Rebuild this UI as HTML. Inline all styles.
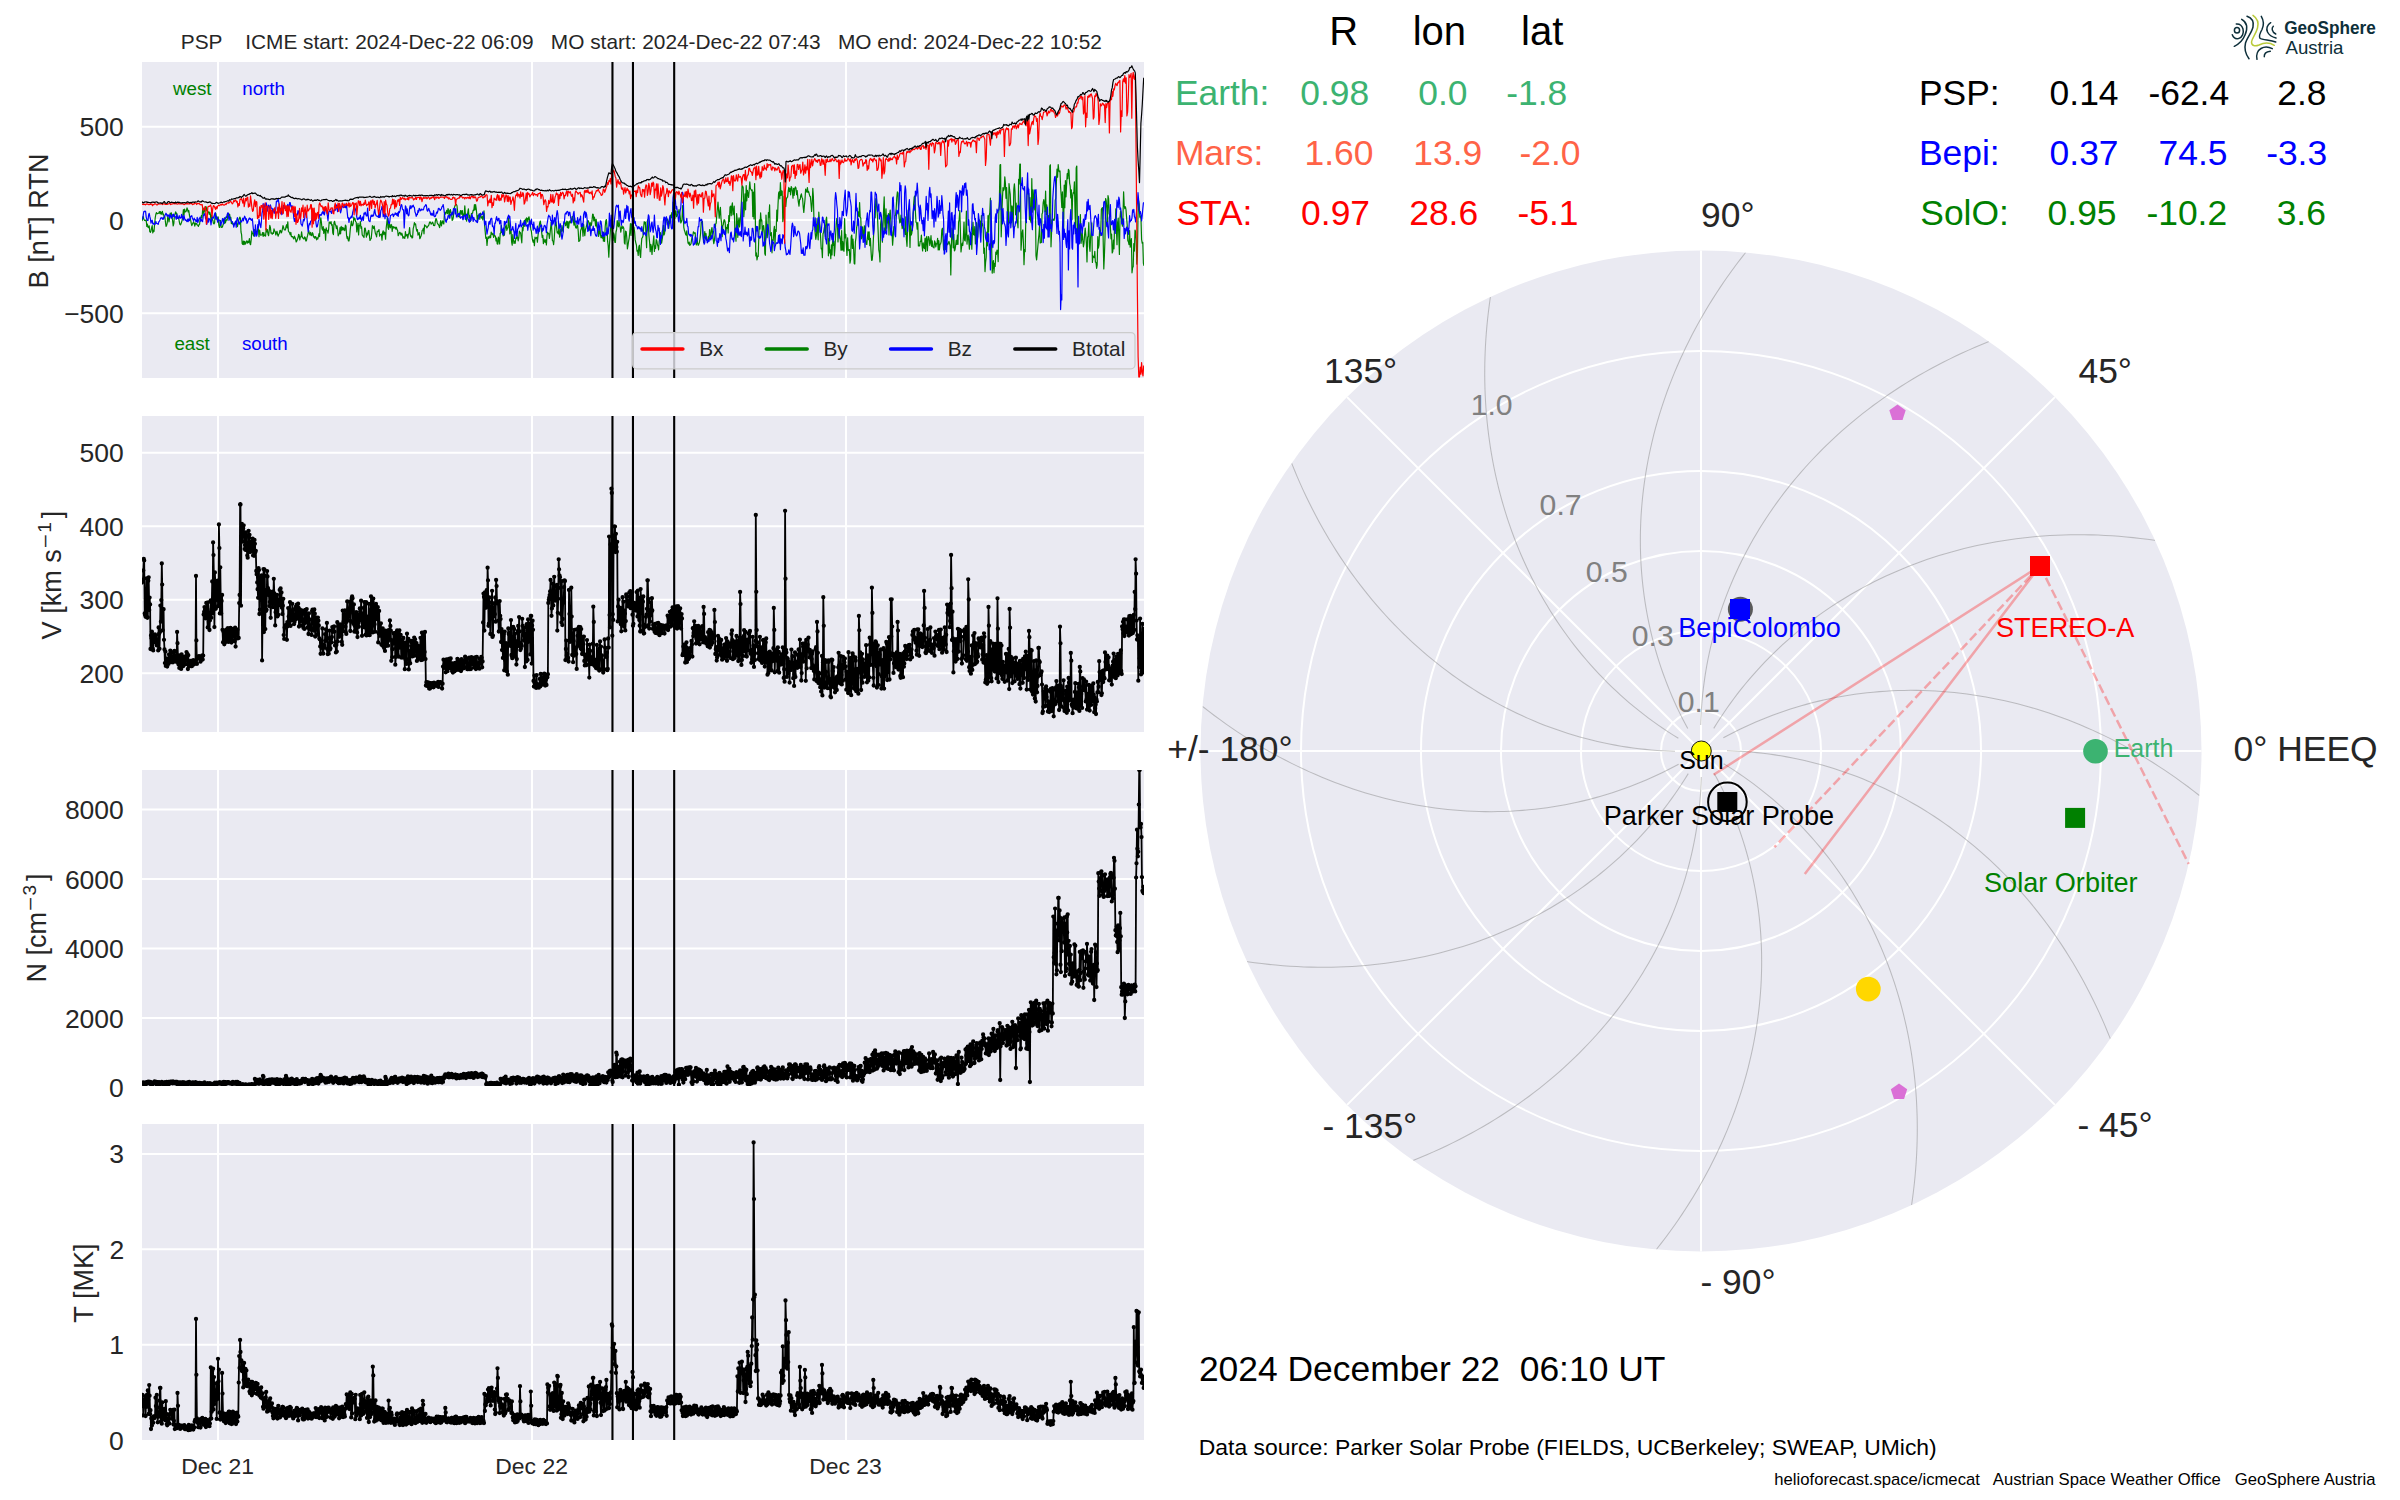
<!DOCTYPE html>
<html><head><meta charset="utf-8"><style>html,body{margin:0;padding:0;background:#fff;overflow:hidden}svg{display:block}text{white-space:pre}</style></head><body>
<svg width="2400" height="1500" viewBox="0 0 2400 1500" font-family='"Liberation Sans", sans-serif'>
<rect x="0" y="0" width="2400" height="1500" fill="#fff"/>
<defs>
<clipPath id="cp0"><rect x="142.0" y="62.0" width="1002.0" height="316.0"/></clipPath>
<clipPath id="cp1"><rect x="142.0" y="416.0" width="1002.0" height="316.0"/></clipPath>
<clipPath id="cp2"><rect x="142.0" y="770.0" width="1002.0" height="316.0"/></clipPath>
<clipPath id="cp3"><rect x="142.0" y="1124.0" width="1002.0" height="316.0"/></clipPath>
<clipPath id="cpolar"><circle cx="1701" cy="751" r="500.5"/></clipPath>
</defs>
<rect x="142.0" y="62.0" width="1002.0" height="316.0" fill="#EAEAF2"/>
<path d="M218.00 62.0V378.0M532.00 62.0V378.0M846.00 62.0V378.0M142.0 126.66H1144.0M142.0 220.00H1144.0M142.0 313.34H1144.0" stroke="#fff" stroke-width="2.00" fill="none"/>
<text x="79.62" y="136.16" font-size="26.50" fill="#262626">500</text>
<text x="109.10" y="229.50" font-size="26.50" fill="#262626">0</text>
<text x="64.15" y="322.84" font-size="26.50" fill="#262626">−500</text>
<rect x="142.0" y="416.0" width="1002.0" height="316.0" fill="#EAEAF2"/>
<path d="M218.00 416.0V732.0M532.00 416.0V732.0M846.00 416.0V732.0M142.0 452.75H1144.0M142.0 526.24H1144.0M142.0 599.73H1144.0M142.0 673.21H1144.0" stroke="#fff" stroke-width="2.00" fill="none"/>
<text x="79.62" y="462.25" font-size="26.50" fill="#262626">500</text>
<text x="79.62" y="535.74" font-size="26.50" fill="#262626">400</text>
<text x="79.62" y="609.23" font-size="26.50" fill="#262626">300</text>
<text x="79.62" y="682.71" font-size="26.50" fill="#262626">200</text>
<rect x="142.0" y="770.0" width="1002.0" height="316.0" fill="#EAEAF2"/>
<path d="M218.00 770.0V1086.0M532.00 770.0V1086.0M846.00 770.0V1086.0M142.0 809.50H1144.0M142.0 879.00H1144.0M142.0 948.50H1144.0M142.0 1018.00H1144.0" stroke="#fff" stroke-width="2.00" fill="none"/>
<text x="64.88" y="819.00" font-size="26.50" fill="#262626">8000</text>
<text x="64.88" y="888.50" font-size="26.50" fill="#262626">6000</text>
<text x="64.88" y="958.00" font-size="26.50" fill="#262626">4000</text>
<text x="64.88" y="1027.50" font-size="26.50" fill="#262626">2000</text>
<text x="109.10" y="1097.00" font-size="26.50" fill="#262626">0</text>
<rect x="142.0" y="1124.0" width="1002.0" height="316.0" fill="#EAEAF2"/>
<path d="M218.00 1124.0V1440.0M532.00 1124.0V1440.0M846.00 1124.0V1440.0M142.0 1153.89H1144.0M142.0 1249.36H1144.0M142.0 1344.83H1144.0" stroke="#fff" stroke-width="2.00" fill="none"/>
<text x="109.23" y="1163.39" font-size="26.50" fill="#262626">3</text>
<text x="109.39" y="1258.86" font-size="26.50" fill="#262626">2</text>
<text x="109.36" y="1354.33" font-size="26.50" fill="#262626">1</text>
<text x="109.10" y="1449.80" font-size="26.50" fill="#262626">0</text>
<text x="181.31" y="1474.30" font-size="22.92" fill="#262626">Dec 21</text>
<text x="495.33" y="1474.30" font-size="22.92" fill="#262626">Dec 22</text>
<text x="809.25" y="1474.30" font-size="22.92" fill="#262626">Dec 23</text>
<text x="180.79" y="48.75" font-size="20.83" fill="#262626">PSP    ICME start: 2024-Dec-22 06:09   MO start: 2024-Dec-22 07:43   MO end: 2024-Dec-22 10:52</text>
<g clip-path="url(#cp0)"><path d="M142.0 221.1L142.6 218.6L143.2 216.3L143.8 219.0L144.4 220.3L145.0 220.4L145.6 220.6L146.2 219.8L146.8 226.4L147.4 224.2L148.0 227.3L148.6 227.6L149.2 225.8L149.8 231.7L150.4 232.3L151.0 230.9L151.6 228.0L152.2 225.6L152.8 232.9L153.4 230.3L154.0 231.5L154.6 224.2L155.2 218.0L155.8 214.5L156.4 212.6L157.0 213.6L157.6 213.7L158.2 213.3L158.8 213.1L159.4 211.5L160.0 213.6L160.6 211.6L161.2 214.3L161.8 212.7L162.4 211.4L163.0 214.7L163.6 214.2L164.2 217.0L164.8 216.6L165.4 221.5L166.0 226.3L166.6 225.4L167.2 223.2L167.8 216.4L168.4 218.2L169.0 221.9L169.6 218.5L170.2 213.0L170.8 214.9L171.4 212.9L172.0 217.1L172.6 220.8L173.2 225.9L173.8 223.6L174.4 215.6L175.0 214.7L175.6 211.8L176.2 213.6L176.8 213.4L177.4 218.3L178.0 217.1L178.6 217.5L179.2 221.1L179.8 224.2L180.4 224.9L181.0 223.9L181.6 222.1L182.2 220.0L182.8 216.1L183.4 209.7L184.0 215.0L184.6 209.0L185.2 212.0L185.8 211.7L186.4 210.7L187.0 207.9L187.6 209.5L188.2 212.0L188.8 210.6L189.4 215.0L190.0 217.5L190.6 219.6L191.2 223.2L191.8 225.6L192.4 224.1L193.0 223.0L193.6 221.9L194.2 223.3L194.8 226.1L195.4 223.1L196.0 224.2L196.6 223.6L197.2 225.0L197.8 225.3L198.4 226.4L199.0 224.7L199.6 224.3L200.2 218.1L200.8 219.5L201.4 215.5L202.0 217.9L202.6 210.6L203.2 208.2L203.8 214.0L204.4 209.1L205.0 211.2L205.6 206.7L206.2 206.9L206.8 211.0L207.4 211.2L208.0 212.3L208.6 211.9L209.2 214.3L209.8 212.1L210.4 214.3L211.0 221.1L211.6 215.2L212.2 219.9L212.8 219.8L213.4 223.1L214.0 223.9L214.6 223.0L215.2 213.3L215.8 213.3L216.4 216.8L217.0 219.8L217.6 218.0L218.2 217.0L218.8 225.1L219.4 227.5L220.0 225.1L220.6 220.4L221.2 227.5L221.8 227.1L222.4 227.2L223.0 224.8L223.6 222.6L224.2 223.6L224.8 217.5L225.4 222.9L226.0 220.8L226.6 219.5L227.2 220.1L227.8 213.1L228.4 215.7L229.0 218.3L229.6 214.1L230.2 218.8L230.8 217.4L231.4 223.6L232.0 221.6L232.6 224.0L233.2 224.3L233.8 224.2L234.4 223.3L235.0 223.6L235.6 222.4L236.2 221.0L236.8 223.6L237.4 226.6L238.0 224.2L238.6 220.7L239.2 218.6L239.8 217.1L240.4 218.3L241.0 232.0L241.6 234.7L242.2 243.6L242.8 244.4L243.4 241.0L244.0 244.7L244.6 241.3L245.2 244.2L245.8 243.5L246.4 241.2L247.0 240.8L247.6 243.2L248.2 241.4L248.8 242.3L249.4 238.5L250.0 243.8L250.6 244.7L251.2 239.8L251.8 231.1L252.4 233.6L253.0 233.3L253.6 236.0L254.2 229.9L254.8 229.7L255.4 230.1L256.0 235.2L256.6 231.4L257.2 231.2L257.8 226.6L258.4 229.1L259.0 236.7L259.6 230.1L260.2 234.2L260.8 235.3L261.4 235.0L262.0 234.9L262.6 232.5L263.2 236.4L263.8 232.6L264.4 235.6L265.0 235.4L265.6 236.0L266.2 228.6L266.8 232.0L267.4 229.5L268.0 234.3L268.6 235.7L269.2 230.9L269.8 225.3L270.4 227.3L271.0 233.1L271.6 232.8L272.2 234.3L272.8 232.9L273.4 233.4L274.0 228.8L274.6 230.9L275.2 231.6L275.8 235.0L276.4 232.6L277.0 231.3L277.6 234.6L278.2 236.2L278.8 234.2L279.4 233.2L280.0 230.3L280.6 230.3L281.2 233.0L281.8 232.0L282.4 229.0L283.0 225.6L283.6 227.5L284.2 229.6L284.8 229.9L285.4 230.0L286.0 226.7L286.6 224.7L287.2 228.0L287.8 221.8L288.4 231.2L289.0 232.0L289.6 232.9L290.2 234.8L290.8 232.3L291.4 236.6L292.0 236.6L292.6 236.5L293.2 237.9L293.8 238.9L294.4 236.2L295.0 237.5L295.6 239.2L296.2 242.0L296.8 241.0L297.4 239.4L298.0 237.8L298.6 234.3L299.2 235.2L299.8 239.8L300.4 236.8L301.0 237.0L301.6 231.8L302.2 236.6L302.8 237.9L303.4 238.6L304.0 239.1L304.6 236.9L305.2 237.4L305.8 241.0L306.4 241.0L307.0 237.6L307.6 235.5L308.2 232.7L308.8 230.6L309.4 233.5L310.0 235.0L310.6 232.4L311.2 235.3L311.8 235.7L312.4 232.7L313.0 233.8L313.6 237.1L314.2 236.7L314.8 238.3L315.4 236.5L316.0 237.1L316.6 239.9L317.2 237.9L317.8 239.0L318.4 236.7L319.0 233.7L319.6 236.7L320.2 223.4L320.8 217.9L321.4 222.3L322.0 228.7L322.6 230.1L323.2 226.6L323.8 233.5L324.4 229.2L325.0 229.5L325.6 240.2L326.2 227.8L326.8 230.5L327.4 230.6L328.0 233.1L328.6 229.5L329.2 222.1L329.8 222.3L330.4 223.5L331.0 221.6L331.6 225.2L332.2 224.6L332.8 233.1L333.4 234.6L334.0 222.5L334.6 221.4L335.2 224.4L335.8 225.3L336.4 228.7L337.0 225.8L337.6 229.8L338.2 235.8L338.8 234.5L339.4 233.6L340.0 227.7L340.6 233.8L341.2 226.4L341.8 230.2L342.4 227.3L343.0 230.0L343.6 227.9L344.2 229.8L344.8 230.5L345.4 225.1L346.0 226.1L346.6 235.6L347.2 238.6L347.8 236.7L348.4 240.9L349.0 241.0L349.6 237.1L350.2 230.1L350.8 225.2L351.4 221.0L352.0 225.4L352.6 225.7L353.2 223.6L353.8 217.2L354.4 219.8L355.0 218.5L355.6 221.6L356.2 222.1L356.8 232.0L357.4 226.8L358.0 223.3L358.6 235.0L359.2 225.4L359.8 225.8L360.4 221.7L361.0 228.3L361.6 226.8L362.2 234.8L362.8 235.7L363.4 236.7L364.0 237.5L364.6 228.4L365.2 228.1L365.8 231.5L366.4 237.1L367.0 233.1L367.6 234.9L368.2 231.2L368.8 230.4L369.4 235.6L370.0 240.5L370.6 239.0L371.2 238.8L371.8 232.2L372.4 225.7L373.0 227.3L373.6 228.5L374.2 226.0L374.8 230.0L375.4 233.5L376.0 234.6L376.6 236.9L377.2 231.2L377.8 231.6L378.4 231.2L379.0 229.5L379.6 236.1L380.2 234.6L380.8 234.4L381.4 234.1L382.0 240.1L382.6 232.4L383.2 230.8L383.8 234.7L384.4 232.2L385.0 233.1L385.6 239.2L386.2 228.0L386.8 222.7L387.4 217.4L388.0 227.6L388.6 229.4L389.2 222.9L389.8 226.8L390.4 227.8L391.0 224.4L391.6 224.9L392.2 231.5L392.8 226.6L393.4 226.6L394.0 228.2L394.6 227.2L395.2 227.2L395.8 229.2L396.4 227.2L397.0 229.4L397.6 230.3L398.2 235.7L398.8 234.4L399.4 232.6L400.0 232.3L400.6 234.0L401.2 235.1L401.8 233.1L402.4 235.1L403.0 238.3L403.6 236.8L404.2 237.2L404.8 238.5L405.4 231.7L406.0 236.1L406.6 234.8L407.2 234.5L407.8 238.1L408.4 234.5L409.0 233.0L409.6 227.6L410.2 234.5L410.8 236.7L411.4 235.8L412.0 238.0L412.6 237.7L413.2 228.7L413.8 226.3L414.4 222.7L415.0 224.6L415.6 224.0L416.2 228.3L416.8 231.2L417.4 229.5L418.0 235.1L418.6 233.9L419.2 232.6L419.8 238.7L420.4 237.6L421.0 236.0L421.6 234.0L422.2 230.3L422.8 230.2L423.4 228.2L424.0 233.8L424.6 224.9L425.2 225.8L425.8 225.9L426.4 226.9L427.0 227.8L427.6 226.7L428.2 226.0L428.8 225.2L429.4 222.9L430.0 221.8L430.6 222.8L431.2 224.2L431.8 223.4L432.4 222.2L433.0 222.8L433.6 225.5L434.2 225.6L434.8 225.3L435.4 220.6L436.0 218.5L436.6 219.7L437.2 222.7L437.8 224.0L438.4 224.5L439.0 225.7L439.6 227.6L440.2 223.3L440.8 220.5L441.4 226.0L442.0 223.1L442.6 220.9L443.2 223.2L443.8 224.0L444.4 214.3L445.0 212.3L445.6 214.1L446.2 212.1L446.8 210.3L447.4 213.7L448.0 208.5L448.6 210.5L449.2 218.0L449.8 210.8L450.4 209.6L451.0 213.1L451.6 214.3L452.2 220.4L452.8 219.7L453.4 216.8L454.0 209.0L454.6 207.0L455.2 205.3L455.8 204.4L456.4 204.4L457.0 205.7L457.6 211.6L458.2 216.6L458.8 216.1L459.4 216.9L460.0 212.1L460.6 210.5L461.2 214.4L461.8 210.8L462.4 210.6L463.0 219.1L463.6 214.2L464.2 214.9L464.8 205.8L465.4 214.2L466.0 218.8L466.6 221.2L467.2 217.1L467.8 212.3L468.4 208.8L469.0 217.9L469.6 215.4L470.2 221.5L470.8 220.2L471.4 213.6L472.0 213.4L472.6 213.2L473.2 210.0L473.8 210.4L474.4 204.7L475.0 209.9L475.6 204.7L476.2 208.6L476.8 214.4L477.4 222.3L478.0 215.6L478.6 215.8L479.2 214.1L479.8 219.3L480.4 213.1L481.0 216.4L481.6 218.1L482.2 216.5L482.8 219.9L483.4 216.0L484.0 210.8L484.6 225.1L485.2 231.6L485.8 238.3L486.4 237.3L487.0 245.5L487.6 239.2L488.2 236.6L488.8 238.3L489.4 237.4L490.0 235.8L490.6 237.8L491.2 232.1L491.8 234.1L492.4 234.6L493.0 233.2L493.6 237.4L494.2 234.8L494.8 235.9L495.4 236.1L496.0 241.0L496.6 238.2L497.2 244.0L497.8 244.1L498.4 237.0L499.0 239.3L499.6 243.9L500.2 233.5L500.8 232.8L501.4 225.7L502.0 232.4L502.6 231.5L503.2 235.9L503.8 235.1L504.4 235.1L505.0 229.1L505.6 226.5L506.2 224.9L506.8 230.3L507.4 228.3L508.0 227.8L508.6 218.3L509.2 223.2L509.8 233.9L510.4 232.4L511.0 229.4L511.6 241.9L512.2 245.2L512.8 234.7L513.4 239.4L514.0 243.4L514.6 241.2L515.2 243.3L515.8 238.2L516.4 238.5L517.0 235.7L517.6 237.7L518.2 240.8L518.8 237.6L519.4 231.2L520.0 232.9L520.6 232.7L521.2 237.8L521.8 242.8L522.4 227.5L523.0 230.8L523.6 223.5L524.2 220.5L524.8 226.4L525.4 219.0L526.0 223.8L526.6 217.8L527.2 218.4L527.8 221.9L528.4 218.2L529.0 216.8L529.6 220.5L530.2 221.0L530.8 229.5L531.4 231.2L532.0 236.7L532.6 240.3L533.2 242.3L533.8 239.9L534.4 245.6L535.0 237.1L535.6 238.6L536.2 238.1L536.8 237.3L537.4 242.2L538.0 235.8L538.6 230.6L539.2 226.1L539.8 222.3L540.4 221.0L541.0 226.7L541.6 231.7L542.2 237.5L542.8 235.3L543.4 243.7L544.0 239.2L544.6 241.4L545.2 242.3L545.8 239.6L546.4 245.0L547.0 235.8L547.6 232.1L548.2 233.6L548.8 233.7L549.4 238.4L550.0 233.8L550.6 228.1L551.2 222.0L551.8 229.7L552.4 240.8L553.0 241.0L553.6 244.6L554.2 238.8L554.8 228.9L555.4 222.2L556.0 221.9L556.6 227.6L557.2 232.8L557.8 231.9L558.4 234.0L559.0 225.8L559.6 237.2L560.2 234.5L560.8 229.1L561.4 231.3L562.0 225.7L562.6 230.4L563.2 231.9L563.8 223.3L564.4 223.1L565.0 222.2L565.6 225.7L566.2 224.0L566.8 221.1L567.4 227.7L568.0 221.6L568.6 228.2L569.2 223.2L569.8 221.0L570.4 222.9L571.0 220.0L571.6 219.3L572.2 216.4L572.8 217.0L573.4 221.4L574.0 225.2L574.6 217.7L575.2 225.3L575.8 227.8L576.4 228.1L577.0 225.3L577.6 225.4L578.2 231.0L578.8 241.5L579.4 240.9L580.0 240.2L580.6 230.8L581.2 229.3L581.8 225.9L582.4 227.1L583.0 236.2L583.6 224.4L584.2 230.0L584.8 235.6L585.4 229.7L586.0 227.9L586.6 225.5L587.2 222.4L587.8 220.4L588.4 221.2L589.0 223.4L589.6 230.2L590.2 222.5L590.8 225.8L591.4 225.2L592.0 220.7L592.6 214.2L593.2 214.4L593.8 220.9L594.4 217.0L595.0 220.2L595.6 225.9L596.2 219.3L596.8 226.5L597.4 228.6L598.0 229.0L598.6 236.4L599.2 233.4L599.8 226.1L600.4 233.8L601.0 237.7L601.6 235.6L602.2 238.1L602.8 231.7L603.4 241.1L604.0 237.7L604.6 241.3L605.2 226.8L605.8 220.8L606.4 219.5L607.0 227.3L607.6 241.2L608.2 245.9L608.8 257.2L609.4 245.8L610.0 236.7L610.6 227.5L611.2 222.6L611.8 222.6L612.4 240.3L613.0 240.4L613.6 232.8L614.2 234.8L614.8 242.3L615.4 242.4L616.0 232.0L616.6 229.5L617.2 220.6L617.8 224.3L618.4 226.8L619.0 220.7L619.6 225.5L620.2 227.2L620.8 232.1L621.4 228.1L622.0 225.8L622.6 228.4L623.2 226.8L623.8 228.4L624.4 242.9L625.0 244.1L625.6 231.1L626.2 231.6L626.8 237.8L627.4 249.0L628.0 245.5L628.6 241.1L629.2 237.8L629.8 232.0L630.4 223.7L631.0 235.5L631.6 223.9L632.2 229.0L632.8 230.3L633.4 231.5L634.0 227.0L634.6 231.8L635.2 239.9L635.8 242.8L636.4 245.0L637.0 251.2L637.6 250.5L638.2 255.4L638.8 247.0L639.4 245.2L640.0 254.2L640.6 257.5L641.2 246.2L641.8 238.4L642.4 237.7L643.0 236.0L643.6 228.1L644.2 221.7L644.8 224.0L645.4 222.2L646.0 235.6L646.6 247.7L647.2 221.6L647.8 219.6L648.4 226.7L649.0 236.2L649.6 242.4L650.2 251.6L650.8 244.3L651.4 246.9L652.0 254.4L652.6 246.5L653.2 242.6L653.8 235.8L654.4 251.5L655.0 245.9L655.6 248.4L656.2 239.5L656.8 240.7L657.4 244.5L658.0 246.2L658.6 249.8L659.2 241.5L659.8 238.4L660.4 232.7L661.0 236.4L661.6 243.2L662.2 239.3L662.8 235.2L663.4 225.3L664.0 235.0L664.6 233.2L665.2 225.4L665.8 224.8L666.4 219.3L667.0 220.3L667.6 219.0L668.2 221.4L668.8 228.3L669.4 220.9L670.0 223.2L670.6 215.0L671.2 217.6L671.8 212.5L672.4 222.1L673.0 202.2L673.6 213.4L674.2 215.4L674.8 218.7L675.4 210.8L676.0 211.2L676.6 216.7L677.2 215.5L677.8 214.4L678.4 212.9L679.0 209.7L679.6 212.9L680.2 216.6L680.8 223.0L681.4 221.8L682.0 220.0L682.6 205.5L683.2 213.2L683.8 227.3L684.4 230.3L685.0 232.0L685.6 234.3L686.2 235.2L686.8 230.9L687.4 237.2L688.0 243.0L688.6 244.0L689.2 242.0L689.8 245.4L690.4 244.8L691.0 243.8L691.6 239.7L692.2 236.6L692.8 235.9L693.4 231.8L694.0 232.4L694.6 233.6L695.2 232.8L695.8 243.1L696.4 245.0L697.0 237.8L697.6 243.2L698.2 245.3L698.8 244.2L699.4 242.6L700.0 238.6L700.6 233.2L701.2 222.3L701.8 222.0L702.4 221.4L703.0 233.9L703.6 242.6L704.2 237.5L704.8 231.5L705.4 238.2L706.0 233.5L706.6 240.3L707.2 240.0L707.8 241.0L708.4 236.4L709.0 239.9L709.6 229.6L710.2 234.3L710.8 237.9L711.4 230.0L712.0 227.5L712.6 233.5L713.2 239.3L713.8 243.7L714.4 240.6L715.0 235.1L715.6 224.0L716.2 223.1L716.8 214.8L717.4 208.3L718.0 202.1L718.6 210.2L719.2 218.2L719.8 212.4L720.4 207.3L721.0 218.6L721.6 222.8L722.2 236.6L722.8 225.9L723.4 224.2L724.0 219.8L724.6 219.9L725.2 222.7L725.8 234.0L726.4 227.6L727.0 228.3L727.6 224.7L728.2 233.0L728.8 215.6L729.4 221.4L730.0 207.1L730.6 206.2L731.2 215.7L731.8 206.2L732.4 202.8L733.0 214.8L733.6 211.5L734.2 206.1L734.8 229.6L735.4 233.2L736.0 241.2L736.6 213.5L737.2 218.7L737.8 237.3L738.4 221.9L739.0 217.9L739.6 227.0L740.2 222.0L740.8 213.2L741.4 202.0L742.0 185.9L742.6 185.9L743.2 187.7L743.8 216.7L744.4 207.9L745.0 193.9L745.6 209.8L746.2 185.5L746.8 200.8L747.4 190.4L748.0 194.1L748.6 197.5L749.2 190.1L749.8 181.8L750.4 188.7L751.0 189.5L751.6 190.6L752.2 189.9L752.8 216.6L753.4 192.1L754.0 218.9L754.6 183.5L755.2 206.6L755.8 256.0L756.4 252.9L757.0 259.9L757.6 256.1L758.2 256.4L758.8 237.6L759.4 219.9L760.0 229.1L760.6 212.9L761.2 220.8L761.8 219.9L762.4 234.8L763.0 226.4L763.6 225.6L764.2 230.7L764.8 253.5L765.4 255.3L766.0 215.1L766.6 227.0L767.2 237.6L767.8 231.9L768.4 212.7L769.0 217.1L769.6 204.9L770.2 234.5L770.8 235.8L771.4 232.6L772.0 252.8L772.6 239.9L773.2 240.5L773.8 230.7L774.4 226.4L775.0 245.3L775.6 229.7L776.2 231.4L776.8 210.0L777.4 221.1L778.0 205.0L778.6 193.1L779.2 191.7L779.8 198.8L780.4 182.7L781.0 195.4L781.6 190.8L782.2 191.2L782.8 221.6L783.4 217.9L784.0 196.4L784.6 206.6L785.2 195.9L785.8 206.5L786.4 198.9L787.0 197.5L787.6 197.1L788.2 191.2L788.8 187.4L789.4 191.3L790.0 188.5L790.6 194.8L791.2 186.5L791.8 187.8L792.4 191.6L793.0 198.1L793.6 188.3L794.2 195.3L794.8 188.5L795.4 186.9L796.0 188.1L796.6 194.7L797.2 190.5L797.8 197.6L798.4 202.5L799.0 206.1L799.6 199.6L800.2 199.5L800.8 195.4L801.4 193.9L802.0 197.5L802.6 198.5L803.2 206.9L803.8 212.5L804.4 205.8L805.0 199.6L805.6 189.0L806.2 191.6L806.8 192.0L807.4 187.6L808.0 192.3L808.6 191.4L809.2 193.8L809.8 196.2L810.4 196.6L811.0 203.8L811.6 211.5L812.2 203.6L812.8 188.4L813.4 196.8L814.0 221.9L814.6 225.9L815.2 233.8L815.8 239.3L816.4 235.4L817.0 218.6L817.6 231.8L818.2 239.8L818.8 212.1L819.4 220.8L820.0 226.7L820.6 237.3L821.2 248.8L821.8 248.3L822.4 257.6L823.0 233.8L823.6 232.4L824.2 228.4L824.8 225.2L825.4 236.8L826.0 220.0L826.6 217.2L827.2 228.0L827.8 235.0L828.4 255.8L829.0 238.6L829.6 253.0L830.2 249.9L830.8 258.6L831.4 244.9L832.0 255.0L832.6 240.5L833.2 245.3L833.8 241.1L834.4 255.8L835.0 247.6L835.6 234.8L836.2 224.2L836.8 218.4L837.4 221.5L838.0 242.0L838.6 228.5L839.2 234.5L839.8 236.1L840.4 239.8L841.0 250.2L841.6 230.6L842.2 250.2L842.8 241.6L843.4 249.6L844.0 251.3L844.6 218.5L845.2 237.9L845.8 234.3L846.4 246.1L847.0 255.5L847.6 237.8L848.2 249.9L848.8 250.6L849.4 249.6L850.0 263.2L850.6 259.6L851.2 236.7L851.8 235.0L852.4 248.4L853.0 239.1L853.6 248.1L854.2 263.6L854.8 264.0L855.4 241.8L856.0 237.6L856.6 227.7L857.2 224.5L857.8 211.4L858.4 212.6L859.0 216.7L859.6 202.6L860.2 217.0L860.8 218.3L861.4 238.8L862.0 237.6L862.6 226.9L863.2 233.3L863.8 239.1L864.4 225.8L865.0 226.9L865.6 240.2L866.2 244.3L866.8 244.5L867.4 237.3L868.0 231.9L868.6 239.6L869.2 231.8L869.8 245.6L870.4 238.4L871.0 250.6L871.6 260.3L872.2 260.2L872.8 253.2L873.4 238.7L874.0 228.9L874.6 216.9L875.2 217.8L875.8 198.8L876.4 198.1L877.0 209.9L877.6 218.6L878.2 232.9L878.8 249.8L879.4 253.1L880.0 262.0L880.6 224.3L881.2 218.6L881.8 223.8L882.4 242.2L883.0 226.4L883.6 209.4L884.2 196.9L884.8 222.5L885.4 231.2L886.0 208.8L886.6 228.2L887.2 215.7L887.8 222.9L888.4 213.7L889.0 235.0L889.6 214.5L890.2 210.0L890.8 220.4L891.4 229.7L892.0 232.3L892.6 245.2L893.2 237.0L893.8 226.6L894.4 226.6L895.0 215.6L895.6 215.2L896.2 208.1L896.8 197.5L897.4 191.9L898.0 193.1L898.6 211.0L899.2 218.5L899.8 222.8L900.4 222.2L901.0 215.0L901.6 222.1L902.2 228.6L902.8 225.6L903.4 227.5L904.0 228.6L904.6 230.3L905.2 234.5L905.8 216.8L906.4 239.3L907.0 246.3L907.6 229.6L908.2 210.1L908.8 216.6L909.4 226.7L910.0 247.4L910.6 223.2L911.2 235.1L911.8 233.2L912.4 228.9L913.0 225.0L913.6 204.9L914.2 197.1L914.8 196.0L915.4 211.7L916.0 222.2L916.6 222.9L917.2 229.2L917.8 222.7L918.4 246.0L919.0 245.8L919.6 246.0L920.2 241.4L920.8 241.5L921.4 235.0L922.0 244.9L922.6 251.0L923.2 242.8L923.8 246.9L924.4 248.6L925.0 238.2L925.6 251.4L926.2 239.0L926.8 236.4L927.4 250.6L928.0 240.5L928.6 236.6L929.2 238.8L929.8 245.5L930.4 242.0L931.0 235.7L931.6 246.3L932.2 240.8L932.8 246.9L933.4 247.1L934.0 247.9L934.6 240.9L935.2 242.4L935.8 246.8L936.4 243.6L937.0 243.9L937.6 238.3L938.2 250.0L938.8 240.6L939.4 249.8L940.0 244.3L940.6 243.9L941.2 241.6L941.8 230.1L942.4 228.2L943.0 238.0L943.6 250.0L944.2 240.2L944.8 242.5L945.4 249.4L946.0 240.0L946.6 245.9L947.2 243.0L947.8 244.5L948.4 243.0L949.0 241.3L949.6 243.7L950.2 246.0L950.8 275.0L951.4 244.7L952.0 228.0L952.6 231.1L953.2 247.8L953.8 234.3L954.4 250.8L955.0 250.0L955.6 245.8L956.2 240.4L956.8 244.3L957.4 235.1L958.0 244.4L958.6 222.1L959.2 219.5L959.8 210.7L960.4 230.9L961.0 252.0L961.6 247.0L962.2 243.2L962.8 245.5L963.4 237.0L964.0 222.0L964.6 240.2L965.2 241.0L965.8 231.3L966.4 211.1L967.0 244.1L967.6 237.4L968.2 235.2L968.8 241.2L969.4 249.1L970.0 236.7L970.6 237.7L971.2 233.7L971.8 249.2L972.4 231.9L973.0 222.3L973.6 234.6L974.2 235.1L974.8 226.5L975.4 244.0L976.0 233.5L976.6 222.7L977.2 239.8L977.8 236.7L978.4 223.9L979.0 219.6L979.6 220.4L980.2 221.8L980.8 232.2L981.4 215.6L982.0 225.6L982.6 223.7L983.2 228.5L983.8 253.3L984.4 248.1L985.0 271.6L985.6 262.1L986.2 257.3L986.8 232.0L987.4 245.8L988.0 215.6L988.6 232.1L989.2 215.6L989.8 212.5L990.4 198.2L991.0 229.1L991.6 244.5L992.2 273.1L992.8 264.7L993.4 260.6L994.0 272.7L994.6 263.3L995.2 266.5L995.8 252.2L996.4 254.4L997.0 250.0L997.6 251.3L998.2 261.6L998.8 214.4L999.4 199.6L1000.0 165.0L1000.6 164.6L1001.2 236.8L1001.8 217.3L1002.4 199.0L1003.0 187.7L1003.6 190.6L1004.2 189.1L1004.8 176.8L1005.4 183.4L1006.0 198.3L1006.6 187.6L1007.2 202.3L1007.8 223.2L1008.4 224.6L1009.0 183.5L1009.6 189.7L1010.2 194.0L1010.8 207.0L1011.4 222.6L1012.0 205.8L1012.6 207.9L1013.2 226.9L1013.8 189.3L1014.4 183.9L1015.0 191.3L1015.6 214.8L1016.2 203.2L1016.8 219.6L1017.4 220.6L1018.0 227.8L1018.6 179.3L1019.2 184.1L1019.8 164.0L1020.4 164.0L1021.0 250.1L1021.6 241.3L1022.2 232.0L1022.8 229.9L1023.4 242.4L1024.0 264.7L1024.6 249.6L1025.2 251.7L1025.8 218.7L1026.4 212.6L1027.0 195.1L1027.6 187.1L1028.2 192.6L1028.8 193.6L1029.4 219.7L1030.0 197.7L1030.6 220.9L1031.2 222.8L1031.8 178.7L1032.4 212.2L1033.0 189.9L1033.6 196.2L1034.2 209.8L1034.8 190.2L1035.4 202.4L1036.0 255.7L1036.6 260.0L1037.2 253.5L1037.8 246.7L1038.4 239.9L1039.0 234.1L1039.6 224.8L1040.2 243.0L1040.8 242.7L1041.4 242.5L1042.0 214.2L1042.6 212.4L1043.2 202.6L1043.8 199.6L1044.4 204.0L1045.0 211.6L1045.6 191.0L1046.2 214.5L1046.8 204.9L1047.4 230.0L1048.0 220.1L1048.6 215.5L1049.2 230.0L1049.8 166.0L1050.4 164.8L1051.0 246.8L1051.6 231.3L1052.2 219.5L1052.8 220.3L1053.4 219.2L1054.0 220.5L1054.6 218.0L1055.2 200.5L1055.8 198.2L1056.4 182.0L1057.0 169.1L1057.6 177.1L1058.2 164.6L1058.8 170.5L1059.4 171.6L1060.0 170.9L1060.6 187.3L1061.2 195.9L1061.8 207.4L1062.4 191.9L1063.0 210.3L1063.6 234.7L1064.2 185.2L1064.8 207.7L1065.4 180.6L1066.0 196.8L1066.6 184.8L1067.2 173.7L1067.8 178.6L1068.4 169.3L1069.0 170.6L1069.6 183.1L1070.2 186.1L1070.8 197.9L1071.4 189.9L1072.0 219.8L1072.6 196.3L1073.2 192.7L1073.8 193.1L1074.4 181.8L1075.0 209.7L1075.6 233.5L1076.2 168.0L1076.8 166.0L1077.4 228.4L1078.0 241.5L1078.6 223.4L1079.2 226.9L1079.8 235.0L1080.4 214.6L1081.0 243.3L1081.6 239.5L1082.2 232.9L1082.8 240.0L1083.4 246.8L1084.0 243.3L1084.6 234.7L1085.2 228.0L1085.8 235.0L1086.4 243.6L1087.0 262.0L1087.6 237.5L1088.2 235.8L1088.8 222.6L1089.4 246.4L1090.0 251.3L1090.6 237.6L1091.2 230.5L1091.8 222.8L1092.4 262.5L1093.0 256.0L1093.6 257.1L1094.2 257.6L1094.8 251.3L1095.4 262.2L1096.0 262.4L1096.6 268.3L1097.2 264.8L1097.8 236.7L1098.4 248.2L1099.0 244.9L1099.6 229.9L1100.2 235.7L1100.8 229.8L1101.4 209.2L1102.0 208.1L1102.6 207.6L1103.2 241.5L1103.8 269.0L1104.4 255.7L1105.0 237.6L1105.6 198.5L1106.2 200.7L1106.8 208.2L1107.4 223.8L1108.0 195.5L1108.6 198.7L1109.2 213.6L1109.8 215.6L1110.4 227.0L1111.0 238.8L1111.6 234.0L1112.2 252.9L1112.8 251.6L1113.4 240.2L1114.0 248.8L1114.6 223.7L1115.2 230.0L1115.8 208.8L1116.4 229.0L1117.0 244.7L1117.6 222.7L1118.2 218.0L1118.8 235.2L1119.4 254.5L1120.0 218.1L1120.6 210.8L1121.2 215.7L1121.8 220.4L1122.4 226.1L1123.0 215.6L1123.6 191.8L1124.2 205.4L1124.8 208.7L1125.4 206.7L1126.0 209.7L1126.6 217.8L1127.2 225.0L1127.8 240.6L1128.4 241.7L1129.0 244.6L1129.6 230.5L1130.2 247.2L1130.8 242.7L1131.4 238.7L1132.0 272.8L1132.6 267.6L1133.2 266.7L1133.8 243.6L1134.4 251.1L1135.0 230.0L1135.6 231.9L1136.2 240.2L1136.8 264.1L1137.4 256.0L1138.0 216.8L1138.6 200.6L1139.2 204.1L1139.8 217.2L1140.4 216.0L1141.0 219.2L1141.6 239.5L1142.2 243.2L1142.8 242.4L1143.4 263.2L1144.0 265.8" fill="none" stroke="#008000" stroke-width="1.20" stroke-linejoin="round"/><path d="M142.0 218.5L142.6 218.9L143.2 215.4L143.8 211.5L144.4 211.7L145.0 211.0L145.6 211.4L146.2 217.1L146.8 219.2L147.4 220.4L148.0 220.5L148.6 214.9L149.2 213.3L149.8 216.4L150.4 218.8L151.0 223.1L151.6 220.8L152.2 220.2L152.8 224.0L153.4 223.3L154.0 224.3L154.6 224.4L155.2 224.2L155.8 221.3L156.4 223.4L157.0 223.3L157.6 223.9L158.2 224.3L158.8 221.9L159.4 221.1L160.0 219.9L160.6 218.4L161.2 217.6L161.8 218.1L162.4 219.3L163.0 217.6L163.6 219.2L164.2 217.1L164.8 215.8L165.4 214.8L166.0 213.2L166.6 214.6L167.2 216.2L167.8 214.8L168.4 216.0L169.0 215.1L169.6 218.1L170.2 214.7L170.8 215.4L171.4 218.1L172.0 217.8L172.6 214.7L173.2 216.4L173.8 214.0L174.4 216.7L175.0 216.4L175.6 216.9L176.2 219.4L176.8 214.3L177.4 218.1L178.0 217.6L178.6 218.8L179.2 215.6L179.8 217.6L180.4 218.1L181.0 217.3L181.6 214.4L182.2 218.1L182.8 216.7L183.4 220.2L184.0 215.4L184.6 218.3L185.2 220.4L185.8 219.7L186.4 220.7L187.0 221.7L187.6 219.2L188.2 221.7L188.8 218.9L189.4 220.6L190.0 219.2L190.6 216.3L191.2 216.3L191.8 215.6L192.4 218.5L193.0 219.3L193.6 221.1L194.2 218.1L194.8 219.6L195.4 219.6L196.0 221.8L196.6 221.6L197.2 217.3L197.8 222.6L198.4 220.9L199.0 218.9L199.6 218.1L200.2 217.2L200.8 221.3L201.4 219.5L202.0 220.4L202.6 221.7L203.2 216.3L203.8 214.3L204.4 215.1L205.0 213.3L205.6 218.7L206.2 219.8L206.8 224.5L207.4 221.5L208.0 218.1L208.6 222.1L209.2 218.7L209.8 219.5L210.4 220.0L211.0 224.9L211.6 219.9L212.2 217.4L212.8 217.1L213.4 218.2L214.0 216.1L214.6 214.3L215.2 212.6L215.8 219.2L216.4 217.0L217.0 216.8L217.6 222.2L218.2 220.1L218.8 219.7L219.4 220.0L220.0 221.2L220.6 225.4L221.2 223.3L221.8 222.1L222.4 218.8L223.0 218.4L223.6 224.0L224.2 219.3L224.8 218.8L225.4 218.9L226.0 216.8L226.6 217.5L227.2 214.4L227.8 213.0L228.4 213.1L229.0 220.5L229.6 216.7L230.2 218.9L230.8 219.8L231.4 221.2L232.0 221.6L232.6 222.6L233.2 223.9L233.8 227.2L234.4 224.7L235.0 222.8L235.6 221.1L236.2 227.3L236.8 219.7L237.4 217.6L238.0 220.1L238.6 223.0L239.2 224.3L239.8 221.9L240.4 221.5L241.0 221.0L241.6 222.0L242.2 219.7L242.8 218.1L243.4 220.9L244.0 218.3L244.6 216.2L245.2 217.3L245.8 220.1L246.4 218.7L247.0 223.3L247.6 222.2L248.2 220.5L248.8 219.1L249.4 218.0L250.0 219.3L250.6 218.4L251.2 220.2L251.8 220.4L252.4 218.8L253.0 225.7L253.6 231.1L254.2 233.1L254.8 236.5L255.4 224.9L256.0 232.0L256.6 236.1L257.2 234.2L257.8 224.7L258.4 228.0L259.0 219.3L259.6 222.3L260.2 225.4L260.8 227.7L261.4 221.7L262.0 213.3L262.6 210.9L263.2 203.5L263.8 213.8L264.4 206.7L265.0 203.8L265.6 206.6L266.2 202.8L266.8 205.4L267.4 211.1L268.0 207.3L268.6 205.2L269.2 206.6L269.8 209.5L270.4 204.9L271.0 207.2L271.6 208.3L272.2 208.4L272.8 213.4L273.4 210.8L274.0 208.7L274.6 213.2L275.2 210.7L275.8 208.9L276.4 201.1L277.0 201.7L277.6 200.9L278.2 198.9L278.8 202.4L279.4 207.1L280.0 212.4L280.6 208.7L281.2 210.1L281.8 214.7L282.4 210.5L283.0 213.2L283.6 205.4L284.2 208.3L284.8 207.4L285.4 206.8L286.0 207.8L286.6 207.1L287.2 206.3L287.8 204.3L288.4 209.5L289.0 207.6L289.6 202.7L290.2 202.6L290.8 206.1L291.4 207.4L292.0 205.6L292.6 208.7L293.2 210.7L293.8 217.9L294.4 221.5L295.0 218.3L295.6 221.6L296.2 218.5L296.8 214.4L297.4 214.8L298.0 210.6L298.6 211.7L299.2 214.6L299.8 216.7L300.4 216.1L301.0 224.0L301.6 224.5L302.2 226.1L302.8 223.2L303.4 219.4L304.0 221.0L304.6 219.3L305.2 213.7L305.8 212.6L306.4 214.2L307.0 218.5L307.6 226.1L308.2 231.7L308.8 225.7L309.4 223.3L310.0 224.8L310.6 221.3L311.2 220.9L311.8 219.5L312.4 214.0L313.0 216.2L313.6 219.0L314.2 217.4L314.8 217.8L315.4 216.5L316.0 223.1L316.6 227.0L317.2 226.8L317.8 224.5L318.4 220.8L319.0 219.9L319.6 214.5L320.2 215.5L320.8 214.5L321.4 215.1L322.0 212.7L322.6 211.7L323.2 213.9L323.8 211.5L324.4 214.9L325.0 211.2L325.6 209.1L326.2 208.7L326.8 212.2L327.4 215.8L328.0 220.8L328.6 213.2L329.2 210.7L329.8 211.4L330.4 211.3L331.0 212.3L331.6 213.4L332.2 209.2L332.8 210.6L333.4 211.3L334.0 210.9L334.6 209.7L335.2 210.3L335.8 208.7L336.4 204.9L337.0 208.1L337.6 211.7L338.2 209.4L338.8 204.2L339.4 206.1L340.0 210.2L340.6 212.9L341.2 210.3L341.8 207.1L342.4 207.1L343.0 205.2L343.6 207.7L344.2 207.3L344.8 203.8L345.4 207.7L346.0 207.7L346.6 205.2L347.2 212.1L347.8 217.9L348.4 217.7L349.0 222.5L349.6 218.1L350.2 218.5L350.8 217.3L351.4 216.1L352.0 217.7L352.6 212.7L353.2 210.6L353.8 207.3L354.4 208.3L355.0 207.8L355.6 210.0L356.2 213.0L356.8 217.2L357.4 219.7L358.0 218.2L358.6 219.1L359.2 217.3L359.8 218.7L360.4 215.4L361.0 219.6L361.6 221.1L362.2 217.8L362.8 216.9L363.4 220.4L364.0 213.0L364.6 214.1L365.2 212.2L365.8 214.2L366.4 216.0L367.0 216.0L367.6 208.1L368.2 215.5L368.8 220.7L369.4 221.3L370.0 221.7L370.6 217.4L371.2 215.1L371.8 216.4L372.4 215.1L373.0 216.3L373.6 215.3L374.2 211.5L374.8 209.4L375.4 213.8L376.0 215.5L376.6 216.1L377.2 216.1L377.8 216.7L378.4 217.4L379.0 211.9L379.6 217.5L380.2 217.0L380.8 210.5L381.4 209.6L382.0 206.4L382.6 207.8L383.2 216.6L383.8 215.9L384.4 213.8L385.0 218.8L385.6 213.5L386.2 216.1L386.8 216.7L387.4 216.9L388.0 218.4L388.6 223.0L389.2 223.6L389.8 221.5L390.4 215.6L391.0 215.3L391.6 214.8L392.2 214.6L392.8 213.8L393.4 216.6L394.0 214.7L394.6 214.9L395.2 212.8L395.8 214.3L396.4 213.4L397.0 215.5L397.6 212.8L398.2 216.5L398.8 211.3L399.4 212.6L400.0 210.9L400.6 207.1L401.2 204.6L401.8 205.0L402.4 208.9L403.0 210.0L403.6 209.9L404.2 228.0L404.8 217.0L405.4 205.9L406.0 207.0L406.6 213.8L407.2 208.8L407.8 214.2L408.4 215.9L409.0 215.2L409.6 208.1L410.2 205.7L410.8 208.7L411.4 207.4L412.0 205.8L412.6 206.9L413.2 205.1L413.8 206.9L414.4 207.5L415.0 212.1L415.6 213.5L416.2 216.4L416.8 214.2L417.4 214.6L418.0 210.4L418.6 212.1L419.2 208.4L419.8 208.9L420.4 210.8L421.0 210.4L421.6 209.0L422.2 209.5L422.8 209.9L423.4 209.9L424.0 207.6L424.6 206.2L425.2 205.9L425.8 204.5L426.4 205.4L427.0 210.1L427.6 211.2L428.2 209.6L428.8 208.3L429.4 210.6L430.0 211.6L430.6 214.4L431.2 215.2L431.8 213.2L432.4 215.1L433.0 215.2L433.6 210.5L434.2 216.5L434.8 216.7L435.4 216.2L436.0 214.4L436.6 212.1L437.2 213.2L437.8 211.3L438.4 208.4L439.0 208.4L439.6 209.3L440.2 210.4L440.8 209.7L441.4 208.7L442.0 206.8L442.6 206.3L443.2 204.5L443.8 208.5L444.4 213.3L445.0 218.0L445.6 221.1L446.2 222.3L446.8 219.2L447.4 219.7L448.0 215.8L448.6 215.6L449.2 216.4L449.8 218.2L450.4 214.4L451.0 215.2L451.6 213.5L452.2 212.0L452.8 214.8L453.4 208.9L454.0 208.6L454.6 208.8L455.2 214.0L455.8 208.7L456.4 217.0L457.0 217.0L457.6 214.8L458.2 213.6L458.8 214.9L459.4 213.4L460.0 217.2L460.6 218.2L461.2 217.1L461.8 216.8L462.4 216.7L463.0 219.8L463.6 215.8L464.2 215.8L464.8 215.1L465.4 219.4L466.0 215.9L466.6 214.1L467.2 214.4L467.8 218.6L468.4 219.5L469.0 221.7L469.6 222.2L470.2 217.9L470.8 220.7L471.4 216.9L472.0 214.2L472.6 217.8L473.2 221.3L473.8 217.4L474.4 219.7L475.0 220.0L475.6 220.2L476.2 221.9L476.8 221.0L477.4 222.6L478.0 219.3L478.6 218.7L479.2 213.8L479.8 217.0L480.4 215.6L481.0 214.0L481.6 214.0L482.2 214.8L482.8 211.9L483.4 212.8L484.0 213.9L484.6 224.9L485.2 223.7L485.8 221.1L486.4 228.5L487.0 234.2L487.6 230.7L488.2 227.9L488.8 222.5L489.4 221.4L490.0 224.3L490.6 219.2L491.2 218.2L491.8 218.5L492.4 226.3L493.0 225.9L493.6 228.3L494.2 234.3L494.8 223.1L495.4 223.1L496.0 219.2L496.6 216.6L497.2 220.0L497.8 220.9L498.4 218.3L499.0 218.3L499.6 223.8L500.2 221.4L500.8 220.4L501.4 230.7L502.0 229.5L502.6 234.3L503.2 228.1L503.8 235.0L504.4 221.3L505.0 225.0L505.6 222.9L506.2 221.3L506.8 222.8L507.4 218.5L508.0 216.6L508.6 215.1L509.2 218.1L509.8 216.2L510.4 224.0L511.0 230.5L511.6 230.3L512.2 229.0L512.8 226.5L513.4 230.0L514.0 232.0L514.6 238.4L515.2 231.0L515.8 223.3L516.4 235.1L517.0 236.2L517.6 229.2L518.2 228.3L518.8 224.8L519.4 226.9L520.0 225.1L520.6 220.0L521.2 227.0L521.8 226.1L522.4 224.8L523.0 223.0L523.6 223.1L524.2 225.1L524.8 220.5L525.4 223.0L526.0 225.7L526.6 226.1L527.2 224.6L527.8 230.3L528.4 225.5L529.0 223.5L529.6 220.8L530.2 227.0L530.8 223.6L531.4 219.0L532.0 224.3L532.6 224.6L533.2 230.1L533.8 222.2L534.4 228.6L535.0 228.2L535.6 229.8L536.2 233.3L536.8 229.2L537.4 226.1L538.0 233.3L538.6 228.8L539.2 231.7L539.8 227.1L540.4 226.6L541.0 224.9L541.6 225.2L542.2 231.7L542.8 228.7L543.4 230.2L544.0 226.1L544.6 225.3L545.2 226.0L545.8 228.2L546.4 232.6L547.0 224.5L547.6 220.9L548.2 217.0L548.8 215.1L549.4 216.7L550.0 216.6L550.6 220.3L551.2 220.8L551.8 225.8L552.4 215.0L553.0 224.1L553.6 222.2L554.2 220.0L554.8 217.5L555.4 225.1L556.0 220.1L556.6 214.3L557.2 210.7L557.8 213.7L558.4 221.1L559.0 228.4L559.6 227.4L560.2 223.6L560.8 225.9L561.4 235.7L562.0 239.2L562.6 235.6L563.2 231.6L563.8 221.9L564.4 222.5L565.0 214.4L565.6 213.0L566.2 214.0L566.8 212.0L567.4 211.4L568.0 211.9L568.6 215.6L569.2 212.7L569.8 212.1L570.4 216.2L571.0 219.3L571.6 222.9L572.2 220.5L572.8 219.3L573.4 213.7L574.0 211.4L574.6 218.7L575.2 222.0L575.8 221.9L576.4 221.1L577.0 224.4L577.6 217.6L578.2 223.0L578.8 224.1L579.4 219.0L580.0 219.8L580.6 216.0L581.2 226.7L581.8 226.2L582.4 223.3L583.0 226.3L583.6 214.8L584.2 212.5L584.8 211.4L585.4 217.4L586.0 212.3L586.6 214.3L587.2 220.6L587.8 231.5L588.4 230.4L589.0 226.8L589.6 225.4L590.2 228.5L590.8 235.6L591.4 230.6L592.0 229.0L592.6 230.4L593.2 226.1L593.8 230.4L594.4 228.6L595.0 233.2L595.6 235.2L596.2 236.1L596.8 236.2L597.4 231.9L598.0 222.1L598.6 225.9L599.2 230.4L599.8 227.0L600.4 220.8L601.0 221.4L601.6 225.6L602.2 235.7L602.8 236.5L603.4 232.4L604.0 236.3L604.6 235.4L605.2 232.6L605.8 234.7L606.4 235.3L607.0 227.8L607.6 234.3L608.2 233.6L608.8 227.5L609.4 213.2L610.0 225.5L610.6 227.2L611.2 215.0L611.8 227.9L612.4 224.1L613.0 228.6L613.6 228.5L614.2 223.8L614.8 217.2L615.4 211.8L616.0 206.6L616.6 205.2L617.2 206.1L617.8 207.1L618.4 205.2L619.0 220.8L619.6 212.3L620.2 211.1L620.8 220.0L621.4 225.1L622.0 220.2L622.6 221.3L623.2 222.5L623.8 219.6L624.4 214.5L625.0 208.8L625.6 218.4L626.2 213.1L626.8 205.4L627.4 212.2L628.0 206.7L628.6 218.8L629.2 221.2L629.8 213.9L630.4 211.1L631.0 208.5L631.6 217.2L632.2 217.0L632.8 236.7L633.4 222.8L634.0 217.6L634.6 223.1L635.2 221.4L635.8 225.4L636.4 225.7L637.0 226.3L637.6 228.9L638.2 227.5L638.8 226.6L639.4 228.8L640.0 227.7L640.6 228.8L641.2 231.4L641.8 226.5L642.4 230.1L643.0 231.9L643.6 234.6L644.2 233.7L644.8 232.5L645.4 234.4L646.0 235.7L646.6 232.1L647.2 230.5L647.8 220.8L648.4 214.8L649.0 216.2L649.6 224.9L650.2 231.8L650.8 230.0L651.4 223.7L652.0 222.0L652.6 228.4L653.2 232.3L653.8 225.7L654.4 215.0L655.0 225.5L655.6 229.8L656.2 231.6L656.8 237.8L657.4 237.6L658.0 225.3L658.6 230.7L659.2 228.1L659.8 238.9L660.4 244.4L661.0 235.5L661.6 238.1L662.2 231.4L662.8 229.3L663.4 220.6L664.0 217.0L664.6 217.2L665.2 230.9L665.8 218.2L666.4 216.7L667.0 219.3L667.6 223.9L668.2 228.5L668.8 224.5L669.4 218.9L670.0 215.7L670.6 220.9L671.2 227.3L671.8 229.0L672.4 228.3L673.0 198.1L673.6 193.7L674.2 197.0L674.8 196.2L675.4 200.1L676.0 209.0L676.6 206.4L677.2 210.4L677.8 213.0L678.4 220.5L679.0 222.0L679.6 214.4L680.2 210.5L680.8 207.2L681.4 197.0L682.0 192.3L682.6 192.4L683.2 194.8L683.8 217.7L684.4 222.1L685.0 223.7L685.6 221.7L686.2 222.4L686.8 218.4L687.4 225.9L688.0 226.9L688.6 233.7L689.2 235.1L689.8 234.5L690.4 236.2L691.0 234.3L691.6 236.0L692.2 235.3L692.8 240.9L693.4 245.2L694.0 244.0L694.6 244.1L695.2 236.9L695.8 242.8L696.4 241.2L697.0 240.8L697.6 232.3L698.2 226.6L698.8 226.6L699.4 217.7L700.0 221.1L700.6 220.7L701.2 219.3L701.8 219.6L702.4 225.8L703.0 235.2L703.6 240.2L704.2 244.2L704.8 242.7L705.4 236.0L706.0 238.9L706.6 237.0L707.2 242.8L707.8 242.1L708.4 239.7L709.0 241.4L709.6 237.5L710.2 238.5L710.8 240.0L711.4 235.5L712.0 238.7L712.6 235.8L713.2 233.3L713.8 230.4L714.4 224.1L715.0 227.0L715.6 228.4L716.2 240.7L716.8 241.5L717.4 246.3L718.0 238.0L718.6 242.4L719.2 239.3L719.8 233.7L720.4 235.7L721.0 240.6L721.6 226.4L722.2 233.8L722.8 233.0L723.4 229.4L724.0 233.6L724.6 234.6L725.2 230.2L725.8 238.4L726.4 241.2L727.0 246.1L727.6 250.8L728.2 248.1L728.8 249.3L729.4 252.6L730.0 240.4L730.6 233.3L731.2 232.0L731.8 237.9L732.4 239.7L733.0 238.0L733.6 241.9L734.2 237.7L734.8 231.7L735.4 228.1L736.0 229.3L736.6 232.4L737.2 225.0L737.8 234.1L738.4 228.8L739.0 235.4L739.6 234.5L740.2 231.5L740.8 235.6L741.4 236.5L742.0 202.0L742.6 215.2L743.2 240.9L743.8 233.4L744.4 234.5L745.0 227.2L745.6 234.4L746.2 234.5L746.8 232.0L747.4 236.0L748.0 234.2L748.6 228.7L749.2 236.2L749.8 246.5L750.4 236.8L751.0 240.3L751.6 239.5L752.2 228.3L752.8 228.3L753.4 232.1L754.0 241.1L754.6 241.9L755.2 238.8L755.8 235.4L756.4 226.4L757.0 230.8L757.6 226.7L758.2 237.1L758.8 236.4L759.4 238.4L760.0 236.3L760.6 237.9L761.2 234.6L761.8 231.7L762.4 233.0L763.0 246.1L763.6 245.5L764.2 241.9L764.8 245.1L765.4 241.1L766.0 237.4L766.6 229.4L767.2 228.0L767.8 224.3L768.4 228.2L769.0 235.4L769.6 243.3L770.2 246.7L770.8 251.5L771.4 248.8L772.0 240.7L772.6 243.4L773.2 241.9L773.8 243.3L774.4 250.6L775.0 246.8L775.6 244.8L776.2 243.3L776.8 242.7L777.4 243.4L778.0 242.1L778.6 235.4L779.2 243.2L779.8 234.6L780.4 249.6L781.0 238.9L781.6 239.7L782.2 243.7L782.8 234.6L783.4 235.4L784.0 237.8L784.6 239.7L785.2 247.5L785.8 250.3L786.4 254.8L787.0 253.8L787.6 254.3L788.2 252.9L788.8 249.8L789.4 252.6L790.0 254.5L790.6 246.9L791.2 237.5L791.8 226.8L792.4 223.2L793.0 225.5L793.6 236.6L794.2 233.9L794.8 226.3L795.4 232.1L796.0 235.0L796.6 235.9L797.2 234.8L797.8 231.4L798.4 231.1L799.0 231.9L799.6 233.8L800.2 239.0L800.8 244.1L801.4 253.5L802.0 250.0L802.6 253.4L803.2 247.8L803.8 255.2L804.4 255.2L805.0 255.2L805.6 247.2L806.2 246.3L806.8 248.8L807.4 247.0L808.0 236.6L808.6 233.2L809.2 245.6L809.8 248.6L810.4 240.9L811.0 232.7L811.6 238.9L812.2 231.1L812.8 229.8L813.4 217.5L814.0 225.6L814.6 226.3L815.2 217.8L815.8 231.6L816.4 224.4L817.0 224.5L817.6 224.1L818.2 217.8L818.8 217.3L819.4 223.9L820.0 232.2L820.6 230.5L821.2 232.4L821.8 225.1L822.4 217.1L823.0 217.5L823.6 222.7L824.2 220.4L824.8 229.8L825.4 238.7L826.0 240.1L826.6 244.0L827.2 226.8L827.8 223.8L828.4 225.2L829.0 223.9L829.6 241.0L830.2 234.0L830.8 230.8L831.4 235.4L832.0 239.7L832.6 233.3L833.2 242.0L833.8 234.3L834.4 229.8L835.0 200.4L835.6 192.6L836.2 196.3L836.8 204.5L837.4 209.8L838.0 227.2L838.6 224.6L839.2 238.1L839.8 217.5L840.4 221.4L841.0 228.9L841.6 223.6L842.2 211.3L842.8 212.7L843.4 215.7L844.0 202.3L844.6 196.2L845.2 190.1L845.8 208.0L846.4 215.8L847.0 212.2L847.6 206.4L848.2 191.3L848.8 197.0L849.4 192.2L850.0 198.9L850.6 202.0L851.2 206.6L851.8 230.2L852.4 231.3L853.0 229.1L853.6 221.2L854.2 233.1L854.8 224.3L855.4 211.7L856.0 193.4L856.6 210.8L857.2 208.0L857.8 225.2L858.4 218.8L859.0 229.8L859.6 248.9L860.2 241.4L860.8 226.4L861.4 226.9L862.0 235.7L862.6 234.4L863.2 242.4L863.8 241.0L864.4 234.4L865.0 247.3L865.6 228.2L866.2 221.2L866.8 218.2L867.4 212.8L868.0 225.0L868.6 227.0L869.2 216.3L869.8 210.4L870.4 211.7L871.0 192.1L871.6 192.0L872.2 204.5L872.8 225.9L873.4 234.7L874.0 229.2L874.6 207.2L875.2 192.1L875.8 194.1L876.4 194.0L877.0 204.8L877.6 211.6L878.2 208.1L878.8 204.0L879.4 219.0L880.0 216.7L880.6 212.3L881.2 214.8L881.8 220.4L882.4 240.6L883.0 231.2L883.6 237.2L884.2 227.8L884.8 233.8L885.4 232.5L886.0 231.4L886.6 234.2L887.2 217.4L887.8 220.1L888.4 214.6L889.0 216.5L889.6 221.1L890.2 225.7L890.8 234.9L891.4 235.5L892.0 223.8L892.6 198.0L893.2 197.0L893.8 208.9L894.4 221.9L895.0 234.9L895.6 236.8L896.2 218.8L896.8 210.0L897.4 210.9L898.0 214.0L898.6 210.0L899.2 201.7L899.8 182.7L900.4 190.6L901.0 185.6L901.6 208.0L902.2 225.4L902.8 218.3L903.4 221.4L904.0 236.8L904.6 193.3L905.2 185.8L905.8 189.9L906.4 208.5L907.0 224.2L907.6 231.4L908.2 214.6L908.8 205.6L909.4 199.7L910.0 216.0L910.6 225.1L911.2 222.2L911.8 221.6L912.4 230.4L913.0 213.0L913.6 207.8L914.2 205.0L914.8 210.2L915.4 191.0L916.0 196.2L916.6 193.2L917.2 183.0L917.8 191.4L918.4 205.4L919.0 208.1L919.6 220.8L920.2 205.1L920.8 210.1L921.4 217.7L922.0 223.6L922.6 220.3L923.2 230.7L923.8 217.7L924.4 235.8L925.0 223.0L925.6 211.9L926.2 196.4L926.8 209.8L927.4 203.4L928.0 220.5L928.6 207.4L929.2 192.0L929.8 187.3L930.4 197.1L931.0 193.9L931.6 205.4L932.2 218.6L932.8 210.9L933.4 211.1L934.0 227.1L934.6 208.7L935.2 215.0L935.8 221.1L936.4 211.9L937.0 196.4L937.6 204.0L938.2 217.2L938.8 214.7L939.4 200.3L940.0 213.3L940.6 205.9L941.2 210.5L941.8 195.5L942.4 203.2L943.0 214.3L943.6 219.4L944.2 254.1L944.8 253.2L945.4 236.4L946.0 233.5L946.6 251.9L947.2 238.7L947.8 223.5L948.4 211.0L949.0 232.2L949.6 202.9L950.2 236.5L950.8 237.2L951.4 213.1L952.0 212.5L952.6 222.1L953.2 239.2L953.8 221.8L954.4 215.1L955.0 229.3L955.6 200.4L956.2 192.6L956.8 207.3L957.4 195.1L958.0 198.2L958.6 210.7L959.2 201.1L959.8 190.3L960.4 192.5L961.0 191.2L961.6 211.8L962.2 188.8L962.8 185.5L963.4 195.1L964.0 191.5L964.6 183.6L965.2 187.3L965.8 182.8L966.4 195.2L967.0 190.1L967.6 197.8L968.2 225.2L968.8 219.7L969.4 231.4L970.0 232.4L970.6 244.6L971.2 231.1L971.8 226.0L972.4 204.5L973.0 203.7L973.6 213.7L974.2 211.3L974.8 220.0L975.4 218.5L976.0 226.0L976.6 254.4L977.2 245.6L977.8 232.6L978.4 213.6L979.0 218.6L979.6 226.5L980.2 233.9L980.8 242.1L981.4 226.4L982.0 218.5L982.6 208.4L983.2 215.3L983.8 213.6L984.4 226.9L985.0 229.6L985.6 238.4L986.2 240.1L986.8 241.6L987.4 233.0L988.0 241.7L988.6 233.6L989.2 249.7L989.8 244.2L990.4 270.0L991.0 200.6L991.6 231.2L992.2 243.8L992.8 247.6L993.4 240.7L994.0 243.7L994.6 241.8L995.2 217.9L995.8 213.9L996.4 222.5L997.0 209.0L997.6 212.9L998.2 210.3L998.8 210.0L999.4 206.0L1000.0 193.4L1000.6 195.3L1001.2 209.7L1001.8 209.4L1002.4 223.9L1003.0 208.4L1003.6 220.1L1004.2 223.4L1004.8 224.5L1005.4 227.0L1006.0 245.4L1006.6 234.5L1007.2 211.5L1007.8 232.8L1008.4 236.9L1009.0 222.7L1009.6 222.8L1010.2 211.9L1010.8 227.8L1011.4 220.6L1012.0 212.4L1012.6 219.5L1013.2 223.0L1013.8 237.7L1014.4 227.1L1015.0 226.0L1015.6 221.9L1016.2 222.9L1016.8 213.4L1017.4 206.8L1018.0 205.3L1018.6 205.8L1019.2 211.9L1019.8 208.5L1020.4 192.1L1021.0 183.5L1021.6 185.5L1022.2 177.6L1022.8 189.0L1023.4 188.6L1024.0 190.2L1024.6 186.5L1025.2 206.7L1025.8 219.7L1026.4 222.7L1027.0 187.4L1027.6 172.8L1028.2 194.1L1028.8 189.2L1029.4 208.7L1030.0 215.9L1030.6 213.7L1031.2 207.0L1031.8 223.1L1032.4 229.7L1033.0 213.2L1033.6 199.3L1034.2 207.8L1034.8 190.1L1035.4 193.0L1036.0 189.7L1036.6 199.4L1037.2 212.7L1037.8 216.8L1038.4 224.8L1039.0 205.2L1039.6 225.8L1040.2 218.5L1040.8 219.5L1041.4 226.6L1042.0 231.8L1042.6 229.7L1043.2 242.6L1043.8 224.4L1044.4 238.2L1045.0 210.9L1045.6 226.7L1046.2 228.2L1046.8 228.8L1047.4 207.0L1048.0 237.1L1048.6 218.1L1049.2 236.9L1049.8 213.8L1050.4 228.5L1051.0 224.6L1051.6 231.4L1052.2 222.8L1052.8 198.2L1053.4 189.3L1054.0 182.2L1054.6 177.2L1055.2 176.3L1055.8 187.0L1056.4 222.7L1057.0 233.5L1057.6 214.3L1058.2 221.9L1058.8 234.4L1059.4 231.4L1060.0 242.9L1060.6 309.6L1061.2 295.0L1061.8 300.0L1062.4 231.2L1063.0 212.0L1063.6 239.5L1064.2 229.1L1064.8 237.2L1065.4 233.3L1066.0 243.5L1066.6 247.5L1067.2 232.3L1067.8 219.7L1068.4 270.0L1069.0 230.9L1069.6 249.0L1070.2 218.0L1070.8 209.5L1071.4 220.5L1072.0 247.7L1072.6 249.3L1073.2 225.2L1073.8 233.9L1074.4 222.7L1075.0 225.4L1075.6 229.5L1076.2 242.9L1076.8 228.3L1077.4 238.6L1078.0 287.0L1078.6 216.4L1079.2 244.0L1079.8 242.2L1080.4 225.5L1081.0 223.5L1081.6 227.7L1082.2 233.3L1082.8 227.5L1083.4 219.1L1084.0 226.1L1084.6 221.3L1085.2 214.6L1085.8 219.4L1086.4 215.0L1087.0 201.9L1087.6 210.8L1088.2 199.3L1088.8 209.1L1089.4 209.4L1090.0 205.3L1090.6 215.7L1091.2 226.0L1091.8 235.1L1092.4 234.6L1093.0 235.6L1093.6 226.5L1094.2 219.1L1094.8 216.3L1095.4 215.6L1096.0 217.2L1096.6 218.4L1097.2 226.6L1097.8 220.8L1098.4 214.3L1099.0 229.2L1099.6 227.6L1100.2 233.3L1100.8 232.4L1101.4 235.3L1102.0 235.2L1102.6 229.9L1103.2 214.3L1103.8 202.4L1104.4 201.3L1105.0 202.6L1105.6 217.0L1106.2 221.3L1106.8 226.7L1107.4 222.5L1108.0 231.1L1108.6 237.9L1109.2 218.2L1109.8 215.4L1110.4 204.5L1111.0 224.2L1111.6 224.7L1112.2 221.5L1112.8 220.7L1113.4 230.0L1114.0 222.8L1114.6 219.3L1115.2 233.4L1115.8 221.1L1116.4 214.8L1117.0 200.1L1117.6 204.6L1118.2 207.6L1118.8 197.2L1119.4 199.4L1120.0 209.3L1120.6 208.0L1121.2 212.3L1121.8 224.0L1122.4 223.9L1123.0 224.1L1123.6 218.9L1124.2 238.4L1124.8 228.5L1125.4 234.0L1126.0 229.1L1126.6 227.0L1127.2 231.0L1127.8 228.0L1128.4 234.3L1129.0 226.9L1129.6 215.6L1130.2 221.8L1130.8 220.3L1131.4 220.5L1132.0 217.6L1132.6 209.9L1133.2 212.2L1133.8 209.3L1134.4 216.6L1135.0 218.0L1135.6 222.0L1136.2 215.5L1136.8 208.5L1137.4 203.1L1138.0 192.7L1138.6 199.6L1139.2 209.5L1139.8 213.5L1140.4 211.5L1141.0 215.3L1141.6 221.0L1142.2 215.6L1142.8 208.9L1143.4 202.9L1144.0 202.5" fill="none" stroke="#0000FF" stroke-width="1.20" stroke-linejoin="round"/><path d="M142.0 204.5L142.7 204.2L143.4 204.3L144.1 204.6L144.8 204.2L145.5 204.9L146.2 204.1L146.9 203.9L147.6 204.2L148.3 204.3L149.0 204.8L149.7 204.3L150.4 204.2L151.1 204.3L151.8 203.9L152.5 205.7L153.2 204.7L153.9 204.7L154.6 203.8L155.3 203.8L156.0 204.1L156.7 205.0L157.4 204.8L158.1 204.2L158.8 203.8L159.5 203.8L160.2 204.1L160.9 203.7L161.6 203.7L162.3 204.5L163.0 204.0L163.7 203.8L164.4 203.8L165.1 204.3L165.8 204.4L166.5 204.4L167.2 204.4L167.9 204.0L168.6 203.8L169.3 203.6L170.0 203.5L170.7 204.6L171.4 204.2L172.1 203.9L172.8 203.8L173.5 203.7L174.2 203.5L174.9 204.0L175.6 203.6L176.3 204.0L177.0 204.0L177.7 204.1L178.4 203.5L179.1 203.9L179.8 203.8L180.5 203.9L181.2 203.9L181.9 203.6L182.6 203.9L183.3 204.0L184.0 204.7L184.7 204.2L185.4 203.9L186.1 203.7L186.8 203.8L187.5 203.6L188.2 203.9L188.9 203.9L189.6 203.9L190.3 203.7L191.0 203.2L191.7 203.5L192.4 204.7L193.1 204.0L193.8 204.3L194.5 203.3L195.2 203.2L195.9 203.1L196.6 204.5L197.3 203.7L198.0 203.1L198.7 203.7L199.4 203.6L200.1 204.7L200.8 204.6L201.5 205.0L202.2 204.6L202.9 209.8L203.6 210.1L204.3 209.4L205.0 206.6L205.7 209.7L206.4 224.1L207.1 219.4L207.8 207.2L208.5 206.3L209.2 206.5L209.9 206.0L210.6 205.0L211.3 207.4L212.0 216.8L212.7 208.8L213.4 205.6L214.1 206.0L214.8 207.6L215.5 209.4L216.2 206.7L216.9 208.9L217.6 206.6L218.3 205.2L219.0 205.2L219.7 205.7L220.4 204.9L221.1 204.1L221.8 205.2L222.5 204.0L223.2 204.6L223.9 205.2L224.6 205.0L225.3 204.0L226.0 204.7L226.7 203.2L227.4 203.0L228.1 202.7L228.8 203.2L229.5 202.2L230.2 201.6L230.9 201.6L231.6 202.7L232.3 203.9L233.0 203.1L233.7 200.7L234.4 201.6L235.1 200.2L235.8 200.0L236.5 202.2L237.2 201.5L237.9 206.9L238.6 203.7L239.3 205.5L240.0 199.1L240.7 199.3L241.4 198.7L242.1 200.4L242.8 203.1L243.5 198.0L244.2 206.6L244.9 202.9L245.6 198.3L246.3 200.8L247.0 197.7L247.7 197.1L248.4 207.2L249.1 204.0L249.8 206.4L250.5 195.8L251.2 201.1L251.9 207.8L252.6 211.5L253.3 210.4L254.0 203.5L254.7 199.9L255.4 206.7L256.1 201.5L256.8 202.0L257.5 218.7L258.2 215.8L258.9 217.8L259.6 206.9L260.3 216.0L261.0 205.7L261.7 205.5L262.4 207.8L263.1 204.7L263.8 219.1L264.5 212.2L265.2 202.9L265.9 230.0L266.6 206.1L267.3 206.2L268.0 206.8L268.7 219.5L269.4 212.6L270.1 206.2L270.8 217.9L271.5 210.2L272.2 218.6L272.9 212.2L273.6 209.6L274.3 209.9L275.0 207.3L275.7 218.3L276.4 211.9L277.1 212.9L277.8 207.0L278.5 218.5L279.2 203.9L279.9 207.9L280.6 213.9L281.3 209.9L282.0 201.6L282.7 213.9L283.4 212.7L284.1 202.5L284.8 205.2L285.5 210.6L286.2 205.7L286.9 216.6L287.6 206.1L288.3 216.3L289.0 205.6L289.7 209.6L290.4 211.8L291.1 212.2L291.8 207.0L292.5 206.6L293.2 212.9L293.9 206.2L294.6 216.7L295.3 206.9L296.0 224.3L296.7 214.0L297.4 222.5L298.1 221.7L298.8 218.6L299.5 208.4L300.2 218.8L300.9 216.4L301.6 207.9L302.3 211.3L303.0 205.2L303.7 217.6L304.4 211.2L305.1 207.0L305.8 212.6L306.5 217.4L307.2 205.2L307.9 210.9L308.6 210.6L309.3 208.8L310.0 208.8L310.7 204.5L311.4 204.8L312.1 227.2L312.8 208.0L313.5 223.8L314.2 208.1L314.9 220.6L315.6 213.0L316.3 219.2L317.0 213.3L317.7 212.3L318.4 218.3L319.1 204.6L319.8 202.8L320.5 205.1L321.2 206.7L321.9 205.8L322.6 207.5L323.3 210.6L324.0 206.9L324.7 211.3L325.4 206.6L326.1 207.1L326.8 212.4L327.5 214.1L328.2 202.8L328.9 208.9L329.6 210.7L330.3 210.1L331.0 207.9L331.7 208.2L332.4 207.9L333.1 213.3L333.8 213.8L334.5 206.4L335.2 203.0L335.9 208.9L336.6 206.8L337.3 207.7L338.0 203.1L338.7 211.4L339.4 203.4L340.1 205.3L340.8 209.2L341.5 206.8L342.2 203.1L342.9 203.6L343.6 207.2L344.3 204.5L345.0 205.2L345.7 205.1L346.4 203.2L347.1 205.3L347.8 205.8L348.5 202.9L349.2 207.1L349.9 203.0L350.6 206.3L351.3 205.5L352.0 204.3L352.7 202.6L353.4 203.1L354.1 214.8L354.8 203.4L355.5 204.3L356.2 202.9L356.9 214.9L357.6 206.7L358.3 200.9L359.0 201.1L359.7 205.4L360.4 201.3L361.1 205.8L361.8 204.4L362.5 204.4L363.2 205.3L363.9 202.8L364.6 204.4L365.3 200.1L366.0 203.7L366.7 205.7L367.4 204.7L368.1 204.5L368.8 201.8L369.5 210.4L370.2 202.1L370.9 200.7L371.6 208.4L372.3 200.0L373.0 200.2L373.7 204.5L374.4 201.3L375.1 207.8L375.8 204.9L376.5 203.6L377.2 200.4L377.9 208.8L378.6 214.4L379.3 210.2L380.0 203.6L380.7 200.0L381.4 201.3L382.1 203.3L382.8 206.4L383.5 213.2L384.2 201.5L384.9 214.8L385.6 200.2L386.3 203.9L387.0 205.2L387.7 212.4L388.4 216.2L389.1 214.7L389.8 208.7L390.5 208.1L391.2 204.3L391.9 204.7L392.6 199.0L393.3 204.0L394.0 199.6L394.7 208.7L395.4 200.5L396.1 207.0L396.8 205.0L397.5 200.0L398.2 201.2L398.9 199.3L399.6 205.5L400.3 197.3L401.0 199.3L401.7 199.1L402.4 197.5L403.1 198.2L403.8 199.0L404.5 198.2L405.2 200.0L405.9 198.8L406.6 199.0L407.3 199.4L408.0 197.4L408.7 199.8L409.4 197.2L410.1 197.6L410.8 197.8L411.5 197.9L412.2 197.1L412.9 198.3L413.6 200.0L414.3 198.8L415.0 199.1L415.7 197.2L416.4 199.5L417.1 197.4L417.8 197.5L418.5 197.3L419.2 197.0L419.9 199.6L420.6 196.9L421.3 197.7L422.0 201.7L422.7 198.7L423.4 197.4L424.1 198.4L424.8 197.6L425.5 198.2L426.2 197.3L426.9 198.8L427.6 198.0L428.3 197.1L429.0 197.8L429.7 199.1L430.4 197.8L431.1 198.4L431.8 197.2L432.5 196.8L433.2 197.8L433.9 196.9L434.6 199.7L435.3 197.7L436.0 196.8L436.7 198.1L437.4 197.7L438.1 197.0L438.8 198.5L439.5 197.8L440.2 197.3L440.9 197.2L441.6 197.2L442.3 197.1L443.0 197.2L443.7 197.2L444.4 198.4L445.1 197.1L445.8 196.7L446.5 196.9L447.2 197.8L447.9 197.2L448.6 199.0L449.3 197.9L450.0 199.0L450.7 199.4L451.4 199.5L452.1 199.3L452.8 197.3L453.5 197.2L454.2 198.5L454.9 197.7L455.6 205.4L456.3 199.3L457.0 198.9L457.7 198.4L458.4 198.0L459.1 198.3L459.8 196.3L460.5 197.0L461.2 196.5L461.9 196.8L462.6 198.0L463.3 197.5L464.0 197.4L464.7 199.0L465.4 197.6L466.1 197.6L466.8 198.5L467.5 197.3L468.2 197.3L468.9 198.5L469.6 196.7L470.3 198.8L471.0 197.1L471.7 196.1L472.4 196.1L473.1 198.0L473.8 196.4L474.5 197.8L475.2 197.0L475.9 197.8L476.6 201.2L477.3 200.8L478.0 197.8L478.7 197.4L479.4 197.2L480.1 197.1L480.8 196.2L481.5 195.8L482.2 196.8L482.9 197.8L483.6 197.7L484.3 196.0L485.0 197.0L485.7 195.0L486.4 194.7L487.1 195.2L487.8 205.9L488.5 200.8L489.2 202.7L489.9 199.0L490.6 202.7L491.3 195.3L492.0 207.7L492.7 202.9L493.4 205.5L494.1 198.0L494.8 199.4L495.5 199.1L496.2 200.4L496.9 196.3L497.6 194.5L498.3 200.1L499.0 195.7L499.7 200.6L500.4 198.4L501.1 200.2L501.8 194.6L502.5 197.1L503.2 194.7L503.9 195.4L504.6 201.9L505.3 197.9L506.0 194.9L506.7 196.0L507.4 201.3L508.1 195.5L508.8 201.6L509.5 197.2L510.2 197.0L510.9 204.4L511.6 201.3L512.3 200.0L513.0 196.9L513.7 201.4L514.4 210.3L515.1 199.0L515.8 195.1L516.5 195.4L517.2 192.7L517.9 196.9L518.6 194.1L519.3 194.7L520.0 198.1L520.7 191.8L521.4 196.3L522.1 196.3L522.8 192.5L523.5 194.0L524.2 204.1L524.9 202.7L525.6 197.9L526.3 193.0L527.0 200.9L527.7 192.4L528.4 194.3L529.1 193.6L529.8 197.0L530.5 195.4L531.2 194.8L531.9 194.1L532.6 192.2L533.3 195.7L534.0 193.9L534.7 193.7L535.4 194.9L536.1 194.5L536.8 194.5L537.5 196.3L538.2 193.5L538.9 193.7L539.6 193.3L540.3 192.3L541.0 198.6L541.7 194.3L542.4 194.6L543.1 197.2L543.8 204.7L544.5 201.3L545.2 199.7L545.9 201.5L546.6 211.4L547.3 206.7L548.0 207.0L548.7 200.4L549.4 203.6L550.1 201.9L550.8 194.3L551.5 201.7L552.2 202.2L552.9 194.6L553.6 203.1L554.3 202.3L555.0 197.5L555.7 195.4L556.4 192.9L557.1 194.4L557.8 194.0L558.5 205.5L559.2 194.7L559.9 198.6L560.6 192.3L561.3 195.7L562.0 193.4L562.7 192.2L563.4 193.5L564.1 199.0L564.8 195.4L565.5 195.6L566.2 192.2L566.9 191.1L567.6 196.1L568.3 191.2L569.0 192.0L569.7 192.8L570.4 191.7L571.1 195.1L571.8 196.4L572.5 194.2L573.2 202.9L573.9 197.8L574.6 200.9L575.3 192.3L576.0 190.8L576.7 192.2L577.4 192.6L578.1 194.2L578.8 193.1L579.5 192.7L580.2 192.3L580.9 196.8L581.6 194.7L582.3 195.9L583.0 199.0L583.7 202.1L584.4 191.2L585.1 190.4L585.8 192.6L586.5 190.4L587.2 192.4L587.9 189.7L588.6 192.6L589.3 193.5L590.0 192.0L590.7 192.9L591.4 193.9L592.1 190.8L592.8 199.5L593.5 196.8L594.2 197.2L594.9 194.0L595.6 192.9L596.3 190.6L597.0 191.1L597.7 190.2L598.4 189.3L599.1 191.6L599.8 192.7L600.5 193.0L601.2 195.4L601.9 195.2L602.6 194.2L603.3 189.0L604.0 189.5L604.7 192.4L605.4 190.5L606.1 187.9L606.8 186.2L607.5 182.6L608.2 184.5L608.9 180.6L609.6 181.6L610.3 178.5L611.0 183.9L611.7 173.8L612.4 170.7L613.1 172.0L613.8 170.2L614.5 172.6L615.2 176.4L615.9 177.9L616.6 187.2L617.3 182.5L618.0 179.6L618.7 183.4L619.4 184.2L620.1 181.6L620.8 183.7L621.5 188.7L622.2 189.3L622.9 187.7L623.6 194.1L624.3 190.4L625.0 187.7L625.7 192.8L626.4 190.6L627.1 188.2L627.8 190.5L628.5 189.8L629.2 193.9L629.9 191.1L630.6 198.7L631.3 195.0L632.0 195.8L632.7 193.5L633.4 190.4L634.1 191.5L634.8 191.4L635.5 191.0L636.2 196.7L636.9 190.3L637.6 192.6L638.3 185.8L639.0 187.7L639.7 187.6L640.4 193.4L641.1 195.8L641.8 196.7L642.5 189.4L643.2 191.2L643.9 189.5L644.6 197.1L645.3 188.2L646.0 184.9L646.7 185.3L647.4 195.4L648.1 192.0L648.8 183.3L649.5 186.7L650.2 194.6L650.9 191.0L651.6 183.1L652.3 186.4L653.0 182.0L653.7 183.3L654.4 197.9L655.1 189.2L655.8 190.0L656.5 183.9L657.2 198.3L657.9 183.8L658.6 192.8L659.3 200.1L660.0 200.1L660.7 187.8L661.4 196.2L662.1 192.9L662.8 185.6L663.5 188.0L664.2 196.8L664.9 204.9L665.6 194.6L666.3 193.5L667.0 188.4L667.7 190.9L668.4 196.6L669.1 190.7L669.8 191.9L670.5 193.1L671.2 191.9L671.9 190.2L672.6 189.7L673.3 189.8L674.0 191.8L674.7 192.4L675.4 198.8L676.1 192.5L676.8 191.7L677.5 192.6L678.2 194.6L678.9 191.1L679.6 193.5L680.3 195.1L681.0 197.4L681.7 192.7L682.4 202.8L683.1 199.0L683.8 195.3L684.5 196.3L685.2 191.8L685.9 197.0L686.6 191.7L687.3 197.8L688.0 189.1L688.7 192.8L689.4 196.9L690.1 193.1L690.8 195.5L691.5 200.6L692.2 200.2L692.9 195.2L693.6 208.2L694.3 190.9L695.0 196.9L695.7 190.0L696.4 198.6L697.1 204.9L697.8 194.5L698.5 203.1L699.2 194.3L699.9 194.4L700.6 196.6L701.3 196.9L702.0 193.1L702.7 192.7L703.4 212.2L704.1 198.3L704.8 198.1L705.5 191.2L706.2 191.6L706.9 196.3L707.6 201.2L708.3 206.0L709.0 196.0L709.7 209.9L710.4 203.7L711.1 201.9L711.8 190.3L712.5 196.7L713.2 194.5L713.9 193.9L714.6 200.4L715.3 216.8L716.0 185.9L716.7 185.0L717.4 184.7L718.1 182.1L718.8 187.0L719.5 182.2L720.2 188.8L720.9 186.0L721.6 182.8L722.3 180.5L723.0 179.6L723.7 179.1L724.4 183.3L725.1 181.9L725.8 177.9L726.5 181.7L727.2 181.4L727.9 177.5L728.6 183.2L729.3 181.3L730.0 185.4L730.7 182.0L731.4 175.9L732.1 176.2L732.8 190.7L733.5 175.6L734.2 179.8L734.9 181.1L735.6 180.7L736.3 174.8L737.0 178.8L737.7 181.1L738.4 174.3L739.1 177.2L739.8 177.1L740.5 176.4L741.2 178.3L741.9 185.1L742.6 176.8L743.3 174.7L744.0 174.7L744.7 179.8L745.4 170.3L746.1 180.9L746.8 178.1L747.5 175.2L748.2 175.0L748.9 168.4L749.6 168.3L750.3 171.2L751.0 171.7L751.7 172.5L752.4 175.5L753.1 171.2L753.8 168.1L754.5 168.1L755.2 166.9L755.9 179.6L756.6 166.0L757.3 175.1L758.0 174.8L758.7 166.3L759.4 174.8L760.1 178.4L760.8 172.2L761.5 176.9L762.2 166.5L762.9 169.9L763.6 170.3L764.3 165.2L765.0 169.0L765.7 168.1L766.4 170.1L767.1 163.7L767.8 167.3L768.5 164.6L769.2 164.6L769.9 165.2L770.6 164.4L771.3 169.6L772.0 170.2L772.7 166.9L773.4 168.0L774.1 167.7L774.8 170.9L775.5 168.0L776.2 169.1L776.9 170.2L777.6 168.9L778.3 166.9L779.0 167.8L779.7 172.5L780.4 170.9L781.1 172.8L781.8 179.3L782.5 173.1L783.2 170.4L783.9 172.7L784.6 243.2L785.3 191.5L786.0 181.4L786.7 173.8L787.4 177.8L788.1 165.0L788.8 172.4L789.5 181.1L790.2 177.3L790.9 176.9L791.6 166.3L792.3 165.8L793.0 165.2L793.7 173.5L794.4 164.8L795.1 178.4L795.8 171.1L796.5 175.1L797.2 164.5L797.9 164.3L798.6 169.5L799.3 166.3L800.0 164.6L800.7 173.2L801.4 171.3L802.1 169.6L802.8 162.0L803.5 175.0L804.2 172.1L804.9 164.9L805.6 173.1L806.3 166.9L807.0 170.0L807.7 159.4L808.4 170.5L809.1 182.4L809.8 159.7L810.5 167.7L811.2 163.8L811.9 159.2L812.6 166.0L813.3 161.8L814.0 160.3L814.7 158.6L815.4 159.7L816.1 161.7L816.8 160.4L817.5 162.4L818.2 159.6L818.9 160.7L819.6 159.7L820.3 165.4L821.0 165.1L821.7 158.7L822.4 160.1L823.1 164.5L823.8 159.9L824.5 164.4L825.2 175.3L825.9 159.7L826.6 162.5L827.3 158.8L828.0 161.7L828.7 161.5L829.4 161.6L830.1 159.2L830.8 161.7L831.5 160.3L832.2 158.6L832.9 159.9L833.6 160.8L834.3 160.9L835.0 159.1L835.7 158.9L836.4 161.1L837.1 161.8L837.8 161.0L838.5 159.9L839.2 178.5L839.9 160.0L840.6 164.1L841.3 162.4L842.0 159.9L842.7 162.2L843.4 162.7L844.1 161.5L844.8 158.7L845.5 161.1L846.2 160.6L846.9 160.9L847.6 158.9L848.3 158.6L849.0 159.4L849.7 161.1L850.4 158.9L851.1 164.9L851.8 161.0L852.5 159.3L853.2 161.8L853.9 162.6L854.6 159.3L855.3 160.5L856.0 158.4L856.7 158.8L857.4 161.2L858.1 168.5L858.8 167.9L859.5 161.1L860.2 160.1L860.9 159.5L861.6 159.3L862.3 160.4L863.0 166.1L863.7 164.2L864.4 162.6L865.1 163.3L865.8 159.6L866.5 160.2L867.2 170.5L867.9 165.9L868.6 169.0L869.3 161.1L870.0 158.9L870.7 158.5L871.4 160.4L872.1 159.2L872.8 162.0L873.5 159.5L874.2 158.1L874.9 159.5L875.6 160.7L876.3 159.9L877.0 170.5L877.7 169.9L878.4 167.3L879.1 157.8L879.8 158.5L880.5 160.8L881.2 159.9L881.9 178.3L882.6 170.5L883.3 157.5L884.0 174.0L884.7 171.7L885.4 159.8L886.1 158.4L886.8 159.4L887.5 159.7L888.2 161.5L888.9 158.2L889.6 160.8L890.3 157.9L891.0 159.8L891.7 158.8L892.4 159.6L893.1 157.5L893.8 157.0L894.5 156.0L895.2 158.1L895.9 157.7L896.6 163.9L897.3 155.0L898.0 159.5L898.7 157.4L899.4 155.7L900.1 153.5L900.8 153.1L901.5 153.4L902.2 154.2L902.9 152.2L903.6 151.9L904.3 166.9L905.0 162.0L905.7 161.7L906.4 153.5L907.1 151.1L907.8 152.6L908.5 151.8L909.2 151.2L909.9 152.7L910.6 150.6L911.3 151.2L912.0 150.3L912.7 149.3L913.4 149.4L914.1 149.7L914.8 149.3L915.5 148.1L916.2 147.7L916.9 148.7L917.6 149.1L918.3 147.1L919.0 148.0L919.7 146.5L920.4 149.5L921.1 149.3L921.8 146.4L922.5 145.9L923.2 145.4L923.9 148.5L924.6 147.1L925.3 146.3L926.0 149.4L926.7 145.7L927.4 145.0L928.1 145.3L928.8 169.3L929.5 145.3L930.2 143.6L930.9 143.9L931.6 146.1L932.3 142.7L933.0 143.6L933.7 143.6L934.4 152.9L935.1 149.3L935.8 142.3L936.5 142.8L937.2 143.4L937.9 143.9L938.6 142.3L939.3 143.9L940.0 142.3L940.7 155.5L941.4 143.4L942.1 141.9L942.8 140.6L943.5 142.7L944.2 141.4L944.9 151.3L945.6 166.8L946.3 165.9L947.0 165.0L947.7 140.4L948.4 146.2L949.1 139.8L949.8 139.9L950.5 139.5L951.2 138.5L951.9 142.2L952.6 139.2L953.3 139.6L954.0 141.1L954.7 139.0L955.4 144.3L956.1 142.9L956.8 140.5L957.5 140.0L958.2 139.4L958.9 156.5L959.6 151.9L960.3 152.5L961.0 144.5L961.7 141.5L962.4 141.9L963.1 140.5L963.8 142.1L964.5 143.7L965.2 143.9L965.9 142.8L966.6 141.4L967.3 146.2L968.0 142.4L968.7 142.4L969.4 143.0L970.1 142.6L970.8 147.2L971.5 142.1L972.2 141.7L972.9 140.1L973.6 140.2L974.3 141.7L975.0 141.0L975.7 141.8L976.4 152.7L977.1 138.2L977.8 137.9L978.5 138.7L979.2 140.5L979.9 138.2L980.6 137.7L981.3 137.7L982.0 136.3L982.7 136.7L983.4 135.9L984.1 137.4L984.8 139.2L985.5 165.4L986.2 158.8L986.9 135.1L987.6 134.8L988.3 134.3L989.0 134.3L989.7 139.5L990.4 145.1L991.1 135.7L991.8 135.3L992.5 133.9L993.2 134.6L993.9 132.7L994.6 133.3L995.3 135.1L996.0 132.3L996.7 137.8L997.4 131.7L998.1 134.4L998.8 132.3L999.5 130.1L1000.2 134.0L1000.9 129.6L1001.6 129.8L1002.3 129.6L1003.0 128.8L1003.7 129.1L1004.4 156.5L1005.1 133.7L1005.8 129.4L1006.5 127.9L1007.2 129.6L1007.9 128.3L1008.6 129.1L1009.3 145.7L1010.0 145.1L1010.7 142.8L1011.4 128.8L1012.1 129.4L1012.8 126.1L1013.5 126.0L1014.2 128.1L1014.9 125.4L1015.6 125.4L1016.3 128.8L1017.0 127.0L1017.7 124.8L1018.4 127.8L1019.1 124.5L1019.8 123.2L1020.5 124.2L1021.2 124.2L1021.9 124.6L1022.6 122.2L1023.3 122.1L1024.0 120.5L1024.7 123.3L1025.4 122.7L1026.1 125.9L1026.8 120.3L1027.5 120.5L1028.2 145.6L1028.9 119.7L1029.6 133.9L1030.3 130.1L1031.0 126.2L1031.7 123.1L1032.4 121.4L1033.1 124.6L1033.8 118.3L1034.5 115.6L1035.2 116.3L1035.9 116.9L1036.6 121.4L1037.3 118.7L1038.0 144.4L1038.7 138.1L1039.4 116.5L1040.1 113.1L1040.8 116.3L1041.5 116.6L1042.2 119.7L1042.9 116.0L1043.6 112.0L1044.3 112.0L1045.0 111.8L1045.7 110.9L1046.4 111.9L1047.1 115.8L1047.8 113.5L1048.5 111.1L1049.2 113.0L1049.9 112.1L1050.6 109.4L1051.3 109.4L1052.0 111.7L1052.7 110.7L1053.4 110.9L1054.1 112.7L1054.8 113.2L1055.5 117.5L1056.2 115.7L1056.9 114.9L1057.6 116.0L1058.3 111.8L1059.0 113.8L1059.7 112.4L1060.4 109.0L1061.1 106.7L1061.8 105.8L1062.5 107.0L1063.2 106.9L1063.9 105.2L1064.6 104.8L1065.3 105.5L1066.0 109.2L1066.7 107.2L1067.4 107.9L1068.1 110.1L1068.8 112.3L1069.5 111.5L1070.2 112.9L1070.9 112.7L1071.6 128.7L1072.3 127.0L1073.0 111.7L1073.7 112.0L1074.4 109.4L1075.1 106.9L1075.8 107.0L1076.5 106.8L1077.2 102.9L1077.9 103.2L1078.6 99.1L1079.3 98.2L1080.0 98.7L1080.7 96.2L1081.4 96.4L1082.1 99.7L1082.8 97.0L1083.5 114.0L1084.2 111.8L1084.9 95.6L1085.6 126.8L1086.3 113.2L1087.0 117.5L1087.7 96.3L1088.4 97.4L1089.1 95.0L1089.8 97.0L1090.5 94.4L1091.2 93.9L1091.9 96.2L1092.6 98.5L1093.3 119.1L1094.0 117.3L1094.7 95.8L1095.4 96.7L1096.1 93.4L1096.8 95.6L1097.5 96.8L1098.2 101.1L1098.9 124.5L1099.6 118.8L1100.3 103.8L1101.0 106.0L1101.7 105.4L1102.4 103.2L1103.1 103.5L1103.8 105.2L1104.5 104.9L1105.2 122.6L1105.9 103.5L1106.6 107.7L1107.3 103.7L1108.0 103.3L1108.7 102.2L1109.4 132.9L1110.1 101.3L1110.8 98.2L1111.5 99.7L1112.2 91.6L1112.9 96.3L1113.6 88.9L1114.3 89.9L1115.0 85.7L1115.7 83.3L1116.4 84.8L1117.1 85.6L1117.8 82.6L1118.5 82.7L1119.2 80.9L1119.9 80.5L1120.6 132.0L1121.3 110.9L1122.0 116.4L1122.7 81.7L1123.4 78.8L1124.1 81.9L1124.8 75.5L1125.5 83.2L1126.2 77.9L1126.9 116.0L1127.6 112.2L1128.3 97.3L1129.0 74.6L1129.7 77.3L1130.4 76.5L1131.1 73.3L1131.8 118.2L1132.5 77.0L1133.2 72.3L1133.9 78.3L1134.6 79.3L1135.3 74.5L1136.0 142.8L1136.7 218.0L1137.4 293.3L1138.1 356.4L1138.8 377.0L1139.5 377.0L1140.2 367.2L1140.9 374.2L1141.6 362.7L1142.3 372.1L1143.0 376.0L1143.7 365.6" fill="none" stroke="#FF0000" stroke-width="1.2" stroke-linejoin="round"/><path d="M142.0 203.1L142.7 202.0L143.4 203.0L144.1 202.6L144.8 201.9L145.5 202.0L146.2 201.8L146.9 202.3L147.6 202.1L148.3 202.3L149.0 202.5L149.7 202.5L150.4 202.9L151.1 202.4L151.8 202.3L152.5 202.0L153.2 202.4L153.9 202.0L154.6 202.6L155.3 202.2L156.0 202.0L156.7 201.8L157.4 202.3L158.1 203.1L158.8 202.9L159.5 203.0L160.2 203.0L160.9 202.7L161.6 203.3L162.3 203.6L163.0 202.6L163.7 202.0L164.4 201.6L165.1 203.1L165.8 203.0L166.5 203.3L167.2 203.2L167.9 201.8L168.6 201.5L169.3 201.8L170.0 202.7L170.7 202.7L171.4 202.1L172.1 202.5L172.8 202.4L173.5 202.7L174.2 202.5L174.9 202.9L175.6 202.0L176.3 202.9L177.0 202.4L177.7 202.2L178.4 202.3L179.1 202.2L179.8 202.7L180.5 202.9L181.2 202.9L181.9 202.8L182.6 202.7L183.3 202.8L184.0 202.5L184.7 202.6L185.4 202.8L186.1 202.8L186.8 202.1L187.5 201.9L188.2 202.2L188.9 202.4L189.6 202.9L190.3 202.5L191.0 202.3L191.7 202.8L192.4 202.1L193.1 202.1L193.8 202.1L194.5 202.5L195.2 201.9L195.9 202.0L196.6 202.0L197.3 201.7L198.0 200.9L198.7 201.1L199.4 201.7L200.1 202.1L200.8 201.7L201.5 201.9L202.2 200.8L202.9 201.1L203.6 201.5L204.3 201.8L205.0 202.0L205.7 201.9L206.4 202.1L207.1 202.4L207.8 202.7L208.5 202.3L209.2 202.2L209.9 201.9L210.6 202.2L211.3 203.0L212.0 203.7L212.7 203.2L213.4 203.5L214.1 203.5L214.8 203.6L215.5 203.2L216.2 202.4L216.9 202.6L217.6 203.1L218.3 203.3L219.0 203.0L219.7 203.0L220.4 202.6L221.1 202.0L221.8 202.5L222.5 202.5L223.2 202.2L223.9 201.8L224.6 202.1L225.3 201.6L226.0 201.5L226.7 201.2L227.4 200.8L228.1 200.9L228.8 201.1L229.5 199.7L230.2 200.2L230.9 200.0L231.6 198.9L232.3 199.3L233.0 199.0L233.7 198.9L234.4 198.5L235.1 198.7L235.8 198.2L236.5 197.9L237.2 197.9L237.9 198.0L238.6 197.4L239.3 197.3L240.0 196.4L240.7 196.8L241.4 197.5L242.1 196.6L242.8 196.4L243.5 195.1L244.2 194.5L244.9 195.4L245.6 196.1L246.3 196.0L247.0 195.2L247.7 194.7L248.4 194.4L249.1 194.5L249.8 193.6L250.5 193.6L251.2 193.4L251.9 192.6L252.6 193.6L253.3 193.4L254.0 193.3L254.7 193.2L255.4 193.1L256.1 194.0L256.8 194.5L257.5 195.5L258.2 195.1L258.9 195.5L259.6 196.0L260.3 195.4L261.0 196.5L261.7 196.6L262.4 197.8L263.1 198.1L263.8 198.1L264.5 197.4L265.2 198.7L265.9 199.2L266.6 198.9L267.3 199.2L268.0 199.0L268.7 199.4L269.4 199.6L270.1 199.7L270.8 199.0L271.5 198.8L272.2 198.7L272.9 199.1L273.6 198.9L274.3 199.2L275.0 199.3L275.7 198.7L276.4 198.4L277.1 198.9L277.8 198.5L278.5 198.4L279.2 198.5L279.9 198.7L280.6 198.1L281.3 197.3L282.0 197.0L282.7 197.1L283.4 197.2L284.1 197.2L284.8 197.2L285.5 196.7L286.2 196.2L286.9 196.5L287.6 195.8L288.3 194.9L289.0 196.1L289.7 196.4L290.4 196.7L291.1 197.5L291.8 197.6L292.5 197.3L293.2 198.1L293.9 198.4L294.6 198.7L295.3 198.4L296.0 198.2L296.7 198.6L297.4 198.9L298.1 198.5L298.8 198.8L299.5 198.8L300.2 199.0L300.9 199.3L301.6 199.9L302.3 199.6L303.0 199.1L303.7 198.8L304.4 199.1L305.1 199.6L305.8 199.9L306.5 199.8L307.2 199.2L307.9 199.7L308.6 199.3L309.3 199.8L310.0 200.0L310.7 200.4L311.4 199.6L312.1 200.5L312.8 201.1L313.5 200.8L314.2 200.2L314.9 200.4L315.6 200.1L316.3 200.5L317.0 199.8L317.7 199.7L318.4 200.3L319.1 200.2L319.8 200.6L320.5 200.8L321.2 200.6L321.9 199.8L322.6 200.0L323.3 199.7L324.0 199.7L324.7 199.5L325.4 199.6L326.1 199.3L326.8 199.4L327.5 199.9L328.2 200.3L328.9 200.6L329.6 201.0L330.3 200.6L331.0 200.6L331.7 200.5L332.4 201.5L333.1 201.3L333.8 200.6L334.5 200.9L335.2 200.1L335.9 199.4L336.6 200.6L337.3 200.2L338.0 200.9L338.7 201.1L339.4 200.8L340.1 201.1L340.8 200.7L341.5 201.1L342.2 200.7L342.9 200.8L343.6 200.5L344.3 200.3L345.0 200.4L345.7 200.1L346.4 200.4L347.1 200.6L347.8 200.4L348.5 200.8L349.2 200.4L349.9 199.4L350.6 199.2L351.3 199.4L352.0 199.2L352.7 199.5L353.4 198.8L354.1 198.4L354.8 198.0L355.5 198.0L356.2 197.5L356.9 197.7L357.6 197.3L358.3 198.0L359.0 197.2L359.7 197.1L360.4 197.0L361.1 197.2L361.8 197.0L362.5 197.1L363.2 197.0L363.9 197.7L364.6 197.4L365.3 197.3L366.0 197.5L366.7 197.1L367.4 197.1L368.1 197.0L368.8 197.0L369.5 196.4L370.2 196.4L370.9 197.0L371.6 197.3L372.3 197.2L373.0 197.2L373.7 196.6L374.4 196.4L375.1 196.9L375.8 197.2L376.5 197.4L377.2 197.3L377.9 197.0L378.6 197.4L379.3 197.6L380.0 197.6L380.7 196.5L381.4 197.2L382.1 197.1L382.8 196.7L383.5 196.9L384.2 197.2L384.9 196.6L385.6 196.3L386.3 196.0L387.0 196.3L387.7 196.3L388.4 196.3L389.1 197.1L389.8 196.5L390.5 196.5L391.2 196.3L391.9 196.9L392.6 195.6L393.3 196.3L394.0 196.5L394.7 195.8L395.4 196.6L396.1 196.4L396.8 195.7L397.5 195.5L398.2 196.0L398.9 195.3L399.6 195.8L400.3 195.0L401.0 195.3L401.7 195.2L402.4 195.8L403.1 195.8L403.8 195.7L404.5 196.2L405.2 195.2L405.9 195.9L406.6 195.9L407.3 196.5L408.0 195.9L408.7 195.7L409.4 195.4L410.1 195.6L410.8 195.6L411.5 196.0L412.2 196.1L412.9 195.7L413.6 195.2L414.3 195.6L415.0 196.0L415.7 195.4L416.4 195.6L417.1 195.6L417.8 195.5L418.5 195.5L419.2 195.0L419.9 195.4L420.6 195.4L421.3 195.2L422.0 195.0L422.7 195.5L423.4 195.7L424.1 196.0L424.8 195.6L425.5 196.0L426.2 195.6L426.9 195.6L427.6 195.6L428.3 196.0L429.0 195.7L429.7 195.4L430.4 195.4L431.1 195.6L431.8 195.2L432.5 195.5L433.2 195.6L433.9 196.1L434.6 194.8L435.3 195.1L436.0 195.1L436.7 194.6L437.4 195.3L438.1 194.6L438.8 194.7L439.5 194.8L440.2 194.8L440.9 195.8L441.6 194.5L442.3 195.2L443.0 195.2L443.7 195.3L444.4 195.6L445.1 195.8L445.8 195.3L446.5 194.6L447.2 195.1L447.9 194.4L448.6 194.6L449.3 194.3L450.0 194.9L450.7 194.8L451.4 194.4L452.1 194.7L452.8 195.2L453.5 194.3L454.2 194.5L454.9 194.6L455.6 195.0L456.3 194.7L457.0 194.7L457.7 194.5L458.4 194.9L459.1 195.0L459.8 194.7L460.5 195.8L461.2 195.4L461.9 195.2L462.6 194.5L463.3 194.5L464.0 194.3L464.7 194.7L465.4 194.4L466.1 194.4L466.8 194.0L467.5 195.0L468.2 194.8L468.9 195.1L469.6 195.1L470.3 194.5L471.0 194.9L471.7 194.6L472.4 194.8L473.1 195.1L473.8 195.1L474.5 194.8L475.2 194.9L475.9 194.6L476.6 194.5L477.3 193.9L478.0 194.3L478.7 195.0L479.4 194.9L480.1 193.6L480.8 194.1L481.5 194.4L482.2 195.2L482.9 195.1L483.6 194.7L484.3 194.6L485.0 192.0L485.7 190.8L486.4 191.2L487.1 191.3L487.8 191.5L488.5 191.9L489.2 191.3L489.9 191.2L490.6 192.1L491.3 191.8L492.0 192.4L492.7 191.8L493.4 191.8L494.1 191.4L494.8 192.0L495.5 192.1L496.2 191.9L496.9 192.3L497.6 192.4L498.3 192.4L499.0 192.2L499.7 192.3L500.4 192.5L501.1 192.0L501.8 192.2L502.5 193.1L503.2 193.4L503.9 193.0L504.6 192.5L505.3 193.3L506.0 193.0L506.7 193.3L507.4 193.1L508.1 193.5L508.8 193.3L509.5 193.5L510.2 193.7L510.9 193.5L511.6 192.7L512.3 192.6L513.0 192.0L513.7 191.7L514.4 191.6L515.1 191.6L515.8 191.1L516.5 190.8L517.2 190.6L517.9 190.5L518.6 190.0L519.3 189.4L520.0 188.2L520.7 188.5L521.4 188.7L522.1 189.0L522.8 189.4L523.5 189.2L524.2 189.1L524.9 189.6L525.6 189.6L526.3 190.1L527.0 189.4L527.7 189.4L528.4 189.0L529.1 189.3L529.8 189.6L530.5 190.2L531.2 189.9L531.9 190.3L532.6 190.4L533.3 190.8L534.0 190.8L534.7 190.7L535.4 189.3L536.1 189.7L536.8 188.8L537.5 188.9L538.2 189.3L538.9 189.9L539.6 189.7L540.3 190.4L541.0 190.5L541.7 190.0L542.4 190.6L543.1 190.5L543.8 190.7L544.5 190.8L545.2 190.4L545.9 190.9L546.6 190.8L547.3 190.1L548.0 190.8L548.7 190.6L549.4 189.7L550.1 190.2L550.8 190.7L551.5 191.0L552.2 190.5L552.9 190.5L553.6 191.0L554.3 190.8L555.0 190.4L555.7 190.3L556.4 190.8L557.1 190.3L557.8 190.3L558.5 190.2L559.2 190.5L559.9 189.9L560.6 189.8L561.3 189.5L562.0 189.4L562.7 189.2L563.4 189.4L564.1 189.3L564.8 189.4L565.5 189.1L566.2 189.7L566.9 189.8L567.6 189.5L568.3 189.4L569.0 189.0L569.7 189.2L570.4 188.5L571.1 189.2L571.8 188.9L572.5 189.2L573.2 188.6L573.9 188.6L574.6 188.0L575.3 188.4L576.0 189.4L576.7 189.2L577.4 188.7L578.1 188.0L578.8 187.7L579.5 188.5L580.2 188.0L580.9 188.4L581.6 188.2L582.3 188.5L583.0 188.6L583.7 188.3L584.4 187.7L585.1 187.7L585.8 188.0L586.5 188.2L587.2 187.9L587.9 188.1L588.6 187.9L589.3 187.6L590.0 186.9L590.7 187.4L591.4 187.2L592.1 187.5L592.8 187.3L593.5 186.6L594.2 187.1L594.9 186.8L595.6 187.4L596.3 187.7L597.0 187.9L597.7 187.7L598.4 187.9L599.1 188.1L599.8 188.1L600.5 188.0L601.2 186.9L601.9 186.7L602.6 186.6L603.3 187.0L604.0 187.5L604.7 186.0L605.4 186.6L606.1 183.5L606.8 180.1L607.5 177.1L608.2 174.8L608.9 172.8L609.6 173.2L610.3 173.7L611.0 173.7L611.7 166.9L612.4 163.6L613.1 164.7L613.8 166.0L614.5 167.6L615.2 169.0L615.9 171.3L616.6 172.3L617.3 173.6L618.0 175.2L618.7 176.1L619.4 177.4L620.1 179.2L620.8 180.5L621.5 182.1L622.2 182.6L622.9 182.8L623.6 183.2L624.3 183.2L625.0 184.1L625.7 184.2L626.4 185.0L627.1 185.5L627.8 185.6L628.5 186.3L629.2 186.4L629.9 186.3L630.6 186.1L631.3 186.9L632.0 186.7L632.7 186.5L633.4 186.7L634.1 186.0L634.8 185.3L635.5 185.0L636.2 184.3L636.9 183.6L637.6 183.9L638.3 183.2L639.0 182.8L639.7 182.9L640.4 182.7L641.1 182.9L641.8 181.6L642.5 181.9L643.2 181.4L643.9 180.9L644.6 180.9L645.3 180.7L646.0 180.6L646.7 179.6L647.4 179.7L648.1 179.4L648.8 180.0L649.5 179.6L650.2 179.4L650.9 178.6L651.6 178.1L652.3 177.0L653.0 178.0L653.7 177.8L654.4 177.1L655.1 176.6L655.8 177.0L656.5 177.5L657.2 177.9L657.9 178.7L658.6 178.5L659.3 179.0L660.0 179.3L660.7 179.4L661.4 180.0L662.1 179.9L662.8 181.1L663.5 180.9L664.2 181.0L664.9 181.2L665.6 182.6L666.3 182.4L667.0 182.4L667.7 183.1L668.4 184.1L669.1 184.4L669.8 184.3L670.5 184.7L671.2 184.5L671.9 185.2L672.6 184.8L673.3 184.9L674.0 185.9L674.7 187.1L675.4 187.7L676.1 187.2L676.8 187.9L677.5 187.3L678.2 187.6L678.9 188.2L679.6 188.5L680.3 188.1L681.0 189.1L681.7 188.0L682.4 186.8L683.1 184.7L683.8 184.1L684.5 184.0L685.2 184.2L685.9 184.3L686.6 183.9L687.3 184.4L688.0 184.4L688.7 185.2L689.4 185.0L690.1 185.6L690.8 184.7L691.5 184.4L692.2 185.0L692.9 185.8L693.6 185.6L694.3 185.8L695.0 186.1L695.7 185.7L696.4 186.2L697.1 185.4L697.8 185.1L698.5 185.0L699.2 184.5L699.9 185.1L700.6 185.3L701.3 185.4L702.0 185.6L702.7 184.9L703.4 185.4L704.1 185.7L704.8 185.4L705.5 184.9L706.2 184.3L706.9 185.0L707.6 183.8L708.3 184.1L709.0 183.7L709.7 183.5L710.4 183.7L711.1 183.9L711.8 183.8L712.5 183.1L713.2 182.4L713.9 181.5L714.6 182.4L715.3 181.6L716.0 180.5L716.7 180.2L717.4 179.7L718.1 179.7L718.8 179.6L719.5 179.4L720.2 178.7L720.9 178.3L721.6 178.2L722.3 177.5L723.0 177.9L723.7 176.7L724.4 175.9L725.1 174.7L725.8 175.1L726.5 175.2L727.2 174.8L727.9 174.5L728.6 174.2L729.3 173.8L730.0 172.9L730.7 172.1L731.4 172.3L732.1 171.7L732.8 171.4L733.5 171.3L734.2 170.7L734.9 170.1L735.6 170.3L736.3 170.2L737.0 169.9L737.7 169.5L738.4 169.1L739.1 169.4L739.8 168.7L740.5 169.2L741.2 169.5L741.9 168.6L742.6 168.9L743.3 168.1L744.0 168.0L744.7 167.3L745.4 167.0L746.1 167.4L746.8 167.3L747.5 166.5L748.2 166.3L748.9 165.6L749.6 165.6L750.3 164.9L751.0 164.9L751.7 165.5L752.4 165.3L753.1 164.8L753.8 164.4L754.5 164.9L755.2 163.8L755.9 163.6L756.6 163.2L757.3 163.8L758.0 163.3L758.7 163.0L759.4 162.2L760.1 162.4L760.8 161.6L761.5 161.4L762.2 160.9L762.9 160.8L763.6 160.6L764.3 160.6L765.0 159.7L765.7 160.1L766.4 160.6L767.1 159.7L767.8 160.0L768.5 160.2L769.2 160.0L769.9 160.3L770.6 160.6L771.3 161.3L772.0 161.5L772.7 162.2L773.4 161.7L774.1 162.8L774.8 164.2L775.5 163.7L776.2 163.8L776.9 164.3L777.6 164.5L778.3 163.8L779.0 163.9L779.7 165.2L780.4 165.9L781.1 165.5L781.8 166.4L782.5 167.4L783.2 167.9L783.9 167.9L784.6 170.6L785.3 182.0L786.0 161.6L786.7 161.2L787.4 161.6L788.1 161.9L788.8 161.4L789.5 161.5L790.2 160.6L790.9 161.5L791.6 161.7L792.3 161.2L793.0 160.7L793.7 160.4L794.4 159.8L795.1 160.1L795.8 160.1L796.5 159.9L797.2 159.9L797.9 159.9L798.6 159.8L799.3 158.6L800.0 158.0L800.7 157.7L801.4 157.9L802.1 157.6L802.8 157.8L803.5 157.5L804.2 157.2L804.9 157.7L805.6 157.1L806.3 157.3L807.0 156.7L807.7 156.1L808.4 155.8L809.1 155.9L809.8 156.4L810.5 156.7L811.2 157.0L811.9 156.8L812.6 156.7L813.3 157.0L814.0 155.8L814.7 154.7L815.4 155.4L816.1 154.1L816.8 154.4L817.5 156.2L818.2 156.0L818.9 156.2L819.6 155.9L820.3 155.5L821.0 155.6L821.7 156.8L822.4 156.4L823.1 156.2L823.8 156.0L824.5 156.7L825.2 157.6L825.9 156.4L826.6 155.9L827.3 157.3L828.0 157.3L828.7 156.7L829.4 156.9L830.1 156.9L830.8 155.9L831.5 155.5L832.2 155.3L832.9 155.8L833.6 156.7L834.3 158.0L835.0 157.2L835.7 157.4L836.4 157.1L837.1 157.3L837.8 156.9L838.5 155.4L839.2 155.8L839.9 155.5L840.6 156.0L841.3 156.5L842.0 157.7L842.7 157.1L843.4 155.7L844.1 156.3L844.8 156.6L845.5 156.2L846.2 155.9L846.9 156.8L847.6 157.0L848.3 157.0L849.0 156.0L849.7 155.4L850.4 155.8L851.1 156.6L851.8 158.0L852.5 157.6L853.2 158.0L853.9 157.9L854.6 157.1L855.3 154.7L856.0 156.3L856.7 157.0L857.4 157.1L858.1 157.5L858.8 156.9L859.5 156.6L860.2 156.3L860.9 156.9L861.6 156.2L862.3 155.5L863.0 155.5L863.7 155.5L864.4 156.1L865.1 156.0L865.8 157.1L866.5 156.1L867.2 156.3L867.9 155.2L868.6 155.2L869.3 154.9L870.0 155.3L870.7 155.0L871.4 155.0L872.1 155.1L872.8 156.0L873.5 156.2L874.2 156.1L874.9 156.3L875.6 155.2L876.3 156.5L877.0 155.4L877.7 155.7L878.4 156.2L879.1 155.1L879.8 155.8L880.5 155.8L881.2 155.5L881.9 155.2L882.6 154.1L883.3 154.1L884.0 155.8L884.7 155.9L885.4 155.3L886.1 155.9L886.8 157.0L887.5 157.2L888.2 154.9L888.9 154.4L889.6 153.8L890.3 153.3L891.0 154.7L891.7 153.2L892.4 153.5L893.1 154.3L893.8 153.9L894.5 154.6L895.2 153.6L895.9 153.9L896.6 153.1L897.3 152.8L898.0 152.4L898.7 152.3L899.4 150.9L900.1 150.9L900.8 151.4L901.5 150.3L902.2 150.0L902.9 150.0L903.6 151.1L904.3 149.9L905.0 150.2L905.7 149.2L906.4 148.9L907.1 148.4L907.8 149.0L908.5 149.9L909.2 150.0L909.9 148.6L910.6 148.5L911.3 149.3L912.0 147.9L912.7 148.5L913.4 147.0L914.1 147.2L914.8 146.1L915.5 146.0L916.2 147.2L916.9 147.2L917.6 146.1L918.3 146.6L919.0 146.3L919.7 145.6L920.4 145.8L921.1 145.1L921.8 144.4L922.5 143.4L923.2 143.5L923.9 143.0L924.6 143.0L925.3 141.4L926.0 147.3L926.7 142.1L927.4 142.3L928.1 143.1L928.8 141.7L929.5 141.5L930.2 141.8L930.9 140.7L931.6 140.6L932.3 139.6L933.0 139.3L933.7 139.9L934.4 140.5L935.1 140.2L935.8 139.4L936.5 141.0L937.2 141.5L937.9 141.0L938.6 139.9L939.3 138.4L940.0 138.3L940.7 138.6L941.4 138.3L942.1 137.8L942.8 138.7L943.5 138.7L944.2 138.8L944.9 138.2L945.6 141.8L946.3 138.2L947.0 136.8L947.7 136.9L948.4 135.4L949.1 136.1L949.8 136.3L950.5 135.3L951.2 136.1L951.9 135.6L952.6 136.3L953.3 136.9L954.0 136.5L954.7 137.1L955.4 138.3L956.1 138.6L956.8 138.7L957.5 138.7L958.2 138.7L958.9 138.4L959.6 137.1L960.3 137.7L961.0 138.2L961.7 138.5L962.4 138.2L963.1 139.1L963.8 139.0L964.5 138.8L965.2 138.7L965.9 138.9L966.6 138.5L967.3 137.6L968.0 138.8L968.7 139.3L969.4 139.3L970.1 139.2L970.8 138.3L971.5 137.8L972.2 137.4L972.9 137.6L973.6 137.5L974.3 137.4L975.0 138.1L975.7 136.6L976.4 136.8L977.1 135.6L977.8 136.0L978.5 135.1L979.2 134.9L979.9 135.2L980.6 135.9L981.3 134.9L982.0 134.4L982.7 133.8L983.4 133.4L984.1 134.1L984.8 133.3L985.5 133.1L986.2 133.6L986.9 132.9L987.6 133.3L988.3 132.6L989.0 131.5L989.7 131.0L990.4 132.2L991.1 131.6L991.8 138.6L992.5 131.1L993.2 130.2L993.9 130.4L994.6 129.7L995.3 129.4L996.0 129.0L996.7 128.8L997.4 128.5L998.1 128.4L998.8 128.3L999.5 127.8L1000.2 128.2L1000.9 128.5L1001.6 127.6L1002.3 127.6L1003.0 126.7L1003.7 124.3L1004.4 125.1L1005.1 124.9L1005.8 124.8L1006.5 124.7L1007.2 125.7L1007.9 125.1L1008.6 125.8L1009.3 125.1L1010.0 124.2L1010.7 124.5L1011.4 124.8L1012.1 122.0L1012.8 123.2L1013.5 123.6L1014.2 123.5L1014.9 122.8L1015.6 124.1L1016.3 123.7L1017.0 121.9L1017.7 121.6L1018.4 121.1L1019.1 120.0L1019.8 120.1L1020.5 120.0L1021.2 118.9L1021.9 120.5L1022.6 118.9L1023.3 119.3L1024.0 119.0L1024.7 118.7L1025.4 124.8L1026.1 118.1L1026.8 116.1L1027.5 120.8L1028.2 114.9L1028.9 119.1L1029.6 114.4L1030.3 114.3L1031.0 114.2L1031.7 113.4L1032.4 113.6L1033.1 115.1L1033.8 114.9L1034.5 114.4L1035.2 113.0L1035.9 113.4L1036.6 113.4L1037.3 113.1L1038.0 112.2L1038.7 111.7L1039.4 112.2L1040.1 111.5L1040.8 110.8L1041.5 108.0L1042.2 108.4L1042.9 109.7L1043.6 110.4L1044.3 109.7L1045.0 110.1L1045.7 111.2L1046.4 110.9L1047.1 109.0L1047.8 108.3L1048.5 108.0L1049.2 106.9L1049.9 107.1L1050.6 107.2L1051.3 107.9L1052.0 108.4L1052.7 108.0L1053.4 109.2L1054.1 109.8L1054.8 110.5L1055.5 112.2L1056.2 114.5L1056.9 114.8L1057.6 113.0L1058.3 111.2L1059.0 110.1L1059.7 108.8L1060.4 105.9L1061.1 103.5L1061.8 103.2L1062.5 102.1L1063.2 101.4L1063.9 102.0L1064.6 102.9L1065.3 103.3L1066.0 104.5L1066.7 105.7L1067.4 105.2L1068.1 107.7L1068.8 107.8L1069.5 108.7L1070.2 108.4L1070.9 109.9L1071.6 110.8L1072.3 112.3L1073.0 109.1L1073.7 108.2L1074.4 104.0L1075.1 103.1L1075.8 101.1L1076.5 99.9L1077.2 98.7L1077.9 96.7L1078.6 96.9L1079.3 96.0L1080.0 95.3L1080.7 94.4L1081.4 94.9L1082.1 94.1L1082.8 92.5L1083.5 93.0L1084.2 94.4L1084.9 94.3L1085.6 92.6L1086.3 92.4L1087.0 92.0L1087.7 91.3L1088.4 90.8L1089.1 90.5L1089.8 91.0L1090.5 91.3L1091.2 90.9L1091.9 89.6L1092.6 88.5L1093.3 90.0L1094.0 91.7L1094.7 89.3L1095.4 90.3L1096.1 90.8L1096.8 91.4L1097.5 94.5L1098.2 97.3L1098.9 98.3L1099.6 101.1L1100.3 100.1L1101.0 99.7L1101.7 99.6L1102.4 100.5L1103.1 100.4L1103.8 100.9L1104.5 101.3L1105.2 100.5L1105.9 101.5L1106.6 100.4L1107.3 101.7L1108.0 102.3L1108.7 101.3L1109.4 101.3L1110.1 99.1L1110.8 95.5L1111.5 90.0L1112.2 87.9L1112.9 82.7L1113.6 79.6L1114.3 79.3L1115.0 78.9L1115.7 78.4L1116.4 78.0L1117.1 78.2L1117.8 77.4L1118.5 76.6L1119.2 77.0L1119.9 77.7L1120.6 77.0L1121.3 76.0L1122.0 75.4L1122.7 75.5L1123.4 73.4L1124.1 72.9L1124.8 72.6L1125.5 73.2L1126.2 71.6L1126.9 72.1L1127.6 71.8L1128.3 71.0L1129.0 70.1L1129.7 67.7L1130.4 67.7L1131.1 67.2L1131.8 65.8L1132.5 67.4L1133.2 68.9L1133.9 70.3L1134.6 70.9L1135.3 72.9L1136.0 93.8L1136.7 120.3L1137.4 147.3L1138.1 160.6L1138.8 170.5L1139.5 182.6L1140.2 154.3L1140.9 123.3L1141.6 114.5L1142.3 104.0L1143.0 90.5L1143.7 77.8" fill="none" stroke="#000" stroke-width="1.2" stroke-linejoin="round"/></g>
<g clip-path="url(#cp1)"><path d="M142.0 582.5L142.4 579.8L142.9 581.3L143.3 570.5L143.8 559.0L144.2 560.4L144.7 613.5L145.1 615.2L145.6 616.8L146.0 598.6L146.5 578.3L146.9 598.0L147.4 617.8L147.8 617.3L148.3 580.7L148.7 577.3L149.2 610.1L149.6 597.6L150.1 604.4L150.5 649.0L151.0 635.4L151.4 637.9L151.9 631.7L152.3 648.6L152.8 648.7L153.2 650.4L153.7 635.6L154.1 639.9L154.6 640.5L155.0 634.3L155.5 642.5L155.9 635.8L156.4 642.7L156.8 645.4L157.3 639.1L157.7 640.9L158.2 650.4L158.6 627.4L159.1 633.7L159.5 648.8L160.0 631.9L160.4 605.6L160.9 621.7L161.3 600.1L161.8 563.5L162.2 584.6L162.7 630.3L163.1 609.1L163.6 609.2L164.0 639.8L164.5 649.5L164.9 663.1L165.4 651.6L165.8 665.9L166.3 658.6L166.7 663.0L167.2 666.6L167.6 660.5L168.1 663.0L168.5 663.9L169.0 654.5L169.4 657.6L169.9 661.8L170.3 650.6L170.8 656.4L171.2 653.5L171.7 662.2L172.1 660.6L172.6 661.5L173.0 662.3L173.5 657.0L173.9 652.5L174.4 651.0L174.8 655.9L175.3 655.7L175.7 658.2L176.2 660.8L176.6 661.9L177.1 632.0L177.5 643.2L178.0 658.3L178.4 664.3L178.9 655.4L179.3 667.9L179.8 658.4L180.2 660.8L180.7 666.3L181.1 668.9L181.6 654.3L182.0 656.0L182.5 664.0L182.9 656.7L183.4 666.1L183.8 664.3L184.3 664.3L184.7 657.2L185.2 660.4L185.6 664.1L186.1 656.0L186.5 652.1L187.0 657.2L187.4 654.0L187.9 669.0L188.3 655.2L188.8 665.8L189.2 662.4L189.7 662.0L190.1 661.7L190.6 660.8L191.0 666.2L191.5 662.8L191.9 666.2L192.4 660.6L192.8 662.3L193.3 660.2L193.7 664.6L194.2 660.7L194.6 662.2L195.1 660.6L195.5 663.3L196.0 576.0L196.4 640.4L196.9 663.9L197.3 657.7L197.8 656.7L198.2 658.1L198.7 656.2L199.1 656.4L199.6 656.5L200.0 659.3L200.5 661.7L200.9 658.0L201.4 657.7L201.8 657.3L202.3 655.5L202.7 659.5L203.2 655.6L203.6 614.6L204.1 612.0L204.5 607.1L205.0 610.0L205.4 618.3L205.9 612.8L206.3 602.9L206.8 608.5L207.2 617.9L207.7 627.4L208.1 602.3L208.6 612.5L209.0 618.9L209.5 630.0L209.9 620.4L210.4 613.0L210.8 600.4L211.3 617.8L211.7 609.2L212.2 581.5L212.6 613.3L213.1 542.4L213.5 555.1L214.0 584.7L214.4 627.1L214.9 572.4L215.3 583.7L215.8 608.8L216.2 583.2L216.7 591.5L217.1 600.0L217.6 580.7L218.0 606.2L218.5 598.4L218.9 524.5L219.4 548.1L219.8 613.4L220.3 567.3L220.7 597.4L221.2 613.5L221.6 600.9L222.1 595.0L222.5 629.8L223.0 642.3L223.4 631.3L223.9 640.2L224.3 644.3L224.8 643.1L225.2 633.1L225.7 631.9L226.1 630.0L226.6 638.1L227.0 641.7L227.5 628.4L227.9 628.1L228.4 641.9L228.8 628.8L229.3 639.1L229.7 637.1L230.2 640.5L230.6 627.9L231.1 630.4L231.5 642.6L232.0 639.8L232.4 636.9L232.9 629.8L233.3 634.0L233.8 628.8L234.2 630.2L234.7 641.2L235.1 627.6L235.6 646.6L236.0 629.0L236.5 631.8L236.9 635.2L237.4 629.8L237.8 638.4L238.3 637.8L238.7 638.0L239.2 603.1L239.6 595.0L240.1 504.5L240.5 504.5L241.0 605.7L241.4 541.4L241.9 524.0L242.3 541.6L242.8 525.8L243.2 528.3L243.7 525.3L244.1 532.8L244.6 549.1L245.0 545.1L245.5 549.9L245.9 532.3L246.4 535.0L246.8 550.0L247.3 555.5L247.7 557.7L248.2 551.0L248.6 530.8L249.1 537.8L249.5 534.8L250.0 552.0L250.4 548.4L250.9 542.0L251.3 551.3L251.8 544.2L252.2 541.5L252.7 538.6L253.1 555.4L253.6 546.6L254.0 555.8L254.5 539.9L254.9 543.8L255.4 552.0L255.8 550.8L256.3 570.9L256.7 574.3L257.2 582.4L257.6 589.2L258.1 597.8L258.5 568.1L259.0 570.1L259.4 614.0L259.9 609.7L260.3 577.6L260.8 579.8L261.2 583.3L261.7 575.3L262.1 660.4L262.6 611.5L263.0 603.4L263.5 569.1L263.9 632.0L264.4 569.5L264.8 575.9L265.3 629.1L265.7 590.2L266.2 610.8L266.6 609.8L267.1 571.1L267.5 576.5L268.0 588.2L268.4 595.0L268.9 590.6L269.3 606.1L269.8 602.1L270.2 594.0L270.7 617.8L271.1 601.7L271.6 596.4L272.0 599.1L272.5 591.7L272.9 607.2L273.4 594.4L273.8 578.8L274.3 593.3L274.7 597.4L275.2 625.4L275.6 612.2L276.1 595.6L276.5 596.5L277.0 594.8L277.4 616.4L277.9 603.3L278.3 615.0L278.8 599.8L279.2 599.8L279.7 589.9L280.1 605.2L280.6 588.4L281.0 603.9L281.5 592.5L281.9 607.7L282.4 614.1L282.8 605.7L283.3 598.8L283.7 635.1L284.2 638.9L284.6 627.6L285.1 627.6L285.5 626.1L286.0 624.8L286.4 626.9L286.9 639.8L287.3 622.1L287.8 626.3L288.2 608.1L288.7 616.4L289.1 625.5L289.6 609.3L290.0 602.2L290.5 625.9L290.9 610.7L291.4 611.3L291.8 620.0L292.3 603.8L292.7 611.1L293.2 618.0L293.6 609.4L294.1 624.0L294.5 621.9L295.0 620.2L295.4 615.5L295.9 606.6L296.3 619.0L296.8 604.7L297.2 605.4L297.7 618.1L298.1 603.7L298.6 608.0L299.0 626.5L299.5 609.1L299.9 625.9L300.4 612.5L300.8 621.0L301.3 619.0L301.7 610.5L302.2 625.9L302.6 614.0L303.1 620.1L303.5 628.0L304.0 623.5L304.4 628.9L304.9 612.4L305.3 610.0L305.8 622.6L306.2 616.0L306.7 609.1L307.1 616.9L307.6 627.7L308.0 617.6L308.5 634.0L308.9 613.5L309.4 625.3L309.8 619.4L310.3 629.7L310.7 626.9L311.2 628.3L311.6 634.9L312.1 610.8L312.5 609.7L313.0 611.9L313.4 619.9L313.9 630.7L314.3 609.5L314.8 613.7L315.2 636.6L315.7 627.7L316.1 628.0L316.6 617.7L317.0 624.1L317.5 634.7L317.9 617.6L318.4 620.7L318.8 625.5L319.3 638.5L319.7 639.2L320.2 646.4L320.6 653.8L321.1 642.2L321.5 640.3L322.0 647.9L322.4 628.5L322.9 653.4L323.3 653.6L323.8 644.8L324.2 645.4L324.7 647.7L325.1 634.2L325.6 640.9L326.0 629.4L326.5 631.2L326.9 622.9L327.4 649.2L327.8 654.2L328.3 651.5L328.7 653.7L329.2 638.2L329.6 630.6L330.1 649.5L330.5 648.5L331.0 639.1L331.4 642.4L331.9 637.1L332.3 627.1L332.8 631.9L333.2 628.7L333.7 627.2L334.1 626.5L334.6 631.6L335.0 645.4L335.5 642.2L335.9 652.4L336.4 645.0L336.8 651.6L337.3 622.2L337.7 641.6L338.2 626.4L338.6 624.5L339.1 636.8L339.5 634.5L340.0 627.6L340.4 628.3L340.9 624.3L341.3 635.3L341.8 641.9L342.2 644.8L342.7 610.6L343.1 631.0L343.6 621.6L344.0 614.5L344.5 621.3L344.9 610.5L345.4 626.8L345.8 632.2L346.3 633.9L346.7 621.8L347.2 601.4L347.6 613.6L348.1 620.4L348.5 608.9L349.0 612.2L349.4 601.7L349.9 612.9L350.3 631.0L350.8 621.1L351.2 602.1L351.7 598.2L352.1 596.5L352.6 598.3L353.0 622.8L353.5 623.9L353.9 604.4L354.4 631.7L354.8 626.0L355.3 630.1L355.7 614.6L356.2 612.1L356.6 623.3L357.1 632.6L357.5 637.1L358.0 614.9L358.4 618.0L358.9 626.8L359.3 620.5L359.8 608.5L360.2 611.8L360.7 618.3L361.1 600.7L361.6 613.3L362.0 635.8L362.5 623.1L362.9 615.5L363.4 624.7L363.8 608.0L364.3 602.1L364.7 627.4L365.2 615.2L365.6 634.6L366.1 602.1L366.5 635.4L367.0 620.1L367.4 617.5L367.9 616.6L368.3 632.7L368.8 603.8L369.2 630.5L369.7 635.2L370.1 610.2L370.6 626.9L371.0 596.5L371.5 631.9L371.9 603.0L372.4 601.6L372.8 632.4L373.3 598.6L373.7 605.9L374.2 625.6L374.6 624.2L375.1 631.7L375.5 604.7L376.0 604.0L376.4 606.9L376.9 618.0L377.3 619.3L377.8 607.2L378.2 642.4L378.7 633.2L379.1 611.0L379.6 628.7L380.0 635.8L380.5 633.0L380.9 623.3L381.4 644.4L381.8 629.5L382.3 645.5L382.7 628.3L383.2 645.3L383.6 645.0L384.1 647.9L384.5 631.4L385.0 650.9L385.4 630.6L385.9 643.6L386.3 645.9L386.8 632.1L387.2 645.3L387.7 641.4L388.1 645.7L388.6 630.1L389.0 640.0L389.5 639.2L389.9 620.4L390.4 626.0L390.8 630.6L391.3 660.8L391.7 640.2L392.2 657.2L392.6 649.2L393.1 642.0L393.5 633.3L394.0 643.5L394.4 633.1L394.9 635.4L395.3 664.7L395.8 656.9L396.2 648.0L396.7 631.7L397.1 630.4L397.6 654.9L398.0 633.5L398.5 656.6L398.9 633.5L399.4 630.3L399.8 647.7L400.3 641.1L400.7 635.0L401.2 657.5L401.6 640.1L402.1 639.3L402.5 645.4L403.0 657.5L403.4 638.0L403.9 654.9L404.3 643.0L404.8 669.2L405.2 644.8L405.7 660.1L406.1 658.8L406.6 663.9L407.0 633.7L407.5 640.5L407.9 645.8L408.4 639.0L408.8 669.4L409.3 661.2L409.7 651.5L410.2 663.3L410.6 651.0L411.1 642.2L411.5 640.8L412.0 654.4L412.4 656.4L412.9 641.7L413.3 646.9L413.8 652.6L414.2 637.6L414.7 655.7L415.1 639.3L415.6 650.5L416.0 642.8L416.5 643.2L416.9 660.9L417.4 650.3L417.8 652.9L418.3 645.9L418.7 658.3L419.2 655.8L419.6 654.7L420.1 650.5L420.5 637.8L421.0 660.1L421.4 647.0L421.9 632.7L422.3 659.8L422.8 654.3L423.2 657.0L423.7 632.6L424.1 657.3L424.6 652.0L425.0 632.0L425.5 659.1L425.9 685.5L426.4 682.2L426.8 685.7L427.3 682.4L427.7 686.3L428.2 682.5L428.6 682.8L429.1 688.5L429.5 684.2L430.0 688.5L430.4 683.3L430.9 687.5L431.3 683.2L431.8 685.7L432.2 685.4L432.7 685.4L433.1 684.7L433.6 687.3L434.0 682.6L434.5 682.9L434.9 685.2L435.4 683.5L435.8 684.1L436.3 685.7L436.7 685.9L437.2 684.4L437.6 683.5L438.1 681.9L438.5 686.9L439.0 682.9L439.4 683.8L439.9 682.1L440.3 682.7L440.8 682.1L441.2 682.9L441.7 683.5L442.1 688.5L442.6 683.7L443.0 666.6L443.5 659.7L443.9 668.1L444.4 665.6L444.8 664.1L445.3 660.9L445.7 672.3L446.2 666.8L446.6 659.3L447.1 663.0L447.5 671.2L448.0 664.5L448.4 668.1L448.9 658.8L449.3 660.8L449.8 658.8L450.2 668.2L450.7 658.5L451.1 668.6L451.6 664.8L452.0 671.1L452.5 663.4L452.9 672.6L453.4 666.4L453.8 664.8L454.3 671.4L454.7 666.2L455.2 662.9L455.6 667.1L456.1 663.1L456.5 670.0L457.0 662.3L457.4 658.8L457.9 663.1L458.3 668.4L458.8 669.8L459.2 660.2L459.7 662.3L460.1 666.0L460.6 665.9L461.0 671.1L461.5 659.2L461.9 665.0L462.4 662.5L462.8 662.8L463.3 668.4L463.7 662.5L464.2 667.0L464.6 660.1L465.1 656.7L465.5 659.1L466.0 662.0L466.4 661.0L466.9 663.6L467.3 669.2L467.8 666.6L468.2 669.1L468.7 667.8L469.1 657.7L469.6 669.0L470.0 658.5L470.5 663.2L470.9 669.1L471.4 657.2L471.8 657.8L472.3 664.1L472.7 664.1L473.2 664.3L473.6 660.4L474.1 667.5L474.5 661.6L475.0 657.4L475.4 657.8L475.9 669.1L476.3 667.6L476.8 656.8L477.2 668.3L477.7 667.5L478.1 664.3L478.6 668.2L479.0 662.5L479.5 668.7L479.9 659.0L480.4 661.6L480.8 663.7L481.3 657.0L481.7 657.8L482.2 667.3L482.6 661.4L483.1 622.5L483.5 593.6L484.0 597.0L484.4 630.6L484.9 592.4L485.3 606.9L485.8 607.8L486.2 597.9L486.7 590.2L487.1 606.7L487.6 567.7L488.0 580.3L488.5 625.8L488.9 623.6L489.4 597.3L489.8 608.6L490.3 634.0L490.7 610.5L491.2 612.3L491.6 602.6L492.1 590.8L492.5 636.9L493.0 635.6L493.4 607.8L493.9 616.3L494.3 603.5L494.8 614.2L495.2 597.5L495.7 621.7L496.1 580.0L496.6 586.1L497.0 603.4L497.5 601.4L497.9 601.9L498.4 620.7L498.8 631.5L499.3 620.7L499.7 601.1L500.2 615.8L500.6 619.1L501.1 642.0L501.5 629.1L502.0 650.1L502.4 631.5L502.9 657.9L503.3 636.0L503.8 634.1L504.2 670.3L504.7 631.6L505.1 660.1L505.6 667.8L506.0 643.2L506.5 649.1L506.9 671.4L507.4 644.2L507.8 674.7L508.3 628.4L508.7 634.0L509.2 633.1L509.6 643.3L510.1 632.3L510.5 645.9L511.0 620.1L511.4 654.9L511.9 656.6L512.3 658.2L512.8 643.2L513.2 627.0L513.7 655.2L514.1 629.0L514.6 655.9L515.0 633.8L515.5 656.6L515.9 643.0L516.4 664.6L516.8 659.1L517.3 641.2L517.7 631.1L518.2 625.9L518.6 645.9L519.1 617.1L519.5 631.4L520.0 643.1L520.4 650.1L520.9 648.7L521.3 644.3L521.8 646.0L522.2 618.8L522.7 625.9L523.1 635.1L523.6 630.7L524.0 640.6L524.5 627.6L524.9 667.0L525.4 640.5L525.8 634.2L526.3 661.4L526.7 624.2L527.2 641.8L527.6 660.0L528.1 619.5L528.5 641.8L529.0 633.8L529.4 623.7L529.9 625.7L530.3 654.4L530.8 616.0L531.2 616.0L531.7 663.6L532.1 625.5L532.6 620.7L533.0 629.8L533.5 681.0L533.9 686.6L534.4 675.6L534.8 683.7L535.3 685.2L535.7 685.2L536.2 687.9L536.6 675.2L537.1 687.7L537.5 684.2L538.0 684.4L538.4 685.9L538.9 687.7L539.3 685.3L539.8 678.9L540.2 686.4L540.7 673.9L541.1 683.7L541.6 677.2L542.0 683.4L542.5 684.6L542.9 677.6L543.4 680.2L543.8 677.1L544.3 673.6L544.7 681.9L545.2 685.5L545.6 675.0L546.1 679.2L546.5 685.0L547.0 676.1L547.4 677.3L547.9 674.2L548.3 602.9L548.8 599.8L549.2 597.7L549.7 594.9L550.1 591.4L550.6 580.0L551.0 599.1L551.5 615.8L551.9 608.4L552.4 598.4L552.8 583.7L553.3 605.5L553.7 589.2L554.2 576.8L554.6 586.7L555.1 600.7L555.5 597.5L556.0 592.0L556.4 595.0L556.9 584.9L557.3 630.6L557.8 612.8L558.2 598.8L558.7 559.3L559.1 569.3L559.6 575.7L560.0 577.2L560.5 588.0L560.9 614.1L561.4 622.3L561.8 581.1L562.3 625.0L562.7 619.0L563.2 601.7L563.6 602.8L564.1 587.1L564.5 580.3L565.0 581.0L565.4 660.1L565.9 649.0L566.3 640.6L566.8 655.2L567.2 654.0L567.7 659.5L568.1 657.8L568.6 661.6L569.0 590.0L569.5 613.9L569.9 641.9L570.4 628.4L570.8 641.1L571.3 587.7L571.7 616.6L572.2 655.0L572.6 633.4L573.1 662.2L573.5 641.0L574.0 655.7L574.4 629.8L574.9 650.4L575.3 647.7L575.8 648.3L576.2 654.0L576.7 668.9L577.1 629.2L577.6 635.8L578.0 645.9L578.5 642.6L578.9 626.8L579.4 645.7L579.8 635.3L580.3 627.1L580.7 648.6L581.2 629.1L581.6 649.6L582.1 654.0L582.5 653.1L583.0 636.9L583.4 644.2L583.9 636.6L584.3 660.9L584.8 665.4L585.2 655.5L585.7 654.6L586.1 659.1L586.6 665.0L587.0 640.1L587.5 657.1L587.9 650.0L588.4 652.6L588.8 660.1L589.3 677.6L589.7 644.7L590.2 650.9L590.6 664.1L591.1 657.1L591.5 662.4L592.0 662.1L592.4 664.3L592.9 643.6L593.3 606.7L593.8 622.0L594.2 663.1L594.7 666.0L595.1 661.5L595.6 659.9L596.0 668.0L596.5 668.3L596.9 644.9L597.4 662.4L597.8 658.3L598.3 667.8L598.7 651.6L599.2 670.5L599.6 648.5L600.1 641.4L600.5 658.3L601.0 646.6L601.4 669.3L601.9 655.4L602.3 660.3L602.8 668.3L603.2 672.5L603.7 668.7L604.1 669.4L604.6 639.5L605.1 647.6L605.5 647.9L606.0 654.2L606.4 657.1L606.9 652.5L607.3 670.2L607.8 669.0L608.2 638.5L608.7 647.6L609.1 536.6L609.6 615.1L610.0 627.3L610.5 544.4L610.9 567.2L611.4 488.7L611.8 493.0L612.3 635.7L612.7 614.2L613.2 619.9L613.6 539.2L614.1 535.4L614.5 526.5L615.0 526.6L615.4 552.0L615.9 533.8L616.3 546.9L616.8 551.7L617.2 541.8L617.7 621.4L618.1 606.4L618.6 599.7L619.0 619.8L619.5 620.4L619.9 609.9L620.4 607.8L620.8 624.2L621.3 631.3L621.7 618.2L622.2 614.6L622.6 597.2L623.1 623.9L623.5 601.7L624.0 626.6L624.4 610.7L624.9 613.6L625.3 630.4L625.8 621.1L626.2 594.4L626.7 597.0L627.1 601.1L627.6 600.9L628.0 606.4L628.5 605.6L628.9 605.4L629.4 592.3L629.8 596.6L630.3 591.1L630.7 608.2L631.2 593.0L631.6 596.6L632.1 601.6L632.5 614.7L633.0 625.7L633.4 623.8L633.9 609.1L634.3 602.9L634.8 607.7L635.2 610.2L635.7 606.8L636.1 610.7L636.6 592.1L637.0 606.6L637.5 616.5L637.9 590.6L638.4 601.9L638.8 597.8L639.3 620.0L639.7 625.7L640.2 631.5L640.6 589.1L641.1 601.3L641.5 596.9L642.0 602.8L642.4 630.9L642.9 601.7L643.3 596.5L643.8 633.5L644.2 633.3L644.7 625.0L645.1 626.9L645.6 626.4L646.0 616.8L646.5 614.6L646.9 608.8L647.4 580.3L647.8 580.3L648.3 599.0L648.7 625.1L649.2 628.6L649.6 610.1L650.1 621.7L650.5 602.3L651.0 615.3L651.4 612.3L651.9 598.2L652.3 610.5L652.8 628.8L653.2 625.1L653.7 625.4L654.1 624.4L654.6 631.7L655.0 623.9L655.5 632.9L655.9 628.8L656.4 628.8L656.8 629.2L657.3 623.2L657.7 633.5L658.2 622.9L658.6 627.3L659.1 626.0L659.5 635.2L660.0 630.8L660.4 624.9L660.9 626.4L661.3 627.2L661.8 628.9L662.2 633.0L662.7 625.3L663.1 628.5L663.6 627.7L664.0 628.1L664.5 633.5L664.9 628.2L665.4 627.8L665.8 627.6L666.3 625.3L666.7 628.6L667.2 629.5L667.6 615.6L668.1 630.0L668.5 617.5L669.0 622.4L669.4 622.0L669.9 611.8L670.3 626.7L670.8 615.8L671.2 617.2L671.7 610.9L672.1 624.9L672.6 607.5L673.0 607.8L673.5 613.9L673.9 618.1L674.4 626.6L674.8 607.3L675.3 627.7L675.7 616.9L676.2 606.5L676.6 618.9L677.1 628.5L677.5 609.3L678.0 606.1L678.4 626.5L678.9 611.2L679.3 622.8L679.8 620.3L680.2 608.3L680.7 616.7L681.1 628.6L681.6 614.1L682.0 618.5L682.5 655.2L682.9 653.8L683.4 646.6L683.8 652.6L684.3 655.1L684.7 644.4L685.2 662.5L685.6 647.2L686.1 653.7L686.5 642.3L687.0 662.0L687.4 648.2L687.9 650.1L688.3 659.2L688.8 656.3L689.2 658.0L689.7 654.1L690.1 652.1L690.6 651.3L691.0 647.4L691.5 640.9L691.9 644.4L692.4 656.6L692.8 628.2L693.3 636.1L693.7 632.9L694.2 621.3L694.6 627.2L695.1 625.7L695.5 629.0L696.0 643.5L696.4 638.7L696.9 633.9L697.3 629.3L697.8 642.4L698.2 625.8L698.7 639.8L699.1 639.0L699.6 644.3L700.0 627.6L700.5 632.3L700.9 639.1L701.4 638.7L701.8 633.4L702.3 626.1L702.7 634.6L703.2 642.3L703.6 607.0L704.1 613.9L704.5 640.0L705.0 637.1L705.4 638.6L705.9 639.9L706.3 643.7L706.8 640.8L707.2 641.4L707.7 646.3L708.1 632.2L708.6 645.6L709.0 639.7L709.5 629.9L709.9 647.5L710.4 630.3L710.8 634.0L711.3 644.8L711.7 632.1L712.2 634.7L712.6 642.7L713.1 636.6L713.5 634.7L714.0 638.5L714.4 610.0L714.9 622.1L715.3 654.0L715.8 649.2L716.2 647.2L716.7 660.6L717.1 657.6L717.6 655.5L718.0 635.9L718.5 641.2L718.9 638.3L719.4 650.6L719.8 641.3L720.3 654.2L720.7 640.4L721.2 640.0L721.6 656.1L722.1 659.7L722.5 651.6L723.0 648.2L723.4 655.3L723.9 658.3L724.3 644.7L724.8 656.2L725.2 652.5L725.7 647.7L726.1 638.1L726.6 643.0L727.0 660.8L727.5 641.5L727.9 644.9L728.4 646.2L728.8 652.8L729.3 655.0L729.7 656.4L730.2 657.9L730.6 646.9L731.1 643.1L731.5 634.0L732.0 630.5L732.4 640.1L732.9 659.2L733.3 651.6L733.8 652.6L734.2 641.4L734.7 657.9L735.1 644.5L735.6 643.6L736.0 655.7L736.5 635.9L736.9 642.5L737.4 641.1L737.8 654.7L738.3 661.1L738.7 644.3L739.2 660.7L739.6 637.8L740.1 592.0L740.5 604.1L741.0 652.0L741.4 664.9L741.9 659.9L742.3 637.8L742.8 656.0L743.2 638.6L743.7 636.2L744.1 630.2L744.6 651.4L745.0 640.9L745.5 631.9L745.9 656.1L746.4 646.4L746.8 656.6L747.3 639.7L747.7 640.2L748.2 650.4L748.6 633.6L749.1 642.1L749.5 632.6L750.0 630.9L750.4 653.7L750.9 651.5L751.3 662.8L751.8 649.8L752.2 659.6L752.7 636.8L753.1 660.5L753.6 645.5L754.0 666.9L754.5 653.9L754.9 660.1L755.4 640.9L755.8 515.0L756.3 591.8L756.7 630.1L757.2 646.4L757.6 642.3L758.1 653.1L758.5 659.1L759.0 648.8L759.4 657.1L759.9 636.8L760.3 660.5L760.8 655.2L761.2 658.5L761.7 647.3L762.1 662.9L762.6 661.8L763.0 640.2L763.5 640.0L763.9 657.8L764.4 649.8L764.8 666.6L765.3 643.4L765.7 642.3L766.2 638.4L766.6 662.7L767.1 655.4L767.5 674.7L768.0 659.8L768.4 673.0L768.9 652.3L769.3 667.7L769.8 651.6L770.2 663.2L770.7 653.5L771.1 670.2L771.6 670.3L772.0 655.0L772.5 654.2L772.9 661.1L773.4 648.2L773.8 608.0L774.3 629.9L774.7 672.3L775.2 654.6L775.6 650.4L776.1 658.0L776.5 660.6L777.0 651.4L777.4 671.1L777.9 647.4L778.3 658.1L778.8 652.0L779.2 672.7L779.7 659.4L780.1 657.3L780.6 664.7L781.0 663.2L781.5 654.3L781.9 656.0L782.4 661.6L782.8 647.4L783.3 664.0L783.7 677.9L784.2 669.3L784.6 681.7L785.1 510.8L785.5 578.7L786.0 649.8L786.4 652.4L786.9 676.9L787.3 658.2L787.8 658.9L788.2 673.6L788.7 663.3L789.1 662.2L789.6 682.6L790.0 662.5L790.5 662.9L790.9 670.0L791.4 649.6L791.8 665.4L792.3 667.3L792.7 656.2L793.2 678.2L793.6 663.0L794.1 685.9L794.5 674.5L795.0 652.4L795.4 677.0L795.9 661.7L796.3 666.2L796.8 666.4L797.2 667.9L797.7 654.9L798.1 661.4L798.6 649.5L799.0 656.4L799.5 664.8L799.9 639.6L800.4 667.1L800.8 654.2L801.3 680.5L801.7 673.1L802.2 654.9L802.6 643.6L803.1 646.5L803.5 661.6L804.0 647.6L804.4 646.6L804.9 645.1L805.3 643.1L805.8 680.8L806.2 640.0L806.7 668.3L807.1 650.9L807.6 644.6L808.0 649.4L808.5 637.7L808.9 650.0L809.4 657.3L809.8 649.8L810.3 653.1L810.7 654.6L811.2 668.1L811.6 659.1L812.1 653.7L812.5 651.5L813.0 665.3L813.4 667.0L813.9 671.1L814.3 679.4L814.8 671.1L815.2 668.1L815.7 649.0L816.1 647.2L816.6 681.1L817.0 622.0L817.5 631.5L817.9 652.8L818.4 683.1L818.8 672.7L819.3 673.5L819.7 680.8L820.2 687.2L820.6 679.4L821.1 691.6L821.5 686.0L822.0 656.0L822.4 695.4L822.9 662.6L823.3 597.2L823.8 625.8L824.2 687.6L824.7 661.3L825.1 660.1L825.6 662.1L826.0 672.0L826.5 684.4L826.9 682.0L827.4 688.1L827.8 682.8L828.3 660.5L828.7 661.9L829.2 678.7L829.6 682.4L830.1 688.4L830.5 696.5L831.0 697.3L831.4 659.6L831.9 685.6L832.3 660.0L832.8 671.0L833.2 686.7L833.7 667.1L834.1 687.6L834.6 678.6L835.0 692.3L835.5 689.7L835.9 684.2L836.4 677.1L836.8 690.0L837.3 679.1L837.7 676.4L838.2 667.3L838.6 652.8L839.1 665.5L839.5 682.2L840.0 683.4L840.4 671.4L840.9 656.2L841.3 675.1L841.8 684.4L842.2 665.1L842.7 680.9L843.1 656.9L843.6 668.0L844.0 660.7L844.5 662.4L844.9 658.5L845.4 679.6L845.8 666.3L846.3 689.7L846.7 671.8L847.2 679.5L847.6 677.1L848.1 693.1L848.5 652.2L849.0 675.7L849.4 690.9L849.9 683.3L850.3 661.8L850.8 657.9L851.2 695.2L851.7 671.4L852.1 683.4L852.6 653.4L853.0 656.0L853.5 688.1L853.9 669.4L854.4 685.8L854.8 689.1L855.3 657.4L855.7 660.7L856.2 691.2L856.6 691.2L857.1 668.8L857.5 674.6L858.0 671.1L858.4 693.7L858.9 616.0L859.3 630.3L859.8 669.9L860.2 652.5L860.7 672.4L861.1 690.0L861.6 677.7L862.0 653.8L862.5 682.7L862.9 659.5L863.4 670.2L863.8 667.9L864.3 663.5L864.7 676.8L865.2 672.3L865.6 668.6L866.1 645.2L866.5 669.2L867.0 682.3L867.4 672.1L867.9 655.5L868.3 680.7L868.8 658.7L869.2 677.5L869.7 637.7L870.1 644.7L870.6 664.9L871.0 650.4L871.5 654.0L871.9 587.7L872.4 612.9L872.8 664.7L873.3 677.8L873.7 685.5L874.2 643.3L874.6 662.8L875.1 654.6L875.5 641.4L876.0 642.2L876.4 666.2L876.9 687.6L877.3 660.6L877.8 645.3L878.2 685.0L878.7 674.1L879.1 653.0L879.6 654.6L880.0 664.5L880.5 662.0L880.9 649.4L881.4 688.5L881.8 676.3L882.3 685.2L882.7 660.1L883.2 675.1L883.6 648.2L884.1 688.6L884.5 650.4L885.0 676.5L885.4 674.4L885.9 668.7L886.3 642.0L886.8 643.4L887.2 680.1L887.7 661.3L888.1 672.2L888.6 645.8L889.0 637.2L889.5 679.5L889.9 652.5L890.4 659.3L890.8 599.3L891.3 636.4L891.7 599.3L892.2 626.6L892.6 655.5L893.1 654.0L893.5 672.9L894.0 663.3L894.4 656.8L894.9 663.1L895.3 666.9L895.8 656.1L896.2 654.1L896.7 652.5L897.1 667.7L897.6 622.0L898.0 630.6L898.5 669.6L898.9 659.3L899.4 667.5L899.8 654.0L900.3 675.9L900.7 677.8L901.2 677.1L901.6 656.3L902.1 656.5L902.5 655.4L903.0 677.2L903.4 653.2L903.9 666.7L904.3 663.4L904.8 651.7L905.2 646.0L905.7 655.0L906.1 657.6L906.6 659.1L907.0 656.1L907.5 647.6L907.9 651.7L908.4 649.5L908.8 645.1L909.3 648.0L909.7 644.8L910.2 659.4L910.6 654.4L911.1 653.8L911.5 649.6L912.0 657.3L912.4 634.9L912.9 631.4L913.3 632.5L913.8 639.7L914.2 629.9L914.7 638.6L915.1 637.7L915.6 642.7L916.0 640.0L916.5 650.7L916.9 654.7L917.4 629.5L917.8 645.5L918.3 629.3L918.7 634.5L919.2 655.8L919.6 636.4L920.1 633.5L920.5 645.3L921.0 639.9L921.4 646.3L921.9 634.5L922.3 647.0L922.8 638.9L923.2 646.5L923.7 625.4L924.1 591.0L924.6 607.9L925.0 637.8L925.5 652.6L925.9 653.2L926.4 650.3L926.8 642.7L927.3 643.6L927.7 629.1L928.2 649.8L928.6 650.7L929.1 641.8L929.5 645.3L930.0 639.9L930.4 627.5L930.9 651.5L931.3 644.3L931.8 652.8L932.2 646.1L932.7 648.3L933.1 646.4L933.6 648.3L934.0 638.1L934.5 655.7L934.9 644.1L935.4 631.6L935.8 637.0L936.3 638.8L936.7 638.7L937.2 635.1L937.6 645.8L938.1 639.9L938.5 637.2L939.0 630.0L939.4 649.2L939.9 644.1L940.3 640.5L940.8 629.6L941.2 645.4L941.7 638.1L942.1 652.7L942.6 646.9L943.0 639.6L943.5 648.8L943.9 649.4L944.4 637.2L944.8 627.3L945.3 644.7L945.7 644.4L946.2 634.8L946.6 652.0L947.1 604.6L947.5 613.0L948.0 609.7L948.4 614.2L948.9 606.5L949.3 614.8L949.8 627.2L950.2 621.0L950.7 603.6L951.1 555.0L951.6 588.2L952.0 640.0L952.5 611.7L952.9 638.4L953.4 672.4L953.8 651.3L954.3 642.0L954.7 646.1L955.2 656.8L955.6 661.6L956.1 639.2L956.5 652.5L957.0 650.9L957.4 659.0L957.9 628.8L958.3 640.6L958.8 651.6L959.2 635.7L959.7 630.0L960.1 640.6L960.6 641.0L961.0 631.0L961.5 658.8L961.9 663.5L962.4 657.7L962.8 656.6L963.3 655.3L963.7 636.8L964.2 631.4L964.6 629.3L965.1 632.6L965.5 638.8L966.0 659.4L966.4 626.9L966.9 660.8L967.3 658.8L967.8 651.5L968.2 579.3L968.7 599.5L969.1 667.2L969.6 670.9L970.0 657.0L970.5 665.8L970.9 673.7L971.4 664.2L971.8 645.5L972.3 669.9L972.7 664.9L973.2 635.6L973.6 647.4L974.1 642.7L974.5 633.1L975.0 664.0L975.4 656.6L975.9 662.9L976.3 643.4L976.8 662.6L977.2 661.6L977.7 654.0L978.1 656.5L978.6 638.5L979.0 646.1L979.5 640.6L979.9 642.1L980.4 647.4L980.8 638.1L981.3 640.4L981.7 637.6L982.2 659.7L982.6 654.4L983.1 645.1L983.5 662.5L984.0 633.3L984.4 636.8L984.9 662.8L985.3 682.4L985.8 679.8L986.2 679.1L986.7 655.2L987.1 683.8L987.6 678.4L988.0 682.1L988.5 607.0L988.9 625.7L989.4 676.5L989.8 652.4L990.3 641.2L990.7 658.6L991.2 678.1L991.6 681.3L992.1 649.4L992.5 669.5L993.0 643.6L993.4 644.4L993.9 646.0L994.3 667.7L994.8 671.6L995.2 670.2L995.7 643.8L996.1 665.3L996.6 678.4L997.0 653.2L997.5 598.3L997.9 628.7L998.4 682.1L998.8 643.7L999.3 667.0L999.7 654.9L1000.2 673.2L1000.6 644.0L1001.1 664.1L1001.5 645.6L1002.0 675.4L1002.4 678.9L1002.9 661.8L1003.3 667.8L1003.8 665.5L1004.2 669.7L1004.7 681.8L1005.1 669.6L1005.6 668.3L1006.0 654.0L1006.5 672.4L1006.9 654.2L1007.4 680.5L1007.8 661.2L1008.3 658.8L1008.7 648.9L1009.2 689.1L1009.6 609.0L1010.1 627.7L1010.5 676.3L1011.0 656.9L1011.4 668.4L1011.9 659.7L1012.3 683.1L1012.8 658.3L1013.2 670.4L1013.7 672.3L1014.1 662.8L1014.6 681.3L1015.0 662.6L1015.5 667.7L1015.9 657.7L1016.4 675.9L1016.8 664.7L1017.3 671.1L1017.7 678.8L1018.2 675.3L1018.6 663.3L1019.1 666.7L1019.5 684.2L1020.0 660.9L1020.4 688.6L1020.9 665.1L1021.3 674.9L1021.8 666.1L1022.2 660.3L1022.7 682.8L1023.1 659.0L1023.6 661.1L1024.0 678.0L1024.5 666.5L1024.9 656.4L1025.4 669.2L1025.8 651.7L1026.3 656.7L1026.7 689.6L1027.2 660.8L1027.6 655.8L1028.1 679.9L1028.5 668.4L1029.0 631.0L1029.4 637.2L1029.9 670.3L1030.3 689.6L1030.8 649.8L1031.2 676.7L1031.7 650.4L1032.1 691.7L1032.6 683.1L1033.0 694.6L1033.5 677.6L1033.9 661.2L1034.4 685.6L1034.8 698.6L1035.3 670.3L1035.7 701.5L1036.2 660.5L1036.6 677.0L1037.1 692.3L1037.5 686.0L1038.0 676.6L1038.4 648.0L1038.9 647.9L1039.3 661.2L1039.8 662.1L1040.2 674.8L1040.7 675.1L1041.1 672.9L1041.6 671.4L1042.0 684.6L1042.5 713.1L1042.9 711.6L1043.4 706.8L1043.8 691.3L1044.3 698.6L1044.7 692.1L1045.2 688.2L1045.6 706.0L1046.1 686.4L1046.5 697.1L1047.0 689.8L1047.4 690.9L1047.9 711.5L1048.3 701.4L1048.8 705.2L1049.2 712.1L1049.7 709.0L1050.1 709.8L1050.6 691.8L1051.0 688.7L1051.5 708.4L1051.9 711.0L1052.4 688.1L1052.8 706.8L1053.3 689.7L1053.7 716.3L1054.2 703.5L1054.6 701.9L1055.1 704.3L1055.5 688.8L1056.0 687.5L1056.4 681.1L1056.9 691.7L1057.3 701.4L1057.8 689.1L1058.2 693.4L1058.7 685.6L1059.1 710.0L1059.6 704.2L1060.0 626.7L1060.5 643.3L1060.9 685.9L1061.4 706.5L1061.8 688.4L1062.3 693.8L1062.7 692.3L1063.2 700.1L1063.6 680.3L1064.1 708.2L1064.5 711.1L1065.0 701.6L1065.4 709.1L1065.9 690.7L1066.3 694.4L1066.8 712.8L1067.2 686.6L1067.7 686.9L1068.1 710.4L1068.6 678.0L1069.0 682.7L1069.5 700.3L1069.9 691.8L1070.4 699.9L1070.8 653.0L1071.3 660.7L1071.7 704.4L1072.2 706.0L1072.6 713.2L1073.1 699.6L1073.5 704.6L1074.0 707.7L1074.4 703.4L1074.9 692.0L1075.3 683.2L1075.8 702.1L1076.2 706.4L1076.7 708.4L1077.1 695.4L1077.6 708.8L1078.0 692.6L1078.5 683.8L1078.9 687.3L1079.4 710.9L1079.8 667.0L1080.3 671.4L1080.7 705.7L1081.2 694.0L1081.6 690.7L1082.1 707.9L1082.5 678.1L1083.0 686.5L1083.4 689.8L1083.9 679.5L1084.3 686.1L1084.8 690.3L1085.2 686.3L1085.7 701.4L1086.1 681.6L1086.6 699.2L1087.0 709.6L1087.5 698.2L1087.9 693.8L1088.4 707.6L1088.8 685.0L1089.3 704.8L1089.7 710.6L1090.2 686.9L1090.6 694.7L1091.1 704.9L1091.5 697.4L1092.0 685.3L1092.4 693.8L1092.9 701.2L1093.3 683.4L1093.8 694.9L1094.2 712.2L1094.7 697.7L1095.1 708.2L1095.6 704.4L1096.0 714.0L1096.5 699.3L1096.9 701.4L1097.4 692.3L1097.8 682.0L1098.3 692.2L1098.7 686.7L1099.2 661.2L1099.6 672.1L1100.1 672.0L1100.5 679.9L1101.0 674.3L1101.4 695.0L1101.9 693.3L1102.3 675.9L1102.8 671.0L1103.2 682.1L1103.7 670.4L1104.1 677.6L1104.6 678.4L1105.0 652.4L1105.5 661.9L1105.9 669.2L1106.4 667.8L1106.8 669.2L1107.3 655.6L1107.7 657.3L1108.2 665.6L1108.6 657.3L1109.1 680.3L1109.5 668.2L1110.0 680.4L1110.4 669.0L1110.9 668.4L1111.3 670.7L1111.8 684.6L1112.2 674.9L1112.7 665.7L1113.1 661.7L1113.6 653.6L1114.0 675.2L1114.5 660.1L1114.9 677.5L1115.4 671.8L1115.8 678.2L1116.3 656.6L1116.7 675.1L1117.2 662.0L1117.6 675.4L1118.1 653.8L1118.5 656.7L1119.0 672.7L1119.4 673.2L1119.9 660.4L1120.3 653.2L1120.8 650.3L1121.2 671.0L1121.7 674.0L1122.1 626.5L1122.6 629.2L1123.0 621.8L1123.5 633.2L1123.9 619.4L1124.4 636.0L1124.8 619.3L1125.3 630.0L1125.7 632.3L1126.2 630.8L1126.6 626.6L1127.1 628.2L1127.5 619.5L1128.0 633.0L1128.4 629.7L1128.9 635.6L1129.3 616.2L1129.8 632.9L1130.2 615.8L1130.7 632.0L1131.1 634.0L1131.6 621.1L1132.0 618.0L1132.5 626.4L1132.9 633.1L1133.4 631.7L1133.8 614.9L1134.3 629.9L1134.7 591.9L1135.2 609.1L1135.6 559.3L1136.1 573.7L1136.5 620.6L1137.0 639.5L1137.4 635.3L1137.9 639.1L1138.3 680.7L1138.8 638.8L1139.2 667.3L1139.7 658.3L1140.1 618.6L1140.6 641.8L1141.0 674.4L1141.5 671.6L1141.9 644.2L1142.4 623.8L1142.8 650.3L1143.3 672.4L1143.7 628.9" fill="none" stroke="#000" stroke-width="1.8" stroke-linejoin="round"/><path d="M142.0 582.5h0M142.4 579.8h0M142.9 581.3h0M143.3 570.5h0M143.8 559.0h0M144.2 560.4h0M144.7 613.5h0M145.1 615.2h0M145.6 616.8h0M146.0 598.6h0M146.5 578.3h0M146.9 598.0h0M147.4 617.8h0M147.8 617.3h0M148.3 580.7h0M148.7 577.3h0M149.2 610.1h0M149.6 597.6h0M150.1 604.4h0M150.5 649.0h0M151.0 635.4h0M151.4 637.9h0M151.9 631.7h0M152.3 648.6h0M152.8 648.7h0M153.2 650.4h0M153.7 635.6h0M154.1 639.9h0M154.6 640.5h0M155.0 634.3h0M155.5 642.5h0M155.9 635.8h0M156.4 642.7h0M156.8 645.4h0M157.3 639.1h0M157.7 640.9h0M158.2 650.4h0M158.6 627.4h0M159.1 633.7h0M159.5 648.8h0M160.0 631.9h0M160.4 605.6h0M160.9 621.7h0M161.3 600.1h0M161.8 563.5h0M162.2 584.6h0M162.7 630.3h0M163.1 609.1h0M163.6 609.2h0M164.0 639.8h0M164.5 649.5h0M164.9 663.1h0M165.4 651.6h0M165.8 665.9h0M166.3 658.6h0M166.7 663.0h0M167.2 666.6h0M167.6 660.5h0M168.1 663.0h0M168.5 663.9h0M169.0 654.5h0M169.4 657.6h0M169.9 661.8h0M170.3 650.6h0M170.8 656.4h0M171.2 653.5h0M171.7 662.2h0M172.1 660.6h0M172.6 661.5h0M173.0 662.3h0M173.5 657.0h0M173.9 652.5h0M174.4 651.0h0M174.8 655.9h0M175.3 655.7h0M175.7 658.2h0M176.2 660.8h0M176.6 661.9h0M177.1 632.0h0M177.5 643.2h0M178.0 658.3h0M178.4 664.3h0M178.9 655.4h0M179.3 667.9h0M179.8 658.4h0M180.2 660.8h0M180.7 666.3h0M181.1 668.9h0M181.6 654.3h0M182.0 656.0h0M182.5 664.0h0M182.9 656.7h0M183.4 666.1h0M183.8 664.3h0M184.3 664.3h0M184.7 657.2h0M185.2 660.4h0M185.6 664.1h0M186.1 656.0h0M186.5 652.1h0M187.0 657.2h0M187.4 654.0h0M187.9 669.0h0M188.3 655.2h0M188.8 665.8h0M189.2 662.4h0M189.7 662.0h0M190.1 661.7h0M190.6 660.8h0M191.0 666.2h0M191.5 662.8h0M191.9 666.2h0M192.4 660.6h0M192.8 662.3h0M193.3 660.2h0M193.7 664.6h0M194.2 660.7h0M194.6 662.2h0M195.1 660.6h0M195.5 663.3h0M196.0 576.0h0M196.4 640.4h0M196.9 663.9h0M197.3 657.7h0M197.8 656.7h0M198.2 658.1h0M198.7 656.2h0M199.1 656.4h0M199.6 656.5h0M200.0 659.3h0M200.5 661.7h0M200.9 658.0h0M201.4 657.7h0M201.8 657.3h0M202.3 655.5h0M202.7 659.5h0M203.2 655.6h0M203.6 614.6h0M204.1 612.0h0M204.5 607.1h0M205.0 610.0h0M205.4 618.3h0M205.9 612.8h0M206.3 602.9h0M206.8 608.5h0M207.2 617.9h0M207.7 627.4h0M208.1 602.3h0M208.6 612.5h0M209.0 618.9h0M209.5 630.0h0M209.9 620.4h0M210.4 613.0h0M210.8 600.4h0M211.3 617.8h0M211.7 609.2h0M212.2 581.5h0M212.6 613.3h0M213.1 542.4h0M213.5 555.1h0M214.0 584.7h0M214.4 627.1h0M214.9 572.4h0M215.3 583.7h0M215.8 608.8h0M216.2 583.2h0M216.7 591.5h0M217.1 600.0h0M217.6 580.7h0M218.0 606.2h0M218.5 598.4h0M218.9 524.5h0M219.4 548.1h0M219.8 613.4h0M220.3 567.3h0M220.7 597.4h0M221.2 613.5h0M221.6 600.9h0M222.1 595.0h0M222.5 629.8h0M223.0 642.3h0M223.4 631.3h0M223.9 640.2h0M224.3 644.3h0M224.8 643.1h0M225.2 633.1h0M225.7 631.9h0M226.1 630.0h0M226.6 638.1h0M227.0 641.7h0M227.5 628.4h0M227.9 628.1h0M228.4 641.9h0M228.8 628.8h0M229.3 639.1h0M229.7 637.1h0M230.2 640.5h0M230.6 627.9h0M231.1 630.4h0M231.5 642.6h0M232.0 639.8h0M232.4 636.9h0M232.9 629.8h0M233.3 634.0h0M233.8 628.8h0M234.2 630.2h0M234.7 641.2h0M235.1 627.6h0M235.6 646.6h0M236.0 629.0h0M236.5 631.8h0M236.9 635.2h0M237.4 629.8h0M237.8 638.4h0M238.3 637.8h0M238.7 638.0h0M239.2 603.1h0M239.6 595.0h0M240.1 504.5h0M240.5 504.5h0M241.0 605.7h0M241.4 541.4h0M241.9 524.0h0M242.3 541.6h0M242.8 525.8h0M243.2 528.3h0M243.7 525.3h0M244.1 532.8h0M244.6 549.1h0M245.0 545.1h0M245.5 549.9h0M245.9 532.3h0M246.4 535.0h0M246.8 550.0h0M247.3 555.5h0M247.7 557.7h0M248.2 551.0h0M248.6 530.8h0M249.1 537.8h0M249.5 534.8h0M250.0 552.0h0M250.4 548.4h0M250.9 542.0h0M251.3 551.3h0M251.8 544.2h0M252.2 541.5h0M252.7 538.6h0M253.1 555.4h0M253.6 546.6h0M254.0 555.8h0M254.5 539.9h0M254.9 543.8h0M255.4 552.0h0M255.8 550.8h0M256.3 570.9h0M256.7 574.3h0M257.2 582.4h0M257.6 589.2h0M258.1 597.8h0M258.5 568.1h0M259.0 570.1h0M259.4 614.0h0M259.9 609.7h0M260.3 577.6h0M260.8 579.8h0M261.2 583.3h0M261.7 575.3h0M262.1 660.4h0M262.6 611.5h0M263.0 603.4h0M263.5 569.1h0M263.9 632.0h0M264.4 569.5h0M264.8 575.9h0M265.3 629.1h0M265.7 590.2h0M266.2 610.8h0M266.6 609.8h0M267.1 571.1h0M267.5 576.5h0M268.0 588.2h0M268.4 595.0h0M268.9 590.6h0M269.3 606.1h0M269.8 602.1h0M270.2 594.0h0M270.7 617.8h0M271.1 601.7h0M271.6 596.4h0M272.0 599.1h0M272.5 591.7h0M272.9 607.2h0M273.4 594.4h0M273.8 578.8h0M274.3 593.3h0M274.7 597.4h0M275.2 625.4h0M275.6 612.2h0M276.1 595.6h0M276.5 596.5h0M277.0 594.8h0M277.4 616.4h0M277.9 603.3h0M278.3 615.0h0M278.8 599.8h0M279.2 599.8h0M279.7 589.9h0M280.1 605.2h0M280.6 588.4h0M281.0 603.9h0M281.5 592.5h0M281.9 607.7h0M282.4 614.1h0M282.8 605.7h0M283.3 598.8h0M283.7 635.1h0M284.2 638.9h0M284.6 627.6h0M285.1 627.6h0M285.5 626.1h0M286.0 624.8h0M286.4 626.9h0M286.9 639.8h0M287.3 622.1h0M287.8 626.3h0M288.2 608.1h0M288.7 616.4h0M289.1 625.5h0M289.6 609.3h0M290.0 602.2h0M290.5 625.9h0M290.9 610.7h0M291.4 611.3h0M291.8 620.0h0M292.3 603.8h0M292.7 611.1h0M293.2 618.0h0M293.6 609.4h0M294.1 624.0h0M294.5 621.9h0M295.0 620.2h0M295.4 615.5h0M295.9 606.6h0M296.3 619.0h0M296.8 604.7h0M297.2 605.4h0M297.7 618.1h0M298.1 603.7h0M298.6 608.0h0M299.0 626.5h0M299.5 609.1h0M299.9 625.9h0M300.4 612.5h0M300.8 621.0h0M301.3 619.0h0M301.7 610.5h0M302.2 625.9h0M302.6 614.0h0M303.1 620.1h0M303.5 628.0h0M304.0 623.5h0M304.4 628.9h0M304.9 612.4h0M305.3 610.0h0M305.8 622.6h0M306.2 616.0h0M306.7 609.1h0M307.1 616.9h0M307.6 627.7h0M308.0 617.6h0M308.5 634.0h0M308.9 613.5h0M309.4 625.3h0M309.8 619.4h0M310.3 629.7h0M310.7 626.9h0M311.2 628.3h0M311.6 634.9h0M312.1 610.8h0M312.5 609.7h0M313.0 611.9h0M313.4 619.9h0M313.9 630.7h0M314.3 609.5h0M314.8 613.7h0M315.2 636.6h0M315.7 627.7h0M316.1 628.0h0M316.6 617.7h0M317.0 624.1h0M317.5 634.7h0M317.9 617.6h0M318.4 620.7h0M318.8 625.5h0M319.3 638.5h0M319.7 639.2h0M320.2 646.4h0M320.6 653.8h0M321.1 642.2h0M321.5 640.3h0M322.0 647.9h0M322.4 628.5h0M322.9 653.4h0M323.3 653.6h0M323.8 644.8h0M324.2 645.4h0M324.7 647.7h0M325.1 634.2h0M325.6 640.9h0M326.0 629.4h0M326.5 631.2h0M326.9 622.9h0M327.4 649.2h0M327.8 654.2h0M328.3 651.5h0M328.7 653.7h0M329.2 638.2h0M329.6 630.6h0M330.1 649.5h0M330.5 648.5h0M331.0 639.1h0M331.4 642.4h0M331.9 637.1h0M332.3 627.1h0M332.8 631.9h0M333.2 628.7h0M333.7 627.2h0M334.1 626.5h0M334.6 631.6h0M335.0 645.4h0M335.5 642.2h0M335.9 652.4h0M336.4 645.0h0M336.8 651.6h0M337.3 622.2h0M337.7 641.6h0M338.2 626.4h0M338.6 624.5h0M339.1 636.8h0M339.5 634.5h0M340.0 627.6h0M340.4 628.3h0M340.9 624.3h0M341.3 635.3h0M341.8 641.9h0M342.2 644.8h0M342.7 610.6h0M343.1 631.0h0M343.6 621.6h0M344.0 614.5h0M344.5 621.3h0M344.9 610.5h0M345.4 626.8h0M345.8 632.2h0M346.3 633.9h0M346.7 621.8h0M347.2 601.4h0M347.6 613.6h0M348.1 620.4h0M348.5 608.9h0M349.0 612.2h0M349.4 601.7h0M349.9 612.9h0M350.3 631.0h0M350.8 621.1h0M351.2 602.1h0M351.7 598.2h0M352.1 596.5h0M352.6 598.3h0M353.0 622.8h0M353.5 623.9h0M353.9 604.4h0M354.4 631.7h0M354.8 626.0h0M355.3 630.1h0M355.7 614.6h0M356.2 612.1h0M356.6 623.3h0M357.1 632.6h0M357.5 637.1h0M358.0 614.9h0M358.4 618.0h0M358.9 626.8h0M359.3 620.5h0M359.8 608.5h0M360.2 611.8h0M360.7 618.3h0M361.1 600.7h0M361.6 613.3h0M362.0 635.8h0M362.5 623.1h0M362.9 615.5h0M363.4 624.7h0M363.8 608.0h0M364.3 602.1h0M364.7 627.4h0M365.2 615.2h0M365.6 634.6h0M366.1 602.1h0M366.5 635.4h0M367.0 620.1h0M367.4 617.5h0M367.9 616.6h0M368.3 632.7h0M368.8 603.8h0M369.2 630.5h0M369.7 635.2h0M370.1 610.2h0M370.6 626.9h0M371.0 596.5h0M371.5 631.9h0M371.9 603.0h0M372.4 601.6h0M372.8 632.4h0M373.3 598.6h0M373.7 605.9h0M374.2 625.6h0M374.6 624.2h0M375.1 631.7h0M375.5 604.7h0M376.0 604.0h0M376.4 606.9h0M376.9 618.0h0M377.3 619.3h0M377.8 607.2h0M378.2 642.4h0M378.7 633.2h0M379.1 611.0h0M379.6 628.7h0M380.0 635.8h0M380.5 633.0h0M380.9 623.3h0M381.4 644.4h0M381.8 629.5h0M382.3 645.5h0M382.7 628.3h0M383.2 645.3h0M383.6 645.0h0M384.1 647.9h0M384.5 631.4h0M385.0 650.9h0M385.4 630.6h0M385.9 643.6h0M386.3 645.9h0M386.8 632.1h0M387.2 645.3h0M387.7 641.4h0M388.1 645.7h0M388.6 630.1h0M389.0 640.0h0M389.5 639.2h0M389.9 620.4h0M390.4 626.0h0M390.8 630.6h0M391.3 660.8h0M391.7 640.2h0M392.2 657.2h0M392.6 649.2h0M393.1 642.0h0M393.5 633.3h0M394.0 643.5h0M394.4 633.1h0M394.9 635.4h0M395.3 664.7h0M395.8 656.9h0M396.2 648.0h0M396.7 631.7h0M397.1 630.4h0M397.6 654.9h0M398.0 633.5h0M398.5 656.6h0M398.9 633.5h0M399.4 630.3h0M399.8 647.7h0M400.3 641.1h0M400.7 635.0h0M401.2 657.5h0M401.6 640.1h0M402.1 639.3h0M402.5 645.4h0M403.0 657.5h0M403.4 638.0h0M403.9 654.9h0M404.3 643.0h0M404.8 669.2h0M405.2 644.8h0M405.7 660.1h0M406.1 658.8h0M406.6 663.9h0M407.0 633.7h0M407.5 640.5h0M407.9 645.8h0M408.4 639.0h0M408.8 669.4h0M409.3 661.2h0M409.7 651.5h0M410.2 663.3h0M410.6 651.0h0M411.1 642.2h0M411.5 640.8h0M412.0 654.4h0M412.4 656.4h0M412.9 641.7h0M413.3 646.9h0M413.8 652.6h0M414.2 637.6h0M414.7 655.7h0M415.1 639.3h0M415.6 650.5h0M416.0 642.8h0M416.5 643.2h0M416.9 660.9h0M417.4 650.3h0M417.8 652.9h0M418.3 645.9h0M418.7 658.3h0M419.2 655.8h0M419.6 654.7h0M420.1 650.5h0M420.5 637.8h0M421.0 660.1h0M421.4 647.0h0M421.9 632.7h0M422.3 659.8h0M422.8 654.3h0M423.2 657.0h0M423.7 632.6h0M424.1 657.3h0M424.6 652.0h0M425.0 632.0h0M425.5 659.1h0M425.9 685.5h0M426.4 682.2h0M426.8 685.7h0M427.3 682.4h0M427.7 686.3h0M428.2 682.5h0M428.6 682.8h0M429.1 688.5h0M429.5 684.2h0M430.0 688.5h0M430.4 683.3h0M430.9 687.5h0M431.3 683.2h0M431.8 685.7h0M432.2 685.4h0M432.7 685.4h0M433.1 684.7h0M433.6 687.3h0M434.0 682.6h0M434.5 682.9h0M434.9 685.2h0M435.4 683.5h0M435.8 684.1h0M436.3 685.7h0M436.7 685.9h0M437.2 684.4h0M437.6 683.5h0M438.1 681.9h0M438.5 686.9h0M439.0 682.9h0M439.4 683.8h0M439.9 682.1h0M440.3 682.7h0M440.8 682.1h0M441.2 682.9h0M441.7 683.5h0M442.1 688.5h0M442.6 683.7h0M443.0 666.6h0M443.5 659.7h0M443.9 668.1h0M444.4 665.6h0M444.8 664.1h0M445.3 660.9h0M445.7 672.3h0M446.2 666.8h0M446.6 659.3h0M447.1 663.0h0M447.5 671.2h0M448.0 664.5h0M448.4 668.1h0M448.9 658.8h0M449.3 660.8h0M449.8 658.8h0M450.2 668.2h0M450.7 658.5h0M451.1 668.6h0M451.6 664.8h0M452.0 671.1h0M452.5 663.4h0M452.9 672.6h0M453.4 666.4h0M453.8 664.8h0M454.3 671.4h0M454.7 666.2h0M455.2 662.9h0M455.6 667.1h0M456.1 663.1h0M456.5 670.0h0M457.0 662.3h0M457.4 658.8h0M457.9 663.1h0M458.3 668.4h0M458.8 669.8h0M459.2 660.2h0M459.7 662.3h0M460.1 666.0h0M460.6 665.9h0M461.0 671.1h0M461.5 659.2h0M461.9 665.0h0M462.4 662.5h0M462.8 662.8h0M463.3 668.4h0M463.7 662.5h0M464.2 667.0h0M464.6 660.1h0M465.1 656.7h0M465.5 659.1h0M466.0 662.0h0M466.4 661.0h0M466.9 663.6h0M467.3 669.2h0M467.8 666.6h0M468.2 669.1h0M468.7 667.8h0M469.1 657.7h0M469.6 669.0h0M470.0 658.5h0M470.5 663.2h0M470.9 669.1h0M471.4 657.2h0M471.8 657.8h0M472.3 664.1h0M472.7 664.1h0M473.2 664.3h0M473.6 660.4h0M474.1 667.5h0M474.5 661.6h0M475.0 657.4h0M475.4 657.8h0M475.9 669.1h0M476.3 667.6h0M476.8 656.8h0M477.2 668.3h0M477.7 667.5h0M478.1 664.3h0M478.6 668.2h0M479.0 662.5h0M479.5 668.7h0M479.9 659.0h0M480.4 661.6h0M480.8 663.7h0M481.3 657.0h0M481.7 657.8h0M482.2 667.3h0M482.6 661.4h0M483.1 622.5h0M483.5 593.6h0M484.0 597.0h0M484.4 630.6h0M484.9 592.4h0M485.3 606.9h0M485.8 607.8h0M486.2 597.9h0M486.7 590.2h0M487.1 606.7h0M487.6 567.7h0M488.0 580.3h0M488.5 625.8h0M488.9 623.6h0M489.4 597.3h0M489.8 608.6h0M490.3 634.0h0M490.7 610.5h0M491.2 612.3h0M491.6 602.6h0M492.1 590.8h0M492.5 636.9h0M493.0 635.6h0M493.4 607.8h0M493.9 616.3h0M494.3 603.5h0M494.8 614.2h0M495.2 597.5h0M495.7 621.7h0M496.1 580.0h0M496.6 586.1h0M497.0 603.4h0M497.5 601.4h0M497.9 601.9h0M498.4 620.7h0M498.8 631.5h0M499.3 620.7h0M499.7 601.1h0M500.2 615.8h0M500.6 619.1h0M501.1 642.0h0M501.5 629.1h0M502.0 650.1h0M502.4 631.5h0M502.9 657.9h0M503.3 636.0h0M503.8 634.1h0M504.2 670.3h0M504.7 631.6h0M505.1 660.1h0M505.6 667.8h0M506.0 643.2h0M506.5 649.1h0M506.9 671.4h0M507.4 644.2h0M507.8 674.7h0M508.3 628.4h0M508.7 634.0h0M509.2 633.1h0M509.6 643.3h0M510.1 632.3h0M510.5 645.9h0M511.0 620.1h0M511.4 654.9h0M511.9 656.6h0M512.3 658.2h0M512.8 643.2h0M513.2 627.0h0M513.7 655.2h0M514.1 629.0h0M514.6 655.9h0M515.0 633.8h0M515.5 656.6h0M515.9 643.0h0M516.4 664.6h0M516.8 659.1h0M517.3 641.2h0M517.7 631.1h0M518.2 625.9h0M518.6 645.9h0M519.1 617.1h0M519.5 631.4h0M520.0 643.1h0M520.4 650.1h0M520.9 648.7h0M521.3 644.3h0M521.8 646.0h0M522.2 618.8h0M522.7 625.9h0M523.1 635.1h0M523.6 630.7h0M524.0 640.6h0M524.5 627.6h0M524.9 667.0h0M525.4 640.5h0M525.8 634.2h0M526.3 661.4h0M526.7 624.2h0M527.2 641.8h0M527.6 660.0h0M528.1 619.5h0M528.5 641.8h0M529.0 633.8h0M529.4 623.7h0M529.9 625.7h0M530.3 654.4h0M530.8 616.0h0M531.2 616.0h0M531.7 663.6h0M532.1 625.5h0M532.6 620.7h0M533.0 629.8h0M533.5 681.0h0M533.9 686.6h0M534.4 675.6h0M534.8 683.7h0M535.3 685.2h0M535.7 685.2h0M536.2 687.9h0M536.6 675.2h0M537.1 687.7h0M537.5 684.2h0M538.0 684.4h0M538.4 685.9h0M538.9 687.7h0M539.3 685.3h0M539.8 678.9h0M540.2 686.4h0M540.7 673.9h0M541.1 683.7h0M541.6 677.2h0M542.0 683.4h0M542.5 684.6h0M542.9 677.6h0M543.4 680.2h0M543.8 677.1h0M544.3 673.6h0M544.7 681.9h0M545.2 685.5h0M545.6 675.0h0M546.1 679.2h0M546.5 685.0h0M547.0 676.1h0M547.4 677.3h0M547.9 674.2h0M548.3 602.9h0M548.8 599.8h0M549.2 597.7h0M549.7 594.9h0M550.1 591.4h0M550.6 580.0h0M551.0 599.1h0M551.5 615.8h0M551.9 608.4h0M552.4 598.4h0M552.8 583.7h0M553.3 605.5h0M553.7 589.2h0M554.2 576.8h0M554.6 586.7h0M555.1 600.7h0M555.5 597.5h0M556.0 592.0h0M556.4 595.0h0M556.9 584.9h0M557.3 630.6h0M557.8 612.8h0M558.2 598.8h0M558.7 559.3h0M559.1 569.3h0M559.6 575.7h0M560.0 577.2h0M560.5 588.0h0M560.9 614.1h0M561.4 622.3h0M561.8 581.1h0M562.3 625.0h0M562.7 619.0h0M563.2 601.7h0M563.6 602.8h0M564.1 587.1h0M564.5 580.3h0M565.0 581.0h0M565.4 660.1h0M565.9 649.0h0M566.3 640.6h0M566.8 655.2h0M567.2 654.0h0M567.7 659.5h0M568.1 657.8h0M568.6 661.6h0M569.0 590.0h0M569.5 613.9h0M569.9 641.9h0M570.4 628.4h0M570.8 641.1h0M571.3 587.7h0M571.7 616.6h0M572.2 655.0h0M572.6 633.4h0M573.1 662.2h0M573.5 641.0h0M574.0 655.7h0M574.4 629.8h0M574.9 650.4h0M575.3 647.7h0M575.8 648.3h0M576.2 654.0h0M576.7 668.9h0M577.1 629.2h0M577.6 635.8h0M578.0 645.9h0M578.5 642.6h0M578.9 626.8h0M579.4 645.7h0M579.8 635.3h0M580.3 627.1h0M580.7 648.6h0M581.2 629.1h0M581.6 649.6h0M582.1 654.0h0M582.5 653.1h0M583.0 636.9h0M583.4 644.2h0M583.9 636.6h0M584.3 660.9h0M584.8 665.4h0M585.2 655.5h0M585.7 654.6h0M586.1 659.1h0M586.6 665.0h0M587.0 640.1h0M587.5 657.1h0M587.9 650.0h0M588.4 652.6h0M588.8 660.1h0M589.3 677.6h0M589.7 644.7h0M590.2 650.9h0M590.6 664.1h0M591.1 657.1h0M591.5 662.4h0M592.0 662.1h0M592.4 664.3h0M592.9 643.6h0M593.3 606.7h0M593.8 622.0h0M594.2 663.1h0M594.7 666.0h0M595.1 661.5h0M595.6 659.9h0M596.0 668.0h0M596.5 668.3h0M596.9 644.9h0M597.4 662.4h0M597.8 658.3h0M598.3 667.8h0M598.7 651.6h0M599.2 670.5h0M599.6 648.5h0M600.1 641.4h0M600.5 658.3h0M601.0 646.6h0M601.4 669.3h0M601.9 655.4h0M602.3 660.3h0M602.8 668.3h0M603.2 672.5h0M603.7 668.7h0M604.1 669.4h0M604.6 639.5h0M605.1 647.6h0M605.5 647.9h0M606.0 654.2h0M606.4 657.1h0M606.9 652.5h0M607.3 670.2h0M607.8 669.0h0M608.2 638.5h0M608.7 647.6h0M609.1 536.6h0M609.6 615.1h0M610.0 627.3h0M610.5 544.4h0M610.9 567.2h0M611.4 488.7h0M611.8 493.0h0M612.3 635.7h0M612.7 614.2h0M613.2 619.9h0M613.6 539.2h0M614.1 535.4h0M614.5 526.5h0M615.0 526.6h0M615.4 552.0h0M615.9 533.8h0M616.3 546.9h0M616.8 551.7h0M617.2 541.8h0M617.7 621.4h0M618.1 606.4h0M618.6 599.7h0M619.0 619.8h0M619.5 620.4h0M619.9 609.9h0M620.4 607.8h0M620.8 624.2h0M621.3 631.3h0M621.7 618.2h0M622.2 614.6h0M622.6 597.2h0M623.1 623.9h0M623.5 601.7h0M624.0 626.6h0M624.4 610.7h0M624.9 613.6h0M625.3 630.4h0M625.8 621.1h0M626.2 594.4h0M626.7 597.0h0M627.1 601.1h0M627.6 600.9h0M628.0 606.4h0M628.5 605.6h0M628.9 605.4h0M629.4 592.3h0M629.8 596.6h0M630.3 591.1h0M630.7 608.2h0M631.2 593.0h0M631.6 596.6h0M632.1 601.6h0M632.5 614.7h0M633.0 625.7h0M633.4 623.8h0M633.9 609.1h0M634.3 602.9h0M634.8 607.7h0M635.2 610.2h0M635.7 606.8h0M636.1 610.7h0M636.6 592.1h0M637.0 606.6h0M637.5 616.5h0M637.9 590.6h0M638.4 601.9h0M638.8 597.8h0M639.3 620.0h0M639.7 625.7h0M640.2 631.5h0M640.6 589.1h0M641.1 601.3h0M641.5 596.9h0M642.0 602.8h0M642.4 630.9h0M642.9 601.7h0M643.3 596.5h0M643.8 633.5h0M644.2 633.3h0M644.7 625.0h0M645.1 626.9h0M645.6 626.4h0M646.0 616.8h0M646.5 614.6h0M646.9 608.8h0M647.4 580.3h0M647.8 580.3h0M648.3 599.0h0M648.7 625.1h0M649.2 628.6h0M649.6 610.1h0M650.1 621.7h0M650.5 602.3h0M651.0 615.3h0M651.4 612.3h0M651.9 598.2h0M652.3 610.5h0M652.8 628.8h0M653.2 625.1h0M653.7 625.4h0M654.1 624.4h0M654.6 631.7h0M655.0 623.9h0M655.5 632.9h0M655.9 628.8h0M656.4 628.8h0M656.8 629.2h0M657.3 623.2h0M657.7 633.5h0M658.2 622.9h0M658.6 627.3h0M659.1 626.0h0M659.5 635.2h0M660.0 630.8h0M660.4 624.9h0M660.9 626.4h0M661.3 627.2h0M661.8 628.9h0M662.2 633.0h0M662.7 625.3h0M663.1 628.5h0M663.6 627.7h0M664.0 628.1h0M664.5 633.5h0M664.9 628.2h0M665.4 627.8h0M665.8 627.6h0M666.3 625.3h0M666.7 628.6h0M667.2 629.5h0M667.6 615.6h0M668.1 630.0h0M668.5 617.5h0M669.0 622.4h0M669.4 622.0h0M669.9 611.8h0M670.3 626.7h0M670.8 615.8h0M671.2 617.2h0M671.7 610.9h0M672.1 624.9h0M672.6 607.5h0M673.0 607.8h0M673.5 613.9h0M673.9 618.1h0M674.4 626.6h0M674.8 607.3h0M675.3 627.7h0M675.7 616.9h0M676.2 606.5h0M676.6 618.9h0M677.1 628.5h0M677.5 609.3h0M678.0 606.1h0M678.4 626.5h0M678.9 611.2h0M679.3 622.8h0M679.8 620.3h0M680.2 608.3h0M680.7 616.7h0M681.1 628.6h0M681.6 614.1h0M682.0 618.5h0M682.5 655.2h0M682.9 653.8h0M683.4 646.6h0M683.8 652.6h0M684.3 655.1h0M684.7 644.4h0M685.2 662.5h0M685.6 647.2h0M686.1 653.7h0M686.5 642.3h0M687.0 662.0h0M687.4 648.2h0M687.9 650.1h0M688.3 659.2h0M688.8 656.3h0M689.2 658.0h0M689.7 654.1h0M690.1 652.1h0M690.6 651.3h0M691.0 647.4h0M691.5 640.9h0M691.9 644.4h0M692.4 656.6h0M692.8 628.2h0M693.3 636.1h0M693.7 632.9h0M694.2 621.3h0M694.6 627.2h0M695.1 625.7h0M695.5 629.0h0M696.0 643.5h0M696.4 638.7h0M696.9 633.9h0M697.3 629.3h0M697.8 642.4h0M698.2 625.8h0M698.7 639.8h0M699.1 639.0h0M699.6 644.3h0M700.0 627.6h0M700.5 632.3h0M700.9 639.1h0M701.4 638.7h0M701.8 633.4h0M702.3 626.1h0M702.7 634.6h0M703.2 642.3h0M703.6 607.0h0M704.1 613.9h0M704.5 640.0h0M705.0 637.1h0M705.4 638.6h0M705.9 639.9h0M706.3 643.7h0M706.8 640.8h0M707.2 641.4h0M707.7 646.3h0M708.1 632.2h0M708.6 645.6h0M709.0 639.7h0M709.5 629.9h0M709.9 647.5h0M710.4 630.3h0M710.8 634.0h0M711.3 644.8h0M711.7 632.1h0M712.2 634.7h0M712.6 642.7h0M713.1 636.6h0M713.5 634.7h0M714.0 638.5h0M714.4 610.0h0M714.9 622.1h0M715.3 654.0h0M715.8 649.2h0M716.2 647.2h0M716.7 660.6h0M717.1 657.6h0M717.6 655.5h0M718.0 635.9h0M718.5 641.2h0M718.9 638.3h0M719.4 650.6h0M719.8 641.3h0M720.3 654.2h0M720.7 640.4h0M721.2 640.0h0M721.6 656.1h0M722.1 659.7h0M722.5 651.6h0M723.0 648.2h0M723.4 655.3h0M723.9 658.3h0M724.3 644.7h0M724.8 656.2h0M725.2 652.5h0M725.7 647.7h0M726.1 638.1h0M726.6 643.0h0M727.0 660.8h0M727.5 641.5h0M727.9 644.9h0M728.4 646.2h0M728.8 652.8h0M729.3 655.0h0M729.7 656.4h0M730.2 657.9h0M730.6 646.9h0M731.1 643.1h0M731.5 634.0h0M732.0 630.5h0M732.4 640.1h0M732.9 659.2h0M733.3 651.6h0M733.8 652.6h0M734.2 641.4h0M734.7 657.9h0M735.1 644.5h0M735.6 643.6h0M736.0 655.7h0M736.5 635.9h0M736.9 642.5h0M737.4 641.1h0M737.8 654.7h0M738.3 661.1h0M738.7 644.3h0M739.2 660.7h0M739.6 637.8h0M740.1 592.0h0M740.5 604.1h0M741.0 652.0h0M741.4 664.9h0M741.9 659.9h0M742.3 637.8h0M742.8 656.0h0M743.2 638.6h0M743.7 636.2h0M744.1 630.2h0M744.6 651.4h0M745.0 640.9h0M745.5 631.9h0M745.9 656.1h0M746.4 646.4h0M746.8 656.6h0M747.3 639.7h0M747.7 640.2h0M748.2 650.4h0M748.6 633.6h0M749.1 642.1h0M749.5 632.6h0M750.0 630.9h0M750.4 653.7h0M750.9 651.5h0M751.3 662.8h0M751.8 649.8h0M752.2 659.6h0M752.7 636.8h0M753.1 660.5h0M753.6 645.5h0M754.0 666.9h0M754.5 653.9h0M754.9 660.1h0M755.4 640.9h0M755.8 515.0h0M756.3 591.8h0M756.7 630.1h0M757.2 646.4h0M757.6 642.3h0M758.1 653.1h0M758.5 659.1h0M759.0 648.8h0M759.4 657.1h0M759.9 636.8h0M760.3 660.5h0M760.8 655.2h0M761.2 658.5h0M761.7 647.3h0M762.1 662.9h0M762.6 661.8h0M763.0 640.2h0M763.5 640.0h0M763.9 657.8h0M764.4 649.8h0M764.8 666.6h0M765.3 643.4h0M765.7 642.3h0M766.2 638.4h0M766.6 662.7h0M767.1 655.4h0M767.5 674.7h0M768.0 659.8h0M768.4 673.0h0M768.9 652.3h0M769.3 667.7h0M769.8 651.6h0M770.2 663.2h0M770.7 653.5h0M771.1 670.2h0M771.6 670.3h0M772.0 655.0h0M772.5 654.2h0M772.9 661.1h0M773.4 648.2h0M773.8 608.0h0M774.3 629.9h0M774.7 672.3h0M775.2 654.6h0M775.6 650.4h0M776.1 658.0h0M776.5 660.6h0M777.0 651.4h0M777.4 671.1h0M777.9 647.4h0M778.3 658.1h0M778.8 652.0h0M779.2 672.7h0M779.7 659.4h0M780.1 657.3h0M780.6 664.7h0M781.0 663.2h0M781.5 654.3h0M781.9 656.0h0M782.4 661.6h0M782.8 647.4h0M783.3 664.0h0M783.7 677.9h0M784.2 669.3h0M784.6 681.7h0M785.1 510.8h0M785.5 578.7h0M786.0 649.8h0M786.4 652.4h0M786.9 676.9h0M787.3 658.2h0M787.8 658.9h0M788.2 673.6h0M788.7 663.3h0M789.1 662.2h0M789.6 682.6h0M790.0 662.5h0M790.5 662.9h0M790.9 670.0h0M791.4 649.6h0M791.8 665.4h0M792.3 667.3h0M792.7 656.2h0M793.2 678.2h0M793.6 663.0h0M794.1 685.9h0M794.5 674.5h0M795.0 652.4h0M795.4 677.0h0M795.9 661.7h0M796.3 666.2h0M796.8 666.4h0M797.2 667.9h0M797.7 654.9h0M798.1 661.4h0M798.6 649.5h0M799.0 656.4h0M799.5 664.8h0M799.9 639.6h0M800.4 667.1h0M800.8 654.2h0M801.3 680.5h0M801.7 673.1h0M802.2 654.9h0M802.6 643.6h0M803.1 646.5h0M803.5 661.6h0M804.0 647.6h0M804.4 646.6h0M804.9 645.1h0M805.3 643.1h0M805.8 680.8h0M806.2 640.0h0M806.7 668.3h0M807.1 650.9h0M807.6 644.6h0M808.0 649.4h0M808.5 637.7h0M808.9 650.0h0M809.4 657.3h0M809.8 649.8h0M810.3 653.1h0M810.7 654.6h0M811.2 668.1h0M811.6 659.1h0M812.1 653.7h0M812.5 651.5h0M813.0 665.3h0M813.4 667.0h0M813.9 671.1h0M814.3 679.4h0M814.8 671.1h0M815.2 668.1h0M815.7 649.0h0M816.1 647.2h0M816.6 681.1h0M817.0 622.0h0M817.5 631.5h0M817.9 652.8h0M818.4 683.1h0M818.8 672.7h0M819.3 673.5h0M819.7 680.8h0M820.2 687.2h0M820.6 679.4h0M821.1 691.6h0M821.5 686.0h0M822.0 656.0h0M822.4 695.4h0M822.9 662.6h0M823.3 597.2h0M823.8 625.8h0M824.2 687.6h0M824.7 661.3h0M825.1 660.1h0M825.6 662.1h0M826.0 672.0h0M826.5 684.4h0M826.9 682.0h0M827.4 688.1h0M827.8 682.8h0M828.3 660.5h0M828.7 661.9h0M829.2 678.7h0M829.6 682.4h0M830.1 688.4h0M830.5 696.5h0M831.0 697.3h0M831.4 659.6h0M831.9 685.6h0M832.3 660.0h0M832.8 671.0h0M833.2 686.7h0M833.7 667.1h0M834.1 687.6h0M834.6 678.6h0M835.0 692.3h0M835.5 689.7h0M835.9 684.2h0M836.4 677.1h0M836.8 690.0h0M837.3 679.1h0M837.7 676.4h0M838.2 667.3h0M838.6 652.8h0M839.1 665.5h0M839.5 682.2h0M840.0 683.4h0M840.4 671.4h0M840.9 656.2h0M841.3 675.1h0M841.8 684.4h0M842.2 665.1h0M842.7 680.9h0M843.1 656.9h0M843.6 668.0h0M844.0 660.7h0M844.5 662.4h0M844.9 658.5h0M845.4 679.6h0M845.8 666.3h0M846.3 689.7h0M846.7 671.8h0M847.2 679.5h0M847.6 677.1h0M848.1 693.1h0M848.5 652.2h0M849.0 675.7h0M849.4 690.9h0M849.9 683.3h0M850.3 661.8h0M850.8 657.9h0M851.2 695.2h0M851.7 671.4h0M852.1 683.4h0M852.6 653.4h0M853.0 656.0h0M853.5 688.1h0M853.9 669.4h0M854.4 685.8h0M854.8 689.1h0M855.3 657.4h0M855.7 660.7h0M856.2 691.2h0M856.6 691.2h0M857.1 668.8h0M857.5 674.6h0M858.0 671.1h0M858.4 693.7h0M858.9 616.0h0M859.3 630.3h0M859.8 669.9h0M860.2 652.5h0M860.7 672.4h0M861.1 690.0h0M861.6 677.7h0M862.0 653.8h0M862.5 682.7h0M862.9 659.5h0M863.4 670.2h0M863.8 667.9h0M864.3 663.5h0M864.7 676.8h0M865.2 672.3h0M865.6 668.6h0M866.1 645.2h0M866.5 669.2h0M867.0 682.3h0M867.4 672.1h0M867.9 655.5h0M868.3 680.7h0M868.8 658.7h0M869.2 677.5h0M869.7 637.7h0M870.1 644.7h0M870.6 664.9h0M871.0 650.4h0M871.5 654.0h0M871.9 587.7h0M872.4 612.9h0M872.8 664.7h0M873.3 677.8h0M873.7 685.5h0M874.2 643.3h0M874.6 662.8h0M875.1 654.6h0M875.5 641.4h0M876.0 642.2h0M876.4 666.2h0M876.9 687.6h0M877.3 660.6h0M877.8 645.3h0M878.2 685.0h0M878.7 674.1h0M879.1 653.0h0M879.6 654.6h0M880.0 664.5h0M880.5 662.0h0M880.9 649.4h0M881.4 688.5h0M881.8 676.3h0M882.3 685.2h0M882.7 660.1h0M883.2 675.1h0M883.6 648.2h0M884.1 688.6h0M884.5 650.4h0M885.0 676.5h0M885.4 674.4h0M885.9 668.7h0M886.3 642.0h0M886.8 643.4h0M887.2 680.1h0M887.7 661.3h0M888.1 672.2h0M888.6 645.8h0M889.0 637.2h0M889.5 679.5h0M889.9 652.5h0M890.4 659.3h0M890.8 599.3h0M891.3 636.4h0M891.7 599.3h0M892.2 626.6h0M892.6 655.5h0M893.1 654.0h0M893.5 672.9h0M894.0 663.3h0M894.4 656.8h0M894.9 663.1h0M895.3 666.9h0M895.8 656.1h0M896.2 654.1h0M896.7 652.5h0M897.1 667.7h0M897.6 622.0h0M898.0 630.6h0M898.5 669.6h0M898.9 659.3h0M899.4 667.5h0M899.8 654.0h0M900.3 675.9h0M900.7 677.8h0M901.2 677.1h0M901.6 656.3h0M902.1 656.5h0M902.5 655.4h0M903.0 677.2h0M903.4 653.2h0M903.9 666.7h0M904.3 663.4h0M904.8 651.7h0M905.2 646.0h0M905.7 655.0h0M906.1 657.6h0M906.6 659.1h0M907.0 656.1h0M907.5 647.6h0M907.9 651.7h0M908.4 649.5h0M908.8 645.1h0M909.3 648.0h0M909.7 644.8h0M910.2 659.4h0M910.6 654.4h0M911.1 653.8h0M911.5 649.6h0M912.0 657.3h0M912.4 634.9h0M912.9 631.4h0M913.3 632.5h0M913.8 639.7h0M914.2 629.9h0M914.7 638.6h0M915.1 637.7h0M915.6 642.7h0M916.0 640.0h0M916.5 650.7h0M916.9 654.7h0M917.4 629.5h0M917.8 645.5h0M918.3 629.3h0M918.7 634.5h0M919.2 655.8h0M919.6 636.4h0M920.1 633.5h0M920.5 645.3h0M921.0 639.9h0M921.4 646.3h0M921.9 634.5h0M922.3 647.0h0M922.8 638.9h0M923.2 646.5h0M923.7 625.4h0M924.1 591.0h0M924.6 607.9h0M925.0 637.8h0M925.5 652.6h0M925.9 653.2h0M926.4 650.3h0M926.8 642.7h0M927.3 643.6h0M927.7 629.1h0M928.2 649.8h0M928.6 650.7h0M929.1 641.8h0M929.5 645.3h0M930.0 639.9h0M930.4 627.5h0M930.9 651.5h0M931.3 644.3h0M931.8 652.8h0M932.2 646.1h0M932.7 648.3h0M933.1 646.4h0M933.6 648.3h0M934.0 638.1h0M934.5 655.7h0M934.9 644.1h0M935.4 631.6h0M935.8 637.0h0M936.3 638.8h0M936.7 638.7h0M937.2 635.1h0M937.6 645.8h0M938.1 639.9h0M938.5 637.2h0M939.0 630.0h0M939.4 649.2h0M939.9 644.1h0M940.3 640.5h0M940.8 629.6h0M941.2 645.4h0M941.7 638.1h0M942.1 652.7h0M942.6 646.9h0M943.0 639.6h0M943.5 648.8h0M943.9 649.4h0M944.4 637.2h0M944.8 627.3h0M945.3 644.7h0M945.7 644.4h0M946.2 634.8h0M946.6 652.0h0M947.1 604.6h0M947.5 613.0h0M948.0 609.7h0M948.4 614.2h0M948.9 606.5h0M949.3 614.8h0M949.8 627.2h0M950.2 621.0h0M950.7 603.6h0M951.1 555.0h0M951.6 588.2h0M952.0 640.0h0M952.5 611.7h0M952.9 638.4h0M953.4 672.4h0M953.8 651.3h0M954.3 642.0h0M954.7 646.1h0M955.2 656.8h0M955.6 661.6h0M956.1 639.2h0M956.5 652.5h0M957.0 650.9h0M957.4 659.0h0M957.9 628.8h0M958.3 640.6h0M958.8 651.6h0M959.2 635.7h0M959.7 630.0h0M960.1 640.6h0M960.6 641.0h0M961.0 631.0h0M961.5 658.8h0M961.9 663.5h0M962.4 657.7h0M962.8 656.6h0M963.3 655.3h0M963.7 636.8h0M964.2 631.4h0M964.6 629.3h0M965.1 632.6h0M965.5 638.8h0M966.0 659.4h0M966.4 626.9h0M966.9 660.8h0M967.3 658.8h0M967.8 651.5h0M968.2 579.3h0M968.7 599.5h0M969.1 667.2h0M969.6 670.9h0M970.0 657.0h0M970.5 665.8h0M970.9 673.7h0M971.4 664.2h0M971.8 645.5h0M972.3 669.9h0M972.7 664.9h0M973.2 635.6h0M973.6 647.4h0M974.1 642.7h0M974.5 633.1h0M975.0 664.0h0M975.4 656.6h0M975.9 662.9h0M976.3 643.4h0M976.8 662.6h0M977.2 661.6h0M977.7 654.0h0M978.1 656.5h0M978.6 638.5h0M979.0 646.1h0M979.5 640.6h0M979.9 642.1h0M980.4 647.4h0M980.8 638.1h0M981.3 640.4h0M981.7 637.6h0M982.2 659.7h0M982.6 654.4h0M983.1 645.1h0M983.5 662.5h0M984.0 633.3h0M984.4 636.8h0M984.9 662.8h0M985.3 682.4h0M985.8 679.8h0M986.2 679.1h0M986.7 655.2h0M987.1 683.8h0M987.6 678.4h0M988.0 682.1h0M988.5 607.0h0M988.9 625.7h0M989.4 676.5h0M989.8 652.4h0M990.3 641.2h0M990.7 658.6h0M991.2 678.1h0M991.6 681.3h0M992.1 649.4h0M992.5 669.5h0M993.0 643.6h0M993.4 644.4h0M993.9 646.0h0M994.3 667.7h0M994.8 671.6h0M995.2 670.2h0M995.7 643.8h0M996.1 665.3h0M996.6 678.4h0M997.0 653.2h0M997.5 598.3h0M997.9 628.7h0M998.4 682.1h0M998.8 643.7h0M999.3 667.0h0M999.7 654.9h0M1000.2 673.2h0M1000.6 644.0h0M1001.1 664.1h0M1001.5 645.6h0M1002.0 675.4h0M1002.4 678.9h0M1002.9 661.8h0M1003.3 667.8h0M1003.8 665.5h0M1004.2 669.7h0M1004.7 681.8h0M1005.1 669.6h0M1005.6 668.3h0M1006.0 654.0h0M1006.5 672.4h0M1006.9 654.2h0M1007.4 680.5h0M1007.8 661.2h0M1008.3 658.8h0M1008.7 648.9h0M1009.2 689.1h0M1009.6 609.0h0M1010.1 627.7h0M1010.5 676.3h0M1011.0 656.9h0M1011.4 668.4h0M1011.9 659.7h0M1012.3 683.1h0M1012.8 658.3h0M1013.2 670.4h0M1013.7 672.3h0M1014.1 662.8h0M1014.6 681.3h0M1015.0 662.6h0M1015.5 667.7h0M1015.9 657.7h0M1016.4 675.9h0M1016.8 664.7h0M1017.3 671.1h0M1017.7 678.8h0M1018.2 675.3h0M1018.6 663.3h0M1019.1 666.7h0M1019.5 684.2h0M1020.0 660.9h0M1020.4 688.6h0M1020.9 665.1h0M1021.3 674.9h0M1021.8 666.1h0M1022.2 660.3h0M1022.7 682.8h0M1023.1 659.0h0M1023.6 661.1h0M1024.0 678.0h0M1024.5 666.5h0M1024.9 656.4h0M1025.4 669.2h0M1025.8 651.7h0M1026.3 656.7h0M1026.7 689.6h0M1027.2 660.8h0M1027.6 655.8h0M1028.1 679.9h0M1028.5 668.4h0M1029.0 631.0h0M1029.4 637.2h0M1029.9 670.3h0M1030.3 689.6h0M1030.8 649.8h0M1031.2 676.7h0M1031.7 650.4h0M1032.1 691.7h0M1032.6 683.1h0M1033.0 694.6h0M1033.5 677.6h0M1033.9 661.2h0M1034.4 685.6h0M1034.8 698.6h0M1035.3 670.3h0M1035.7 701.5h0M1036.2 660.5h0M1036.6 677.0h0M1037.1 692.3h0M1037.5 686.0h0M1038.0 676.6h0M1038.4 648.0h0M1038.9 647.9h0M1039.3 661.2h0M1039.8 662.1h0M1040.2 674.8h0M1040.7 675.1h0M1041.1 672.9h0M1041.6 671.4h0M1042.0 684.6h0M1042.5 713.1h0M1042.9 711.6h0M1043.4 706.8h0M1043.8 691.3h0M1044.3 698.6h0M1044.7 692.1h0M1045.2 688.2h0M1045.6 706.0h0M1046.1 686.4h0M1046.5 697.1h0M1047.0 689.8h0M1047.4 690.9h0M1047.9 711.5h0M1048.3 701.4h0M1048.8 705.2h0M1049.2 712.1h0M1049.7 709.0h0M1050.1 709.8h0M1050.6 691.8h0M1051.0 688.7h0M1051.5 708.4h0M1051.9 711.0h0M1052.4 688.1h0M1052.8 706.8h0M1053.3 689.7h0M1053.7 716.3h0M1054.2 703.5h0M1054.6 701.9h0M1055.1 704.3h0M1055.5 688.8h0M1056.0 687.5h0M1056.4 681.1h0M1056.9 691.7h0M1057.3 701.4h0M1057.8 689.1h0M1058.2 693.4h0M1058.7 685.6h0M1059.1 710.0h0M1059.6 704.2h0M1060.0 626.7h0M1060.5 643.3h0M1060.9 685.9h0M1061.4 706.5h0M1061.8 688.4h0M1062.3 693.8h0M1062.7 692.3h0M1063.2 700.1h0M1063.6 680.3h0M1064.1 708.2h0M1064.5 711.1h0M1065.0 701.6h0M1065.4 709.1h0M1065.9 690.7h0M1066.3 694.4h0M1066.8 712.8h0M1067.2 686.6h0M1067.7 686.9h0M1068.1 710.4h0M1068.6 678.0h0M1069.0 682.7h0M1069.5 700.3h0M1069.9 691.8h0M1070.4 699.9h0M1070.8 653.0h0M1071.3 660.7h0M1071.7 704.4h0M1072.2 706.0h0M1072.6 713.2h0M1073.1 699.6h0M1073.5 704.6h0M1074.0 707.7h0M1074.4 703.4h0M1074.9 692.0h0M1075.3 683.2h0M1075.8 702.1h0M1076.2 706.4h0M1076.7 708.4h0M1077.1 695.4h0M1077.6 708.8h0M1078.0 692.6h0M1078.5 683.8h0M1078.9 687.3h0M1079.4 710.9h0M1079.8 667.0h0M1080.3 671.4h0M1080.7 705.7h0M1081.2 694.0h0M1081.6 690.7h0M1082.1 707.9h0M1082.5 678.1h0M1083.0 686.5h0M1083.4 689.8h0M1083.9 679.5h0M1084.3 686.1h0M1084.8 690.3h0M1085.2 686.3h0M1085.7 701.4h0M1086.1 681.6h0M1086.6 699.2h0M1087.0 709.6h0M1087.5 698.2h0M1087.9 693.8h0M1088.4 707.6h0M1088.8 685.0h0M1089.3 704.8h0M1089.7 710.6h0M1090.2 686.9h0M1090.6 694.7h0M1091.1 704.9h0M1091.5 697.4h0M1092.0 685.3h0M1092.4 693.8h0M1092.9 701.2h0M1093.3 683.4h0M1093.8 694.9h0M1094.2 712.2h0M1094.7 697.7h0M1095.1 708.2h0M1095.6 704.4h0M1096.0 714.0h0M1096.5 699.3h0M1096.9 701.4h0M1097.4 692.3h0M1097.8 682.0h0M1098.3 692.2h0M1098.7 686.7h0M1099.2 661.2h0M1099.6 672.1h0M1100.1 672.0h0M1100.5 679.9h0M1101.0 674.3h0M1101.4 695.0h0M1101.9 693.3h0M1102.3 675.9h0M1102.8 671.0h0M1103.2 682.1h0M1103.7 670.4h0M1104.1 677.6h0M1104.6 678.4h0M1105.0 652.4h0M1105.5 661.9h0M1105.9 669.2h0M1106.4 667.8h0M1106.8 669.2h0M1107.3 655.6h0M1107.7 657.3h0M1108.2 665.6h0M1108.6 657.3h0M1109.1 680.3h0M1109.5 668.2h0M1110.0 680.4h0M1110.4 669.0h0M1110.9 668.4h0M1111.3 670.7h0M1111.8 684.6h0M1112.2 674.9h0M1112.7 665.7h0M1113.1 661.7h0M1113.6 653.6h0M1114.0 675.2h0M1114.5 660.1h0M1114.9 677.5h0M1115.4 671.8h0M1115.8 678.2h0M1116.3 656.6h0M1116.7 675.1h0M1117.2 662.0h0M1117.6 675.4h0M1118.1 653.8h0M1118.5 656.7h0M1119.0 672.7h0M1119.4 673.2h0M1119.9 660.4h0M1120.3 653.2h0M1120.8 650.3h0M1121.2 671.0h0M1121.7 674.0h0M1122.1 626.5h0M1122.6 629.2h0M1123.0 621.8h0M1123.5 633.2h0M1123.9 619.4h0M1124.4 636.0h0M1124.8 619.3h0M1125.3 630.0h0M1125.7 632.3h0M1126.2 630.8h0M1126.6 626.6h0M1127.1 628.2h0M1127.5 619.5h0M1128.0 633.0h0M1128.4 629.7h0M1128.9 635.6h0M1129.3 616.2h0M1129.8 632.9h0M1130.2 615.8h0M1130.7 632.0h0M1131.1 634.0h0M1131.6 621.1h0M1132.0 618.0h0M1132.5 626.4h0M1132.9 633.1h0M1133.4 631.7h0M1133.8 614.9h0M1134.3 629.9h0M1134.7 591.9h0M1135.2 609.1h0M1135.6 559.3h0M1136.1 573.7h0M1136.5 620.6h0M1137.0 639.5h0M1137.4 635.3h0M1137.9 639.1h0M1138.3 680.7h0M1138.8 638.8h0M1139.2 667.3h0M1139.7 658.3h0M1140.1 618.6h0M1140.6 641.8h0M1141.0 674.4h0M1141.5 671.6h0M1141.9 644.2h0M1142.4 623.8h0M1142.8 650.3h0M1143.3 672.4h0M1143.7 628.9h0" fill="none" stroke="#000" stroke-width="4.3" stroke-linecap="round"/></g>
<g clip-path="url(#cp2)"><path d="M142.0 1083.7L142.4 1083.7L142.9 1083.3L143.3 1082.4L143.8 1084.2L144.2 1084.7L144.7 1084.6L145.1 1083.4L145.6 1082.5L146.0 1082.7L146.5 1083.2L146.9 1083.8L147.4 1082.0L147.8 1082.4L148.3 1082.4L148.7 1081.7L149.2 1082.7L149.6 1082.2L150.1 1081.9L150.5 1084.0L151.0 1082.1L151.4 1083.2L151.9 1084.2L152.3 1083.1L152.8 1084.0L153.2 1082.3L153.7 1083.1L154.1 1082.1L154.6 1081.5L155.0 1082.0L155.5 1082.4L155.9 1082.6L156.4 1082.0L156.8 1084.4L157.3 1083.3L157.7 1082.1L158.2 1082.7L158.6 1084.0L159.1 1084.0L159.5 1082.1L160.0 1084.1L160.4 1083.6L160.9 1082.7L161.3 1083.4L161.8 1081.8L162.2 1082.4L162.7 1083.3L163.1 1084.2L163.6 1083.4L164.0 1084.0L164.5 1083.2L164.9 1082.1L165.4 1084.3L165.8 1083.0L166.3 1083.7L166.7 1082.0L167.2 1084.1L167.6 1082.7L168.1 1083.0L168.5 1081.8L169.0 1083.9L169.4 1082.9L169.9 1082.3L170.3 1081.7L170.8 1082.8L171.2 1082.0L171.7 1081.9L172.1 1082.4L172.6 1083.4L173.0 1081.5L173.5 1082.6L173.9 1082.3L174.4 1082.5L174.8 1082.6L175.3 1083.4L175.7 1081.8L176.2 1081.8L176.6 1082.2L177.1 1082.0L177.5 1084.3L178.0 1082.6L178.4 1083.7L178.9 1084.5L179.3 1082.3L179.8 1083.4L180.2 1082.4L180.7 1084.3L181.1 1082.4L181.6 1083.5L182.0 1084.7L182.5 1083.8L182.9 1082.1L183.4 1084.6L183.8 1084.2L184.3 1082.4L184.7 1082.6L185.2 1084.3L185.6 1084.4L186.1 1084.0L186.5 1084.9L187.0 1084.1L187.4 1082.5L187.9 1083.0L188.3 1084.1L188.8 1083.4L189.2 1082.0L189.7 1082.4L190.1 1083.7L190.6 1083.5L191.0 1083.5L191.5 1083.7L191.9 1084.6L192.4 1082.4L192.8 1084.1L193.3 1082.5L193.7 1083.2L194.2 1084.6L194.6 1084.0L195.1 1085.0L195.5 1082.2L196.0 1084.2L196.4 1083.6L196.9 1082.8L197.3 1084.5L197.8 1082.9L198.2 1085.0L198.7 1083.9L199.1 1083.0L199.6 1083.4L200.0 1082.8L200.5 1083.6L200.9 1084.6L201.4 1083.8L201.8 1083.1L202.3 1084.5L202.7 1084.4L203.2 1084.4L203.6 1083.9L204.1 1083.2L204.5 1082.5L205.0 1084.1L205.4 1083.3L205.9 1083.8L206.3 1084.2L206.8 1083.7L207.2 1084.2L207.7 1083.2L208.1 1083.4L208.6 1084.0L209.0 1083.7L209.5 1084.4L209.9 1083.2L210.4 1084.7L210.8 1083.6L211.3 1084.9L211.7 1084.8L212.2 1084.5L212.6 1084.8L213.1 1084.3L213.5 1083.7L214.0 1084.8L214.4 1083.6L214.9 1082.7L215.3 1084.4L215.8 1083.8L216.2 1082.8L216.7 1082.8L217.1 1083.9L217.6 1082.8L218.0 1082.7L218.5 1083.3L218.9 1083.7L219.4 1083.5L219.8 1082.1L220.3 1083.4L220.7 1082.8L221.2 1082.6L221.6 1084.0L222.1 1083.9L222.5 1083.0L223.0 1082.2L223.4 1083.4L223.9 1082.0L224.3 1083.9L224.8 1082.8L225.2 1082.1L225.7 1083.9L226.1 1082.3L226.6 1083.7L227.0 1082.3L227.5 1082.5L227.9 1082.1L228.4 1082.5L228.8 1082.1L229.3 1083.3L229.7 1083.0L230.2 1082.8L230.6 1083.6L231.1 1082.8L231.5 1083.8L232.0 1083.4L232.4 1083.9L232.9 1082.0L233.3 1083.0L233.8 1083.1L234.2 1083.2L234.7 1083.7L235.1 1083.7L235.6 1083.4L236.0 1082.0L236.5 1083.9L236.9 1083.4L237.4 1081.9L237.8 1082.7L238.3 1084.0L238.7 1083.2L239.2 1083.1L239.6 1082.9L240.1 1084.7L240.5 1085.4L241.0 1084.3L241.4 1084.8L241.9 1085.3L242.3 1085.4L242.8 1084.2L243.2 1084.3L243.7 1084.8L244.1 1084.8L244.6 1085.2L245.0 1084.7L245.5 1084.8L245.9 1084.4L246.4 1084.8L246.8 1084.8L247.3 1085.1L247.7 1085.1L248.2 1084.7L248.6 1085.0L249.1 1085.0L249.5 1084.4L250.0 1085.1L250.4 1084.8L250.9 1084.3L251.3 1084.1L251.8 1085.3L252.2 1084.2L252.7 1084.6L253.1 1085.0L253.6 1084.4L254.0 1084.7L254.5 1084.3L254.9 1078.9L255.4 1079.7L255.8 1083.5L256.3 1081.4L256.7 1083.5L257.2 1080.4L257.6 1080.0L258.1 1082.5L258.5 1083.0L259.0 1083.8L259.4 1083.6L259.9 1079.4L260.3 1080.8L260.8 1082.0L261.2 1082.3L261.7 1083.2L262.1 1083.5L262.6 1083.8L263.0 1076.0L263.5 1076.8L263.9 1081.8L264.4 1084.0L264.8 1083.5L265.3 1083.0L265.7 1081.1L266.2 1082.8L266.6 1080.5L267.1 1080.1L267.5 1080.5L268.0 1084.3L268.4 1083.8L268.9 1084.2L269.3 1079.6L269.8 1084.0L270.2 1081.4L270.7 1082.1L271.1 1079.6L271.6 1080.8L272.0 1079.3L272.5 1082.7L272.9 1079.7L273.4 1080.0L273.8 1081.3L274.3 1083.0L274.7 1079.7L275.2 1083.4L275.6 1079.8L276.1 1081.7L276.5 1084.7L277.0 1079.2L277.4 1082.8L277.9 1080.7L278.3 1082.2L278.8 1083.8L279.2 1083.1L279.7 1083.9L280.1 1079.6L280.6 1083.5L281.0 1081.8L281.5 1083.0L281.9 1082.2L282.4 1080.8L282.8 1080.6L283.3 1081.3L283.7 1083.9L284.2 1079.4L284.6 1081.5L285.1 1082.6L285.5 1080.9L286.0 1076.0L286.4 1077.5L286.9 1084.5L287.3 1079.1L287.8 1081.1L288.2 1081.7L288.7 1081.8L289.1 1084.8L289.6 1080.0L290.0 1079.4L290.5 1080.3L290.9 1079.7L291.4 1083.5L291.8 1078.6L292.3 1083.4L292.7 1080.6L293.2 1082.4L293.6 1079.8L294.1 1081.0L294.5 1083.3L295.0 1082.6L295.4 1084.7L295.9 1083.7L296.3 1084.9L296.8 1079.2L297.2 1082.6L297.7 1081.9L298.1 1083.5L298.6 1082.7L299.0 1082.5L299.5 1083.0L299.9 1083.5L300.4 1080.9L300.8 1081.2L301.3 1083.1L301.7 1080.4L302.2 1081.0L302.6 1079.0L303.1 1081.0L303.5 1079.0L304.0 1081.6L304.4 1079.2L304.9 1082.0L305.3 1078.9L305.8 1080.1L306.2 1080.3L306.7 1080.6L307.1 1080.2L307.6 1080.1L308.0 1082.3L308.5 1084.1L308.9 1083.9L309.4 1080.5L309.8 1082.1L310.3 1082.1L310.7 1081.0L311.2 1082.8L311.6 1082.6L312.1 1079.0L312.5 1083.9L313.0 1083.9L313.4 1082.2L313.9 1082.5L314.3 1079.9L314.8 1079.4L315.2 1083.0L315.7 1083.2L316.1 1079.4L316.6 1080.9L317.0 1078.2L317.5 1080.1L317.9 1079.6L318.4 1083.5L318.8 1079.8L319.3 1077.7L319.7 1081.6L320.2 1081.4L320.6 1075.0L321.1 1075.8L321.5 1080.7L322.0 1079.3L322.4 1079.3L322.9 1077.6L323.3 1080.5L323.8 1078.1L324.2 1079.3L324.7 1079.5L325.1 1080.8L325.6 1082.7L326.0 1081.0L326.5 1078.3L326.9 1082.4L327.4 1078.6L327.8 1081.6L328.3 1078.1L328.7 1079.8L329.2 1081.8L329.6 1078.7L330.1 1078.5L330.5 1080.8L331.0 1076.7L331.4 1077.5L331.9 1077.8L332.3 1079.0L332.8 1078.4L333.2 1082.8L333.7 1079.9L334.1 1080.2L334.6 1079.4L335.0 1078.8L335.5 1078.5L335.9 1077.1L336.4 1079.2L336.8 1078.4L337.3 1082.2L337.7 1082.3L338.2 1081.3L338.6 1083.2L339.1 1078.9L339.5 1082.2L340.0 1083.1L340.4 1081.7L340.9 1079.0L341.3 1082.6L341.8 1080.3L342.2 1079.7L342.7 1079.9L343.1 1078.4L343.6 1083.4L344.0 1082.3L344.5 1078.7L344.9 1077.7L345.4 1078.2L345.8 1082.1L346.3 1078.2L346.7 1081.5L347.2 1079.8L347.6 1083.4L348.1 1080.3L348.5 1083.3L349.0 1080.5L349.4 1082.5L349.9 1083.9L350.3 1080.9L350.8 1079.9L351.2 1080.7L351.7 1083.6L352.1 1082.3L352.6 1080.0L353.0 1077.9L353.5 1082.1L353.9 1079.8L354.4 1078.1L354.8 1082.5L355.3 1080.5L355.7 1077.9L356.2 1078.5L356.6 1077.7L357.1 1079.2L357.5 1081.3L358.0 1079.0L358.4 1081.8L358.9 1079.1L359.3 1082.2L359.8 1076.5L360.2 1081.8L360.7 1077.0L361.1 1080.2L361.6 1082.0L362.0 1077.3L362.5 1079.9L362.9 1079.4L363.4 1081.0L363.8 1076.5L364.3 1077.4L364.7 1079.6L365.2 1081.3L365.6 1082.3L366.1 1080.0L366.5 1081.8L367.0 1080.0L367.4 1081.2L367.9 1081.6L368.3 1084.1L368.8 1080.0L369.2 1081.0L369.7 1081.6L370.1 1080.8L370.6 1084.1L371.0 1082.6L371.5 1081.5L371.9 1080.0L372.4 1083.0L372.8 1082.5L373.3 1081.5L373.7 1081.4L374.2 1083.9L374.6 1081.1L375.1 1080.7L375.5 1080.9L376.0 1081.3L376.4 1083.5L376.9 1083.1L377.3 1083.4L377.8 1084.1L378.2 1082.7L378.7 1081.2L379.1 1082.4L379.6 1083.6L380.0 1083.4L380.5 1080.6L380.9 1084.2L381.4 1082.7L381.8 1081.8L382.3 1083.9L382.7 1084.1L383.2 1084.6L383.6 1082.6L384.1 1084.1L384.5 1083.3L385.0 1081.7L385.4 1077.0L385.9 1078.4L386.3 1081.6L386.8 1084.3L387.2 1082.5L387.7 1081.4L388.1 1082.0L388.6 1082.7L389.0 1082.3L389.5 1082.4L389.9 1083.0L390.4 1079.8L390.8 1081.6L391.3 1078.5L391.7 1078.0L392.2 1081.0L392.6 1080.7L393.1 1082.8L393.5 1080.9L394.0 1079.2L394.4 1080.0L394.9 1076.9L395.3 1076.9L395.8 1078.4L396.2 1082.0L396.7 1080.1L397.1 1080.0L397.6 1082.8L398.0 1080.2L398.5 1081.6L398.9 1080.9L399.4 1078.5L399.8 1081.3L400.3 1080.6L400.7 1079.8L401.2 1081.0L401.6 1080.2L402.1 1077.7L402.5 1081.5L403.0 1082.1L403.4 1080.0L403.9 1081.6L404.3 1079.0L404.8 1078.5L405.2 1078.6L405.7 1082.3L406.1 1079.6L406.6 1084.0L407.0 1078.7L407.5 1081.2L407.9 1076.5L408.4 1083.1L408.8 1081.3L409.3 1078.1L409.7 1079.7L410.2 1077.5L410.6 1082.0L411.1 1076.6L411.5 1081.1L412.0 1081.1L412.4 1078.8L412.9 1079.9L413.3 1077.4L413.8 1083.0L414.2 1077.7L414.7 1076.9L415.1 1081.4L415.6 1081.5L416.0 1077.8L416.5 1079.9L416.9 1078.9L417.4 1077.0L417.8 1082.0L418.3 1078.2L418.7 1079.3L419.2 1079.6L419.6 1077.5L420.1 1081.1L420.5 1080.2L421.0 1082.6L421.4 1081.5L421.9 1078.1L422.3 1079.8L422.8 1078.6L423.2 1077.2L423.7 1076.0L424.1 1082.8L424.6 1079.3L425.0 1076.5L425.5 1077.8L425.9 1076.6L426.4 1082.8L426.8 1081.9L427.3 1077.9L427.7 1083.7L428.2 1082.7L428.6 1077.3L429.1 1079.3L429.5 1077.6L430.0 1081.5L430.4 1082.4L430.9 1082.8L431.3 1075.7L431.8 1078.3L432.2 1083.2L432.7 1083.0L433.1 1082.6L433.6 1078.2L434.0 1080.1L434.5 1078.7L434.9 1082.5L435.4 1082.6L435.8 1081.5L436.3 1081.1L436.7 1078.5L437.2 1081.6L437.6 1078.1L438.1 1082.2L438.5 1078.1L439.0 1082.2L439.4 1080.9L439.9 1078.0L440.3 1079.3L440.8 1082.0L441.2 1081.9L441.7 1081.6L442.1 1082.5L442.6 1077.6L443.0 1081.9L443.5 1078.0L443.9 1078.5L444.4 1076.1L444.8 1075.7L445.3 1074.3L445.7 1075.9L446.2 1075.9L446.6 1075.3L447.1 1076.8L447.5 1076.0L448.0 1076.2L448.4 1073.7L448.9 1077.3L449.3 1075.6L449.8 1075.7L450.2 1077.0L450.7 1076.0L451.1 1074.4L451.6 1073.8L452.0 1075.5L452.5 1077.3L452.9 1076.9L453.4 1076.4L453.8 1076.1L454.3 1077.2L454.7 1075.0L455.2 1074.6L455.6 1074.6L456.1 1077.0L456.5 1078.4L457.0 1077.6L457.4 1075.2L457.9 1077.2L458.3 1075.8L458.8 1077.8L459.2 1076.1L459.7 1078.0L460.1 1076.4L460.6 1077.2L461.0 1074.8L461.5 1077.6L461.9 1077.7L462.4 1074.9L462.8 1077.1L463.3 1077.6L463.7 1073.9L464.2 1074.7L464.6 1076.6L465.1 1076.3L465.5 1074.7L466.0 1078.0L466.4 1076.0L466.9 1075.5L467.3 1073.9L467.8 1074.0L468.2 1075.7L468.7 1073.5L469.1 1077.1L469.6 1075.9L470.0 1075.9L470.5 1077.1L470.9 1076.9L471.4 1073.2L471.8 1074.6L472.3 1074.6L472.7 1077.0L473.2 1073.6L473.6 1077.9L474.1 1074.4L474.5 1074.0L475.0 1076.5L475.4 1073.0L475.9 1076.0L476.3 1073.3L476.8 1075.6L477.2 1076.8L477.7 1077.0L478.1 1075.5L478.6 1075.5L479.0 1076.5L479.5 1074.5L479.9 1074.6L480.4 1075.2L480.8 1074.7L481.3 1076.1L481.7 1073.6L482.2 1077.1L482.6 1073.8L483.1 1074.8L483.5 1077.1L484.0 1075.5L484.4 1076.1L484.9 1077.0L485.3 1077.8L485.8 1076.2L486.2 1084.1L486.7 1085.0L487.1 1083.8L487.6 1083.4L488.0 1083.4L488.5 1084.4L488.9 1083.5L489.4 1083.4L489.8 1084.0L490.3 1082.9L490.7 1084.4L491.2 1083.6L491.6 1082.8L492.1 1084.6L492.5 1083.1L493.0 1083.4L493.4 1084.6L493.9 1083.1L494.3 1083.2L494.8 1083.1L495.2 1084.5L495.7 1085.1L496.1 1084.9L496.6 1084.2L497.0 1082.6L497.5 1084.7L497.9 1085.0L498.4 1084.5L498.8 1084.1L499.3 1085.0L499.7 1083.8L500.2 1084.1L500.6 1078.9L501.1 1078.8L501.5 1080.3L502.0 1081.1L502.4 1079.8L502.9 1080.3L503.3 1080.3L503.8 1082.3L504.2 1077.9L504.7 1082.9L505.1 1078.8L505.6 1076.7L506.0 1083.4L506.5 1080.5L506.9 1081.4L507.4 1079.9L507.8 1081.4L508.3 1079.8L508.7 1082.3L509.2 1082.4L509.6 1081.6L510.1 1083.8L510.5 1081.5L511.0 1083.6L511.4 1078.1L511.9 1083.4L512.3 1078.4L512.8 1080.1L513.2 1077.6L513.7 1080.3L514.1 1079.7L514.6 1079.8L515.0 1079.7L515.5 1079.9L515.9 1078.0L516.4 1083.5L516.8 1082.7L517.3 1081.7L517.7 1077.1L518.2 1082.4L518.6 1079.3L519.1 1077.7L519.5 1078.4L520.0 1082.8L520.4 1081.8L520.9 1079.7L521.3 1082.8L521.8 1081.3L522.2 1081.2L522.7 1078.9L523.1 1082.0L523.6 1079.0L524.0 1082.0L524.5 1081.3L524.9 1082.5L525.4 1081.0L525.8 1080.2L526.3 1080.6L526.7 1082.8L527.2 1079.2L527.6 1081.5L528.1 1081.6L528.5 1078.7L529.0 1077.9L529.4 1082.2L529.9 1084.2L530.3 1079.2L530.8 1084.3L531.2 1080.5L531.7 1081.9L532.1 1082.8L532.6 1080.6L533.0 1078.1L533.5 1080.5L533.9 1080.5L534.4 1083.5L534.8 1078.5L535.3 1080.1L535.7 1079.8L536.2 1081.5L536.6 1078.8L537.1 1076.6L537.5 1079.1L538.0 1077.0L538.4 1077.6L538.9 1078.0L539.3 1082.5L539.8 1077.9L540.2 1080.0L540.7 1081.8L541.1 1080.6L541.6 1080.0L542.0 1077.5L542.5 1078.5L542.9 1078.6L543.4 1083.6L543.8 1076.7L544.3 1079.4L544.7 1082.9L545.2 1079.5L545.6 1082.4L546.1 1079.8L546.5 1080.1L547.0 1083.6L547.4 1077.6L547.9 1077.6L548.3 1079.1L548.8 1078.1L549.2 1081.9L549.7 1080.6L550.1 1079.7L550.6 1080.6L551.0 1083.3L551.5 1079.3L551.9 1079.1L552.4 1078.8L552.8 1081.2L553.3 1078.2L553.7 1080.5L554.2 1079.0L554.6 1079.4L555.1 1077.7L555.5 1083.9L556.0 1079.2L556.4 1080.3L556.9 1081.3L557.3 1078.3L557.8 1083.2L558.2 1080.2L558.7 1076.3L559.1 1076.1L559.6 1079.2L560.0 1078.9L560.5 1079.9L560.9 1078.4L561.4 1082.0L561.8 1078.0L562.3 1083.1L562.7 1080.8L563.2 1074.7L563.6 1078.2L564.1 1082.3L564.5 1075.6L565.0 1075.8L565.4 1077.4L565.9 1075.6L566.3 1077.2L566.8 1079.5L567.2 1074.8L567.7 1081.9L568.1 1074.8L568.6 1075.2L569.0 1080.2L569.5 1082.2L569.9 1079.3L570.4 1074.2L570.8 1074.8L571.3 1080.7L571.7 1074.1L572.2 1075.6L572.6 1079.6L573.1 1076.4L573.5 1077.6L574.0 1078.8L574.4 1081.3L574.9 1075.4L575.3 1080.2L575.8 1079.1L576.2 1081.9L576.7 1074.2L577.1 1079.7L577.6 1077.0L578.0 1078.7L578.5 1079.3L578.9 1078.7L579.4 1077.1L579.8 1081.3L580.3 1075.5L580.7 1082.9L581.2 1075.5L581.6 1082.5L582.1 1079.2L582.5 1082.0L583.0 1084.0L583.4 1076.9L583.9 1076.7L584.3 1077.1L584.8 1080.9L585.2 1083.6L585.7 1079.0L586.1 1077.2L586.6 1076.9L587.0 1075.5L587.5 1079.6L587.9 1075.6L588.4 1076.2L588.8 1081.0L589.3 1081.2L589.7 1077.7L590.2 1084.7L590.6 1082.4L591.1 1081.9L591.5 1080.2L592.0 1083.4L592.4 1082.0L592.9 1077.4L593.3 1083.9L593.8 1081.0L594.2 1080.6L594.7 1077.9L595.1 1084.0L595.6 1077.1L596.0 1076.8L596.5 1081.3L596.9 1076.2L597.4 1084.6L597.8 1078.6L598.3 1082.2L598.7 1075.0L599.2 1077.9L599.6 1083.3L600.1 1080.3L600.5 1079.1L601.0 1080.9L601.4 1080.0L601.9 1077.2L602.3 1080.4L602.8 1076.1L603.2 1077.0L603.7 1081.4L604.1 1082.2L604.6 1082.1L605.1 1077.0L605.5 1080.8L606.0 1077.1L606.4 1082.5L606.9 1080.7L607.3 1077.4L607.8 1080.1L608.2 1072.3L608.7 1072.1L609.1 1077.1L609.6 1071.1L610.0 1071.8L610.5 1070.7L610.9 1074.6L611.4 1073.2L611.8 1073.8L612.3 1080.4L612.7 1082.1L613.2 1074.4L613.6 1075.7L614.1 1067.3L614.5 1064.9L615.0 1072.2L615.4 1077.2L615.9 1077.2L616.3 1052.7L616.8 1054.7L617.2 1066.4L617.7 1076.8L618.1 1072.7L618.6 1069.1L619.0 1069.5L619.5 1075.8L619.9 1061.7L620.4 1075.0L620.8 1076.6L621.3 1059.6L621.7 1064.1L622.2 1059.4L622.6 1077.3L623.1 1071.7L623.5 1061.8L624.0 1066.0L624.4 1060.5L624.9 1061.7L625.3 1075.6L625.8 1062.3L626.2 1061.5L626.7 1062.1L627.1 1062.3L627.6 1072.4L628.0 1060.0L628.5 1077.0L628.9 1070.7L629.4 1070.6L629.8 1060.0L630.3 1058.6L630.7 1060.8L631.2 1066.1L631.6 1067.1L632.1 1080.6L632.5 1075.8L633.0 1080.8L633.4 1080.8L633.9 1076.8L634.3 1075.9L634.8 1078.5L635.2 1079.5L635.7 1075.1L636.1 1077.3L636.6 1082.3L637.0 1078.9L637.5 1072.6L637.9 1083.7L638.4 1082.5L638.8 1077.4L639.3 1077.7L639.7 1071.4L640.2 1083.5L640.6 1076.4L641.1 1081.1L641.5 1077.8L642.0 1076.8L642.4 1079.0L642.9 1079.8L643.3 1080.2L643.8 1076.3L644.2 1080.7L644.7 1082.0L645.1 1081.4L645.6 1078.7L646.0 1082.1L646.5 1084.4L646.9 1080.2L647.4 1075.8L647.8 1080.3L648.3 1081.3L648.7 1084.5L649.2 1077.6L649.6 1080.0L650.1 1078.8L650.5 1079.5L651.0 1077.6L651.4 1083.4L651.9 1083.1L652.3 1076.9L652.8 1079.7L653.2 1081.6L653.7 1083.3L654.1 1079.9L654.6 1080.0L655.0 1079.1L655.5 1083.4L655.9 1081.4L656.4 1077.8L656.8 1083.2L657.3 1076.8L657.7 1078.4L658.2 1083.8L658.6 1080.5L659.1 1080.3L659.5 1077.8L660.0 1081.4L660.4 1083.8L660.9 1082.6L661.3 1076.2L661.8 1083.8L662.2 1080.1L662.7 1078.2L663.1 1076.6L663.6 1080.6L664.0 1075.3L664.5 1075.0L664.9 1080.4L665.4 1075.1L665.8 1075.0L666.3 1082.9L666.7 1078.6L667.2 1080.8L667.6 1079.1L668.1 1079.2L668.5 1079.8L669.0 1075.7L669.4 1079.6L669.9 1078.6L670.3 1082.9L670.8 1079.1L671.2 1079.6L671.7 1079.9L672.1 1077.6L672.6 1077.4L673.0 1076.8L673.5 1076.5L673.9 1082.5L674.4 1081.5L674.8 1075.6L675.3 1072.2L675.7 1072.1L676.2 1078.8L676.6 1070.4L677.1 1075.6L677.5 1071.5L678.0 1069.6L678.4 1077.6L678.9 1084.6L679.3 1069.8L679.8 1069.1L680.2 1070.3L680.7 1076.9L681.1 1069.2L681.6 1073.7L682.0 1069.1L682.5 1079.4L682.9 1075.0L683.4 1082.5L683.8 1077.9L684.3 1076.9L684.7 1071.7L685.2 1079.2L685.6 1074.2L686.1 1067.9L686.5 1068.1L687.0 1067.9L687.4 1074.5L687.9 1074.9L688.3 1067.7L688.8 1074.1L689.2 1073.5L689.7 1073.0L690.1 1067.1L690.6 1067.3L691.0 1072.5L691.5 1082.3L691.9 1074.0L692.4 1083.9L692.8 1076.5L693.3 1081.4L693.7 1073.0L694.2 1071.3L694.6 1073.2L695.1 1072.0L695.5 1076.6L696.0 1068.0L696.4 1070.6L696.9 1081.6L697.3 1076.4L697.8 1069.2L698.2 1076.8L698.7 1075.7L699.1 1076.8L699.6 1069.8L700.0 1079.0L700.5 1077.6L700.9 1070.8L701.4 1075.2L701.8 1076.1L702.3 1079.1L702.7 1078.9L703.2 1077.5L703.6 1073.4L704.1 1080.3L704.5 1074.4L705.0 1080.0L705.4 1078.4L705.9 1083.5L706.3 1075.8L706.8 1070.0L707.2 1083.6L707.7 1079.2L708.1 1083.1L708.6 1075.3L709.0 1080.4L709.5 1078.7L709.9 1082.2L710.4 1083.1L710.8 1079.7L711.3 1074.0L711.7 1084.5L712.2 1073.8L712.6 1084.4L713.1 1084.3L713.5 1079.9L714.0 1074.4L714.4 1074.1L714.9 1070.7L715.3 1073.6L715.8 1077.8L716.2 1076.3L716.7 1082.7L717.1 1076.5L717.6 1078.7L718.0 1084.3L718.5 1078.7L718.9 1073.8L719.4 1072.8L719.8 1084.4L720.3 1084.9L720.7 1074.4L721.2 1076.5L721.6 1080.2L722.1 1082.3L722.5 1075.3L723.0 1077.8L723.4 1080.9L723.9 1081.8L724.3 1072.0L724.8 1080.0L725.2 1074.4L725.7 1072.0L726.1 1083.2L726.6 1083.7L727.0 1076.9L727.5 1066.5L727.9 1075.0L728.4 1079.0L728.8 1070.5L729.3 1068.8L729.7 1081.8L730.2 1077.3L730.6 1071.7L731.1 1078.6L731.5 1075.5L732.0 1074.5L732.4 1075.5L732.9 1072.8L733.3 1078.8L733.8 1073.7L734.2 1076.9L734.7 1080.6L735.1 1077.9L735.6 1081.9L736.0 1075.6L736.5 1072.2L736.9 1074.0L737.4 1077.1L737.8 1072.9L738.3 1074.5L738.7 1074.6L739.2 1082.8L739.6 1082.8L740.1 1070.4L740.5 1074.0L741.0 1078.1L741.4 1080.8L741.9 1082.4L742.3 1070.7L742.8 1078.8L743.2 1067.2L743.7 1067.0L744.1 1077.2L744.6 1076.0L745.0 1069.0L745.5 1071.4L745.9 1080.6L746.4 1070.0L746.8 1079.6L747.3 1078.7L747.7 1083.9L748.2 1077.0L748.6 1076.9L749.1 1076.6L749.5 1084.5L750.0 1076.1L750.4 1079.0L750.9 1073.5L751.3 1080.0L751.8 1083.4L752.2 1071.7L752.7 1082.4L753.1 1070.9L753.6 1079.4L754.0 1075.2L754.5 1074.1L754.9 1082.7L755.4 1072.8L755.8 1079.9L756.3 1075.0L756.7 1073.2L757.2 1067.9L757.6 1067.5L758.1 1077.5L758.5 1078.5L759.0 1079.1L759.4 1069.0L759.9 1074.8L760.3 1069.7L760.8 1079.6L761.2 1069.1L761.7 1070.0L762.1 1075.4L762.6 1077.1L763.0 1071.5L763.5 1067.1L763.9 1070.3L764.4 1066.4L764.8 1077.3L765.3 1070.7L765.7 1068.2L766.2 1078.2L766.6 1070.5L767.1 1077.5L767.5 1078.5L768.0 1078.3L768.4 1079.5L768.9 1072.7L769.3 1080.0L769.8 1076.6L770.2 1072.0L770.7 1070.7L771.1 1067.0L771.6 1074.9L772.0 1068.1L772.5 1078.2L772.9 1077.7L773.4 1070.4L773.8 1079.1L774.3 1071.8L774.7 1069.5L775.2 1072.8L775.6 1079.6L776.1 1071.8L776.5 1076.0L777.0 1079.4L777.4 1078.0L777.9 1077.2L778.3 1067.7L778.8 1075.8L779.2 1070.1L779.7 1071.9L780.1 1074.9L780.6 1078.6L781.0 1076.5L781.5 1072.9L781.9 1069.6L782.4 1073.1L782.8 1067.4L783.3 1075.0L783.7 1078.6L784.2 1075.2L784.6 1075.9L785.1 1073.3L785.5 1076.3L786.0 1070.3L786.4 1075.7L786.9 1071.8L787.3 1078.4L787.8 1077.0L788.2 1074.7L788.7 1068.5L789.1 1064.4L789.6 1068.2L790.0 1064.5L790.5 1069.9L790.9 1070.8L791.4 1073.6L791.8 1066.4L792.3 1078.6L792.7 1079.1L793.2 1068.6L793.6 1065.9L794.1 1066.5L794.5 1075.9L795.0 1064.3L795.4 1064.5L795.9 1064.9L796.3 1076.9L796.8 1076.5L797.2 1070.4L797.7 1067.6L798.1 1068.4L798.6 1071.2L799.0 1068.2L799.5 1070.1L799.9 1077.3L800.4 1070.1L800.8 1064.9L801.3 1076.7L801.7 1069.1L802.2 1076.1L802.6 1066.9L803.1 1072.4L803.5 1073.2L804.0 1070.5L804.4 1079.0L804.9 1068.3L805.3 1064.3L805.8 1073.0L806.2 1066.0L806.7 1068.6L807.1 1064.4L807.6 1068.0L808.0 1079.4L808.5 1070.0L808.9 1072.8L809.4 1069.4L809.8 1067.9L810.3 1067.4L810.7 1069.4L811.2 1076.2L811.6 1079.0L812.1 1079.9L812.5 1074.3L813.0 1079.9L813.4 1077.7L813.9 1078.8L814.3 1077.4L814.8 1071.1L815.2 1080.0L815.7 1074.1L816.1 1070.8L816.6 1079.6L817.0 1078.0L817.5 1076.1L817.9 1078.5L818.4 1072.0L818.8 1067.4L819.3 1066.2L819.7 1073.8L820.2 1069.6L820.6 1078.6L821.1 1071.1L821.5 1071.6L822.0 1079.9L822.4 1077.6L822.9 1071.3L823.3 1074.8L823.8 1066.6L824.2 1065.4L824.7 1071.9L825.1 1077.4L825.6 1068.3L826.0 1081.2L826.5 1069.6L826.9 1070.6L827.4 1069.2L827.8 1079.4L828.3 1068.8L828.7 1073.7L829.2 1073.0L829.6 1067.3L830.1 1078.5L830.5 1079.1L831.0 1079.4L831.4 1079.0L831.9 1078.5L832.3 1073.1L832.8 1068.1L833.2 1068.4L833.7 1072.1L834.1 1067.7L834.6 1071.0L835.0 1071.5L835.5 1080.2L835.9 1075.5L836.4 1068.3L836.8 1072.6L837.3 1072.6L837.7 1081.9L838.2 1075.0L838.6 1066.7L839.1 1073.6L839.5 1065.0L840.0 1075.6L840.4 1074.3L840.9 1072.2L841.3 1071.2L841.8 1073.3L842.2 1077.1L842.7 1066.6L843.1 1063.5L843.6 1075.6L844.0 1071.0L844.5 1074.3L844.9 1063.0L845.4 1063.9L845.8 1068.3L846.3 1064.8L846.7 1077.4L847.2 1070.2L847.6 1068.9L848.1 1066.7L848.5 1065.6L849.0 1069.9L849.4 1065.4L849.9 1063.5L850.3 1077.4L850.8 1068.4L851.2 1063.6L851.7 1075.7L852.1 1065.1L852.6 1071.2L853.0 1080.7L853.5 1079.4L853.9 1065.8L854.4 1066.0L854.8 1070.1L855.3 1077.6L855.7 1077.3L856.2 1077.7L856.6 1076.2L857.1 1080.4L857.5 1077.9L858.0 1078.4L858.4 1068.9L858.9 1067.0L859.3 1071.7L859.8 1074.7L860.2 1075.2L860.7 1066.0L861.1 1076.2L861.6 1080.7L862.0 1070.8L862.5 1081.8L862.9 1079.4L863.4 1075.4L863.8 1072.4L864.3 1073.5L864.7 1062.7L865.2 1062.8L865.6 1058.2L866.1 1070.2L866.5 1071.9L867.0 1060.0L867.4 1064.7L867.9 1062.1L868.3 1069.3L868.8 1070.0L869.2 1067.0L869.7 1072.2L870.1 1059.5L870.6 1070.8L871.0 1059.1L871.5 1065.2L871.9 1064.8L872.4 1054.7L872.8 1070.6L873.3 1060.9L873.7 1052.6L874.2 1062.5L874.6 1069.5L875.1 1050.3L875.5 1053.4L876.0 1056.0L876.4 1063.0L876.9 1068.7L877.3 1060.0L877.8 1067.0L878.2 1066.0L878.7 1054.9L879.1 1054.8L879.6 1054.6L880.0 1063.9L880.5 1057.0L880.9 1055.4L881.4 1060.9L881.8 1053.5L882.3 1065.9L882.7 1056.1L883.2 1053.4L883.6 1070.4L884.1 1057.5L884.5 1059.1L885.0 1064.5L885.4 1066.4L885.9 1053.0L886.3 1068.1L886.8 1057.7L887.2 1053.3L887.7 1063.9L888.1 1068.9L888.6 1063.7L889.0 1056.1L889.5 1055.0L889.9 1062.2L890.4 1058.4L890.8 1070.2L891.3 1069.4L891.7 1067.7L892.2 1055.7L892.6 1061.1L893.1 1059.5L893.5 1069.6L894.0 1070.3L894.4 1061.4L894.9 1054.3L895.3 1051.4L895.8 1061.9L896.2 1063.5L896.7 1053.9L897.1 1054.9L897.6 1056.1L898.0 1057.3L898.5 1072.2L898.9 1052.4L899.4 1063.0L899.8 1074.0L900.3 1065.6L900.7 1066.4L901.2 1069.6L901.6 1066.6L902.1 1053.6L902.5 1060.6L903.0 1064.3L903.4 1057.5L903.9 1051.2L904.3 1070.1L904.8 1051.4L905.2 1054.5L905.7 1053.8L906.1 1063.3L906.6 1057.6L907.0 1050.7L907.5 1051.1L907.9 1063.3L908.4 1067.4L908.8 1056.4L909.3 1050.8L909.7 1066.0L910.2 1052.7L910.6 1065.5L911.1 1049.5L911.5 1066.7L912.0 1047.1L912.4 1058.4L912.9 1058.6L913.3 1051.4L913.8 1064.0L914.2 1062.9L914.7 1053.5L915.1 1056.3L915.6 1063.6L916.0 1059.4L916.5 1062.3L916.9 1062.4L917.4 1059.8L917.8 1063.7L918.3 1054.1L918.7 1058.0L919.2 1070.5L919.6 1053.2L920.1 1069.7L920.5 1070.2L921.0 1072.1L921.4 1054.9L921.9 1059.7L922.3 1066.2L922.8 1071.5L923.2 1056.8L923.7 1067.9L924.1 1066.5L924.6 1071.0L925.0 1058.3L925.5 1066.9L925.9 1060.0L926.4 1068.9L926.8 1070.8L927.3 1065.0L927.7 1067.5L928.2 1067.5L928.6 1064.1L929.1 1053.5L929.5 1060.4L930.0 1060.5L930.4 1068.0L930.9 1067.2L931.3 1059.1L931.8 1060.6L932.2 1067.5L932.7 1068.2L933.1 1052.0L933.6 1053.6L934.0 1055.0L934.5 1062.7L934.9 1054.4L935.4 1060.2L935.8 1073.5L936.3 1062.5L936.7 1060.6L937.2 1060.5L937.6 1079.8L938.1 1065.0L938.5 1073.2L939.0 1077.7L939.4 1075.3L939.9 1073.5L940.3 1058.6L940.8 1081.0L941.2 1057.7L941.7 1068.7L942.1 1078.1L942.6 1076.1L943.0 1063.4L943.5 1062.8L943.9 1066.2L944.4 1058.6L944.8 1063.4L945.3 1063.2L945.7 1072.3L946.2 1074.4L946.6 1062.2L947.1 1059.8L947.5 1070.8L948.0 1057.5L948.4 1063.1L948.9 1077.7L949.3 1058.0L949.8 1067.1L950.2 1074.1L950.7 1070.1L951.1 1058.0L951.6 1073.1L952.0 1059.8L952.5 1073.7L952.9 1076.5L953.4 1058.2L953.8 1058.5L954.3 1068.5L954.7 1062.3L955.2 1074.2L955.6 1062.0L956.1 1073.6L956.5 1055.5L957.0 1056.6L957.4 1073.8L957.9 1084.0L958.3 1071.6L958.8 1051.9L959.2 1071.6L959.7 1065.9L960.1 1072.2L960.6 1072.8L961.0 1072.2L961.5 1057.6L961.9 1067.4L962.4 1062.1L962.8 1069.6L963.3 1071.1L963.7 1070.1L964.2 1069.9L964.6 1068.9L965.1 1064.7L965.5 1049.4L966.0 1063.8L966.4 1055.4L966.9 1048.2L967.3 1059.7L967.8 1046.7L968.2 1047.4L968.7 1061.1L969.1 1054.3L969.6 1047.8L970.0 1066.2L970.5 1044.4L970.9 1049.9L971.4 1064.5L971.8 1063.5L972.3 1044.3L972.7 1054.8L973.2 1041.5L973.6 1055.6L974.1 1055.7L974.5 1063.0L975.0 1058.7L975.4 1047.8L975.9 1054.0L976.3 1045.6L976.8 1043.1L977.2 1056.8L977.7 1054.7L978.1 1048.3L978.6 1054.9L979.0 1060.4L979.5 1043.2L979.9 1059.3L980.4 1042.3L980.8 1045.6L981.3 1059.3L981.7 1048.9L982.2 1040.8L982.6 1045.1L983.1 1034.5L983.5 1037.4L984.0 1038.2L984.4 1038.7L984.9 1043.3L985.3 1045.3L985.8 1053.4L986.2 1046.5L986.7 1053.7L987.1 1050.6L987.6 1046.4L988.0 1044.1L988.5 1038.4L988.9 1055.0L989.4 1052.1L989.8 1043.8L990.3 1039.0L990.7 1051.5L991.2 1047.4L991.6 1033.7L992.1 1043.0L992.5 1045.3L993.0 1038.2L993.4 1028.9L993.9 1048.8L994.3 1036.6L994.8 1051.1L995.2 1035.3L995.7 1043.1L996.1 1042.6L996.6 1046.1L997.0 1048.1L997.5 1031.5L997.9 1030.2L998.4 1046.8L998.8 1037.1L999.3 1034.1L999.7 1023.2L1000.2 1080.0L1000.6 1046.3L1001.1 1038.9L1001.5 1037.7L1002.0 1027.1L1002.4 1028.2L1002.9 1043.0L1003.3 1035.7L1003.8 1039.2L1004.2 1033.0L1004.7 1036.4L1005.1 1030.3L1005.6 1030.2L1006.0 1037.1L1006.5 1045.5L1006.9 1030.1L1007.4 1025.8L1007.8 1039.2L1008.3 1044.5L1008.7 1032.9L1009.2 1043.2L1009.6 1027.6L1010.1 1031.2L1010.5 1048.9L1011.0 1041.6L1011.4 1029.8L1011.9 1029.2L1012.3 1021.8L1012.8 1026.9L1013.2 1047.0L1013.7 1036.1L1014.1 1044.7L1014.6 1031.3L1015.0 1025.1L1015.5 1029.3L1015.9 1068.0L1016.4 1038.3L1016.8 1028.3L1017.3 1027.6L1017.7 1040.1L1018.2 1018.5L1018.6 1030.0L1019.1 1031.4L1019.5 1022.9L1020.0 1035.9L1020.4 1049.3L1020.9 1048.3L1021.3 1015.2L1021.8 1018.7L1022.2 1024.7L1022.7 1037.8L1023.1 1015.9L1023.6 1038.2L1024.0 1034.4L1024.5 1039.1L1024.9 1014.5L1025.4 1021.6L1025.8 1032.8L1026.3 1048.5L1026.7 1029.9L1027.2 1014.4L1027.6 1043.4L1028.1 1049.0L1028.5 1027.8L1029.0 1010.0L1029.4 1031.9L1029.9 1082.0L1030.3 1016.7L1030.8 1002.3L1031.2 1016.1L1031.7 1014.5L1032.1 1025.6L1032.6 1003.8L1033.0 1025.0L1033.5 1016.9L1033.9 1018.1L1034.4 1006.2L1034.8 1002.6L1035.3 1022.2L1035.7 1007.8L1036.2 1000.7L1036.6 1019.5L1037.1 1025.0L1037.5 1026.0L1038.0 1015.1L1038.4 1009.9L1038.9 1003.9L1039.3 1031.1L1039.8 1008.9L1040.2 1016.8L1040.7 1014.9L1041.1 1011.2L1041.6 1030.1L1042.0 1014.9L1042.5 1025.2L1042.9 1027.9L1043.4 1003.3L1043.8 1017.2L1044.3 1028.6L1044.7 1015.9L1045.2 1003.1L1045.6 1023.2L1046.1 1022.8L1046.5 1024.0L1047.0 1020.2L1047.4 1000.7L1047.9 1030.7L1048.3 1008.6L1048.8 1021.8L1049.2 1002.8L1049.7 1006.9L1050.1 1012.7L1050.6 1005.2L1051.0 1008.5L1051.5 1026.3L1051.9 1022.5L1052.4 1003.6L1052.8 1013.5L1053.3 916.6L1053.7 957.2L1054.2 963.0L1054.6 953.0L1055.1 908.6L1055.5 923.7L1056.0 964.0L1056.4 974.3L1056.9 970.3L1057.3 930.3L1057.8 931.4L1058.2 898.0L1058.7 898.0L1059.1 940.3L1059.6 910.4L1060.0 917.6L1060.5 964.7L1060.9 972.1L1061.4 922.1L1061.8 951.2L1062.3 919.0L1062.7 931.4L1063.2 926.5L1063.6 923.4L1064.1 942.5L1064.5 917.5L1065.0 975.9L1065.4 923.9L1065.9 971.2L1066.3 968.5L1066.8 916.5L1067.2 932.4L1067.7 914.3L1068.1 954.7L1068.6 940.8L1069.0 963.9L1069.5 974.3L1069.9 945.9L1070.4 969.9L1070.8 954.6L1071.3 983.7L1071.7 973.5L1072.2 981.7L1072.6 963.5L1073.1 970.4L1073.5 976.7L1074.0 963.5L1074.4 944.5L1074.9 975.5L1075.3 945.7L1075.8 974.7L1076.2 976.6L1076.7 984.9L1077.1 971.4L1077.6 977.7L1078.0 985.9L1078.5 986.5L1078.9 986.6L1079.4 969.8L1079.8 951.9L1080.3 980.2L1080.7 973.0L1081.2 952.0L1081.6 951.1L1082.1 958.2L1082.5 953.8L1083.0 950.5L1083.4 987.8L1083.9 971.6L1084.3 977.8L1084.8 979.6L1085.2 968.6L1085.7 961.3L1086.1 951.9L1086.6 955.0L1087.0 943.9L1087.5 956.6L1087.9 974.8L1088.4 973.4L1088.8 975.5L1089.3 958.1L1089.7 956.7L1090.2 980.6L1090.6 972.5L1091.1 951.8L1091.5 949.1L1092.0 977.7L1092.4 977.6L1092.9 983.6L1093.3 967.5L1093.8 964.8L1094.2 1000.0L1094.7 965.9L1095.1 944.6L1095.6 945.8L1096.0 952.5L1096.5 987.1L1096.9 963.4L1097.4 971.1L1097.8 970.2L1098.3 873.2L1098.7 881.6L1099.2 888.6L1099.6 895.8L1100.1 890.0L1100.5 878.2L1101.0 872.1L1101.4 871.3L1101.9 885.3L1102.3 892.0L1102.8 875.5L1103.2 894.3L1103.7 896.9L1104.1 891.2L1104.6 886.7L1105.0 874.3L1105.5 881.8L1105.9 889.1L1106.4 883.7L1106.8 888.6L1107.3 896.1L1107.7 879.4L1108.2 882.4L1108.6 882.7L1109.1 893.8L1109.5 895.8L1110.0 877.1L1110.4 873.8L1110.9 872.8L1111.3 875.0L1111.8 901.4L1112.2 894.1L1112.7 891.6L1113.1 898.6L1113.6 877.8L1114.0 858.0L1114.5 860.8L1114.9 888.7L1115.4 930.2L1115.8 935.4L1116.3 936.0L1116.7 926.6L1117.2 942.0L1117.6 952.2L1118.1 925.5L1118.5 926.0L1119.0 950.1L1119.4 940.4L1119.9 928.2L1120.3 912.9L1120.8 936.3L1121.2 987.2L1121.7 994.7L1122.1 991.7L1122.6 987.0L1123.0 994.6L1123.5 992.1L1123.9 983.7L1124.4 988.9L1124.8 1018.0L1125.3 1001.4L1125.7 987.6L1126.2 990.4L1126.6 985.8L1127.1 985.3L1127.5 994.3L1128.0 993.8L1128.4 985.0L1128.9 988.4L1129.3 988.3L1129.8 989.5L1130.2 988.7L1130.7 993.9L1131.1 988.4L1131.6 985.3L1132.0 985.7L1132.5 988.1L1132.9 991.3L1133.4 991.4L1133.8 986.2L1134.3 990.9L1134.7 984.6L1135.2 991.4L1135.6 986.3L1136.1 877.6L1136.5 863.3L1137.0 829.7L1137.4 848.7L1137.9 856.3L1138.3 851.8L1138.8 804.6L1139.2 770.0L1139.7 770.0L1140.1 826.8L1140.6 827.4L1141.0 824.0L1141.5 837.1L1141.9 877.1L1142.4 890.8L1142.8 892.0L1143.3 887.0L1143.7 893.2" fill="none" stroke="#000" stroke-width="1.8" stroke-linejoin="round"/><path d="M142.0 1083.7h0M142.4 1083.7h0M142.9 1083.3h0M143.3 1082.4h0M143.8 1084.2h0M144.2 1084.7h0M144.7 1084.6h0M145.1 1083.4h0M145.6 1082.5h0M146.0 1082.7h0M146.5 1083.2h0M146.9 1083.8h0M147.4 1082.0h0M147.8 1082.4h0M148.3 1082.4h0M148.7 1081.7h0M149.2 1082.7h0M149.6 1082.2h0M150.1 1081.9h0M150.5 1084.0h0M151.0 1082.1h0M151.4 1083.2h0M151.9 1084.2h0M152.3 1083.1h0M152.8 1084.0h0M153.2 1082.3h0M153.7 1083.1h0M154.1 1082.1h0M154.6 1081.5h0M155.0 1082.0h0M155.5 1082.4h0M155.9 1082.6h0M156.4 1082.0h0M156.8 1084.4h0M157.3 1083.3h0M157.7 1082.1h0M158.2 1082.7h0M158.6 1084.0h0M159.1 1084.0h0M159.5 1082.1h0M160.0 1084.1h0M160.4 1083.6h0M160.9 1082.7h0M161.3 1083.4h0M161.8 1081.8h0M162.2 1082.4h0M162.7 1083.3h0M163.1 1084.2h0M163.6 1083.4h0M164.0 1084.0h0M164.5 1083.2h0M164.9 1082.1h0M165.4 1084.3h0M165.8 1083.0h0M166.3 1083.7h0M166.7 1082.0h0M167.2 1084.1h0M167.6 1082.7h0M168.1 1083.0h0M168.5 1081.8h0M169.0 1083.9h0M169.4 1082.9h0M169.9 1082.3h0M170.3 1081.7h0M170.8 1082.8h0M171.2 1082.0h0M171.7 1081.9h0M172.1 1082.4h0M172.6 1083.4h0M173.0 1081.5h0M173.5 1082.6h0M173.9 1082.3h0M174.4 1082.5h0M174.8 1082.6h0M175.3 1083.4h0M175.7 1081.8h0M176.2 1081.8h0M176.6 1082.2h0M177.1 1082.0h0M177.5 1084.3h0M178.0 1082.6h0M178.4 1083.7h0M178.9 1084.5h0M179.3 1082.3h0M179.8 1083.4h0M180.2 1082.4h0M180.7 1084.3h0M181.1 1082.4h0M181.6 1083.5h0M182.0 1084.7h0M182.5 1083.8h0M182.9 1082.1h0M183.4 1084.6h0M183.8 1084.2h0M184.3 1082.4h0M184.7 1082.6h0M185.2 1084.3h0M185.6 1084.4h0M186.1 1084.0h0M186.5 1084.9h0M187.0 1084.1h0M187.4 1082.5h0M187.9 1083.0h0M188.3 1084.1h0M188.8 1083.4h0M189.2 1082.0h0M189.7 1082.4h0M190.1 1083.7h0M190.6 1083.5h0M191.0 1083.5h0M191.5 1083.7h0M191.9 1084.6h0M192.4 1082.4h0M192.8 1084.1h0M193.3 1082.5h0M193.7 1083.2h0M194.2 1084.6h0M194.6 1084.0h0M195.1 1085.0h0M195.5 1082.2h0M196.0 1084.2h0M196.4 1083.6h0M196.9 1082.8h0M197.3 1084.5h0M197.8 1082.9h0M198.2 1085.0h0M198.7 1083.9h0M199.1 1083.0h0M199.6 1083.4h0M200.0 1082.8h0M200.5 1083.6h0M200.9 1084.6h0M201.4 1083.8h0M201.8 1083.1h0M202.3 1084.5h0M202.7 1084.4h0M203.2 1084.4h0M203.6 1083.9h0M204.1 1083.2h0M204.5 1082.5h0M205.0 1084.1h0M205.4 1083.3h0M205.9 1083.8h0M206.3 1084.2h0M206.8 1083.7h0M207.2 1084.2h0M207.7 1083.2h0M208.1 1083.4h0M208.6 1084.0h0M209.0 1083.7h0M209.5 1084.4h0M209.9 1083.2h0M210.4 1084.7h0M210.8 1083.6h0M211.3 1084.9h0M211.7 1084.8h0M212.2 1084.5h0M212.6 1084.8h0M213.1 1084.3h0M213.5 1083.7h0M214.0 1084.8h0M214.4 1083.6h0M214.9 1082.7h0M215.3 1084.4h0M215.8 1083.8h0M216.2 1082.8h0M216.7 1082.8h0M217.1 1083.9h0M217.6 1082.8h0M218.0 1082.7h0M218.5 1083.3h0M218.9 1083.7h0M219.4 1083.5h0M219.8 1082.1h0M220.3 1083.4h0M220.7 1082.8h0M221.2 1082.6h0M221.6 1084.0h0M222.1 1083.9h0M222.5 1083.0h0M223.0 1082.2h0M223.4 1083.4h0M223.9 1082.0h0M224.3 1083.9h0M224.8 1082.8h0M225.2 1082.1h0M225.7 1083.9h0M226.1 1082.3h0M226.6 1083.7h0M227.0 1082.3h0M227.5 1082.5h0M227.9 1082.1h0M228.4 1082.5h0M228.8 1082.1h0M229.3 1083.3h0M229.7 1083.0h0M230.2 1082.8h0M230.6 1083.6h0M231.1 1082.8h0M231.5 1083.8h0M232.0 1083.4h0M232.4 1083.9h0M232.9 1082.0h0M233.3 1083.0h0M233.8 1083.1h0M234.2 1083.2h0M234.7 1083.7h0M235.1 1083.7h0M235.6 1083.4h0M236.0 1082.0h0M236.5 1083.9h0M236.9 1083.4h0M237.4 1081.9h0M237.8 1082.7h0M238.3 1084.0h0M238.7 1083.2h0M239.2 1083.1h0M239.6 1082.9h0M240.1 1084.7h0M240.5 1085.4h0M241.0 1084.3h0M241.4 1084.8h0M241.9 1085.3h0M242.3 1085.4h0M242.8 1084.2h0M243.2 1084.3h0M243.7 1084.8h0M244.1 1084.8h0M244.6 1085.2h0M245.0 1084.7h0M245.5 1084.8h0M245.9 1084.4h0M246.4 1084.8h0M246.8 1084.8h0M247.3 1085.1h0M247.7 1085.1h0M248.2 1084.7h0M248.6 1085.0h0M249.1 1085.0h0M249.5 1084.4h0M250.0 1085.1h0M250.4 1084.8h0M250.9 1084.3h0M251.3 1084.1h0M251.8 1085.3h0M252.2 1084.2h0M252.7 1084.6h0M253.1 1085.0h0M253.6 1084.4h0M254.0 1084.7h0M254.5 1084.3h0M254.9 1078.9h0M255.4 1079.7h0M255.8 1083.5h0M256.3 1081.4h0M256.7 1083.5h0M257.2 1080.4h0M257.6 1080.0h0M258.1 1082.5h0M258.5 1083.0h0M259.0 1083.8h0M259.4 1083.6h0M259.9 1079.4h0M260.3 1080.8h0M260.8 1082.0h0M261.2 1082.3h0M261.7 1083.2h0M262.1 1083.5h0M262.6 1083.8h0M263.0 1076.0h0M263.5 1076.8h0M263.9 1081.8h0M264.4 1084.0h0M264.8 1083.5h0M265.3 1083.0h0M265.7 1081.1h0M266.2 1082.8h0M266.6 1080.5h0M267.1 1080.1h0M267.5 1080.5h0M268.0 1084.3h0M268.4 1083.8h0M268.9 1084.2h0M269.3 1079.6h0M269.8 1084.0h0M270.2 1081.4h0M270.7 1082.1h0M271.1 1079.6h0M271.6 1080.8h0M272.0 1079.3h0M272.5 1082.7h0M272.9 1079.7h0M273.4 1080.0h0M273.8 1081.3h0M274.3 1083.0h0M274.7 1079.7h0M275.2 1083.4h0M275.6 1079.8h0M276.1 1081.7h0M276.5 1084.7h0M277.0 1079.2h0M277.4 1082.8h0M277.9 1080.7h0M278.3 1082.2h0M278.8 1083.8h0M279.2 1083.1h0M279.7 1083.9h0M280.1 1079.6h0M280.6 1083.5h0M281.0 1081.8h0M281.5 1083.0h0M281.9 1082.2h0M282.4 1080.8h0M282.8 1080.6h0M283.3 1081.3h0M283.7 1083.9h0M284.2 1079.4h0M284.6 1081.5h0M285.1 1082.6h0M285.5 1080.9h0M286.0 1076.0h0M286.4 1077.5h0M286.9 1084.5h0M287.3 1079.1h0M287.8 1081.1h0M288.2 1081.7h0M288.7 1081.8h0M289.1 1084.8h0M289.6 1080.0h0M290.0 1079.4h0M290.5 1080.3h0M290.9 1079.7h0M291.4 1083.5h0M291.8 1078.6h0M292.3 1083.4h0M292.7 1080.6h0M293.2 1082.4h0M293.6 1079.8h0M294.1 1081.0h0M294.5 1083.3h0M295.0 1082.6h0M295.4 1084.7h0M295.9 1083.7h0M296.3 1084.9h0M296.8 1079.2h0M297.2 1082.6h0M297.7 1081.9h0M298.1 1083.5h0M298.6 1082.7h0M299.0 1082.5h0M299.5 1083.0h0M299.9 1083.5h0M300.4 1080.9h0M300.8 1081.2h0M301.3 1083.1h0M301.7 1080.4h0M302.2 1081.0h0M302.6 1079.0h0M303.1 1081.0h0M303.5 1079.0h0M304.0 1081.6h0M304.4 1079.2h0M304.9 1082.0h0M305.3 1078.9h0M305.8 1080.1h0M306.2 1080.3h0M306.7 1080.6h0M307.1 1080.2h0M307.6 1080.1h0M308.0 1082.3h0M308.5 1084.1h0M308.9 1083.9h0M309.4 1080.5h0M309.8 1082.1h0M310.3 1082.1h0M310.7 1081.0h0M311.2 1082.8h0M311.6 1082.6h0M312.1 1079.0h0M312.5 1083.9h0M313.0 1083.9h0M313.4 1082.2h0M313.9 1082.5h0M314.3 1079.9h0M314.8 1079.4h0M315.2 1083.0h0M315.7 1083.2h0M316.1 1079.4h0M316.6 1080.9h0M317.0 1078.2h0M317.5 1080.1h0M317.9 1079.6h0M318.4 1083.5h0M318.8 1079.8h0M319.3 1077.7h0M319.7 1081.6h0M320.2 1081.4h0M320.6 1075.0h0M321.1 1075.8h0M321.5 1080.7h0M322.0 1079.3h0M322.4 1079.3h0M322.9 1077.6h0M323.3 1080.5h0M323.8 1078.1h0M324.2 1079.3h0M324.7 1079.5h0M325.1 1080.8h0M325.6 1082.7h0M326.0 1081.0h0M326.5 1078.3h0M326.9 1082.4h0M327.4 1078.6h0M327.8 1081.6h0M328.3 1078.1h0M328.7 1079.8h0M329.2 1081.8h0M329.6 1078.7h0M330.1 1078.5h0M330.5 1080.8h0M331.0 1076.7h0M331.4 1077.5h0M331.9 1077.8h0M332.3 1079.0h0M332.8 1078.4h0M333.2 1082.8h0M333.7 1079.9h0M334.1 1080.2h0M334.6 1079.4h0M335.0 1078.8h0M335.5 1078.5h0M335.9 1077.1h0M336.4 1079.2h0M336.8 1078.4h0M337.3 1082.2h0M337.7 1082.3h0M338.2 1081.3h0M338.6 1083.2h0M339.1 1078.9h0M339.5 1082.2h0M340.0 1083.1h0M340.4 1081.7h0M340.9 1079.0h0M341.3 1082.6h0M341.8 1080.3h0M342.2 1079.7h0M342.7 1079.9h0M343.1 1078.4h0M343.6 1083.4h0M344.0 1082.3h0M344.5 1078.7h0M344.9 1077.7h0M345.4 1078.2h0M345.8 1082.1h0M346.3 1078.2h0M346.7 1081.5h0M347.2 1079.8h0M347.6 1083.4h0M348.1 1080.3h0M348.5 1083.3h0M349.0 1080.5h0M349.4 1082.5h0M349.9 1083.9h0M350.3 1080.9h0M350.8 1079.9h0M351.2 1080.7h0M351.7 1083.6h0M352.1 1082.3h0M352.6 1080.0h0M353.0 1077.9h0M353.5 1082.1h0M353.9 1079.8h0M354.4 1078.1h0M354.8 1082.5h0M355.3 1080.5h0M355.7 1077.9h0M356.2 1078.5h0M356.6 1077.7h0M357.1 1079.2h0M357.5 1081.3h0M358.0 1079.0h0M358.4 1081.8h0M358.9 1079.1h0M359.3 1082.2h0M359.8 1076.5h0M360.2 1081.8h0M360.7 1077.0h0M361.1 1080.2h0M361.6 1082.0h0M362.0 1077.3h0M362.5 1079.9h0M362.9 1079.4h0M363.4 1081.0h0M363.8 1076.5h0M364.3 1077.4h0M364.7 1079.6h0M365.2 1081.3h0M365.6 1082.3h0M366.1 1080.0h0M366.5 1081.8h0M367.0 1080.0h0M367.4 1081.2h0M367.9 1081.6h0M368.3 1084.1h0M368.8 1080.0h0M369.2 1081.0h0M369.7 1081.6h0M370.1 1080.8h0M370.6 1084.1h0M371.0 1082.6h0M371.5 1081.5h0M371.9 1080.0h0M372.4 1083.0h0M372.8 1082.5h0M373.3 1081.5h0M373.7 1081.4h0M374.2 1083.9h0M374.6 1081.1h0M375.1 1080.7h0M375.5 1080.9h0M376.0 1081.3h0M376.4 1083.5h0M376.9 1083.1h0M377.3 1083.4h0M377.8 1084.1h0M378.2 1082.7h0M378.7 1081.2h0M379.1 1082.4h0M379.6 1083.6h0M380.0 1083.4h0M380.5 1080.6h0M380.9 1084.2h0M381.4 1082.7h0M381.8 1081.8h0M382.3 1083.9h0M382.7 1084.1h0M383.2 1084.6h0M383.6 1082.6h0M384.1 1084.1h0M384.5 1083.3h0M385.0 1081.7h0M385.4 1077.0h0M385.9 1078.4h0M386.3 1081.6h0M386.8 1084.3h0M387.2 1082.5h0M387.7 1081.4h0M388.1 1082.0h0M388.6 1082.7h0M389.0 1082.3h0M389.5 1082.4h0M389.9 1083.0h0M390.4 1079.8h0M390.8 1081.6h0M391.3 1078.5h0M391.7 1078.0h0M392.2 1081.0h0M392.6 1080.7h0M393.1 1082.8h0M393.5 1080.9h0M394.0 1079.2h0M394.4 1080.0h0M394.9 1076.9h0M395.3 1076.9h0M395.8 1078.4h0M396.2 1082.0h0M396.7 1080.1h0M397.1 1080.0h0M397.6 1082.8h0M398.0 1080.2h0M398.5 1081.6h0M398.9 1080.9h0M399.4 1078.5h0M399.8 1081.3h0M400.3 1080.6h0M400.7 1079.8h0M401.2 1081.0h0M401.6 1080.2h0M402.1 1077.7h0M402.5 1081.5h0M403.0 1082.1h0M403.4 1080.0h0M403.9 1081.6h0M404.3 1079.0h0M404.8 1078.5h0M405.2 1078.6h0M405.7 1082.3h0M406.1 1079.6h0M406.6 1084.0h0M407.0 1078.7h0M407.5 1081.2h0M407.9 1076.5h0M408.4 1083.1h0M408.8 1081.3h0M409.3 1078.1h0M409.7 1079.7h0M410.2 1077.5h0M410.6 1082.0h0M411.1 1076.6h0M411.5 1081.1h0M412.0 1081.1h0M412.4 1078.8h0M412.9 1079.9h0M413.3 1077.4h0M413.8 1083.0h0M414.2 1077.7h0M414.7 1076.9h0M415.1 1081.4h0M415.6 1081.5h0M416.0 1077.8h0M416.5 1079.9h0M416.9 1078.9h0M417.4 1077.0h0M417.8 1082.0h0M418.3 1078.2h0M418.7 1079.3h0M419.2 1079.6h0M419.6 1077.5h0M420.1 1081.1h0M420.5 1080.2h0M421.0 1082.6h0M421.4 1081.5h0M421.9 1078.1h0M422.3 1079.8h0M422.8 1078.6h0M423.2 1077.2h0M423.7 1076.0h0M424.1 1082.8h0M424.6 1079.3h0M425.0 1076.5h0M425.5 1077.8h0M425.9 1076.6h0M426.4 1082.8h0M426.8 1081.9h0M427.3 1077.9h0M427.7 1083.7h0M428.2 1082.7h0M428.6 1077.3h0M429.1 1079.3h0M429.5 1077.6h0M430.0 1081.5h0M430.4 1082.4h0M430.9 1082.8h0M431.3 1075.7h0M431.8 1078.3h0M432.2 1083.2h0M432.7 1083.0h0M433.1 1082.6h0M433.6 1078.2h0M434.0 1080.1h0M434.5 1078.7h0M434.9 1082.5h0M435.4 1082.6h0M435.8 1081.5h0M436.3 1081.1h0M436.7 1078.5h0M437.2 1081.6h0M437.6 1078.1h0M438.1 1082.2h0M438.5 1078.1h0M439.0 1082.2h0M439.4 1080.9h0M439.9 1078.0h0M440.3 1079.3h0M440.8 1082.0h0M441.2 1081.9h0M441.7 1081.6h0M442.1 1082.5h0M442.6 1077.6h0M443.0 1081.9h0M443.5 1078.0h0M443.9 1078.5h0M444.4 1076.1h0M444.8 1075.7h0M445.3 1074.3h0M445.7 1075.9h0M446.2 1075.9h0M446.6 1075.3h0M447.1 1076.8h0M447.5 1076.0h0M448.0 1076.2h0M448.4 1073.7h0M448.9 1077.3h0M449.3 1075.6h0M449.8 1075.7h0M450.2 1077.0h0M450.7 1076.0h0M451.1 1074.4h0M451.6 1073.8h0M452.0 1075.5h0M452.5 1077.3h0M452.9 1076.9h0M453.4 1076.4h0M453.8 1076.1h0M454.3 1077.2h0M454.7 1075.0h0M455.2 1074.6h0M455.6 1074.6h0M456.1 1077.0h0M456.5 1078.4h0M457.0 1077.6h0M457.4 1075.2h0M457.9 1077.2h0M458.3 1075.8h0M458.8 1077.8h0M459.2 1076.1h0M459.7 1078.0h0M460.1 1076.4h0M460.6 1077.2h0M461.0 1074.8h0M461.5 1077.6h0M461.9 1077.7h0M462.4 1074.9h0M462.8 1077.1h0M463.3 1077.6h0M463.7 1073.9h0M464.2 1074.7h0M464.6 1076.6h0M465.1 1076.3h0M465.5 1074.7h0M466.0 1078.0h0M466.4 1076.0h0M466.9 1075.5h0M467.3 1073.9h0M467.8 1074.0h0M468.2 1075.7h0M468.7 1073.5h0M469.1 1077.1h0M469.6 1075.9h0M470.0 1075.9h0M470.5 1077.1h0M470.9 1076.9h0M471.4 1073.2h0M471.8 1074.6h0M472.3 1074.6h0M472.7 1077.0h0M473.2 1073.6h0M473.6 1077.9h0M474.1 1074.4h0M474.5 1074.0h0M475.0 1076.5h0M475.4 1073.0h0M475.9 1076.0h0M476.3 1073.3h0M476.8 1075.6h0M477.2 1076.8h0M477.7 1077.0h0M478.1 1075.5h0M478.6 1075.5h0M479.0 1076.5h0M479.5 1074.5h0M479.9 1074.6h0M480.4 1075.2h0M480.8 1074.7h0M481.3 1076.1h0M481.7 1073.6h0M482.2 1077.1h0M482.6 1073.8h0M483.1 1074.8h0M483.5 1077.1h0M484.0 1075.5h0M484.4 1076.1h0M484.9 1077.0h0M485.3 1077.8h0M485.8 1076.2h0M486.2 1084.1h0M486.7 1085.0h0M487.1 1083.8h0M487.6 1083.4h0M488.0 1083.4h0M488.5 1084.4h0M488.9 1083.5h0M489.4 1083.4h0M489.8 1084.0h0M490.3 1082.9h0M490.7 1084.4h0M491.2 1083.6h0M491.6 1082.8h0M492.1 1084.6h0M492.5 1083.1h0M493.0 1083.4h0M493.4 1084.6h0M493.9 1083.1h0M494.3 1083.2h0M494.8 1083.1h0M495.2 1084.5h0M495.7 1085.1h0M496.1 1084.9h0M496.6 1084.2h0M497.0 1082.6h0M497.5 1084.7h0M497.9 1085.0h0M498.4 1084.5h0M498.8 1084.1h0M499.3 1085.0h0M499.7 1083.8h0M500.2 1084.1h0M500.6 1078.9h0M501.1 1078.8h0M501.5 1080.3h0M502.0 1081.1h0M502.4 1079.8h0M502.9 1080.3h0M503.3 1080.3h0M503.8 1082.3h0M504.2 1077.9h0M504.7 1082.9h0M505.1 1078.8h0M505.6 1076.7h0M506.0 1083.4h0M506.5 1080.5h0M506.9 1081.4h0M507.4 1079.9h0M507.8 1081.4h0M508.3 1079.8h0M508.7 1082.3h0M509.2 1082.4h0M509.6 1081.6h0M510.1 1083.8h0M510.5 1081.5h0M511.0 1083.6h0M511.4 1078.1h0M511.9 1083.4h0M512.3 1078.4h0M512.8 1080.1h0M513.2 1077.6h0M513.7 1080.3h0M514.1 1079.7h0M514.6 1079.8h0M515.0 1079.7h0M515.5 1079.9h0M515.9 1078.0h0M516.4 1083.5h0M516.8 1082.7h0M517.3 1081.7h0M517.7 1077.1h0M518.2 1082.4h0M518.6 1079.3h0M519.1 1077.7h0M519.5 1078.4h0M520.0 1082.8h0M520.4 1081.8h0M520.9 1079.7h0M521.3 1082.8h0M521.8 1081.3h0M522.2 1081.2h0M522.7 1078.9h0M523.1 1082.0h0M523.6 1079.0h0M524.0 1082.0h0M524.5 1081.3h0M524.9 1082.5h0M525.4 1081.0h0M525.8 1080.2h0M526.3 1080.6h0M526.7 1082.8h0M527.2 1079.2h0M527.6 1081.5h0M528.1 1081.6h0M528.5 1078.7h0M529.0 1077.9h0M529.4 1082.2h0M529.9 1084.2h0M530.3 1079.2h0M530.8 1084.3h0M531.2 1080.5h0M531.7 1081.9h0M532.1 1082.8h0M532.6 1080.6h0M533.0 1078.1h0M533.5 1080.5h0M533.9 1080.5h0M534.4 1083.5h0M534.8 1078.5h0M535.3 1080.1h0M535.7 1079.8h0M536.2 1081.5h0M536.6 1078.8h0M537.1 1076.6h0M537.5 1079.1h0M538.0 1077.0h0M538.4 1077.6h0M538.9 1078.0h0M539.3 1082.5h0M539.8 1077.9h0M540.2 1080.0h0M540.7 1081.8h0M541.1 1080.6h0M541.6 1080.0h0M542.0 1077.5h0M542.5 1078.5h0M542.9 1078.6h0M543.4 1083.6h0M543.8 1076.7h0M544.3 1079.4h0M544.7 1082.9h0M545.2 1079.5h0M545.6 1082.4h0M546.1 1079.8h0M546.5 1080.1h0M547.0 1083.6h0M547.4 1077.6h0M547.9 1077.6h0M548.3 1079.1h0M548.8 1078.1h0M549.2 1081.9h0M549.7 1080.6h0M550.1 1079.7h0M550.6 1080.6h0M551.0 1083.3h0M551.5 1079.3h0M551.9 1079.1h0M552.4 1078.8h0M552.8 1081.2h0M553.3 1078.2h0M553.7 1080.5h0M554.2 1079.0h0M554.6 1079.4h0M555.1 1077.7h0M555.5 1083.9h0M556.0 1079.2h0M556.4 1080.3h0M556.9 1081.3h0M557.3 1078.3h0M557.8 1083.2h0M558.2 1080.2h0M558.7 1076.3h0M559.1 1076.1h0M559.6 1079.2h0M560.0 1078.9h0M560.5 1079.9h0M560.9 1078.4h0M561.4 1082.0h0M561.8 1078.0h0M562.3 1083.1h0M562.7 1080.8h0M563.2 1074.7h0M563.6 1078.2h0M564.1 1082.3h0M564.5 1075.6h0M565.0 1075.8h0M565.4 1077.4h0M565.9 1075.6h0M566.3 1077.2h0M566.8 1079.5h0M567.2 1074.8h0M567.7 1081.9h0M568.1 1074.8h0M568.6 1075.2h0M569.0 1080.2h0M569.5 1082.2h0M569.9 1079.3h0M570.4 1074.2h0M570.8 1074.8h0M571.3 1080.7h0M571.7 1074.1h0M572.2 1075.6h0M572.6 1079.6h0M573.1 1076.4h0M573.5 1077.6h0M574.0 1078.8h0M574.4 1081.3h0M574.9 1075.4h0M575.3 1080.2h0M575.8 1079.1h0M576.2 1081.9h0M576.7 1074.2h0M577.1 1079.7h0M577.6 1077.0h0M578.0 1078.7h0M578.5 1079.3h0M578.9 1078.7h0M579.4 1077.1h0M579.8 1081.3h0M580.3 1075.5h0M580.7 1082.9h0M581.2 1075.5h0M581.6 1082.5h0M582.1 1079.2h0M582.5 1082.0h0M583.0 1084.0h0M583.4 1076.9h0M583.9 1076.7h0M584.3 1077.1h0M584.8 1080.9h0M585.2 1083.6h0M585.7 1079.0h0M586.1 1077.2h0M586.6 1076.9h0M587.0 1075.5h0M587.5 1079.6h0M587.9 1075.6h0M588.4 1076.2h0M588.8 1081.0h0M589.3 1081.2h0M589.7 1077.7h0M590.2 1084.7h0M590.6 1082.4h0M591.1 1081.9h0M591.5 1080.2h0M592.0 1083.4h0M592.4 1082.0h0M592.9 1077.4h0M593.3 1083.9h0M593.8 1081.0h0M594.2 1080.6h0M594.7 1077.9h0M595.1 1084.0h0M595.6 1077.1h0M596.0 1076.8h0M596.5 1081.3h0M596.9 1076.2h0M597.4 1084.6h0M597.8 1078.6h0M598.3 1082.2h0M598.7 1075.0h0M599.2 1077.9h0M599.6 1083.3h0M600.1 1080.3h0M600.5 1079.1h0M601.0 1080.9h0M601.4 1080.0h0M601.9 1077.2h0M602.3 1080.4h0M602.8 1076.1h0M603.2 1077.0h0M603.7 1081.4h0M604.1 1082.2h0M604.6 1082.1h0M605.1 1077.0h0M605.5 1080.8h0M606.0 1077.1h0M606.4 1082.5h0M606.9 1080.7h0M607.3 1077.4h0M607.8 1080.1h0M608.2 1072.3h0M608.7 1072.1h0M609.1 1077.1h0M609.6 1071.1h0M610.0 1071.8h0M610.5 1070.7h0M610.9 1074.6h0M611.4 1073.2h0M611.8 1073.8h0M612.3 1080.4h0M612.7 1082.1h0M613.2 1074.4h0M613.6 1075.7h0M614.1 1067.3h0M614.5 1064.9h0M615.0 1072.2h0M615.4 1077.2h0M615.9 1077.2h0M616.3 1052.7h0M616.8 1054.7h0M617.2 1066.4h0M617.7 1076.8h0M618.1 1072.7h0M618.6 1069.1h0M619.0 1069.5h0M619.5 1075.8h0M619.9 1061.7h0M620.4 1075.0h0M620.8 1076.6h0M621.3 1059.6h0M621.7 1064.1h0M622.2 1059.4h0M622.6 1077.3h0M623.1 1071.7h0M623.5 1061.8h0M624.0 1066.0h0M624.4 1060.5h0M624.9 1061.7h0M625.3 1075.6h0M625.8 1062.3h0M626.2 1061.5h0M626.7 1062.1h0M627.1 1062.3h0M627.6 1072.4h0M628.0 1060.0h0M628.5 1077.0h0M628.9 1070.7h0M629.4 1070.6h0M629.8 1060.0h0M630.3 1058.6h0M630.7 1060.8h0M631.2 1066.1h0M631.6 1067.1h0M632.1 1080.6h0M632.5 1075.8h0M633.0 1080.8h0M633.4 1080.8h0M633.9 1076.8h0M634.3 1075.9h0M634.8 1078.5h0M635.2 1079.5h0M635.7 1075.1h0M636.1 1077.3h0M636.6 1082.3h0M637.0 1078.9h0M637.5 1072.6h0M637.9 1083.7h0M638.4 1082.5h0M638.8 1077.4h0M639.3 1077.7h0M639.7 1071.4h0M640.2 1083.5h0M640.6 1076.4h0M641.1 1081.1h0M641.5 1077.8h0M642.0 1076.8h0M642.4 1079.0h0M642.9 1079.8h0M643.3 1080.2h0M643.8 1076.3h0M644.2 1080.7h0M644.7 1082.0h0M645.1 1081.4h0M645.6 1078.7h0M646.0 1082.1h0M646.5 1084.4h0M646.9 1080.2h0M647.4 1075.8h0M647.8 1080.3h0M648.3 1081.3h0M648.7 1084.5h0M649.2 1077.6h0M649.6 1080.0h0M650.1 1078.8h0M650.5 1079.5h0M651.0 1077.6h0M651.4 1083.4h0M651.9 1083.1h0M652.3 1076.9h0M652.8 1079.7h0M653.2 1081.6h0M653.7 1083.3h0M654.1 1079.9h0M654.6 1080.0h0M655.0 1079.1h0M655.5 1083.4h0M655.9 1081.4h0M656.4 1077.8h0M656.8 1083.2h0M657.3 1076.8h0M657.7 1078.4h0M658.2 1083.8h0M658.6 1080.5h0M659.1 1080.3h0M659.5 1077.8h0M660.0 1081.4h0M660.4 1083.8h0M660.9 1082.6h0M661.3 1076.2h0M661.8 1083.8h0M662.2 1080.1h0M662.7 1078.2h0M663.1 1076.6h0M663.6 1080.6h0M664.0 1075.3h0M664.5 1075.0h0M664.9 1080.4h0M665.4 1075.1h0M665.8 1075.0h0M666.3 1082.9h0M666.7 1078.6h0M667.2 1080.8h0M667.6 1079.1h0M668.1 1079.2h0M668.5 1079.8h0M669.0 1075.7h0M669.4 1079.6h0M669.9 1078.6h0M670.3 1082.9h0M670.8 1079.1h0M671.2 1079.6h0M671.7 1079.9h0M672.1 1077.6h0M672.6 1077.4h0M673.0 1076.8h0M673.5 1076.5h0M673.9 1082.5h0M674.4 1081.5h0M674.8 1075.6h0M675.3 1072.2h0M675.7 1072.1h0M676.2 1078.8h0M676.6 1070.4h0M677.1 1075.6h0M677.5 1071.5h0M678.0 1069.6h0M678.4 1077.6h0M678.9 1084.6h0M679.3 1069.8h0M679.8 1069.1h0M680.2 1070.3h0M680.7 1076.9h0M681.1 1069.2h0M681.6 1073.7h0M682.0 1069.1h0M682.5 1079.4h0M682.9 1075.0h0M683.4 1082.5h0M683.8 1077.9h0M684.3 1076.9h0M684.7 1071.7h0M685.2 1079.2h0M685.6 1074.2h0M686.1 1067.9h0M686.5 1068.1h0M687.0 1067.9h0M687.4 1074.5h0M687.9 1074.9h0M688.3 1067.7h0M688.8 1074.1h0M689.2 1073.5h0M689.7 1073.0h0M690.1 1067.1h0M690.6 1067.3h0M691.0 1072.5h0M691.5 1082.3h0M691.9 1074.0h0M692.4 1083.9h0M692.8 1076.5h0M693.3 1081.4h0M693.7 1073.0h0M694.2 1071.3h0M694.6 1073.2h0M695.1 1072.0h0M695.5 1076.6h0M696.0 1068.0h0M696.4 1070.6h0M696.9 1081.6h0M697.3 1076.4h0M697.8 1069.2h0M698.2 1076.8h0M698.7 1075.7h0M699.1 1076.8h0M699.6 1069.8h0M700.0 1079.0h0M700.5 1077.6h0M700.9 1070.8h0M701.4 1075.2h0M701.8 1076.1h0M702.3 1079.1h0M702.7 1078.9h0M703.2 1077.5h0M703.6 1073.4h0M704.1 1080.3h0M704.5 1074.4h0M705.0 1080.0h0M705.4 1078.4h0M705.9 1083.5h0M706.3 1075.8h0M706.8 1070.0h0M707.2 1083.6h0M707.7 1079.2h0M708.1 1083.1h0M708.6 1075.3h0M709.0 1080.4h0M709.5 1078.7h0M709.9 1082.2h0M710.4 1083.1h0M710.8 1079.7h0M711.3 1074.0h0M711.7 1084.5h0M712.2 1073.8h0M712.6 1084.4h0M713.1 1084.3h0M713.5 1079.9h0M714.0 1074.4h0M714.4 1074.1h0M714.9 1070.7h0M715.3 1073.6h0M715.8 1077.8h0M716.2 1076.3h0M716.7 1082.7h0M717.1 1076.5h0M717.6 1078.7h0M718.0 1084.3h0M718.5 1078.7h0M718.9 1073.8h0M719.4 1072.8h0M719.8 1084.4h0M720.3 1084.9h0M720.7 1074.4h0M721.2 1076.5h0M721.6 1080.2h0M722.1 1082.3h0M722.5 1075.3h0M723.0 1077.8h0M723.4 1080.9h0M723.9 1081.8h0M724.3 1072.0h0M724.8 1080.0h0M725.2 1074.4h0M725.7 1072.0h0M726.1 1083.2h0M726.6 1083.7h0M727.0 1076.9h0M727.5 1066.5h0M727.9 1075.0h0M728.4 1079.0h0M728.8 1070.5h0M729.3 1068.8h0M729.7 1081.8h0M730.2 1077.3h0M730.6 1071.7h0M731.1 1078.6h0M731.5 1075.5h0M732.0 1074.5h0M732.4 1075.5h0M732.9 1072.8h0M733.3 1078.8h0M733.8 1073.7h0M734.2 1076.9h0M734.7 1080.6h0M735.1 1077.9h0M735.6 1081.9h0M736.0 1075.6h0M736.5 1072.2h0M736.9 1074.0h0M737.4 1077.1h0M737.8 1072.9h0M738.3 1074.5h0M738.7 1074.6h0M739.2 1082.8h0M739.6 1082.8h0M740.1 1070.4h0M740.5 1074.0h0M741.0 1078.1h0M741.4 1080.8h0M741.9 1082.4h0M742.3 1070.7h0M742.8 1078.8h0M743.2 1067.2h0M743.7 1067.0h0M744.1 1077.2h0M744.6 1076.0h0M745.0 1069.0h0M745.5 1071.4h0M745.9 1080.6h0M746.4 1070.0h0M746.8 1079.6h0M747.3 1078.7h0M747.7 1083.9h0M748.2 1077.0h0M748.6 1076.9h0M749.1 1076.6h0M749.5 1084.5h0M750.0 1076.1h0M750.4 1079.0h0M750.9 1073.5h0M751.3 1080.0h0M751.8 1083.4h0M752.2 1071.7h0M752.7 1082.4h0M753.1 1070.9h0M753.6 1079.4h0M754.0 1075.2h0M754.5 1074.1h0M754.9 1082.7h0M755.4 1072.8h0M755.8 1079.9h0M756.3 1075.0h0M756.7 1073.2h0M757.2 1067.9h0M757.6 1067.5h0M758.1 1077.5h0M758.5 1078.5h0M759.0 1079.1h0M759.4 1069.0h0M759.9 1074.8h0M760.3 1069.7h0M760.8 1079.6h0M761.2 1069.1h0M761.7 1070.0h0M762.1 1075.4h0M762.6 1077.1h0M763.0 1071.5h0M763.5 1067.1h0M763.9 1070.3h0M764.4 1066.4h0M764.8 1077.3h0M765.3 1070.7h0M765.7 1068.2h0M766.2 1078.2h0M766.6 1070.5h0M767.1 1077.5h0M767.5 1078.5h0M768.0 1078.3h0M768.4 1079.5h0M768.9 1072.7h0M769.3 1080.0h0M769.8 1076.6h0M770.2 1072.0h0M770.7 1070.7h0M771.1 1067.0h0M771.6 1074.9h0M772.0 1068.1h0M772.5 1078.2h0M772.9 1077.7h0M773.4 1070.4h0M773.8 1079.1h0M774.3 1071.8h0M774.7 1069.5h0M775.2 1072.8h0M775.6 1079.6h0M776.1 1071.8h0M776.5 1076.0h0M777.0 1079.4h0M777.4 1078.0h0M777.9 1077.2h0M778.3 1067.7h0M778.8 1075.8h0M779.2 1070.1h0M779.7 1071.9h0M780.1 1074.9h0M780.6 1078.6h0M781.0 1076.5h0M781.5 1072.9h0M781.9 1069.6h0M782.4 1073.1h0M782.8 1067.4h0M783.3 1075.0h0M783.7 1078.6h0M784.2 1075.2h0M784.6 1075.9h0M785.1 1073.3h0M785.5 1076.3h0M786.0 1070.3h0M786.4 1075.7h0M786.9 1071.8h0M787.3 1078.4h0M787.8 1077.0h0M788.2 1074.7h0M788.7 1068.5h0M789.1 1064.4h0M789.6 1068.2h0M790.0 1064.5h0M790.5 1069.9h0M790.9 1070.8h0M791.4 1073.6h0M791.8 1066.4h0M792.3 1078.6h0M792.7 1079.1h0M793.2 1068.6h0M793.6 1065.9h0M794.1 1066.5h0M794.5 1075.9h0M795.0 1064.3h0M795.4 1064.5h0M795.9 1064.9h0M796.3 1076.9h0M796.8 1076.5h0M797.2 1070.4h0M797.7 1067.6h0M798.1 1068.4h0M798.6 1071.2h0M799.0 1068.2h0M799.5 1070.1h0M799.9 1077.3h0M800.4 1070.1h0M800.8 1064.9h0M801.3 1076.7h0M801.7 1069.1h0M802.2 1076.1h0M802.6 1066.9h0M803.1 1072.4h0M803.5 1073.2h0M804.0 1070.5h0M804.4 1079.0h0M804.9 1068.3h0M805.3 1064.3h0M805.8 1073.0h0M806.2 1066.0h0M806.7 1068.6h0M807.1 1064.4h0M807.6 1068.0h0M808.0 1079.4h0M808.5 1070.0h0M808.9 1072.8h0M809.4 1069.4h0M809.8 1067.9h0M810.3 1067.4h0M810.7 1069.4h0M811.2 1076.2h0M811.6 1079.0h0M812.1 1079.9h0M812.5 1074.3h0M813.0 1079.9h0M813.4 1077.7h0M813.9 1078.8h0M814.3 1077.4h0M814.8 1071.1h0M815.2 1080.0h0M815.7 1074.1h0M816.1 1070.8h0M816.6 1079.6h0M817.0 1078.0h0M817.5 1076.1h0M817.9 1078.5h0M818.4 1072.0h0M818.8 1067.4h0M819.3 1066.2h0M819.7 1073.8h0M820.2 1069.6h0M820.6 1078.6h0M821.1 1071.1h0M821.5 1071.6h0M822.0 1079.9h0M822.4 1077.6h0M822.9 1071.3h0M823.3 1074.8h0M823.8 1066.6h0M824.2 1065.4h0M824.7 1071.9h0M825.1 1077.4h0M825.6 1068.3h0M826.0 1081.2h0M826.5 1069.6h0M826.9 1070.6h0M827.4 1069.2h0M827.8 1079.4h0M828.3 1068.8h0M828.7 1073.7h0M829.2 1073.0h0M829.6 1067.3h0M830.1 1078.5h0M830.5 1079.1h0M831.0 1079.4h0M831.4 1079.0h0M831.9 1078.5h0M832.3 1073.1h0M832.8 1068.1h0M833.2 1068.4h0M833.7 1072.1h0M834.1 1067.7h0M834.6 1071.0h0M835.0 1071.5h0M835.5 1080.2h0M835.9 1075.5h0M836.4 1068.3h0M836.8 1072.6h0M837.3 1072.6h0M837.7 1081.9h0M838.2 1075.0h0M838.6 1066.7h0M839.1 1073.6h0M839.5 1065.0h0M840.0 1075.6h0M840.4 1074.3h0M840.9 1072.2h0M841.3 1071.2h0M841.8 1073.3h0M842.2 1077.1h0M842.7 1066.6h0M843.1 1063.5h0M843.6 1075.6h0M844.0 1071.0h0M844.5 1074.3h0M844.9 1063.0h0M845.4 1063.9h0M845.8 1068.3h0M846.3 1064.8h0M846.7 1077.4h0M847.2 1070.2h0M847.6 1068.9h0M848.1 1066.7h0M848.5 1065.6h0M849.0 1069.9h0M849.4 1065.4h0M849.9 1063.5h0M850.3 1077.4h0M850.8 1068.4h0M851.2 1063.6h0M851.7 1075.7h0M852.1 1065.1h0M852.6 1071.2h0M853.0 1080.7h0M853.5 1079.4h0M853.9 1065.8h0M854.4 1066.0h0M854.8 1070.1h0M855.3 1077.6h0M855.7 1077.3h0M856.2 1077.7h0M856.6 1076.2h0M857.1 1080.4h0M857.5 1077.9h0M858.0 1078.4h0M858.4 1068.9h0M858.9 1067.0h0M859.3 1071.7h0M859.8 1074.7h0M860.2 1075.2h0M860.7 1066.0h0M861.1 1076.2h0M861.6 1080.7h0M862.0 1070.8h0M862.5 1081.8h0M862.9 1079.4h0M863.4 1075.4h0M863.8 1072.4h0M864.3 1073.5h0M864.7 1062.7h0M865.2 1062.8h0M865.6 1058.2h0M866.1 1070.2h0M866.5 1071.9h0M867.0 1060.0h0M867.4 1064.7h0M867.9 1062.1h0M868.3 1069.3h0M868.8 1070.0h0M869.2 1067.0h0M869.7 1072.2h0M870.1 1059.5h0M870.6 1070.8h0M871.0 1059.1h0M871.5 1065.2h0M871.9 1064.8h0M872.4 1054.7h0M872.8 1070.6h0M873.3 1060.9h0M873.7 1052.6h0M874.2 1062.5h0M874.6 1069.5h0M875.1 1050.3h0M875.5 1053.4h0M876.0 1056.0h0M876.4 1063.0h0M876.9 1068.7h0M877.3 1060.0h0M877.8 1067.0h0M878.2 1066.0h0M878.7 1054.9h0M879.1 1054.8h0M879.6 1054.6h0M880.0 1063.9h0M880.5 1057.0h0M880.9 1055.4h0M881.4 1060.9h0M881.8 1053.5h0M882.3 1065.9h0M882.7 1056.1h0M883.2 1053.4h0M883.6 1070.4h0M884.1 1057.5h0M884.5 1059.1h0M885.0 1064.5h0M885.4 1066.4h0M885.9 1053.0h0M886.3 1068.1h0M886.8 1057.7h0M887.2 1053.3h0M887.7 1063.9h0M888.1 1068.9h0M888.6 1063.7h0M889.0 1056.1h0M889.5 1055.0h0M889.9 1062.2h0M890.4 1058.4h0M890.8 1070.2h0M891.3 1069.4h0M891.7 1067.7h0M892.2 1055.7h0M892.6 1061.1h0M893.1 1059.5h0M893.5 1069.6h0M894.0 1070.3h0M894.4 1061.4h0M894.9 1054.3h0M895.3 1051.4h0M895.8 1061.9h0M896.2 1063.5h0M896.7 1053.9h0M897.1 1054.9h0M897.6 1056.1h0M898.0 1057.3h0M898.5 1072.2h0M898.9 1052.4h0M899.4 1063.0h0M899.8 1074.0h0M900.3 1065.6h0M900.7 1066.4h0M901.2 1069.6h0M901.6 1066.6h0M902.1 1053.6h0M902.5 1060.6h0M903.0 1064.3h0M903.4 1057.5h0M903.9 1051.2h0M904.3 1070.1h0M904.8 1051.4h0M905.2 1054.5h0M905.7 1053.8h0M906.1 1063.3h0M906.6 1057.6h0M907.0 1050.7h0M907.5 1051.1h0M907.9 1063.3h0M908.4 1067.4h0M908.8 1056.4h0M909.3 1050.8h0M909.7 1066.0h0M910.2 1052.7h0M910.6 1065.5h0M911.1 1049.5h0M911.5 1066.7h0M912.0 1047.1h0M912.4 1058.4h0M912.9 1058.6h0M913.3 1051.4h0M913.8 1064.0h0M914.2 1062.9h0M914.7 1053.5h0M915.1 1056.3h0M915.6 1063.6h0M916.0 1059.4h0M916.5 1062.3h0M916.9 1062.4h0M917.4 1059.8h0M917.8 1063.7h0M918.3 1054.1h0M918.7 1058.0h0M919.2 1070.5h0M919.6 1053.2h0M920.1 1069.7h0M920.5 1070.2h0M921.0 1072.1h0M921.4 1054.9h0M921.9 1059.7h0M922.3 1066.2h0M922.8 1071.5h0M923.2 1056.8h0M923.7 1067.9h0M924.1 1066.5h0M924.6 1071.0h0M925.0 1058.3h0M925.5 1066.9h0M925.9 1060.0h0M926.4 1068.9h0M926.8 1070.8h0M927.3 1065.0h0M927.7 1067.5h0M928.2 1067.5h0M928.6 1064.1h0M929.1 1053.5h0M929.5 1060.4h0M930.0 1060.5h0M930.4 1068.0h0M930.9 1067.2h0M931.3 1059.1h0M931.8 1060.6h0M932.2 1067.5h0M932.7 1068.2h0M933.1 1052.0h0M933.6 1053.6h0M934.0 1055.0h0M934.5 1062.7h0M934.9 1054.4h0M935.4 1060.2h0M935.8 1073.5h0M936.3 1062.5h0M936.7 1060.6h0M937.2 1060.5h0M937.6 1079.8h0M938.1 1065.0h0M938.5 1073.2h0M939.0 1077.7h0M939.4 1075.3h0M939.9 1073.5h0M940.3 1058.6h0M940.8 1081.0h0M941.2 1057.7h0M941.7 1068.7h0M942.1 1078.1h0M942.6 1076.1h0M943.0 1063.4h0M943.5 1062.8h0M943.9 1066.2h0M944.4 1058.6h0M944.8 1063.4h0M945.3 1063.2h0M945.7 1072.3h0M946.2 1074.4h0M946.6 1062.2h0M947.1 1059.8h0M947.5 1070.8h0M948.0 1057.5h0M948.4 1063.1h0M948.9 1077.7h0M949.3 1058.0h0M949.8 1067.1h0M950.2 1074.1h0M950.7 1070.1h0M951.1 1058.0h0M951.6 1073.1h0M952.0 1059.8h0M952.5 1073.7h0M952.9 1076.5h0M953.4 1058.2h0M953.8 1058.5h0M954.3 1068.5h0M954.7 1062.3h0M955.2 1074.2h0M955.6 1062.0h0M956.1 1073.6h0M956.5 1055.5h0M957.0 1056.6h0M957.4 1073.8h0M957.9 1084.0h0M958.3 1071.6h0M958.8 1051.9h0M959.2 1071.6h0M959.7 1065.9h0M960.1 1072.2h0M960.6 1072.8h0M961.0 1072.2h0M961.5 1057.6h0M961.9 1067.4h0M962.4 1062.1h0M962.8 1069.6h0M963.3 1071.1h0M963.7 1070.1h0M964.2 1069.9h0M964.6 1068.9h0M965.1 1064.7h0M965.5 1049.4h0M966.0 1063.8h0M966.4 1055.4h0M966.9 1048.2h0M967.3 1059.7h0M967.8 1046.7h0M968.2 1047.4h0M968.7 1061.1h0M969.1 1054.3h0M969.6 1047.8h0M970.0 1066.2h0M970.5 1044.4h0M970.9 1049.9h0M971.4 1064.5h0M971.8 1063.5h0M972.3 1044.3h0M972.7 1054.8h0M973.2 1041.5h0M973.6 1055.6h0M974.1 1055.7h0M974.5 1063.0h0M975.0 1058.7h0M975.4 1047.8h0M975.9 1054.0h0M976.3 1045.6h0M976.8 1043.1h0M977.2 1056.8h0M977.7 1054.7h0M978.1 1048.3h0M978.6 1054.9h0M979.0 1060.4h0M979.5 1043.2h0M979.9 1059.3h0M980.4 1042.3h0M980.8 1045.6h0M981.3 1059.3h0M981.7 1048.9h0M982.2 1040.8h0M982.6 1045.1h0M983.1 1034.5h0M983.5 1037.4h0M984.0 1038.2h0M984.4 1038.7h0M984.9 1043.3h0M985.3 1045.3h0M985.8 1053.4h0M986.2 1046.5h0M986.7 1053.7h0M987.1 1050.6h0M987.6 1046.4h0M988.0 1044.1h0M988.5 1038.4h0M988.9 1055.0h0M989.4 1052.1h0M989.8 1043.8h0M990.3 1039.0h0M990.7 1051.5h0M991.2 1047.4h0M991.6 1033.7h0M992.1 1043.0h0M992.5 1045.3h0M993.0 1038.2h0M993.4 1028.9h0M993.9 1048.8h0M994.3 1036.6h0M994.8 1051.1h0M995.2 1035.3h0M995.7 1043.1h0M996.1 1042.6h0M996.6 1046.1h0M997.0 1048.1h0M997.5 1031.5h0M997.9 1030.2h0M998.4 1046.8h0M998.8 1037.1h0M999.3 1034.1h0M999.7 1023.2h0M1000.2 1080.0h0M1000.6 1046.3h0M1001.1 1038.9h0M1001.5 1037.7h0M1002.0 1027.1h0M1002.4 1028.2h0M1002.9 1043.0h0M1003.3 1035.7h0M1003.8 1039.2h0M1004.2 1033.0h0M1004.7 1036.4h0M1005.1 1030.3h0M1005.6 1030.2h0M1006.0 1037.1h0M1006.5 1045.5h0M1006.9 1030.1h0M1007.4 1025.8h0M1007.8 1039.2h0M1008.3 1044.5h0M1008.7 1032.9h0M1009.2 1043.2h0M1009.6 1027.6h0M1010.1 1031.2h0M1010.5 1048.9h0M1011.0 1041.6h0M1011.4 1029.8h0M1011.9 1029.2h0M1012.3 1021.8h0M1012.8 1026.9h0M1013.2 1047.0h0M1013.7 1036.1h0M1014.1 1044.7h0M1014.6 1031.3h0M1015.0 1025.1h0M1015.5 1029.3h0M1015.9 1068.0h0M1016.4 1038.3h0M1016.8 1028.3h0M1017.3 1027.6h0M1017.7 1040.1h0M1018.2 1018.5h0M1018.6 1030.0h0M1019.1 1031.4h0M1019.5 1022.9h0M1020.0 1035.9h0M1020.4 1049.3h0M1020.9 1048.3h0M1021.3 1015.2h0M1021.8 1018.7h0M1022.2 1024.7h0M1022.7 1037.8h0M1023.1 1015.9h0M1023.6 1038.2h0M1024.0 1034.4h0M1024.5 1039.1h0M1024.9 1014.5h0M1025.4 1021.6h0M1025.8 1032.8h0M1026.3 1048.5h0M1026.7 1029.9h0M1027.2 1014.4h0M1027.6 1043.4h0M1028.1 1049.0h0M1028.5 1027.8h0M1029.0 1010.0h0M1029.4 1031.9h0M1029.9 1082.0h0M1030.3 1016.7h0M1030.8 1002.3h0M1031.2 1016.1h0M1031.7 1014.5h0M1032.1 1025.6h0M1032.6 1003.8h0M1033.0 1025.0h0M1033.5 1016.9h0M1033.9 1018.1h0M1034.4 1006.2h0M1034.8 1002.6h0M1035.3 1022.2h0M1035.7 1007.8h0M1036.2 1000.7h0M1036.6 1019.5h0M1037.1 1025.0h0M1037.5 1026.0h0M1038.0 1015.1h0M1038.4 1009.9h0M1038.9 1003.9h0M1039.3 1031.1h0M1039.8 1008.9h0M1040.2 1016.8h0M1040.7 1014.9h0M1041.1 1011.2h0M1041.6 1030.1h0M1042.0 1014.9h0M1042.5 1025.2h0M1042.9 1027.9h0M1043.4 1003.3h0M1043.8 1017.2h0M1044.3 1028.6h0M1044.7 1015.9h0M1045.2 1003.1h0M1045.6 1023.2h0M1046.1 1022.8h0M1046.5 1024.0h0M1047.0 1020.2h0M1047.4 1000.7h0M1047.9 1030.7h0M1048.3 1008.6h0M1048.8 1021.8h0M1049.2 1002.8h0M1049.7 1006.9h0M1050.1 1012.7h0M1050.6 1005.2h0M1051.0 1008.5h0M1051.5 1026.3h0M1051.9 1022.5h0M1052.4 1003.6h0M1052.8 1013.5h0M1053.3 916.6h0M1053.7 957.2h0M1054.2 963.0h0M1054.6 953.0h0M1055.1 908.6h0M1055.5 923.7h0M1056.0 964.0h0M1056.4 974.3h0M1056.9 970.3h0M1057.3 930.3h0M1057.8 931.4h0M1058.2 898.0h0M1058.7 898.0h0M1059.1 940.3h0M1059.6 910.4h0M1060.0 917.6h0M1060.5 964.7h0M1060.9 972.1h0M1061.4 922.1h0M1061.8 951.2h0M1062.3 919.0h0M1062.7 931.4h0M1063.2 926.5h0M1063.6 923.4h0M1064.1 942.5h0M1064.5 917.5h0M1065.0 975.9h0M1065.4 923.9h0M1065.9 971.2h0M1066.3 968.5h0M1066.8 916.5h0M1067.2 932.4h0M1067.7 914.3h0M1068.1 954.7h0M1068.6 940.8h0M1069.0 963.9h0M1069.5 974.3h0M1069.9 945.9h0M1070.4 969.9h0M1070.8 954.6h0M1071.3 983.7h0M1071.7 973.5h0M1072.2 981.7h0M1072.6 963.5h0M1073.1 970.4h0M1073.5 976.7h0M1074.0 963.5h0M1074.4 944.5h0M1074.9 975.5h0M1075.3 945.7h0M1075.8 974.7h0M1076.2 976.6h0M1076.7 984.9h0M1077.1 971.4h0M1077.6 977.7h0M1078.0 985.9h0M1078.5 986.5h0M1078.9 986.6h0M1079.4 969.8h0M1079.8 951.9h0M1080.3 980.2h0M1080.7 973.0h0M1081.2 952.0h0M1081.6 951.1h0M1082.1 958.2h0M1082.5 953.8h0M1083.0 950.5h0M1083.4 987.8h0M1083.9 971.6h0M1084.3 977.8h0M1084.8 979.6h0M1085.2 968.6h0M1085.7 961.3h0M1086.1 951.9h0M1086.6 955.0h0M1087.0 943.9h0M1087.5 956.6h0M1087.9 974.8h0M1088.4 973.4h0M1088.8 975.5h0M1089.3 958.1h0M1089.7 956.7h0M1090.2 980.6h0M1090.6 972.5h0M1091.1 951.8h0M1091.5 949.1h0M1092.0 977.7h0M1092.4 977.6h0M1092.9 983.6h0M1093.3 967.5h0M1093.8 964.8h0M1094.2 1000.0h0M1094.7 965.9h0M1095.1 944.6h0M1095.6 945.8h0M1096.0 952.5h0M1096.5 987.1h0M1096.9 963.4h0M1097.4 971.1h0M1097.8 970.2h0M1098.3 873.2h0M1098.7 881.6h0M1099.2 888.6h0M1099.6 895.8h0M1100.1 890.0h0M1100.5 878.2h0M1101.0 872.1h0M1101.4 871.3h0M1101.9 885.3h0M1102.3 892.0h0M1102.8 875.5h0M1103.2 894.3h0M1103.7 896.9h0M1104.1 891.2h0M1104.6 886.7h0M1105.0 874.3h0M1105.5 881.8h0M1105.9 889.1h0M1106.4 883.7h0M1106.8 888.6h0M1107.3 896.1h0M1107.7 879.4h0M1108.2 882.4h0M1108.6 882.7h0M1109.1 893.8h0M1109.5 895.8h0M1110.0 877.1h0M1110.4 873.8h0M1110.9 872.8h0M1111.3 875.0h0M1111.8 901.4h0M1112.2 894.1h0M1112.7 891.6h0M1113.1 898.6h0M1113.6 877.8h0M1114.0 858.0h0M1114.5 860.8h0M1114.9 888.7h0M1115.4 930.2h0M1115.8 935.4h0M1116.3 936.0h0M1116.7 926.6h0M1117.2 942.0h0M1117.6 952.2h0M1118.1 925.5h0M1118.5 926.0h0M1119.0 950.1h0M1119.4 940.4h0M1119.9 928.2h0M1120.3 912.9h0M1120.8 936.3h0M1121.2 987.2h0M1121.7 994.7h0M1122.1 991.7h0M1122.6 987.0h0M1123.0 994.6h0M1123.5 992.1h0M1123.9 983.7h0M1124.4 988.9h0M1124.8 1018.0h0M1125.3 1001.4h0M1125.7 987.6h0M1126.2 990.4h0M1126.6 985.8h0M1127.1 985.3h0M1127.5 994.3h0M1128.0 993.8h0M1128.4 985.0h0M1128.9 988.4h0M1129.3 988.3h0M1129.8 989.5h0M1130.2 988.7h0M1130.7 993.9h0M1131.1 988.4h0M1131.6 985.3h0M1132.0 985.7h0M1132.5 988.1h0M1132.9 991.3h0M1133.4 991.4h0M1133.8 986.2h0M1134.3 990.9h0M1134.7 984.6h0M1135.2 991.4h0M1135.6 986.3h0M1136.1 877.6h0M1136.5 863.3h0M1137.0 829.7h0M1137.4 848.7h0M1137.9 856.3h0M1138.3 851.8h0M1138.8 804.6h0M1139.2 770.0h0M1139.7 770.0h0M1140.1 826.8h0M1140.6 827.4h0M1141.0 824.0h0M1141.5 837.1h0M1141.9 877.1h0M1142.4 890.8h0M1142.8 892.0h0M1143.3 887.0h0M1143.7 893.2h0" fill="none" stroke="#000" stroke-width="4.3" stroke-linecap="round"/></g>
<g clip-path="url(#cp3)"><path d="M142.0 1406.1L142.4 1394.9L142.9 1403.0L143.3 1415.3L143.8 1400.0L144.2 1406.3L144.7 1405.4L145.1 1396.8L145.6 1416.0L146.0 1400.0L146.5 1395.1L146.9 1406.8L147.4 1394.7L147.8 1390.5L148.3 1399.7L148.7 1413.9L149.2 1385.1L149.6 1395.7L150.1 1414.0L150.5 1410.2L151.0 1429.0L151.4 1418.4L151.9 1425.5L152.3 1417.8L152.8 1423.1L153.2 1422.8L153.7 1416.3L154.1 1416.5L154.6 1418.0L155.0 1416.3L155.5 1397.7L155.9 1406.1L156.4 1416.3L156.8 1394.9L157.3 1407.5L157.7 1422.3L158.2 1412.3L158.6 1416.7L159.1 1416.4L159.5 1400.7L160.0 1388.0L160.4 1388.0L160.9 1421.5L161.3 1417.3L161.8 1423.7L162.2 1402.4L162.7 1411.4L163.1 1417.6L163.6 1419.2L164.0 1412.3L164.5 1409.0L164.9 1420.0L165.4 1417.0L165.8 1401.2L166.3 1414.0L166.7 1424.2L167.2 1425.3L167.6 1419.2L168.1 1421.8L168.5 1419.0L169.0 1415.1L169.4 1423.6L169.9 1414.0L170.3 1409.8L170.8 1413.6L171.2 1412.7L171.7 1414.3L172.1 1418.5L172.6 1418.9L173.0 1410.0L173.5 1424.5L173.9 1420.8L174.4 1409.7L174.8 1429.1L175.3 1424.9L175.7 1425.4L176.2 1427.6L176.6 1427.3L177.1 1428.0L177.5 1393.0L178.0 1405.8L178.4 1427.3L178.9 1424.8L179.3 1427.6L179.8 1426.8L180.2 1428.9L180.7 1428.1L181.1 1425.6L181.6 1425.8L182.0 1427.7L182.5 1427.0L182.9 1425.6L183.4 1425.8L183.8 1425.6L184.3 1425.2L184.7 1429.0L185.2 1426.1L185.6 1429.1L186.1 1428.6L186.5 1428.6L187.0 1426.8L187.4 1428.5L187.9 1427.2L188.3 1430.2L188.8 1425.0L189.2 1429.1L189.7 1427.3L190.1 1429.9L190.6 1426.4L191.0 1426.0L191.5 1428.7L191.9 1425.3L192.4 1429.0L192.8 1425.9L193.3 1429.5L193.7 1427.7L194.2 1427.5L194.6 1421.7L195.1 1420.0L195.5 1419.8L196.0 1319.0L196.4 1374.8L196.9 1418.3L197.3 1419.2L197.8 1422.9L198.2 1427.2L198.7 1422.2L199.1 1421.7L199.6 1422.3L200.0 1420.8L200.5 1427.5L200.9 1418.8L201.4 1421.0L201.8 1422.1L202.3 1417.9L202.7 1423.0L203.2 1424.6L203.6 1421.6L204.1 1420.1L204.5 1423.7L205.0 1424.9L205.4 1418.8L205.9 1427.1L206.3 1421.7L206.8 1423.1L207.2 1424.5L207.7 1420.1L208.1 1423.9L208.6 1420.5L209.0 1425.0L209.5 1426.2L209.9 1423.4L210.4 1419.0L210.8 1367.5L211.3 1418.6L211.7 1411.7L212.2 1371.0L212.6 1369.6L213.1 1368.7L213.5 1409.5L214.0 1377.1L214.4 1404.1L214.9 1399.2L215.3 1393.4L215.8 1399.9L216.2 1383.3L216.7 1418.9L217.1 1389.7L217.6 1398.9L218.0 1358.8L218.5 1381.3L218.9 1369.6L219.4 1412.8L219.8 1412.5L220.3 1419.6L220.7 1416.2L221.2 1413.5L221.6 1418.8L222.1 1373.0L222.5 1393.6L223.0 1413.5L223.4 1419.4L223.9 1421.3L224.3 1413.6L224.8 1420.7L225.2 1417.2L225.7 1423.0L226.1 1416.9L226.6 1416.5L227.0 1420.5L227.5 1420.3L227.9 1413.2L228.4 1420.2L228.8 1411.7L229.3 1411.7L229.7 1423.3L230.2 1415.2L230.6 1420.5L231.1 1414.0L231.5 1424.1L232.0 1423.9L232.4 1413.3L232.9 1411.7L233.3 1415.3L233.8 1421.2L234.2 1413.0L234.7 1413.7L235.1 1417.0L235.6 1413.3L236.0 1424.0L236.5 1418.3L236.9 1412.7L237.4 1421.6L237.8 1415.6L238.3 1416.7L238.7 1382.6L239.2 1356.1L239.6 1368.0L240.1 1340.0L240.5 1352.0L241.0 1360.8L241.4 1360.4L241.9 1371.0L242.3 1365.7L242.8 1370.5L243.2 1387.4L243.7 1379.9L244.1 1363.0L244.6 1381.3L245.0 1385.8L245.5 1368.9L245.9 1380.4L246.4 1370.4L246.8 1383.9L247.3 1386.2L247.7 1385.9L248.2 1379.6L248.6 1384.6L249.1 1384.9L249.5 1391.6L250.0 1393.2L250.4 1383.4L250.9 1393.3L251.3 1382.0L251.8 1395.3L252.2 1382.0L252.7 1385.8L253.1 1392.6L253.6 1393.1L254.0 1389.3L254.5 1386.2L254.9 1385.3L255.4 1384.1L255.8 1382.9L256.3 1389.2L256.7 1393.8L257.2 1388.0L257.6 1383.9L258.1 1389.3L258.5 1391.5L259.0 1388.3L259.4 1395.7L259.9 1391.3L260.3 1390.8L260.8 1397.6L261.2 1387.5L261.7 1397.3L262.1 1398.5L262.6 1393.4L263.0 1406.9L263.5 1408.7L263.9 1408.3L264.4 1400.6L264.8 1402.4L265.3 1399.7L265.7 1397.4L266.2 1391.9L266.6 1406.2L267.1 1411.7L267.5 1411.4L268.0 1401.9L268.4 1406.5L268.9 1404.6L269.3 1400.4L269.8 1410.3L270.2 1398.3L270.7 1404.7L271.1 1405.4L271.6 1407.1L272.0 1403.4L272.5 1412.5L272.9 1416.1L273.4 1418.3L273.8 1408.6L274.3 1416.8L274.7 1417.4L275.2 1409.5L275.6 1409.5L276.1 1414.3L276.5 1417.3L277.0 1408.7L277.4 1418.5L277.9 1418.1L278.3 1405.8L278.8 1412.1L279.2 1413.4L279.7 1412.7L280.1 1417.3L280.6 1410.6L281.0 1409.1L281.5 1409.3L281.9 1414.0L282.4 1406.9L282.8 1407.0L283.3 1407.4L283.7 1415.6L284.2 1411.1L284.6 1413.0L285.1 1414.1L285.5 1415.5L286.0 1418.2L286.4 1417.5L286.9 1408.4L287.3 1409.4L287.8 1407.9L288.2 1415.1L288.7 1411.9L289.1 1415.8L289.6 1412.9L290.0 1406.9L290.5 1413.1L290.9 1407.8L291.4 1414.6L291.8 1414.4L292.3 1416.2L292.7 1415.0L293.2 1418.4L293.6 1412.3L294.1 1411.0L294.5 1411.8L295.0 1416.1L295.4 1416.0L295.9 1410.1L296.3 1414.9L296.8 1407.9L297.2 1408.4L297.7 1411.0L298.1 1420.4L298.6 1413.2L299.0 1410.8L299.5 1413.2L299.9 1415.3L300.4 1412.6L300.8 1409.6L301.3 1412.5L301.7 1410.1L302.2 1408.7L302.6 1418.7L303.1 1419.4L303.5 1411.8L304.0 1419.4L304.4 1418.1L304.9 1410.4L305.3 1409.8L305.8 1416.6L306.2 1413.6L306.7 1413.9L307.1 1412.6L307.6 1409.3L308.0 1418.5L308.5 1414.5L308.9 1411.6L309.4 1415.4L309.8 1417.8L310.3 1417.4L310.7 1413.3L311.2 1415.1L311.6 1418.7L312.1 1414.4L312.5 1417.6L313.0 1414.6L313.4 1413.5L313.9 1413.5L314.3 1414.9L314.8 1413.3L315.2 1415.0L315.7 1408.1L316.1 1417.2L316.6 1411.6L317.0 1416.9L317.5 1416.5L317.9 1410.6L318.4 1414.1L318.8 1409.2L319.3 1418.0L319.7 1412.2L320.2 1411.9L320.6 1410.5L321.1 1407.2L321.5 1412.6L322.0 1418.1L322.4 1409.0L322.9 1410.8L323.3 1411.8L323.8 1418.1L324.2 1415.4L324.7 1420.4L325.1 1407.7L325.6 1417.5L326.0 1410.1L326.5 1417.1L326.9 1416.4L327.4 1412.2L327.8 1407.8L328.3 1411.2L328.7 1407.6L329.2 1411.7L329.6 1411.5L330.1 1409.5L330.5 1417.6L331.0 1411.4L331.4 1412.8L331.9 1411.3L332.3 1411.7L332.8 1418.8L333.2 1407.4L333.7 1413.1L334.1 1409.7L334.6 1416.7L335.0 1415.9L335.5 1410.2L335.9 1405.8L336.4 1414.4L336.8 1411.6L337.3 1407.8L337.7 1411.3L338.2 1407.6L338.6 1410.8L339.1 1418.3L339.5 1415.8L340.0 1407.6L340.4 1414.2L340.9 1416.4L341.3 1410.2L341.8 1416.8L342.2 1406.6L342.7 1416.3L343.1 1417.1L343.6 1409.8L344.0 1414.2L344.5 1414.6L344.9 1416.6L345.4 1408.7L345.8 1404.2L346.3 1404.3L346.7 1394.4L347.2 1407.5L347.6 1403.8L348.1 1396.0L348.5 1405.1L349.0 1404.5L349.4 1409.1L349.9 1397.9L350.3 1392.4L350.8 1394.6L351.2 1417.4L351.7 1394.0L352.1 1413.5L352.6 1400.9L353.0 1402.7L353.5 1398.2L353.9 1400.1L354.4 1397.9L354.8 1398.8L355.3 1419.2L355.7 1394.8L356.2 1412.4L356.6 1415.7L357.1 1410.2L357.5 1408.4L358.0 1408.6L358.4 1409.7L358.9 1410.6L359.3 1413.2L359.8 1419.2L360.2 1394.9L360.7 1404.1L361.1 1415.6L361.6 1413.0L362.0 1393.8L362.5 1402.8L362.9 1411.7L363.4 1413.8L363.8 1406.0L364.3 1392.3L364.7 1401.1L365.2 1404.3L365.6 1411.6L366.1 1402.0L366.5 1407.3L367.0 1417.9L367.4 1397.9L367.9 1414.4L368.3 1396.7L368.8 1422.0L369.2 1411.6L369.7 1402.7L370.1 1417.0L370.6 1400.3L371.0 1402.7L371.5 1414.1L371.9 1412.8L372.4 1402.5L372.8 1366.7L373.3 1375.4L373.7 1405.3L374.2 1421.5L374.6 1406.6L375.1 1419.6L375.5 1400.5L376.0 1420.7L376.4 1408.8L376.9 1406.9L377.3 1418.3L377.8 1408.8L378.2 1407.3L378.7 1419.3L379.1 1412.1L379.6 1412.1L380.0 1418.2L380.5 1408.3L380.9 1416.8L381.4 1420.3L381.8 1419.4L382.3 1408.6L382.7 1408.6L383.2 1412.8L383.6 1422.9L384.1 1419.5L384.5 1411.9L385.0 1412.5L385.4 1422.4L385.9 1422.9L386.3 1414.6L386.8 1413.8L387.2 1414.6L387.7 1420.6L388.1 1422.5L388.6 1400.6L389.0 1420.5L389.5 1409.1L389.9 1407.9L390.4 1419.4L390.8 1422.8L391.3 1412.7L391.7 1414.9L392.2 1422.5L392.6 1419.2L393.1 1421.7L393.5 1420.7L394.0 1418.7L394.4 1421.1L394.9 1424.9L395.3 1422.3L395.8 1421.0L396.2 1419.1L396.7 1414.4L397.1 1413.5L397.6 1413.9L398.0 1421.7L398.5 1420.2L398.9 1421.1L399.4 1424.4L399.8 1425.1L400.3 1417.7L400.7 1413.3L401.2 1421.5L401.6 1424.2L402.1 1412.2L402.5 1416.9L403.0 1425.1L403.4 1415.0L403.9 1414.6L404.3 1422.2L404.8 1421.0L405.2 1416.0L405.7 1412.6L406.1 1424.6L406.6 1412.7L407.0 1410.0L407.5 1418.9L407.9 1423.3L408.4 1419.7L408.8 1417.9L409.3 1412.5L409.7 1411.8L410.2 1422.6L410.6 1422.1L411.1 1419.3L411.5 1424.2L412.0 1408.5L412.4 1420.0L412.9 1410.5L413.3 1413.5L413.8 1414.2L414.2 1411.2L414.7 1422.8L415.1 1417.9L415.6 1423.0L416.0 1421.1L416.5 1411.3L416.9 1411.1L417.4 1421.9L417.8 1420.8L418.3 1416.4L418.7 1418.4L419.2 1409.6L419.6 1420.8L420.1 1414.8L420.5 1420.8L421.0 1408.6L421.4 1410.4L421.9 1415.1L422.3 1422.8L422.8 1400.8L423.2 1404.7L423.7 1417.8L424.1 1415.0L424.6 1420.6L425.0 1421.6L425.5 1413.9L425.9 1422.7L426.4 1422.8L426.8 1421.3L427.3 1419.5L427.7 1418.6L428.2 1420.5L428.6 1417.7L429.1 1418.9L429.5 1420.3L430.0 1419.9L430.4 1422.2L430.9 1419.0L431.3 1418.5L431.8 1421.0L432.2 1420.6L432.7 1419.0L433.1 1419.1L433.6 1421.2L434.0 1418.6L434.5 1420.4L434.9 1422.4L435.4 1418.4L435.8 1423.2L436.3 1417.8L436.7 1416.7L437.2 1420.4L437.6 1422.2L438.1 1416.6L438.5 1422.2L439.0 1420.3L439.4 1418.3L439.9 1417.5L440.3 1422.8L440.8 1417.1L441.2 1422.5L441.7 1419.1L442.1 1417.2L442.6 1419.4L443.0 1417.9L443.5 1420.5L443.9 1419.6L444.4 1417.2L444.8 1417.0L445.3 1408.0L445.7 1412.5L446.2 1419.1L446.6 1422.2L447.1 1422.3L447.5 1419.0L448.0 1420.0L448.4 1418.3L448.9 1419.4L449.3 1418.8L449.8 1421.3L450.2 1419.6L450.7 1422.4L451.1 1422.7L451.6 1417.8L452.0 1418.0L452.5 1421.7L452.9 1420.4L453.4 1421.5L453.8 1419.5L454.3 1423.2L454.7 1419.9L455.2 1416.9L455.6 1420.9L456.1 1416.7L456.5 1423.2L457.0 1419.0L457.4 1417.8L457.9 1420.3L458.3 1422.7L458.8 1418.9L459.2 1422.9L459.7 1418.2L460.1 1421.5L460.6 1420.1L461.0 1422.3L461.5 1418.2L461.9 1419.7L462.4 1419.1L462.8 1418.4L463.3 1420.9L463.7 1417.3L464.2 1420.2L464.6 1417.9L465.1 1423.2L465.5 1417.0L466.0 1419.5L466.4 1417.0L466.9 1420.6L467.3 1421.6L467.8 1419.6L468.2 1420.8L468.7 1420.6L469.1 1421.4L469.6 1421.5L470.0 1420.7L470.5 1418.0L470.9 1421.2L471.4 1418.6L471.8 1418.8L472.3 1423.0L472.7 1421.5L473.2 1419.2L473.6 1418.0L474.1 1420.2L474.5 1419.5L475.0 1423.4L475.4 1418.6L475.9 1421.1L476.3 1418.2L476.8 1421.1L477.2 1423.0L477.7 1419.0L478.1 1420.3L478.6 1416.9L479.0 1422.1L479.5 1419.8L479.9 1423.1L480.4 1419.6L480.8 1422.9L481.3 1419.9L481.7 1417.1L482.2 1420.2L482.6 1422.7L483.1 1420.4L483.5 1421.0L484.0 1423.0L484.4 1393.9L484.9 1411.0L485.3 1404.4L485.8 1405.3L486.2 1403.1L486.7 1395.4L487.1 1395.6L487.6 1398.7L488.0 1389.6L488.5 1401.0L488.9 1388.1L489.4 1388.5L489.8 1400.6L490.3 1396.7L490.7 1405.4L491.2 1389.7L491.6 1387.6L492.1 1392.3L492.5 1392.7L493.0 1400.9L493.4 1396.9L493.9 1394.9L494.3 1392.1L494.8 1409.6L495.2 1414.0L495.7 1412.6L496.1 1393.6L496.6 1395.1L497.0 1388.6L497.5 1368.3L497.9 1378.0L498.4 1400.4L498.8 1398.3L499.3 1402.6L499.7 1413.1L500.2 1406.1L500.6 1407.6L501.1 1398.8L501.5 1405.0L502.0 1404.5L502.4 1412.5L502.9 1406.5L503.3 1409.0L503.8 1415.6L504.2 1405.7L504.7 1399.0L505.1 1413.6L505.6 1411.9L506.0 1394.7L506.5 1400.4L506.9 1394.4L507.4 1399.7L507.8 1399.0L508.3 1409.4L508.7 1409.8L509.2 1400.3L509.6 1400.9L510.1 1402.4L510.5 1402.0L511.0 1407.1L511.4 1413.0L511.9 1401.4L512.3 1413.2L512.8 1417.5L513.2 1420.3L513.7 1418.9L514.1 1415.0L514.6 1418.9L515.0 1422.4L515.5 1415.5L515.9 1418.7L516.4 1416.4L516.8 1421.9L517.3 1414.5L517.7 1421.1L518.2 1416.7L518.6 1418.2L519.1 1414.6L519.5 1418.4L520.0 1386.2L520.4 1401.4L520.9 1415.9L521.3 1414.7L521.8 1415.3L522.2 1417.0L522.7 1417.6L523.1 1416.3L523.6 1420.2L524.0 1421.4L524.5 1417.0L524.9 1415.3L525.4 1417.7L525.8 1415.4L526.3 1421.0L526.7 1418.3L527.2 1415.6L527.6 1420.7L528.1 1414.9L528.5 1422.9L529.0 1419.2L529.4 1417.5L529.9 1415.1L530.3 1418.2L530.8 1391.6L531.2 1405.8L531.7 1422.4L532.1 1421.4L532.6 1423.4L533.0 1420.8L533.5 1423.1L533.9 1424.0L534.4 1422.2L534.8 1419.4L535.3 1424.0L535.7 1424.0L536.2 1419.7L536.6 1422.5L537.1 1421.7L537.5 1422.0L538.0 1420.3L538.4 1425.2L538.9 1423.1L539.3 1423.4L539.8 1421.3L540.2 1419.8L540.7 1423.8L541.1 1420.6L541.6 1421.2L542.0 1423.7L542.5 1421.8L542.9 1423.8L543.4 1420.0L543.8 1422.1L544.3 1422.4L544.7 1420.8L545.2 1423.8L545.6 1422.3L546.1 1424.0L546.5 1423.6L547.0 1423.4L547.4 1384.5L547.9 1392.6L548.3 1387.7L548.8 1393.6L549.2 1385.9L549.7 1406.5L550.1 1409.8L550.6 1395.8L551.0 1397.2L551.5 1408.0L551.9 1401.9L552.4 1396.6L552.8 1393.2L553.3 1406.5L553.7 1410.9L554.2 1382.6L554.6 1403.1L555.1 1385.4L555.5 1406.7L556.0 1407.1L556.4 1384.4L556.9 1410.6L557.3 1376.0L557.8 1376.5L558.2 1409.6L558.7 1399.2L559.1 1404.9L559.6 1407.3L560.0 1386.6L560.5 1384.9L560.9 1417.8L561.4 1414.3L561.8 1393.0L562.3 1408.1L562.7 1419.1L563.2 1401.3L563.6 1408.5L564.1 1413.6L564.5 1415.5L565.0 1412.3L565.4 1406.8L565.9 1410.7L566.3 1410.0L566.8 1407.4L567.2 1410.6L567.7 1414.1L568.1 1403.3L568.6 1405.0L569.0 1407.0L569.5 1407.9L569.9 1412.7L570.4 1414.1L570.8 1415.0L571.3 1420.5L571.7 1412.9L572.2 1413.5L572.6 1408.8L573.1 1413.2L573.5 1414.7L574.0 1420.4L574.4 1422.4L574.9 1413.0L575.3 1412.4L575.8 1410.7L576.2 1412.5L576.7 1417.7L577.1 1412.9L577.6 1418.9L578.0 1413.6L578.5 1409.0L578.9 1405.5L579.4 1405.4L579.8 1408.0L580.3 1417.1L580.7 1402.9L581.2 1408.0L581.6 1404.1L582.1 1404.4L582.5 1403.9L583.0 1413.9L583.4 1421.3L583.9 1406.5L584.3 1399.6L584.8 1418.0L585.2 1410.6L585.7 1419.6L586.1 1409.7L586.6 1416.8L587.0 1412.6L587.5 1398.0L587.9 1408.7L588.4 1410.6L588.8 1386.5L589.3 1411.7L589.7 1405.2L590.2 1403.6L590.6 1409.5L591.1 1384.7L591.5 1399.0L592.0 1391.5L592.4 1391.2L592.9 1378.0L593.3 1377.8L593.8 1415.4L594.2 1411.6L594.7 1386.4L595.1 1390.3L595.6 1411.4L596.0 1411.4L596.5 1388.2L596.9 1416.0L597.4 1385.8L597.8 1387.0L598.3 1398.7L598.7 1386.0L599.2 1397.4L599.6 1387.1L600.1 1381.9L600.5 1402.8L601.0 1415.1L601.4 1397.1L601.9 1396.2L602.3 1388.5L602.8 1399.7L603.2 1411.0L603.7 1389.2L604.1 1399.6L604.6 1410.5L605.1 1399.7L605.5 1389.6L606.0 1387.1L606.4 1380.0L606.9 1408.8L607.3 1399.2L607.8 1394.3L608.2 1393.8L608.7 1397.7L609.1 1408.0L609.6 1394.0L610.0 1404.1L610.5 1398.2L610.9 1392.5L611.4 1372.1L611.8 1324.4L612.3 1326.0L612.7 1347.8L613.2 1345.8L613.6 1358.3L614.1 1343.9L614.5 1364.2L615.0 1351.2L615.4 1351.0L615.9 1372.9L616.3 1366.5L616.8 1393.2L617.2 1407.3L617.7 1396.5L618.1 1398.6L618.6 1401.5L619.0 1393.1L619.5 1409.4L619.9 1399.9L620.4 1390.0L620.8 1400.4L621.3 1399.2L621.7 1399.4L622.2 1393.3L622.6 1408.6L623.1 1409.0L623.5 1397.2L624.0 1393.9L624.4 1390.9L624.9 1397.2L625.3 1399.7L625.8 1381.9L626.2 1401.7L626.7 1398.5L627.1 1387.7L627.6 1392.2L628.0 1397.9L628.5 1388.9L628.9 1405.1L629.4 1402.9L629.8 1404.3L630.3 1390.2L630.7 1406.5L631.2 1397.4L631.6 1408.2L632.1 1393.2L632.5 1372.0L633.0 1377.2L633.4 1404.9L633.9 1404.2L634.3 1393.6L634.8 1393.9L635.2 1408.9L635.7 1406.0L636.1 1409.3L636.6 1402.9L637.0 1394.2L637.5 1390.6L637.9 1406.8L638.4 1389.3L638.8 1392.1L639.3 1401.0L639.7 1407.7L640.2 1389.7L640.6 1397.9L641.1 1385.5L641.5 1390.9L642.0 1391.5L642.4 1391.0L642.9 1396.8L643.3 1396.8L643.8 1392.4L644.2 1394.0L644.7 1383.7L645.1 1385.9L645.6 1385.7L646.0 1391.8L646.5 1386.5L646.9 1389.5L647.4 1396.6L647.8 1384.1L648.3 1387.9L648.7 1397.4L649.2 1393.5L649.6 1393.7L650.1 1389.0L650.5 1411.3L651.0 1416.2L651.4 1406.2L651.9 1406.2L652.3 1410.0L652.8 1411.7L653.2 1406.4L653.7 1405.9L654.1 1409.4L654.6 1408.1L655.0 1410.6L655.5 1414.6L655.9 1410.9L656.4 1415.8L656.8 1407.9L657.3 1407.1L657.7 1414.3L658.2 1407.3L658.6 1410.0L659.1 1407.7L659.5 1410.6L660.0 1416.8L660.4 1410.7L660.9 1407.4L661.3 1416.6L661.8 1407.5L662.2 1414.6L662.7 1414.6L663.1 1412.0L663.6 1407.8L664.0 1408.1L664.5 1409.7L664.9 1411.1L665.4 1410.0L665.8 1412.2L666.3 1407.2L666.7 1415.8L667.2 1400.5L667.6 1400.6L668.1 1402.9L668.5 1397.3L669.0 1397.6L669.4 1401.5L669.9 1403.4L670.3 1401.9L670.8 1403.4L671.2 1396.4L671.7 1402.0L672.1 1401.3L672.6 1401.5L673.0 1396.7L673.5 1403.5L673.9 1398.9L674.4 1398.0L674.8 1400.6L675.3 1403.6L675.7 1395.0L676.2 1400.8L676.6 1394.9L677.1 1402.5L677.5 1398.0L678.0 1398.3L678.4 1395.3L678.9 1403.2L679.3 1400.0L679.8 1394.9L680.2 1397.8L680.7 1396.8L681.1 1402.7L681.6 1410.3L682.0 1410.4L682.5 1412.7L682.9 1416.1L683.4 1407.5L683.8 1412.2L684.3 1409.0L684.7 1411.8L685.2 1413.6L685.6 1416.2L686.1 1406.6L686.5 1412.6L687.0 1415.6L687.4 1414.7L687.9 1411.3L688.3 1413.0L688.8 1409.1L689.2 1412.9L689.7 1406.7L690.1 1410.7L690.6 1411.7L691.0 1414.5L691.5 1411.6L691.9 1411.5L692.4 1413.8L692.8 1408.0L693.3 1413.7L693.7 1410.4L694.2 1405.6L694.6 1409.1L695.1 1406.7L695.5 1411.8L696.0 1405.8L696.4 1407.6L696.9 1410.2L697.3 1412.5L697.8 1410.7L698.2 1413.9L698.7 1414.5L699.1 1413.7L699.6 1412.4L700.0 1409.5L700.5 1410.8L700.9 1410.4L701.4 1407.4L701.8 1412.3L702.3 1412.1L702.7 1414.6L703.2 1413.4L703.6 1409.7L704.1 1412.4L704.5 1411.7L705.0 1409.3L705.4 1410.0L705.9 1407.7L706.3 1415.7L706.8 1412.5L707.2 1417.1L707.7 1408.7L708.1 1408.7L708.6 1410.9L709.0 1407.8L709.5 1414.1L709.9 1410.1L710.4 1411.6L710.8 1408.9L711.3 1406.9L711.7 1414.9L712.2 1415.3L712.6 1406.3L713.1 1411.7L713.5 1414.8L714.0 1414.1L714.4 1414.7L714.9 1415.8L715.3 1408.3L715.8 1409.9L716.2 1406.8L716.7 1415.0L717.1 1410.2L717.6 1412.9L718.0 1406.5L718.5 1413.9L718.9 1407.9L719.4 1413.7L719.8 1413.5L720.3 1410.5L720.7 1416.1L721.2 1413.7L721.6 1410.6L722.1 1411.2L722.5 1414.9L723.0 1409.5L723.4 1411.9L723.9 1407.1L724.3 1415.0L724.8 1411.3L725.2 1408.9L725.7 1409.6L726.1 1412.2L726.6 1409.7L727.0 1413.7L727.5 1414.8L727.9 1412.1L728.4 1408.5L728.8 1408.8L729.3 1414.5L729.7 1413.6L730.2 1416.4L730.6 1409.0L731.1 1416.0L731.5 1408.5L732.0 1410.5L732.4 1415.5L732.9 1416.2L733.3 1410.1L733.8 1414.9L734.2 1408.5L734.7 1409.3L735.1 1409.8L735.6 1411.0L736.0 1414.0L736.5 1410.4L736.9 1411.5L737.4 1376.3L737.8 1391.5L738.3 1368.5L738.7 1368.7L739.2 1390.0L739.6 1362.7L740.1 1373.7L740.5 1392.8L741.0 1373.4L741.4 1370.9L741.9 1361.7L742.3 1373.4L742.8 1369.3L743.2 1393.1L743.7 1380.5L744.1 1369.9L744.6 1374.7L745.0 1387.8L745.5 1402.0L745.9 1389.0L746.4 1368.7L746.8 1394.2L747.3 1366.9L747.7 1352.0L748.2 1355.7L748.6 1378.5L749.1 1380.3L749.5 1383.6L750.0 1366.0L750.4 1386.2L750.9 1382.2L751.3 1363.7L751.8 1346.1L752.2 1317.5L752.7 1339.7L753.1 1299.4L753.6 1142.4L754.0 1199.1L754.5 1296.8L754.9 1294.7L755.4 1355.2L755.8 1371.0L756.3 1340.3L756.7 1350.0L757.2 1344.5L757.6 1370.6L758.1 1398.4L758.5 1398.3L759.0 1404.9L759.4 1399.9L759.9 1404.1L760.3 1402.6L760.8 1405.1L761.2 1402.9L761.7 1402.9L762.1 1403.7L762.6 1394.7L763.0 1399.8L763.5 1396.6L763.9 1400.9L764.4 1400.6L764.8 1400.1L765.3 1401.2L765.7 1404.3L766.2 1405.6L766.6 1405.2L767.1 1394.7L767.5 1404.3L768.0 1403.8L768.4 1392.5L768.9 1398.4L769.3 1397.6L769.8 1394.6L770.2 1394.8L770.7 1401.8L771.1 1400.3L771.6 1395.3L772.0 1404.5L772.5 1400.7L772.9 1395.7L773.4 1394.5L773.8 1395.0L774.3 1395.1L774.7 1396.9L775.2 1403.8L775.6 1394.8L776.1 1400.8L776.5 1398.6L777.0 1404.8L777.4 1399.1L777.9 1396.5L778.3 1405.2L778.8 1395.2L779.2 1405.5L779.7 1403.7L780.1 1401.3L780.6 1395.5L781.0 1372.6L781.5 1372.5L781.9 1370.7L782.4 1382.9L782.8 1346.4L783.3 1375.7L783.7 1380.8L784.2 1358.9L784.6 1366.9L785.1 1362.8L785.5 1300.5L786.0 1320.2L786.4 1335.0L786.9 1367.4L787.3 1368.7L787.8 1342.7L788.2 1362.1L788.7 1332.2L789.1 1395.0L789.6 1399.1L790.0 1402.0L790.5 1395.5L790.9 1410.7L791.4 1398.2L791.8 1405.0L792.3 1403.3L792.7 1407.1L793.2 1406.0L793.6 1401.9L794.1 1411.3L794.5 1411.7L795.0 1415.1L795.4 1404.7L795.9 1409.1L796.3 1409.5L796.8 1409.3L797.2 1395.4L797.7 1393.2L798.1 1401.7L798.6 1393.9L799.0 1404.2L799.5 1406.9L799.9 1367.0L800.4 1380.7L800.8 1388.1L801.3 1394.4L801.7 1397.3L802.2 1409.3L802.6 1394.1L803.1 1393.6L803.5 1395.7L804.0 1407.0L804.4 1403.4L804.9 1370.0L805.3 1377.4L805.8 1406.7L806.2 1394.1L806.7 1402.4L807.1 1393.7L807.6 1405.1L808.0 1401.7L808.5 1401.6L808.9 1397.2L809.4 1395.9L809.8 1400.7L810.3 1393.9L810.7 1409.3L811.2 1391.5L811.6 1407.9L812.1 1412.9L812.5 1405.0L813.0 1394.8L813.4 1391.0L813.9 1391.9L814.3 1405.2L814.8 1403.9L815.2 1398.8L815.7 1406.3L816.1 1401.1L816.6 1404.0L817.0 1394.8L817.5 1393.9L817.9 1393.5L818.4 1390.8L818.8 1402.5L819.3 1385.8L819.7 1403.0L820.2 1391.6L820.6 1387.7L821.1 1392.3L821.5 1393.3L822.0 1365.0L822.4 1373.5L822.9 1389.3L823.3 1399.6L823.8 1393.8L824.2 1390.5L824.7 1393.5L825.1 1398.0L825.6 1394.4L826.0 1393.1L826.5 1399.5L826.9 1397.3L827.4 1397.3L827.8 1403.0L828.3 1393.6L828.7 1391.0L829.2 1397.7L829.6 1400.5L830.1 1389.0L830.5 1393.1L831.0 1394.4L831.4 1391.1L831.9 1398.5L832.3 1403.8L832.8 1402.6L833.2 1397.9L833.7 1396.5L834.1 1397.0L834.6 1400.3L835.0 1403.7L835.5 1397.3L835.9 1397.6L836.4 1399.0L836.8 1399.5L837.3 1401.4L837.7 1396.6L838.2 1400.9L838.6 1407.5L839.1 1405.3L839.5 1405.1L840.0 1399.3L840.4 1403.1L840.9 1406.1L841.3 1403.0L841.8 1406.2L842.2 1395.6L842.7 1394.8L843.1 1405.3L843.6 1395.8L844.0 1407.3L844.5 1400.8L844.9 1400.5L845.4 1399.4L845.8 1401.8L846.3 1397.9L846.7 1397.2L847.2 1393.4L847.6 1402.9L848.1 1393.4L848.5 1400.9L849.0 1402.0L849.4 1403.3L849.9 1402.3L850.3 1408.1L850.8 1399.6L851.2 1398.4L851.7 1393.4L852.1 1397.9L852.6 1395.8L853.0 1403.5L853.5 1396.5L853.9 1400.5L854.4 1394.1L854.8 1395.9L855.3 1404.9L855.7 1394.3L856.2 1398.5L856.6 1392.9L857.1 1399.1L857.5 1400.2L858.0 1400.7L858.4 1394.4L858.9 1397.2L859.3 1399.5L859.8 1400.1L860.2 1405.0L860.7 1397.6L861.1 1398.0L861.6 1397.5L862.0 1406.8L862.5 1395.4L862.9 1399.6L863.4 1394.6L863.8 1402.7L864.3 1405.3L864.7 1402.4L865.2 1394.8L865.6 1396.8L866.1 1400.0L866.5 1404.3L867.0 1392.5L867.4 1402.3L867.9 1397.0L868.3 1402.1L868.8 1399.1L869.2 1395.7L869.7 1396.1L870.1 1395.6L870.6 1394.1L871.0 1405.5L871.5 1402.7L871.9 1404.2L872.4 1398.5L872.8 1407.2L873.3 1380.0L873.7 1388.1L874.2 1406.0L874.6 1403.4L875.1 1395.8L875.5 1399.0L876.0 1401.2L876.4 1395.5L876.9 1401.9L877.3 1399.3L877.8 1402.7L878.2 1392.9L878.7 1404.7L879.1 1400.7L879.6 1403.1L880.0 1404.5L880.5 1400.8L880.9 1400.0L881.4 1405.0L881.8 1404.5L882.3 1398.7L882.7 1407.6L883.2 1395.3L883.6 1401.4L884.1 1404.1L884.5 1403.9L885.0 1396.4L885.4 1399.4L885.9 1393.0L886.3 1398.2L886.8 1402.6L887.2 1398.8L887.7 1404.1L888.1 1394.6L888.6 1396.7L889.0 1401.2L889.5 1401.4L889.9 1402.4L890.4 1412.2L890.8 1407.7L891.3 1412.6L891.7 1407.7L892.2 1403.6L892.6 1411.2L893.1 1407.1L893.5 1402.5L894.0 1399.6L894.4 1402.8L894.9 1403.8L895.3 1401.0L895.8 1400.4L896.2 1402.3L896.7 1405.1L897.1 1412.0L897.6 1407.9L898.0 1407.1L898.5 1408.4L898.9 1403.7L899.4 1414.7L899.8 1409.0L900.3 1407.2L900.7 1410.7L901.2 1411.3L901.6 1411.7L902.1 1403.1L902.5 1401.1L903.0 1404.4L903.4 1410.0L903.9 1401.3L904.3 1412.2L904.8 1400.9L905.2 1408.2L905.7 1411.4L906.1 1408.3L906.6 1410.8L907.0 1402.8L907.5 1403.3L907.9 1411.5L908.4 1411.3L908.8 1407.1L909.3 1410.0L909.7 1408.9L910.2 1408.9L910.6 1408.8L911.1 1403.4L911.5 1405.7L912.0 1410.5L912.4 1410.6L912.9 1402.9L913.3 1404.6L913.8 1412.8L914.2 1404.3L914.7 1412.4L915.1 1414.6L915.6 1414.3L916.0 1404.7L916.5 1411.7L916.9 1403.2L917.4 1411.6L917.8 1402.5L918.3 1413.3L918.7 1403.9L919.2 1408.0L919.6 1398.8L920.1 1405.1L920.5 1407.9L921.0 1399.6L921.4 1405.6L921.9 1407.1L922.3 1404.4L922.8 1402.2L923.2 1393.1L923.7 1402.1L924.1 1403.8L924.6 1404.9L925.0 1399.9L925.5 1400.1L925.9 1396.5L926.4 1398.3L926.8 1400.6L927.3 1401.8L927.7 1399.8L928.2 1404.5L928.6 1399.1L929.1 1398.2L929.5 1399.9L930.0 1396.0L930.4 1398.3L930.9 1394.5L931.3 1395.9L931.8 1399.5L932.2 1394.0L932.7 1400.9L933.1 1394.1L933.6 1401.6L934.0 1401.6L934.5 1398.3L934.9 1406.8L935.4 1398.7L935.8 1405.6L936.3 1396.1L936.7 1397.7L937.2 1395.9L937.6 1408.4L938.1 1407.2L938.5 1405.4L939.0 1398.4L939.4 1397.1L939.9 1387.0L940.3 1388.0L940.8 1403.6L941.2 1396.4L941.7 1396.7L942.1 1400.8L942.6 1414.0L943.0 1402.8L943.5 1406.6L943.9 1406.8L944.4 1411.3L944.8 1408.8L945.3 1406.1L945.7 1402.5L946.2 1416.2L946.6 1397.6L947.1 1415.6L947.5 1413.3L948.0 1397.0L948.4 1399.2L948.9 1406.2L949.3 1405.3L949.8 1404.4L950.2 1396.6L950.7 1411.9L951.1 1396.2L951.6 1388.0L952.0 1388.2L952.5 1395.2L952.9 1405.5L953.4 1400.0L953.8 1396.4L954.3 1399.7L954.7 1396.9L955.2 1411.4L955.6 1407.4L956.1 1395.6L956.5 1401.7L957.0 1413.0L957.4 1402.2L957.9 1400.7L958.3 1411.9L958.8 1399.9L959.2 1407.5L959.7 1408.8L960.1 1396.0L960.6 1397.7L961.0 1394.7L961.5 1403.9L961.9 1402.2L962.4 1400.4L962.8 1397.3L963.3 1402.1L963.7 1400.2L964.2 1395.5L964.6 1396.2L965.1 1389.7L965.5 1398.9L966.0 1394.6L966.4 1387.6L966.9 1392.6L967.3 1395.4L967.8 1390.6L968.2 1381.6L968.7 1389.9L969.1 1381.8L969.6 1386.6L970.0 1390.7L970.5 1389.9L970.9 1391.1L971.4 1379.7L971.8 1384.0L972.3 1390.2L972.7 1388.7L973.2 1390.7L973.6 1384.4L974.1 1383.6L974.5 1394.1L975.0 1379.7L975.4 1392.3L975.9 1392.3L976.3 1389.9L976.8 1380.7L977.2 1382.7L977.7 1389.3L978.1 1384.7L978.6 1381.8L979.0 1387.7L979.5 1385.8L979.9 1392.4L980.4 1388.0L980.8 1393.4L981.3 1392.0L981.7 1387.7L982.2 1392.8L982.6 1395.9L983.1 1396.1L983.5 1387.7L984.0 1385.9L984.4 1395.2L984.9 1398.9L985.3 1392.2L985.8 1392.2L986.2 1388.8L986.7 1398.2L987.1 1393.9L987.6 1393.5L988.0 1386.0L988.5 1390.1L988.9 1398.3L989.4 1390.3L989.8 1401.6L990.3 1388.4L990.7 1395.1L991.2 1394.1L991.6 1405.9L992.1 1399.4L992.5 1396.3L993.0 1404.3L993.4 1394.9L993.9 1403.7L994.3 1389.3L994.8 1396.0L995.2 1394.7L995.7 1389.7L996.1 1391.9L996.6 1390.4L997.0 1400.0L997.5 1402.9L997.9 1393.8L998.4 1407.9L998.8 1407.6L999.3 1407.7L999.7 1410.2L1000.2 1396.2L1000.6 1403.8L1001.1 1401.1L1001.5 1400.7L1002.0 1400.6L1002.4 1400.5L1002.9 1404.0L1003.3 1410.1L1003.8 1396.7L1004.2 1397.9L1004.7 1413.2L1005.1 1401.9L1005.6 1410.5L1006.0 1407.7L1006.5 1414.2L1006.9 1405.8L1007.4 1414.0L1007.8 1406.7L1008.3 1412.7L1008.7 1399.0L1009.2 1411.5L1009.6 1396.1L1010.1 1412.2L1010.5 1402.8L1011.0 1402.8L1011.4 1407.2L1011.9 1413.0L1012.3 1414.0L1012.8 1411.4L1013.2 1399.1L1013.7 1409.0L1014.1 1398.3L1014.6 1405.2L1015.0 1408.8L1015.5 1406.9L1015.9 1407.6L1016.4 1404.3L1016.8 1407.5L1017.3 1413.6L1017.7 1412.7L1018.2 1417.0L1018.6 1413.0L1019.1 1408.2L1019.5 1414.2L1020.0 1410.8L1020.4 1415.1L1020.9 1414.3L1021.3 1410.8L1021.8 1416.7L1022.2 1417.8L1022.7 1419.1L1023.1 1410.8L1023.6 1411.0L1024.0 1416.3L1024.5 1410.4L1024.9 1407.5L1025.4 1411.8L1025.8 1407.6L1026.3 1410.5L1026.7 1410.1L1027.2 1420.2L1027.6 1410.9L1028.1 1414.2L1028.5 1409.4L1029.0 1411.7L1029.4 1413.2L1029.9 1413.0L1030.3 1410.3L1030.8 1418.1L1031.2 1407.1L1031.7 1418.4L1032.1 1418.8L1032.6 1408.7L1033.0 1417.4L1033.5 1412.4L1033.9 1415.4L1034.4 1409.8L1034.8 1419.0L1035.3 1418.8L1035.7 1417.3L1036.2 1420.2L1036.6 1410.8L1037.1 1420.5L1037.5 1414.2L1038.0 1411.2L1038.4 1417.6L1038.9 1407.1L1039.3 1408.8L1039.8 1416.1L1040.2 1416.6L1040.7 1406.7L1041.1 1413.2L1041.6 1414.4L1042.0 1417.1L1042.5 1418.5L1042.9 1406.6L1043.4 1412.8L1043.8 1410.4L1044.3 1411.7L1044.7 1407.8L1045.2 1406.6L1045.6 1407.6L1046.1 1403.8L1046.5 1408.3L1047.0 1410.1L1047.4 1423.8L1047.9 1421.4L1048.3 1421.9L1048.8 1422.4L1049.2 1421.4L1049.7 1422.0L1050.1 1423.0L1050.6 1424.8L1051.0 1421.2L1051.5 1421.9L1051.9 1424.4L1052.4 1421.7L1052.8 1424.2L1053.3 1421.1L1053.7 1411.7L1054.2 1406.1L1054.6 1411.4L1055.1 1409.9L1055.5 1406.2L1056.0 1404.7L1056.4 1406.3L1056.9 1407.5L1057.3 1412.2L1057.8 1409.3L1058.2 1412.5L1058.7 1405.2L1059.1 1411.8L1059.6 1404.3L1060.0 1408.5L1060.5 1408.9L1060.9 1411.5L1061.4 1403.5L1061.8 1406.4L1062.3 1402.1L1062.7 1405.5L1063.2 1413.4L1063.6 1406.0L1064.1 1406.6L1064.5 1413.9L1065.0 1408.9L1065.4 1411.4L1065.9 1403.3L1066.3 1413.1L1066.8 1406.9L1067.2 1411.6L1067.7 1406.9L1068.1 1414.0L1068.6 1410.7L1069.0 1414.9L1069.5 1413.2L1069.9 1400.5L1070.4 1414.2L1070.8 1381.8L1071.3 1396.1L1071.7 1412.2L1072.2 1414.5L1072.6 1401.1L1073.1 1413.1L1073.5 1402.9L1074.0 1403.5L1074.4 1402.9L1074.9 1407.9L1075.3 1402.5L1075.8 1410.1L1076.2 1410.4L1076.7 1409.5L1077.1 1406.3L1077.6 1410.5L1078.0 1414.2L1078.5 1414.4L1078.9 1408.5L1079.4 1414.0L1079.8 1414.2L1080.3 1403.1L1080.7 1403.1L1081.2 1408.6L1081.6 1413.8L1082.1 1411.8L1082.5 1404.9L1083.0 1406.0L1083.4 1408.9L1083.9 1405.7L1084.3 1410.7L1084.8 1413.7L1085.2 1405.6L1085.7 1408.6L1086.1 1411.3L1086.6 1408.0L1087.0 1414.4L1087.5 1410.3L1087.9 1410.5L1088.4 1408.5L1088.8 1409.9L1089.3 1409.0L1089.7 1410.5L1090.2 1411.5L1090.6 1406.9L1091.1 1406.7L1091.5 1409.1L1092.0 1405.0L1092.4 1410.8L1092.9 1412.4L1093.3 1411.8L1093.8 1411.4L1094.2 1410.2L1094.7 1412.9L1095.1 1400.4L1095.6 1407.5L1096.0 1403.1L1096.5 1401.5L1096.9 1392.7L1097.4 1403.5L1097.8 1407.2L1098.3 1405.6L1098.7 1395.7L1099.2 1408.8L1099.6 1396.3L1100.1 1406.3L1100.5 1405.5L1101.0 1401.3L1101.4 1407.0L1101.9 1407.2L1102.3 1395.2L1102.8 1403.8L1103.2 1392.3L1103.7 1397.9L1104.1 1397.9L1104.6 1391.8L1105.0 1402.9L1105.5 1402.9L1105.9 1405.5L1106.4 1404.8L1106.8 1399.9L1107.3 1391.6L1107.7 1400.6L1108.2 1394.5L1108.6 1403.2L1109.1 1406.5L1109.5 1400.0L1110.0 1396.4L1110.4 1405.1L1110.9 1397.0L1111.3 1394.6L1111.8 1400.5L1112.2 1394.1L1112.7 1392.8L1113.1 1404.8L1113.6 1391.8L1114.0 1403.4L1114.5 1407.7L1114.9 1395.3L1115.4 1378.0L1115.8 1384.5L1116.3 1395.8L1116.7 1405.3L1117.2 1404.4L1117.6 1397.8L1118.1 1396.7L1118.5 1395.9L1119.0 1407.9L1119.4 1395.1L1119.9 1406.2L1120.3 1400.1L1120.8 1406.9L1121.2 1409.5L1121.7 1405.8L1122.1 1398.5L1122.6 1408.9L1123.0 1408.7L1123.5 1402.9L1123.9 1405.2L1124.4 1406.3L1124.8 1401.2L1125.3 1392.1L1125.7 1399.3L1126.2 1395.2L1126.6 1391.3L1127.1 1399.0L1127.5 1394.1L1128.0 1409.0L1128.4 1405.7L1128.9 1396.7L1129.3 1407.4L1129.8 1397.2L1130.2 1408.3L1130.7 1404.3L1131.1 1408.7L1131.6 1394.4L1132.0 1393.4L1132.5 1409.7L1132.9 1402.5L1133.4 1401.1L1133.8 1327.2L1134.3 1383.2L1134.7 1382.8L1135.2 1341.7L1135.6 1362.3L1136.1 1349.5L1136.5 1311.0L1137.0 1311.3L1137.4 1347.1L1137.9 1365.6L1138.3 1313.0L1138.8 1312.3L1139.2 1371.4L1139.7 1372.6L1140.1 1376.4L1140.6 1374.7L1141.0 1369.7L1141.5 1375.4L1141.9 1382.9L1142.4 1376.3L1142.8 1377.9L1143.3 1383.6L1143.7 1387.9" fill="none" stroke="#000" stroke-width="1.8" stroke-linejoin="round"/><path d="M142.0 1406.1h0M142.4 1394.9h0M142.9 1403.0h0M143.3 1415.3h0M143.8 1400.0h0M144.2 1406.3h0M144.7 1405.4h0M145.1 1396.8h0M145.6 1416.0h0M146.0 1400.0h0M146.5 1395.1h0M146.9 1406.8h0M147.4 1394.7h0M147.8 1390.5h0M148.3 1399.7h0M148.7 1413.9h0M149.2 1385.1h0M149.6 1395.7h0M150.1 1414.0h0M150.5 1410.2h0M151.0 1429.0h0M151.4 1418.4h0M151.9 1425.5h0M152.3 1417.8h0M152.8 1423.1h0M153.2 1422.8h0M153.7 1416.3h0M154.1 1416.5h0M154.6 1418.0h0M155.0 1416.3h0M155.5 1397.7h0M155.9 1406.1h0M156.4 1416.3h0M156.8 1394.9h0M157.3 1407.5h0M157.7 1422.3h0M158.2 1412.3h0M158.6 1416.7h0M159.1 1416.4h0M159.5 1400.7h0M160.0 1388.0h0M160.4 1388.0h0M160.9 1421.5h0M161.3 1417.3h0M161.8 1423.7h0M162.2 1402.4h0M162.7 1411.4h0M163.1 1417.6h0M163.6 1419.2h0M164.0 1412.3h0M164.5 1409.0h0M164.9 1420.0h0M165.4 1417.0h0M165.8 1401.2h0M166.3 1414.0h0M166.7 1424.2h0M167.2 1425.3h0M167.6 1419.2h0M168.1 1421.8h0M168.5 1419.0h0M169.0 1415.1h0M169.4 1423.6h0M169.9 1414.0h0M170.3 1409.8h0M170.8 1413.6h0M171.2 1412.7h0M171.7 1414.3h0M172.1 1418.5h0M172.6 1418.9h0M173.0 1410.0h0M173.5 1424.5h0M173.9 1420.8h0M174.4 1409.7h0M174.8 1429.1h0M175.3 1424.9h0M175.7 1425.4h0M176.2 1427.6h0M176.6 1427.3h0M177.1 1428.0h0M177.5 1393.0h0M178.0 1405.8h0M178.4 1427.3h0M178.9 1424.8h0M179.3 1427.6h0M179.8 1426.8h0M180.2 1428.9h0M180.7 1428.1h0M181.1 1425.6h0M181.6 1425.8h0M182.0 1427.7h0M182.5 1427.0h0M182.9 1425.6h0M183.4 1425.8h0M183.8 1425.6h0M184.3 1425.2h0M184.7 1429.0h0M185.2 1426.1h0M185.6 1429.1h0M186.1 1428.6h0M186.5 1428.6h0M187.0 1426.8h0M187.4 1428.5h0M187.9 1427.2h0M188.3 1430.2h0M188.8 1425.0h0M189.2 1429.1h0M189.7 1427.3h0M190.1 1429.9h0M190.6 1426.4h0M191.0 1426.0h0M191.5 1428.7h0M191.9 1425.3h0M192.4 1429.0h0M192.8 1425.9h0M193.3 1429.5h0M193.7 1427.7h0M194.2 1427.5h0M194.6 1421.7h0M195.1 1420.0h0M195.5 1419.8h0M196.0 1319.0h0M196.4 1374.8h0M196.9 1418.3h0M197.3 1419.2h0M197.8 1422.9h0M198.2 1427.2h0M198.7 1422.2h0M199.1 1421.7h0M199.6 1422.3h0M200.0 1420.8h0M200.5 1427.5h0M200.9 1418.8h0M201.4 1421.0h0M201.8 1422.1h0M202.3 1417.9h0M202.7 1423.0h0M203.2 1424.6h0M203.6 1421.6h0M204.1 1420.1h0M204.5 1423.7h0M205.0 1424.9h0M205.4 1418.8h0M205.9 1427.1h0M206.3 1421.7h0M206.8 1423.1h0M207.2 1424.5h0M207.7 1420.1h0M208.1 1423.9h0M208.6 1420.5h0M209.0 1425.0h0M209.5 1426.2h0M209.9 1423.4h0M210.4 1419.0h0M210.8 1367.5h0M211.3 1418.6h0M211.7 1411.7h0M212.2 1371.0h0M212.6 1369.6h0M213.1 1368.7h0M213.5 1409.5h0M214.0 1377.1h0M214.4 1404.1h0M214.9 1399.2h0M215.3 1393.4h0M215.8 1399.9h0M216.2 1383.3h0M216.7 1418.9h0M217.1 1389.7h0M217.6 1398.9h0M218.0 1358.8h0M218.5 1381.3h0M218.9 1369.6h0M219.4 1412.8h0M219.8 1412.5h0M220.3 1419.6h0M220.7 1416.2h0M221.2 1413.5h0M221.6 1418.8h0M222.1 1373.0h0M222.5 1393.6h0M223.0 1413.5h0M223.4 1419.4h0M223.9 1421.3h0M224.3 1413.6h0M224.8 1420.7h0M225.2 1417.2h0M225.7 1423.0h0M226.1 1416.9h0M226.6 1416.5h0M227.0 1420.5h0M227.5 1420.3h0M227.9 1413.2h0M228.4 1420.2h0M228.8 1411.7h0M229.3 1411.7h0M229.7 1423.3h0M230.2 1415.2h0M230.6 1420.5h0M231.1 1414.0h0M231.5 1424.1h0M232.0 1423.9h0M232.4 1413.3h0M232.9 1411.7h0M233.3 1415.3h0M233.8 1421.2h0M234.2 1413.0h0M234.7 1413.7h0M235.1 1417.0h0M235.6 1413.3h0M236.0 1424.0h0M236.5 1418.3h0M236.9 1412.7h0M237.4 1421.6h0M237.8 1415.6h0M238.3 1416.7h0M238.7 1382.6h0M239.2 1356.1h0M239.6 1368.0h0M240.1 1340.0h0M240.5 1352.0h0M241.0 1360.8h0M241.4 1360.4h0M241.9 1371.0h0M242.3 1365.7h0M242.8 1370.5h0M243.2 1387.4h0M243.7 1379.9h0M244.1 1363.0h0M244.6 1381.3h0M245.0 1385.8h0M245.5 1368.9h0M245.9 1380.4h0M246.4 1370.4h0M246.8 1383.9h0M247.3 1386.2h0M247.7 1385.9h0M248.2 1379.6h0M248.6 1384.6h0M249.1 1384.9h0M249.5 1391.6h0M250.0 1393.2h0M250.4 1383.4h0M250.9 1393.3h0M251.3 1382.0h0M251.8 1395.3h0M252.2 1382.0h0M252.7 1385.8h0M253.1 1392.6h0M253.6 1393.1h0M254.0 1389.3h0M254.5 1386.2h0M254.9 1385.3h0M255.4 1384.1h0M255.8 1382.9h0M256.3 1389.2h0M256.7 1393.8h0M257.2 1388.0h0M257.6 1383.9h0M258.1 1389.3h0M258.5 1391.5h0M259.0 1388.3h0M259.4 1395.7h0M259.9 1391.3h0M260.3 1390.8h0M260.8 1397.6h0M261.2 1387.5h0M261.7 1397.3h0M262.1 1398.5h0M262.6 1393.4h0M263.0 1406.9h0M263.5 1408.7h0M263.9 1408.3h0M264.4 1400.6h0M264.8 1402.4h0M265.3 1399.7h0M265.7 1397.4h0M266.2 1391.9h0M266.6 1406.2h0M267.1 1411.7h0M267.5 1411.4h0M268.0 1401.9h0M268.4 1406.5h0M268.9 1404.6h0M269.3 1400.4h0M269.8 1410.3h0M270.2 1398.3h0M270.7 1404.7h0M271.1 1405.4h0M271.6 1407.1h0M272.0 1403.4h0M272.5 1412.5h0M272.9 1416.1h0M273.4 1418.3h0M273.8 1408.6h0M274.3 1416.8h0M274.7 1417.4h0M275.2 1409.5h0M275.6 1409.5h0M276.1 1414.3h0M276.5 1417.3h0M277.0 1408.7h0M277.4 1418.5h0M277.9 1418.1h0M278.3 1405.8h0M278.8 1412.1h0M279.2 1413.4h0M279.7 1412.7h0M280.1 1417.3h0M280.6 1410.6h0M281.0 1409.1h0M281.5 1409.3h0M281.9 1414.0h0M282.4 1406.9h0M282.8 1407.0h0M283.3 1407.4h0M283.7 1415.6h0M284.2 1411.1h0M284.6 1413.0h0M285.1 1414.1h0M285.5 1415.5h0M286.0 1418.2h0M286.4 1417.5h0M286.9 1408.4h0M287.3 1409.4h0M287.8 1407.9h0M288.2 1415.1h0M288.7 1411.9h0M289.1 1415.8h0M289.6 1412.9h0M290.0 1406.9h0M290.5 1413.1h0M290.9 1407.8h0M291.4 1414.6h0M291.8 1414.4h0M292.3 1416.2h0M292.7 1415.0h0M293.2 1418.4h0M293.6 1412.3h0M294.1 1411.0h0M294.5 1411.8h0M295.0 1416.1h0M295.4 1416.0h0M295.9 1410.1h0M296.3 1414.9h0M296.8 1407.9h0M297.2 1408.4h0M297.7 1411.0h0M298.1 1420.4h0M298.6 1413.2h0M299.0 1410.8h0M299.5 1413.2h0M299.9 1415.3h0M300.4 1412.6h0M300.8 1409.6h0M301.3 1412.5h0M301.7 1410.1h0M302.2 1408.7h0M302.6 1418.7h0M303.1 1419.4h0M303.5 1411.8h0M304.0 1419.4h0M304.4 1418.1h0M304.9 1410.4h0M305.3 1409.8h0M305.8 1416.6h0M306.2 1413.6h0M306.7 1413.9h0M307.1 1412.6h0M307.6 1409.3h0M308.0 1418.5h0M308.5 1414.5h0M308.9 1411.6h0M309.4 1415.4h0M309.8 1417.8h0M310.3 1417.4h0M310.7 1413.3h0M311.2 1415.1h0M311.6 1418.7h0M312.1 1414.4h0M312.5 1417.6h0M313.0 1414.6h0M313.4 1413.5h0M313.9 1413.5h0M314.3 1414.9h0M314.8 1413.3h0M315.2 1415.0h0M315.7 1408.1h0M316.1 1417.2h0M316.6 1411.6h0M317.0 1416.9h0M317.5 1416.5h0M317.9 1410.6h0M318.4 1414.1h0M318.8 1409.2h0M319.3 1418.0h0M319.7 1412.2h0M320.2 1411.9h0M320.6 1410.5h0M321.1 1407.2h0M321.5 1412.6h0M322.0 1418.1h0M322.4 1409.0h0M322.9 1410.8h0M323.3 1411.8h0M323.8 1418.1h0M324.2 1415.4h0M324.7 1420.4h0M325.1 1407.7h0M325.6 1417.5h0M326.0 1410.1h0M326.5 1417.1h0M326.9 1416.4h0M327.4 1412.2h0M327.8 1407.8h0M328.3 1411.2h0M328.7 1407.6h0M329.2 1411.7h0M329.6 1411.5h0M330.1 1409.5h0M330.5 1417.6h0M331.0 1411.4h0M331.4 1412.8h0M331.9 1411.3h0M332.3 1411.7h0M332.8 1418.8h0M333.2 1407.4h0M333.7 1413.1h0M334.1 1409.7h0M334.6 1416.7h0M335.0 1415.9h0M335.5 1410.2h0M335.9 1405.8h0M336.4 1414.4h0M336.8 1411.6h0M337.3 1407.8h0M337.7 1411.3h0M338.2 1407.6h0M338.6 1410.8h0M339.1 1418.3h0M339.5 1415.8h0M340.0 1407.6h0M340.4 1414.2h0M340.9 1416.4h0M341.3 1410.2h0M341.8 1416.8h0M342.2 1406.6h0M342.7 1416.3h0M343.1 1417.1h0M343.6 1409.8h0M344.0 1414.2h0M344.5 1414.6h0M344.9 1416.6h0M345.4 1408.7h0M345.8 1404.2h0M346.3 1404.3h0M346.7 1394.4h0M347.2 1407.5h0M347.6 1403.8h0M348.1 1396.0h0M348.5 1405.1h0M349.0 1404.5h0M349.4 1409.1h0M349.9 1397.9h0M350.3 1392.4h0M350.8 1394.6h0M351.2 1417.4h0M351.7 1394.0h0M352.1 1413.5h0M352.6 1400.9h0M353.0 1402.7h0M353.5 1398.2h0M353.9 1400.1h0M354.4 1397.9h0M354.8 1398.8h0M355.3 1419.2h0M355.7 1394.8h0M356.2 1412.4h0M356.6 1415.7h0M357.1 1410.2h0M357.5 1408.4h0M358.0 1408.6h0M358.4 1409.7h0M358.9 1410.6h0M359.3 1413.2h0M359.8 1419.2h0M360.2 1394.9h0M360.7 1404.1h0M361.1 1415.6h0M361.6 1413.0h0M362.0 1393.8h0M362.5 1402.8h0M362.9 1411.7h0M363.4 1413.8h0M363.8 1406.0h0M364.3 1392.3h0M364.7 1401.1h0M365.2 1404.3h0M365.6 1411.6h0M366.1 1402.0h0M366.5 1407.3h0M367.0 1417.9h0M367.4 1397.9h0M367.9 1414.4h0M368.3 1396.7h0M368.8 1422.0h0M369.2 1411.6h0M369.7 1402.7h0M370.1 1417.0h0M370.6 1400.3h0M371.0 1402.7h0M371.5 1414.1h0M371.9 1412.8h0M372.4 1402.5h0M372.8 1366.7h0M373.3 1375.4h0M373.7 1405.3h0M374.2 1421.5h0M374.6 1406.6h0M375.1 1419.6h0M375.5 1400.5h0M376.0 1420.7h0M376.4 1408.8h0M376.9 1406.9h0M377.3 1418.3h0M377.8 1408.8h0M378.2 1407.3h0M378.7 1419.3h0M379.1 1412.1h0M379.6 1412.1h0M380.0 1418.2h0M380.5 1408.3h0M380.9 1416.8h0M381.4 1420.3h0M381.8 1419.4h0M382.3 1408.6h0M382.7 1408.6h0M383.2 1412.8h0M383.6 1422.9h0M384.1 1419.5h0M384.5 1411.9h0M385.0 1412.5h0M385.4 1422.4h0M385.9 1422.9h0M386.3 1414.6h0M386.8 1413.8h0M387.2 1414.6h0M387.7 1420.6h0M388.1 1422.5h0M388.6 1400.6h0M389.0 1420.5h0M389.5 1409.1h0M389.9 1407.9h0M390.4 1419.4h0M390.8 1422.8h0M391.3 1412.7h0M391.7 1414.9h0M392.2 1422.5h0M392.6 1419.2h0M393.1 1421.7h0M393.5 1420.7h0M394.0 1418.7h0M394.4 1421.1h0M394.9 1424.9h0M395.3 1422.3h0M395.8 1421.0h0M396.2 1419.1h0M396.7 1414.4h0M397.1 1413.5h0M397.6 1413.9h0M398.0 1421.7h0M398.5 1420.2h0M398.9 1421.1h0M399.4 1424.4h0M399.8 1425.1h0M400.3 1417.7h0M400.7 1413.3h0M401.2 1421.5h0M401.6 1424.2h0M402.1 1412.2h0M402.5 1416.9h0M403.0 1425.1h0M403.4 1415.0h0M403.9 1414.6h0M404.3 1422.2h0M404.8 1421.0h0M405.2 1416.0h0M405.7 1412.6h0M406.1 1424.6h0M406.6 1412.7h0M407.0 1410.0h0M407.5 1418.9h0M407.9 1423.3h0M408.4 1419.7h0M408.8 1417.9h0M409.3 1412.5h0M409.7 1411.8h0M410.2 1422.6h0M410.6 1422.1h0M411.1 1419.3h0M411.5 1424.2h0M412.0 1408.5h0M412.4 1420.0h0M412.9 1410.5h0M413.3 1413.5h0M413.8 1414.2h0M414.2 1411.2h0M414.7 1422.8h0M415.1 1417.9h0M415.6 1423.0h0M416.0 1421.1h0M416.5 1411.3h0M416.9 1411.1h0M417.4 1421.9h0M417.8 1420.8h0M418.3 1416.4h0M418.7 1418.4h0M419.2 1409.6h0M419.6 1420.8h0M420.1 1414.8h0M420.5 1420.8h0M421.0 1408.6h0M421.4 1410.4h0M421.9 1415.1h0M422.3 1422.8h0M422.8 1400.8h0M423.2 1404.7h0M423.7 1417.8h0M424.1 1415.0h0M424.6 1420.6h0M425.0 1421.6h0M425.5 1413.9h0M425.9 1422.7h0M426.4 1422.8h0M426.8 1421.3h0M427.3 1419.5h0M427.7 1418.6h0M428.2 1420.5h0M428.6 1417.7h0M429.1 1418.9h0M429.5 1420.3h0M430.0 1419.9h0M430.4 1422.2h0M430.9 1419.0h0M431.3 1418.5h0M431.8 1421.0h0M432.2 1420.6h0M432.7 1419.0h0M433.1 1419.1h0M433.6 1421.2h0M434.0 1418.6h0M434.5 1420.4h0M434.9 1422.4h0M435.4 1418.4h0M435.8 1423.2h0M436.3 1417.8h0M436.7 1416.7h0M437.2 1420.4h0M437.6 1422.2h0M438.1 1416.6h0M438.5 1422.2h0M439.0 1420.3h0M439.4 1418.3h0M439.9 1417.5h0M440.3 1422.8h0M440.8 1417.1h0M441.2 1422.5h0M441.7 1419.1h0M442.1 1417.2h0M442.6 1419.4h0M443.0 1417.9h0M443.5 1420.5h0M443.9 1419.6h0M444.4 1417.2h0M444.8 1417.0h0M445.3 1408.0h0M445.7 1412.5h0M446.2 1419.1h0M446.6 1422.2h0M447.1 1422.3h0M447.5 1419.0h0M448.0 1420.0h0M448.4 1418.3h0M448.9 1419.4h0M449.3 1418.8h0M449.8 1421.3h0M450.2 1419.6h0M450.7 1422.4h0M451.1 1422.7h0M451.6 1417.8h0M452.0 1418.0h0M452.5 1421.7h0M452.9 1420.4h0M453.4 1421.5h0M453.8 1419.5h0M454.3 1423.2h0M454.7 1419.9h0M455.2 1416.9h0M455.6 1420.9h0M456.1 1416.7h0M456.5 1423.2h0M457.0 1419.0h0M457.4 1417.8h0M457.9 1420.3h0M458.3 1422.7h0M458.8 1418.9h0M459.2 1422.9h0M459.7 1418.2h0M460.1 1421.5h0M460.6 1420.1h0M461.0 1422.3h0M461.5 1418.2h0M461.9 1419.7h0M462.4 1419.1h0M462.8 1418.4h0M463.3 1420.9h0M463.7 1417.3h0M464.2 1420.2h0M464.6 1417.9h0M465.1 1423.2h0M465.5 1417.0h0M466.0 1419.5h0M466.4 1417.0h0M466.9 1420.6h0M467.3 1421.6h0M467.8 1419.6h0M468.2 1420.8h0M468.7 1420.6h0M469.1 1421.4h0M469.6 1421.5h0M470.0 1420.7h0M470.5 1418.0h0M470.9 1421.2h0M471.4 1418.6h0M471.8 1418.8h0M472.3 1423.0h0M472.7 1421.5h0M473.2 1419.2h0M473.6 1418.0h0M474.1 1420.2h0M474.5 1419.5h0M475.0 1423.4h0M475.4 1418.6h0M475.9 1421.1h0M476.3 1418.2h0M476.8 1421.1h0M477.2 1423.0h0M477.7 1419.0h0M478.1 1420.3h0M478.6 1416.9h0M479.0 1422.1h0M479.5 1419.8h0M479.9 1423.1h0M480.4 1419.6h0M480.8 1422.9h0M481.3 1419.9h0M481.7 1417.1h0M482.2 1420.2h0M482.6 1422.7h0M483.1 1420.4h0M483.5 1421.0h0M484.0 1423.0h0M484.4 1393.9h0M484.9 1411.0h0M485.3 1404.4h0M485.8 1405.3h0M486.2 1403.1h0M486.7 1395.4h0M487.1 1395.6h0M487.6 1398.7h0M488.0 1389.6h0M488.5 1401.0h0M488.9 1388.1h0M489.4 1388.5h0M489.8 1400.6h0M490.3 1396.7h0M490.7 1405.4h0M491.2 1389.7h0M491.6 1387.6h0M492.1 1392.3h0M492.5 1392.7h0M493.0 1400.9h0M493.4 1396.9h0M493.9 1394.9h0M494.3 1392.1h0M494.8 1409.6h0M495.2 1414.0h0M495.7 1412.6h0M496.1 1393.6h0M496.6 1395.1h0M497.0 1388.6h0M497.5 1368.3h0M497.9 1378.0h0M498.4 1400.4h0M498.8 1398.3h0M499.3 1402.6h0M499.7 1413.1h0M500.2 1406.1h0M500.6 1407.6h0M501.1 1398.8h0M501.5 1405.0h0M502.0 1404.5h0M502.4 1412.5h0M502.9 1406.5h0M503.3 1409.0h0M503.8 1415.6h0M504.2 1405.7h0M504.7 1399.0h0M505.1 1413.6h0M505.6 1411.9h0M506.0 1394.7h0M506.5 1400.4h0M506.9 1394.4h0M507.4 1399.7h0M507.8 1399.0h0M508.3 1409.4h0M508.7 1409.8h0M509.2 1400.3h0M509.6 1400.9h0M510.1 1402.4h0M510.5 1402.0h0M511.0 1407.1h0M511.4 1413.0h0M511.9 1401.4h0M512.3 1413.2h0M512.8 1417.5h0M513.2 1420.3h0M513.7 1418.9h0M514.1 1415.0h0M514.6 1418.9h0M515.0 1422.4h0M515.5 1415.5h0M515.9 1418.7h0M516.4 1416.4h0M516.8 1421.9h0M517.3 1414.5h0M517.7 1421.1h0M518.2 1416.7h0M518.6 1418.2h0M519.1 1414.6h0M519.5 1418.4h0M520.0 1386.2h0M520.4 1401.4h0M520.9 1415.9h0M521.3 1414.7h0M521.8 1415.3h0M522.2 1417.0h0M522.7 1417.6h0M523.1 1416.3h0M523.6 1420.2h0M524.0 1421.4h0M524.5 1417.0h0M524.9 1415.3h0M525.4 1417.7h0M525.8 1415.4h0M526.3 1421.0h0M526.7 1418.3h0M527.2 1415.6h0M527.6 1420.7h0M528.1 1414.9h0M528.5 1422.9h0M529.0 1419.2h0M529.4 1417.5h0M529.9 1415.1h0M530.3 1418.2h0M530.8 1391.6h0M531.2 1405.8h0M531.7 1422.4h0M532.1 1421.4h0M532.6 1423.4h0M533.0 1420.8h0M533.5 1423.1h0M533.9 1424.0h0M534.4 1422.2h0M534.8 1419.4h0M535.3 1424.0h0M535.7 1424.0h0M536.2 1419.7h0M536.6 1422.5h0M537.1 1421.7h0M537.5 1422.0h0M538.0 1420.3h0M538.4 1425.2h0M538.9 1423.1h0M539.3 1423.4h0M539.8 1421.3h0M540.2 1419.8h0M540.7 1423.8h0M541.1 1420.6h0M541.6 1421.2h0M542.0 1423.7h0M542.5 1421.8h0M542.9 1423.8h0M543.4 1420.0h0M543.8 1422.1h0M544.3 1422.4h0M544.7 1420.8h0M545.2 1423.8h0M545.6 1422.3h0M546.1 1424.0h0M546.5 1423.6h0M547.0 1423.4h0M547.4 1384.5h0M547.9 1392.6h0M548.3 1387.7h0M548.8 1393.6h0M549.2 1385.9h0M549.7 1406.5h0M550.1 1409.8h0M550.6 1395.8h0M551.0 1397.2h0M551.5 1408.0h0M551.9 1401.9h0M552.4 1396.6h0M552.8 1393.2h0M553.3 1406.5h0M553.7 1410.9h0M554.2 1382.6h0M554.6 1403.1h0M555.1 1385.4h0M555.5 1406.7h0M556.0 1407.1h0M556.4 1384.4h0M556.9 1410.6h0M557.3 1376.0h0M557.8 1376.5h0M558.2 1409.6h0M558.7 1399.2h0M559.1 1404.9h0M559.6 1407.3h0M560.0 1386.6h0M560.5 1384.9h0M560.9 1417.8h0M561.4 1414.3h0M561.8 1393.0h0M562.3 1408.1h0M562.7 1419.1h0M563.2 1401.3h0M563.6 1408.5h0M564.1 1413.6h0M564.5 1415.5h0M565.0 1412.3h0M565.4 1406.8h0M565.9 1410.7h0M566.3 1410.0h0M566.8 1407.4h0M567.2 1410.6h0M567.7 1414.1h0M568.1 1403.3h0M568.6 1405.0h0M569.0 1407.0h0M569.5 1407.9h0M569.9 1412.7h0M570.4 1414.1h0M570.8 1415.0h0M571.3 1420.5h0M571.7 1412.9h0M572.2 1413.5h0M572.6 1408.8h0M573.1 1413.2h0M573.5 1414.7h0M574.0 1420.4h0M574.4 1422.4h0M574.9 1413.0h0M575.3 1412.4h0M575.8 1410.7h0M576.2 1412.5h0M576.7 1417.7h0M577.1 1412.9h0M577.6 1418.9h0M578.0 1413.6h0M578.5 1409.0h0M578.9 1405.5h0M579.4 1405.4h0M579.8 1408.0h0M580.3 1417.1h0M580.7 1402.9h0M581.2 1408.0h0M581.6 1404.1h0M582.1 1404.4h0M582.5 1403.9h0M583.0 1413.9h0M583.4 1421.3h0M583.9 1406.5h0M584.3 1399.6h0M584.8 1418.0h0M585.2 1410.6h0M585.7 1419.6h0M586.1 1409.7h0M586.6 1416.8h0M587.0 1412.6h0M587.5 1398.0h0M587.9 1408.7h0M588.4 1410.6h0M588.8 1386.5h0M589.3 1411.7h0M589.7 1405.2h0M590.2 1403.6h0M590.6 1409.5h0M591.1 1384.7h0M591.5 1399.0h0M592.0 1391.5h0M592.4 1391.2h0M592.9 1378.0h0M593.3 1377.8h0M593.8 1415.4h0M594.2 1411.6h0M594.7 1386.4h0M595.1 1390.3h0M595.6 1411.4h0M596.0 1411.4h0M596.5 1388.2h0M596.9 1416.0h0M597.4 1385.8h0M597.8 1387.0h0M598.3 1398.7h0M598.7 1386.0h0M599.2 1397.4h0M599.6 1387.1h0M600.1 1381.9h0M600.5 1402.8h0M601.0 1415.1h0M601.4 1397.1h0M601.9 1396.2h0M602.3 1388.5h0M602.8 1399.7h0M603.2 1411.0h0M603.7 1389.2h0M604.1 1399.6h0M604.6 1410.5h0M605.1 1399.7h0M605.5 1389.6h0M606.0 1387.1h0M606.4 1380.0h0M606.9 1408.8h0M607.3 1399.2h0M607.8 1394.3h0M608.2 1393.8h0M608.7 1397.7h0M609.1 1408.0h0M609.6 1394.0h0M610.0 1404.1h0M610.5 1398.2h0M610.9 1392.5h0M611.4 1372.1h0M611.8 1324.4h0M612.3 1326.0h0M612.7 1347.8h0M613.2 1345.8h0M613.6 1358.3h0M614.1 1343.9h0M614.5 1364.2h0M615.0 1351.2h0M615.4 1351.0h0M615.9 1372.9h0M616.3 1366.5h0M616.8 1393.2h0M617.2 1407.3h0M617.7 1396.5h0M618.1 1398.6h0M618.6 1401.5h0M619.0 1393.1h0M619.5 1409.4h0M619.9 1399.9h0M620.4 1390.0h0M620.8 1400.4h0M621.3 1399.2h0M621.7 1399.4h0M622.2 1393.3h0M622.6 1408.6h0M623.1 1409.0h0M623.5 1397.2h0M624.0 1393.9h0M624.4 1390.9h0M624.9 1397.2h0M625.3 1399.7h0M625.8 1381.9h0M626.2 1401.7h0M626.7 1398.5h0M627.1 1387.7h0M627.6 1392.2h0M628.0 1397.9h0M628.5 1388.9h0M628.9 1405.1h0M629.4 1402.9h0M629.8 1404.3h0M630.3 1390.2h0M630.7 1406.5h0M631.2 1397.4h0M631.6 1408.2h0M632.1 1393.2h0M632.5 1372.0h0M633.0 1377.2h0M633.4 1404.9h0M633.9 1404.2h0M634.3 1393.6h0M634.8 1393.9h0M635.2 1408.9h0M635.7 1406.0h0M636.1 1409.3h0M636.6 1402.9h0M637.0 1394.2h0M637.5 1390.6h0M637.9 1406.8h0M638.4 1389.3h0M638.8 1392.1h0M639.3 1401.0h0M639.7 1407.7h0M640.2 1389.7h0M640.6 1397.9h0M641.1 1385.5h0M641.5 1390.9h0M642.0 1391.5h0M642.4 1391.0h0M642.9 1396.8h0M643.3 1396.8h0M643.8 1392.4h0M644.2 1394.0h0M644.7 1383.7h0M645.1 1385.9h0M645.6 1385.7h0M646.0 1391.8h0M646.5 1386.5h0M646.9 1389.5h0M647.4 1396.6h0M647.8 1384.1h0M648.3 1387.9h0M648.7 1397.4h0M649.2 1393.5h0M649.6 1393.7h0M650.1 1389.0h0M650.5 1411.3h0M651.0 1416.2h0M651.4 1406.2h0M651.9 1406.2h0M652.3 1410.0h0M652.8 1411.7h0M653.2 1406.4h0M653.7 1405.9h0M654.1 1409.4h0M654.6 1408.1h0M655.0 1410.6h0M655.5 1414.6h0M655.9 1410.9h0M656.4 1415.8h0M656.8 1407.9h0M657.3 1407.1h0M657.7 1414.3h0M658.2 1407.3h0M658.6 1410.0h0M659.1 1407.7h0M659.5 1410.6h0M660.0 1416.8h0M660.4 1410.7h0M660.9 1407.4h0M661.3 1416.6h0M661.8 1407.5h0M662.2 1414.6h0M662.7 1414.6h0M663.1 1412.0h0M663.6 1407.8h0M664.0 1408.1h0M664.5 1409.7h0M664.9 1411.1h0M665.4 1410.0h0M665.8 1412.2h0M666.3 1407.2h0M666.7 1415.8h0M667.2 1400.5h0M667.6 1400.6h0M668.1 1402.9h0M668.5 1397.3h0M669.0 1397.6h0M669.4 1401.5h0M669.9 1403.4h0M670.3 1401.9h0M670.8 1403.4h0M671.2 1396.4h0M671.7 1402.0h0M672.1 1401.3h0M672.6 1401.5h0M673.0 1396.7h0M673.5 1403.5h0M673.9 1398.9h0M674.4 1398.0h0M674.8 1400.6h0M675.3 1403.6h0M675.7 1395.0h0M676.2 1400.8h0M676.6 1394.9h0M677.1 1402.5h0M677.5 1398.0h0M678.0 1398.3h0M678.4 1395.3h0M678.9 1403.2h0M679.3 1400.0h0M679.8 1394.9h0M680.2 1397.8h0M680.7 1396.8h0M681.1 1402.7h0M681.6 1410.3h0M682.0 1410.4h0M682.5 1412.7h0M682.9 1416.1h0M683.4 1407.5h0M683.8 1412.2h0M684.3 1409.0h0M684.7 1411.8h0M685.2 1413.6h0M685.6 1416.2h0M686.1 1406.6h0M686.5 1412.6h0M687.0 1415.6h0M687.4 1414.7h0M687.9 1411.3h0M688.3 1413.0h0M688.8 1409.1h0M689.2 1412.9h0M689.7 1406.7h0M690.1 1410.7h0M690.6 1411.7h0M691.0 1414.5h0M691.5 1411.6h0M691.9 1411.5h0M692.4 1413.8h0M692.8 1408.0h0M693.3 1413.7h0M693.7 1410.4h0M694.2 1405.6h0M694.6 1409.1h0M695.1 1406.7h0M695.5 1411.8h0M696.0 1405.8h0M696.4 1407.6h0M696.9 1410.2h0M697.3 1412.5h0M697.8 1410.7h0M698.2 1413.9h0M698.7 1414.5h0M699.1 1413.7h0M699.6 1412.4h0M700.0 1409.5h0M700.5 1410.8h0M700.9 1410.4h0M701.4 1407.4h0M701.8 1412.3h0M702.3 1412.1h0M702.7 1414.6h0M703.2 1413.4h0M703.6 1409.7h0M704.1 1412.4h0M704.5 1411.7h0M705.0 1409.3h0M705.4 1410.0h0M705.9 1407.7h0M706.3 1415.7h0M706.8 1412.5h0M707.2 1417.1h0M707.7 1408.7h0M708.1 1408.7h0M708.6 1410.9h0M709.0 1407.8h0M709.5 1414.1h0M709.9 1410.1h0M710.4 1411.6h0M710.8 1408.9h0M711.3 1406.9h0M711.7 1414.9h0M712.2 1415.3h0M712.6 1406.3h0M713.1 1411.7h0M713.5 1414.8h0M714.0 1414.1h0M714.4 1414.7h0M714.9 1415.8h0M715.3 1408.3h0M715.8 1409.9h0M716.2 1406.8h0M716.7 1415.0h0M717.1 1410.2h0M717.6 1412.9h0M718.0 1406.5h0M718.5 1413.9h0M718.9 1407.9h0M719.4 1413.7h0M719.8 1413.5h0M720.3 1410.5h0M720.7 1416.1h0M721.2 1413.7h0M721.6 1410.6h0M722.1 1411.2h0M722.5 1414.9h0M723.0 1409.5h0M723.4 1411.9h0M723.9 1407.1h0M724.3 1415.0h0M724.8 1411.3h0M725.2 1408.9h0M725.7 1409.6h0M726.1 1412.2h0M726.6 1409.7h0M727.0 1413.7h0M727.5 1414.8h0M727.9 1412.1h0M728.4 1408.5h0M728.8 1408.8h0M729.3 1414.5h0M729.7 1413.6h0M730.2 1416.4h0M730.6 1409.0h0M731.1 1416.0h0M731.5 1408.5h0M732.0 1410.5h0M732.4 1415.5h0M732.9 1416.2h0M733.3 1410.1h0M733.8 1414.9h0M734.2 1408.5h0M734.7 1409.3h0M735.1 1409.8h0M735.6 1411.0h0M736.0 1414.0h0M736.5 1410.4h0M736.9 1411.5h0M737.4 1376.3h0M737.8 1391.5h0M738.3 1368.5h0M738.7 1368.7h0M739.2 1390.0h0M739.6 1362.7h0M740.1 1373.7h0M740.5 1392.8h0M741.0 1373.4h0M741.4 1370.9h0M741.9 1361.7h0M742.3 1373.4h0M742.8 1369.3h0M743.2 1393.1h0M743.7 1380.5h0M744.1 1369.9h0M744.6 1374.7h0M745.0 1387.8h0M745.5 1402.0h0M745.9 1389.0h0M746.4 1368.7h0M746.8 1394.2h0M747.3 1366.9h0M747.7 1352.0h0M748.2 1355.7h0M748.6 1378.5h0M749.1 1380.3h0M749.5 1383.6h0M750.0 1366.0h0M750.4 1386.2h0M750.9 1382.2h0M751.3 1363.7h0M751.8 1346.1h0M752.2 1317.5h0M752.7 1339.7h0M753.1 1299.4h0M753.6 1142.4h0M754.0 1199.1h0M754.5 1296.8h0M754.9 1294.7h0M755.4 1355.2h0M755.8 1371.0h0M756.3 1340.3h0M756.7 1350.0h0M757.2 1344.5h0M757.6 1370.6h0M758.1 1398.4h0M758.5 1398.3h0M759.0 1404.9h0M759.4 1399.9h0M759.9 1404.1h0M760.3 1402.6h0M760.8 1405.1h0M761.2 1402.9h0M761.7 1402.9h0M762.1 1403.7h0M762.6 1394.7h0M763.0 1399.8h0M763.5 1396.6h0M763.9 1400.9h0M764.4 1400.6h0M764.8 1400.1h0M765.3 1401.2h0M765.7 1404.3h0M766.2 1405.6h0M766.6 1405.2h0M767.1 1394.7h0M767.5 1404.3h0M768.0 1403.8h0M768.4 1392.5h0M768.9 1398.4h0M769.3 1397.6h0M769.8 1394.6h0M770.2 1394.8h0M770.7 1401.8h0M771.1 1400.3h0M771.6 1395.3h0M772.0 1404.5h0M772.5 1400.7h0M772.9 1395.7h0M773.4 1394.5h0M773.8 1395.0h0M774.3 1395.1h0M774.7 1396.9h0M775.2 1403.8h0M775.6 1394.8h0M776.1 1400.8h0M776.5 1398.6h0M777.0 1404.8h0M777.4 1399.1h0M777.9 1396.5h0M778.3 1405.2h0M778.8 1395.2h0M779.2 1405.5h0M779.7 1403.7h0M780.1 1401.3h0M780.6 1395.5h0M781.0 1372.6h0M781.5 1372.5h0M781.9 1370.7h0M782.4 1382.9h0M782.8 1346.4h0M783.3 1375.7h0M783.7 1380.8h0M784.2 1358.9h0M784.6 1366.9h0M785.1 1362.8h0M785.5 1300.5h0M786.0 1320.2h0M786.4 1335.0h0M786.9 1367.4h0M787.3 1368.7h0M787.8 1342.7h0M788.2 1362.1h0M788.7 1332.2h0M789.1 1395.0h0M789.6 1399.1h0M790.0 1402.0h0M790.5 1395.5h0M790.9 1410.7h0M791.4 1398.2h0M791.8 1405.0h0M792.3 1403.3h0M792.7 1407.1h0M793.2 1406.0h0M793.6 1401.9h0M794.1 1411.3h0M794.5 1411.7h0M795.0 1415.1h0M795.4 1404.7h0M795.9 1409.1h0M796.3 1409.5h0M796.8 1409.3h0M797.2 1395.4h0M797.7 1393.2h0M798.1 1401.7h0M798.6 1393.9h0M799.0 1404.2h0M799.5 1406.9h0M799.9 1367.0h0M800.4 1380.7h0M800.8 1388.1h0M801.3 1394.4h0M801.7 1397.3h0M802.2 1409.3h0M802.6 1394.1h0M803.1 1393.6h0M803.5 1395.7h0M804.0 1407.0h0M804.4 1403.4h0M804.9 1370.0h0M805.3 1377.4h0M805.8 1406.7h0M806.2 1394.1h0M806.7 1402.4h0M807.1 1393.7h0M807.6 1405.1h0M808.0 1401.7h0M808.5 1401.6h0M808.9 1397.2h0M809.4 1395.9h0M809.8 1400.7h0M810.3 1393.9h0M810.7 1409.3h0M811.2 1391.5h0M811.6 1407.9h0M812.1 1412.9h0M812.5 1405.0h0M813.0 1394.8h0M813.4 1391.0h0M813.9 1391.9h0M814.3 1405.2h0M814.8 1403.9h0M815.2 1398.8h0M815.7 1406.3h0M816.1 1401.1h0M816.6 1404.0h0M817.0 1394.8h0M817.5 1393.9h0M817.9 1393.5h0M818.4 1390.8h0M818.8 1402.5h0M819.3 1385.8h0M819.7 1403.0h0M820.2 1391.6h0M820.6 1387.7h0M821.1 1392.3h0M821.5 1393.3h0M822.0 1365.0h0M822.4 1373.5h0M822.9 1389.3h0M823.3 1399.6h0M823.8 1393.8h0M824.2 1390.5h0M824.7 1393.5h0M825.1 1398.0h0M825.6 1394.4h0M826.0 1393.1h0M826.5 1399.5h0M826.9 1397.3h0M827.4 1397.3h0M827.8 1403.0h0M828.3 1393.6h0M828.7 1391.0h0M829.2 1397.7h0M829.6 1400.5h0M830.1 1389.0h0M830.5 1393.1h0M831.0 1394.4h0M831.4 1391.1h0M831.9 1398.5h0M832.3 1403.8h0M832.8 1402.6h0M833.2 1397.9h0M833.7 1396.5h0M834.1 1397.0h0M834.6 1400.3h0M835.0 1403.7h0M835.5 1397.3h0M835.9 1397.6h0M836.4 1399.0h0M836.8 1399.5h0M837.3 1401.4h0M837.7 1396.6h0M838.2 1400.9h0M838.6 1407.5h0M839.1 1405.3h0M839.5 1405.1h0M840.0 1399.3h0M840.4 1403.1h0M840.9 1406.1h0M841.3 1403.0h0M841.8 1406.2h0M842.2 1395.6h0M842.7 1394.8h0M843.1 1405.3h0M843.6 1395.8h0M844.0 1407.3h0M844.5 1400.8h0M844.9 1400.5h0M845.4 1399.4h0M845.8 1401.8h0M846.3 1397.9h0M846.7 1397.2h0M847.2 1393.4h0M847.6 1402.9h0M848.1 1393.4h0M848.5 1400.9h0M849.0 1402.0h0M849.4 1403.3h0M849.9 1402.3h0M850.3 1408.1h0M850.8 1399.6h0M851.2 1398.4h0M851.7 1393.4h0M852.1 1397.9h0M852.6 1395.8h0M853.0 1403.5h0M853.5 1396.5h0M853.9 1400.5h0M854.4 1394.1h0M854.8 1395.9h0M855.3 1404.9h0M855.7 1394.3h0M856.2 1398.5h0M856.6 1392.9h0M857.1 1399.1h0M857.5 1400.2h0M858.0 1400.7h0M858.4 1394.4h0M858.9 1397.2h0M859.3 1399.5h0M859.8 1400.1h0M860.2 1405.0h0M860.7 1397.6h0M861.1 1398.0h0M861.6 1397.5h0M862.0 1406.8h0M862.5 1395.4h0M862.9 1399.6h0M863.4 1394.6h0M863.8 1402.7h0M864.3 1405.3h0M864.7 1402.4h0M865.2 1394.8h0M865.6 1396.8h0M866.1 1400.0h0M866.5 1404.3h0M867.0 1392.5h0M867.4 1402.3h0M867.9 1397.0h0M868.3 1402.1h0M868.8 1399.1h0M869.2 1395.7h0M869.7 1396.1h0M870.1 1395.6h0M870.6 1394.1h0M871.0 1405.5h0M871.5 1402.7h0M871.9 1404.2h0M872.4 1398.5h0M872.8 1407.2h0M873.3 1380.0h0M873.7 1388.1h0M874.2 1406.0h0M874.6 1403.4h0M875.1 1395.8h0M875.5 1399.0h0M876.0 1401.2h0M876.4 1395.5h0M876.9 1401.9h0M877.3 1399.3h0M877.8 1402.7h0M878.2 1392.9h0M878.7 1404.7h0M879.1 1400.7h0M879.6 1403.1h0M880.0 1404.5h0M880.5 1400.8h0M880.9 1400.0h0M881.4 1405.0h0M881.8 1404.5h0M882.3 1398.7h0M882.7 1407.6h0M883.2 1395.3h0M883.6 1401.4h0M884.1 1404.1h0M884.5 1403.9h0M885.0 1396.4h0M885.4 1399.4h0M885.9 1393.0h0M886.3 1398.2h0M886.8 1402.6h0M887.2 1398.8h0M887.7 1404.1h0M888.1 1394.6h0M888.6 1396.7h0M889.0 1401.2h0M889.5 1401.4h0M889.9 1402.4h0M890.4 1412.2h0M890.8 1407.7h0M891.3 1412.6h0M891.7 1407.7h0M892.2 1403.6h0M892.6 1411.2h0M893.1 1407.1h0M893.5 1402.5h0M894.0 1399.6h0M894.4 1402.8h0M894.9 1403.8h0M895.3 1401.0h0M895.8 1400.4h0M896.2 1402.3h0M896.7 1405.1h0M897.1 1412.0h0M897.6 1407.9h0M898.0 1407.1h0M898.5 1408.4h0M898.9 1403.7h0M899.4 1414.7h0M899.8 1409.0h0M900.3 1407.2h0M900.7 1410.7h0M901.2 1411.3h0M901.6 1411.7h0M902.1 1403.1h0M902.5 1401.1h0M903.0 1404.4h0M903.4 1410.0h0M903.9 1401.3h0M904.3 1412.2h0M904.8 1400.9h0M905.2 1408.2h0M905.7 1411.4h0M906.1 1408.3h0M906.6 1410.8h0M907.0 1402.8h0M907.5 1403.3h0M907.9 1411.5h0M908.4 1411.3h0M908.8 1407.1h0M909.3 1410.0h0M909.7 1408.9h0M910.2 1408.9h0M910.6 1408.8h0M911.1 1403.4h0M911.5 1405.7h0M912.0 1410.5h0M912.4 1410.6h0M912.9 1402.9h0M913.3 1404.6h0M913.8 1412.8h0M914.2 1404.3h0M914.7 1412.4h0M915.1 1414.6h0M915.6 1414.3h0M916.0 1404.7h0M916.5 1411.7h0M916.9 1403.2h0M917.4 1411.6h0M917.8 1402.5h0M918.3 1413.3h0M918.7 1403.9h0M919.2 1408.0h0M919.6 1398.8h0M920.1 1405.1h0M920.5 1407.9h0M921.0 1399.6h0M921.4 1405.6h0M921.9 1407.1h0M922.3 1404.4h0M922.8 1402.2h0M923.2 1393.1h0M923.7 1402.1h0M924.1 1403.8h0M924.6 1404.9h0M925.0 1399.9h0M925.5 1400.1h0M925.9 1396.5h0M926.4 1398.3h0M926.8 1400.6h0M927.3 1401.8h0M927.7 1399.8h0M928.2 1404.5h0M928.6 1399.1h0M929.1 1398.2h0M929.5 1399.9h0M930.0 1396.0h0M930.4 1398.3h0M930.9 1394.5h0M931.3 1395.9h0M931.8 1399.5h0M932.2 1394.0h0M932.7 1400.9h0M933.1 1394.1h0M933.6 1401.6h0M934.0 1401.6h0M934.5 1398.3h0M934.9 1406.8h0M935.4 1398.7h0M935.8 1405.6h0M936.3 1396.1h0M936.7 1397.7h0M937.2 1395.9h0M937.6 1408.4h0M938.1 1407.2h0M938.5 1405.4h0M939.0 1398.4h0M939.4 1397.1h0M939.9 1387.0h0M940.3 1388.0h0M940.8 1403.6h0M941.2 1396.4h0M941.7 1396.7h0M942.1 1400.8h0M942.6 1414.0h0M943.0 1402.8h0M943.5 1406.6h0M943.9 1406.8h0M944.4 1411.3h0M944.8 1408.8h0M945.3 1406.1h0M945.7 1402.5h0M946.2 1416.2h0M946.6 1397.6h0M947.1 1415.6h0M947.5 1413.3h0M948.0 1397.0h0M948.4 1399.2h0M948.9 1406.2h0M949.3 1405.3h0M949.8 1404.4h0M950.2 1396.6h0M950.7 1411.9h0M951.1 1396.2h0M951.6 1388.0h0M952.0 1388.2h0M952.5 1395.2h0M952.9 1405.5h0M953.4 1400.0h0M953.8 1396.4h0M954.3 1399.7h0M954.7 1396.9h0M955.2 1411.4h0M955.6 1407.4h0M956.1 1395.6h0M956.5 1401.7h0M957.0 1413.0h0M957.4 1402.2h0M957.9 1400.7h0M958.3 1411.9h0M958.8 1399.9h0M959.2 1407.5h0M959.7 1408.8h0M960.1 1396.0h0M960.6 1397.7h0M961.0 1394.7h0M961.5 1403.9h0M961.9 1402.2h0M962.4 1400.4h0M962.8 1397.3h0M963.3 1402.1h0M963.7 1400.2h0M964.2 1395.5h0M964.6 1396.2h0M965.1 1389.7h0M965.5 1398.9h0M966.0 1394.6h0M966.4 1387.6h0M966.9 1392.6h0M967.3 1395.4h0M967.8 1390.6h0M968.2 1381.6h0M968.7 1389.9h0M969.1 1381.8h0M969.6 1386.6h0M970.0 1390.7h0M970.5 1389.9h0M970.9 1391.1h0M971.4 1379.7h0M971.8 1384.0h0M972.3 1390.2h0M972.7 1388.7h0M973.2 1390.7h0M973.6 1384.4h0M974.1 1383.6h0M974.5 1394.1h0M975.0 1379.7h0M975.4 1392.3h0M975.9 1392.3h0M976.3 1389.9h0M976.8 1380.7h0M977.2 1382.7h0M977.7 1389.3h0M978.1 1384.7h0M978.6 1381.8h0M979.0 1387.7h0M979.5 1385.8h0M979.9 1392.4h0M980.4 1388.0h0M980.8 1393.4h0M981.3 1392.0h0M981.7 1387.7h0M982.2 1392.8h0M982.6 1395.9h0M983.1 1396.1h0M983.5 1387.7h0M984.0 1385.9h0M984.4 1395.2h0M984.9 1398.9h0M985.3 1392.2h0M985.8 1392.2h0M986.2 1388.8h0M986.7 1398.2h0M987.1 1393.9h0M987.6 1393.5h0M988.0 1386.0h0M988.5 1390.1h0M988.9 1398.3h0M989.4 1390.3h0M989.8 1401.6h0M990.3 1388.4h0M990.7 1395.1h0M991.2 1394.1h0M991.6 1405.9h0M992.1 1399.4h0M992.5 1396.3h0M993.0 1404.3h0M993.4 1394.9h0M993.9 1403.7h0M994.3 1389.3h0M994.8 1396.0h0M995.2 1394.7h0M995.7 1389.7h0M996.1 1391.9h0M996.6 1390.4h0M997.0 1400.0h0M997.5 1402.9h0M997.9 1393.8h0M998.4 1407.9h0M998.8 1407.6h0M999.3 1407.7h0M999.7 1410.2h0M1000.2 1396.2h0M1000.6 1403.8h0M1001.1 1401.1h0M1001.5 1400.7h0M1002.0 1400.6h0M1002.4 1400.5h0M1002.9 1404.0h0M1003.3 1410.1h0M1003.8 1396.7h0M1004.2 1397.9h0M1004.7 1413.2h0M1005.1 1401.9h0M1005.6 1410.5h0M1006.0 1407.7h0M1006.5 1414.2h0M1006.9 1405.8h0M1007.4 1414.0h0M1007.8 1406.7h0M1008.3 1412.7h0M1008.7 1399.0h0M1009.2 1411.5h0M1009.6 1396.1h0M1010.1 1412.2h0M1010.5 1402.8h0M1011.0 1402.8h0M1011.4 1407.2h0M1011.9 1413.0h0M1012.3 1414.0h0M1012.8 1411.4h0M1013.2 1399.1h0M1013.7 1409.0h0M1014.1 1398.3h0M1014.6 1405.2h0M1015.0 1408.8h0M1015.5 1406.9h0M1015.9 1407.6h0M1016.4 1404.3h0M1016.8 1407.5h0M1017.3 1413.6h0M1017.7 1412.7h0M1018.2 1417.0h0M1018.6 1413.0h0M1019.1 1408.2h0M1019.5 1414.2h0M1020.0 1410.8h0M1020.4 1415.1h0M1020.9 1414.3h0M1021.3 1410.8h0M1021.8 1416.7h0M1022.2 1417.8h0M1022.7 1419.1h0M1023.1 1410.8h0M1023.6 1411.0h0M1024.0 1416.3h0M1024.5 1410.4h0M1024.9 1407.5h0M1025.4 1411.8h0M1025.8 1407.6h0M1026.3 1410.5h0M1026.7 1410.1h0M1027.2 1420.2h0M1027.6 1410.9h0M1028.1 1414.2h0M1028.5 1409.4h0M1029.0 1411.7h0M1029.4 1413.2h0M1029.9 1413.0h0M1030.3 1410.3h0M1030.8 1418.1h0M1031.2 1407.1h0M1031.7 1418.4h0M1032.1 1418.8h0M1032.6 1408.7h0M1033.0 1417.4h0M1033.5 1412.4h0M1033.9 1415.4h0M1034.4 1409.8h0M1034.8 1419.0h0M1035.3 1418.8h0M1035.7 1417.3h0M1036.2 1420.2h0M1036.6 1410.8h0M1037.1 1420.5h0M1037.5 1414.2h0M1038.0 1411.2h0M1038.4 1417.6h0M1038.9 1407.1h0M1039.3 1408.8h0M1039.8 1416.1h0M1040.2 1416.6h0M1040.7 1406.7h0M1041.1 1413.2h0M1041.6 1414.4h0M1042.0 1417.1h0M1042.5 1418.5h0M1042.9 1406.6h0M1043.4 1412.8h0M1043.8 1410.4h0M1044.3 1411.7h0M1044.7 1407.8h0M1045.2 1406.6h0M1045.6 1407.6h0M1046.1 1403.8h0M1046.5 1408.3h0M1047.0 1410.1h0M1047.4 1423.8h0M1047.9 1421.4h0M1048.3 1421.9h0M1048.8 1422.4h0M1049.2 1421.4h0M1049.7 1422.0h0M1050.1 1423.0h0M1050.6 1424.8h0M1051.0 1421.2h0M1051.5 1421.9h0M1051.9 1424.4h0M1052.4 1421.7h0M1052.8 1424.2h0M1053.3 1421.1h0M1053.7 1411.7h0M1054.2 1406.1h0M1054.6 1411.4h0M1055.1 1409.9h0M1055.5 1406.2h0M1056.0 1404.7h0M1056.4 1406.3h0M1056.9 1407.5h0M1057.3 1412.2h0M1057.8 1409.3h0M1058.2 1412.5h0M1058.7 1405.2h0M1059.1 1411.8h0M1059.6 1404.3h0M1060.0 1408.5h0M1060.5 1408.9h0M1060.9 1411.5h0M1061.4 1403.5h0M1061.8 1406.4h0M1062.3 1402.1h0M1062.7 1405.5h0M1063.2 1413.4h0M1063.6 1406.0h0M1064.1 1406.6h0M1064.5 1413.9h0M1065.0 1408.9h0M1065.4 1411.4h0M1065.9 1403.3h0M1066.3 1413.1h0M1066.8 1406.9h0M1067.2 1411.6h0M1067.7 1406.9h0M1068.1 1414.0h0M1068.6 1410.7h0M1069.0 1414.9h0M1069.5 1413.2h0M1069.9 1400.5h0M1070.4 1414.2h0M1070.8 1381.8h0M1071.3 1396.1h0M1071.7 1412.2h0M1072.2 1414.5h0M1072.6 1401.1h0M1073.1 1413.1h0M1073.5 1402.9h0M1074.0 1403.5h0M1074.4 1402.9h0M1074.9 1407.9h0M1075.3 1402.5h0M1075.8 1410.1h0M1076.2 1410.4h0M1076.7 1409.5h0M1077.1 1406.3h0M1077.6 1410.5h0M1078.0 1414.2h0M1078.5 1414.4h0M1078.9 1408.5h0M1079.4 1414.0h0M1079.8 1414.2h0M1080.3 1403.1h0M1080.7 1403.1h0M1081.2 1408.6h0M1081.6 1413.8h0M1082.1 1411.8h0M1082.5 1404.9h0M1083.0 1406.0h0M1083.4 1408.9h0M1083.9 1405.7h0M1084.3 1410.7h0M1084.8 1413.7h0M1085.2 1405.6h0M1085.7 1408.6h0M1086.1 1411.3h0M1086.6 1408.0h0M1087.0 1414.4h0M1087.5 1410.3h0M1087.9 1410.5h0M1088.4 1408.5h0M1088.8 1409.9h0M1089.3 1409.0h0M1089.7 1410.5h0M1090.2 1411.5h0M1090.6 1406.9h0M1091.1 1406.7h0M1091.5 1409.1h0M1092.0 1405.0h0M1092.4 1410.8h0M1092.9 1412.4h0M1093.3 1411.8h0M1093.8 1411.4h0M1094.2 1410.2h0M1094.7 1412.9h0M1095.1 1400.4h0M1095.6 1407.5h0M1096.0 1403.1h0M1096.5 1401.5h0M1096.9 1392.7h0M1097.4 1403.5h0M1097.8 1407.2h0M1098.3 1405.6h0M1098.7 1395.7h0M1099.2 1408.8h0M1099.6 1396.3h0M1100.1 1406.3h0M1100.5 1405.5h0M1101.0 1401.3h0M1101.4 1407.0h0M1101.9 1407.2h0M1102.3 1395.2h0M1102.8 1403.8h0M1103.2 1392.3h0M1103.7 1397.9h0M1104.1 1397.9h0M1104.6 1391.8h0M1105.0 1402.9h0M1105.5 1402.9h0M1105.9 1405.5h0M1106.4 1404.8h0M1106.8 1399.9h0M1107.3 1391.6h0M1107.7 1400.6h0M1108.2 1394.5h0M1108.6 1403.2h0M1109.1 1406.5h0M1109.5 1400.0h0M1110.0 1396.4h0M1110.4 1405.1h0M1110.9 1397.0h0M1111.3 1394.6h0M1111.8 1400.5h0M1112.2 1394.1h0M1112.7 1392.8h0M1113.1 1404.8h0M1113.6 1391.8h0M1114.0 1403.4h0M1114.5 1407.7h0M1114.9 1395.3h0M1115.4 1378.0h0M1115.8 1384.5h0M1116.3 1395.8h0M1116.7 1405.3h0M1117.2 1404.4h0M1117.6 1397.8h0M1118.1 1396.7h0M1118.5 1395.9h0M1119.0 1407.9h0M1119.4 1395.1h0M1119.9 1406.2h0M1120.3 1400.1h0M1120.8 1406.9h0M1121.2 1409.5h0M1121.7 1405.8h0M1122.1 1398.5h0M1122.6 1408.9h0M1123.0 1408.7h0M1123.5 1402.9h0M1123.9 1405.2h0M1124.4 1406.3h0M1124.8 1401.2h0M1125.3 1392.1h0M1125.7 1399.3h0M1126.2 1395.2h0M1126.6 1391.3h0M1127.1 1399.0h0M1127.5 1394.1h0M1128.0 1409.0h0M1128.4 1405.7h0M1128.9 1396.7h0M1129.3 1407.4h0M1129.8 1397.2h0M1130.2 1408.3h0M1130.7 1404.3h0M1131.1 1408.7h0M1131.6 1394.4h0M1132.0 1393.4h0M1132.5 1409.7h0M1132.9 1402.5h0M1133.4 1401.1h0M1133.8 1327.2h0M1134.3 1383.2h0M1134.7 1382.8h0M1135.2 1341.7h0M1135.6 1362.3h0M1136.1 1349.5h0M1136.5 1311.0h0M1137.0 1311.3h0M1137.4 1347.1h0M1137.9 1365.6h0M1138.3 1313.0h0M1138.8 1312.3h0M1139.2 1371.4h0M1139.7 1372.6h0M1140.1 1376.4h0M1140.6 1374.7h0M1141.0 1369.7h0M1141.5 1375.4h0M1141.9 1382.9h0M1142.4 1376.3h0M1142.8 1377.9h0M1143.3 1383.6h0M1143.7 1387.9h0" fill="none" stroke="#000" stroke-width="4.3" stroke-linecap="round"/></g>
<path d="M612.46 62.0V378.0M632.96 62.0V378.0M674.18 62.0V378.0" stroke="#000" stroke-width="2.1" fill="none"/>
<path d="M612.46 416.0V732.0M632.96 416.0V732.0M674.18 416.0V732.0" stroke="#000" stroke-width="2.1" fill="none"/>
<path d="M612.46 770.0V1086.0M632.96 770.0V1086.0M674.18 770.0V1086.0" stroke="#000" stroke-width="2.1" fill="none"/>
<path d="M612.46 1124.0V1440.0M632.96 1124.0V1440.0M674.18 1124.0V1440.0" stroke="#000" stroke-width="2.1" fill="none"/>
<text x="173.03" y="95.00" font-size="18.75" fill="#008000">west</text>
<text x="242.25" y="95.20" font-size="18.75" fill="#0000FF">north</text>
<text x="174.40" y="350.20" font-size="18.75" fill="#008000">east</text>
<text x="241.88" y="350.20" font-size="18.75" fill="#0000FF">south</text>
<rect x="632.7" y="332.6" width="502.3" height="36.2" rx="4" ry="4" fill="#EAEAF2" fill-opacity="0.8" stroke="#cccccc" stroke-width="1.3"/>
<path d="M642.00 348.9H682.90" stroke="#FF0000" stroke-width="3.5" stroke-linecap="round"/>
<text x="699.19" y="355.60" font-size="20.83" fill="#262626">Bx</text>
<path d="M766.27 348.9H807.17" stroke="#008000" stroke-width="3.5" stroke-linecap="round"/>
<text x="823.46" y="355.60" font-size="20.83" fill="#262626">By</text>
<path d="M890.54 348.9H931.44" stroke="#0000FF" stroke-width="3.5" stroke-linecap="round"/>
<text x="947.73" y="355.60" font-size="20.83" fill="#262626">Bz</text>
<path d="M1014.81 348.9H1055.71" stroke="#000000" stroke-width="3.5" stroke-linecap="round"/>
<text x="1072.00" y="355.60" font-size="20.83" fill="#262626">Btotal</text>
<text transform="translate(47.80 221.00) rotate(-90)" text-anchor="middle" font-size="27.08" fill="#262626">B [nT] RTN</text>
<text transform="translate(60.50 575.00) rotate(-90)" text-anchor="middle" font-size="27.08" fill="#262626">V [km s<tspan dx="2.2" dy="-10" font-size="21">–</tspan><tspan dx="2.5" font-size="19">1</tspan><tspan dx="4" dy="10">]</tspan></text>
<text transform="translate(46.00 928.00) rotate(-90)" text-anchor="middle" font-size="27.08" fill="#262626">N [cm<tspan dx="2.2" dy="-10" font-size="21">–</tspan><tspan dx="2.5" font-size="19">3</tspan><tspan dx="4" dy="10">]</tspan></text>
<text transform="translate(93.00 1283.00) rotate(-90)" text-anchor="middle" font-size="27.08" fill="#262626">T [MK]</text>
<circle cx="1701.0" cy="751.0" r="500.5" fill="#EAEAF2"/>
<circle cx="1701.0" cy="751.0" r="40.0" fill="none" stroke="#fff" stroke-width="2.00"/>
<circle cx="1701.0" cy="751.0" r="120.0" fill="none" stroke="#fff" stroke-width="2.00"/>
<circle cx="1701.0" cy="751.0" r="200.0" fill="none" stroke="#fff" stroke-width="2.00"/>
<circle cx="1701.0" cy="751.0" r="280.0" fill="none" stroke="#fff" stroke-width="2.00"/>
<circle cx="1701.0" cy="751.0" r="400.0" fill="none" stroke="#fff" stroke-width="2.00"/>
<path d="M1701.0 751.0L2201.50 751.00M1701.0 751.0L2054.91 397.09M1701.0 751.0L1701.00 250.50M1701.0 751.0L1347.09 397.09M1701.0 751.0L1200.50 751.00M1701.0 751.0L1347.09 1104.91M1701.0 751.0L1701.00 1251.50M1701.0 751.0L2054.91 1104.91" stroke="#fff" stroke-width="2.00"/>
<path d="M1687.76 728.62L1684.92 723.33L1682.17 717.99L1679.50 712.61L1676.91 707.19L1674.41 701.72L1671.99 696.21L1669.65 690.66L1667.41 685.06L1665.25 679.43L1663.17 673.77L1661.19 668.06L1659.29 662.32L1657.48 656.54L1655.76 650.74L1654.12 644.89L1652.58 639.02L1651.13 633.12L1649.76 627.18L1648.49 621.22L1647.31 615.23L1646.22 609.21L1645.22 603.17L1644.32 597.11L1643.50 591.02L1642.78 584.91L1642.15 578.78L1641.62 572.63L1641.17 566.46L1640.83 560.27L1640.57 554.06L1640.41 547.84L1640.35 541.61L1640.37 535.36L1640.50 529.10L1640.72 522.83L1641.03 516.55L1641.44 510.26L1641.95 503.96L1642.55 497.66L1643.24 491.35L1644.04 485.03L1644.93 478.71L1645.91 472.39L1646.99 466.07L1648.17 459.75L1649.44 453.43L1650.81 447.12L1652.28 440.80L1653.84 434.49L1655.50 428.19L1657.26 421.89L1659.11 415.61L1661.06 409.33L1663.11 403.06L1665.25 396.80L1667.49 390.55L1669.83 384.32L1672.26 378.11L1674.78 371.91L1677.41 365.72L1680.13 359.56L1682.94 353.41L1685.85 347.28L1688.86 341.18L1691.96 335.10L1695.16 329.04L1698.45 323.01L1701.83 317.00L1705.32 311.02L1708.89 305.07L1712.56 299.15L1716.32 293.26L1720.18 287.40L1724.13 281.57L1728.17 275.78L1732.31 270.02L1736.54 264.30L1740.86 258.61L1745.27 252.96L1745.65 252.50M1678.35 738.24L1673.24 735.08L1668.19 731.83L1663.18 728.51L1658.23 725.10L1653.33 721.62L1648.48 718.05L1643.68 714.41L1638.94 710.69L1634.25 706.90L1629.62 703.03L1625.05 699.08L1620.54 695.06L1616.08 690.96L1611.69 686.79L1607.35 682.55L1603.08 678.23L1598.87 673.85L1594.72 669.39L1590.64 664.86L1586.62 660.26L1582.67 655.60L1578.78 650.87L1574.96 646.07L1571.21 641.20L1567.53 636.27L1563.92 631.27L1560.38 626.22L1556.92 621.09L1553.52 615.91L1550.20 610.66L1546.95 605.35L1543.78 599.99L1540.68 594.56L1537.65 589.08L1534.71 583.54L1531.84 577.94L1529.05 572.29L1526.34 566.58L1523.71 560.82L1521.16 555.01L1518.68 549.15L1516.30 543.23L1513.99 537.26L1511.76 531.25L1509.62 525.19L1507.57 519.08L1505.60 512.92L1503.71 506.72L1501.91 500.48L1500.19 494.19L1498.57 487.86L1497.03 481.48L1495.58 475.07L1494.21 468.62L1492.94 462.13L1491.76 455.60L1490.66 449.04L1489.66 442.44L1488.75 435.80L1487.93 429.14L1487.20 422.44L1486.57 415.71L1486.02 408.95L1485.57 402.16L1485.22 395.34L1484.96 388.49L1484.79 381.62L1484.72 374.73L1484.75 367.81L1484.87 360.87L1485.09 353.90L1485.40 346.92L1485.81 339.92L1486.32 332.90L1486.92 325.86L1487.63 318.80L1488.43 311.73L1489.33 304.65L1490.32 297.55L1490.41 296.96M1675.00 751.28L1669.00 751.09L1663.00 750.81L1657.00 750.43L1651.01 749.96L1645.02 749.39L1639.04 748.73L1633.07 747.97L1627.10 747.12L1621.15 746.18L1615.20 745.14L1609.27 744.01L1603.35 742.78L1597.44 741.46L1591.55 740.05L1585.67 738.54L1579.81 736.94L1573.97 735.25L1568.15 733.46L1562.35 731.58L1556.58 729.61L1550.82 727.55L1545.09 725.39L1539.38 723.14L1533.70 720.81L1528.05 718.37L1522.43 715.85L1516.83 713.24L1511.27 710.54L1505.73 707.75L1500.23 704.86L1494.77 701.89L1489.33 698.83L1483.94 695.68L1478.58 692.45L1473.26 689.12L1467.97 685.71L1462.73 682.21L1457.53 678.62L1452.37 674.95L1447.26 671.19L1442.18 667.35L1437.16 663.42L1432.18 659.41L1427.24 655.31L1422.36 651.13L1417.52 646.87L1412.74 642.52L1408.00 638.09L1403.32 633.58L1398.69 629.00L1394.12 624.33L1389.60 619.58L1385.13 614.75L1380.73 609.84L1376.38 604.86L1372.09 599.80L1367.86 594.66L1363.69 589.45L1359.59 584.16L1355.54 578.79L1351.56 573.36L1347.65 567.84L1343.80 562.26L1340.01 556.60L1336.30 550.88L1332.65 545.08L1329.07 539.21L1325.56 533.28L1322.13 527.27L1318.76 521.20L1315.46 515.06L1312.24 508.86L1309.10 502.59L1306.03 496.25L1303.03 489.85L1300.11 483.39L1297.27 476.87L1294.51 470.29L1291.82 463.64L1291.60 463.08M1678.62 764.24L1673.33 767.08L1667.99 769.83L1662.61 772.50L1657.19 775.09L1651.72 777.59L1646.21 780.01L1640.66 782.35L1635.06 784.59L1629.43 786.75L1623.77 788.83L1618.06 790.81L1612.32 792.71L1606.54 794.52L1600.74 796.24L1594.89 797.88L1589.02 799.42L1583.12 800.87L1577.18 802.24L1571.22 803.51L1565.23 804.69L1559.21 805.78L1553.17 806.78L1547.11 807.68L1541.02 808.50L1534.91 809.22L1528.78 809.85L1522.63 810.38L1516.46 810.83L1510.27 811.17L1504.06 811.43L1497.84 811.59L1491.61 811.65L1485.36 811.63L1479.10 811.50L1472.83 811.28L1466.55 810.97L1460.26 810.56L1453.96 810.05L1447.66 809.45L1441.35 808.76L1435.03 807.96L1428.71 807.07L1422.39 806.09L1416.07 805.01L1409.75 803.83L1403.43 802.56L1397.12 801.19L1390.80 799.72L1384.49 798.16L1378.19 796.50L1371.89 794.74L1365.61 792.89L1359.33 790.94L1353.06 788.89L1346.80 786.75L1340.55 784.51L1334.32 782.17L1328.11 779.74L1321.91 777.22L1315.72 774.59L1309.56 771.87L1303.41 769.06L1297.28 766.15L1291.18 763.14L1285.10 760.04L1279.04 756.84L1273.01 753.55L1267.00 750.17L1261.02 746.68L1255.07 743.11L1249.15 739.44L1243.26 735.68L1237.40 731.82L1231.57 727.87L1225.78 723.83L1220.02 719.69L1214.30 715.46L1208.61 711.14L1202.96 706.73L1202.50 706.35M1688.24 773.65L1685.08 778.76L1681.83 783.81L1678.51 788.82L1675.10 793.77L1671.62 798.67L1668.05 803.52L1664.41 808.32L1660.69 813.06L1656.90 817.75L1653.03 822.38L1649.08 826.95L1645.06 831.46L1640.96 835.92L1636.79 840.31L1632.55 844.65L1628.23 848.92L1623.85 853.13L1619.39 857.28L1614.86 861.36L1610.26 865.38L1605.60 869.33L1600.87 873.22L1596.07 877.04L1591.20 880.79L1586.27 884.47L1581.27 888.08L1576.22 891.62L1571.09 895.08L1565.91 898.48L1560.66 901.80L1555.35 905.05L1549.99 908.22L1544.56 911.32L1539.08 914.35L1533.54 917.29L1527.94 920.16L1522.29 922.95L1516.58 925.66L1510.82 928.29L1505.01 930.84L1499.15 933.32L1493.23 935.70L1487.26 938.01L1481.25 940.24L1475.19 942.38L1469.08 944.43L1462.92 946.40L1456.72 948.29L1450.48 950.09L1444.19 951.81L1437.86 953.43L1431.48 954.97L1425.07 956.42L1418.62 957.79L1412.13 959.06L1405.60 960.24L1399.04 961.34L1392.44 962.34L1385.80 963.25L1379.14 964.07L1372.44 964.80L1365.71 965.43L1358.95 965.98L1352.16 966.43L1345.34 966.78L1338.49 967.04L1331.62 967.21L1324.73 967.28L1317.81 967.25L1310.87 967.13L1303.90 966.91L1296.92 966.60L1289.92 966.19L1282.90 965.68L1275.86 965.08L1268.80 964.37L1261.73 963.57L1254.65 962.67L1247.55 961.68L1246.96 961.59M1701.28 777.00L1701.09 783.00L1700.81 789.00L1700.43 795.00L1699.96 800.99L1699.39 806.98L1698.73 812.96L1697.97 818.93L1697.12 824.90L1696.18 830.85L1695.14 836.80L1694.01 842.73L1692.78 848.65L1691.46 854.56L1690.05 860.45L1688.54 866.33L1686.94 872.19L1685.25 878.03L1683.46 883.85L1681.58 889.65L1679.61 895.42L1677.55 901.18L1675.39 906.91L1673.14 912.62L1670.81 918.30L1668.37 923.95L1665.85 929.57L1663.24 935.17L1660.54 940.73L1657.75 946.27L1654.86 951.77L1651.89 957.23L1648.83 962.67L1645.68 968.06L1642.45 973.42L1639.12 978.74L1635.71 984.03L1632.21 989.27L1628.62 994.47L1624.95 999.63L1621.19 1004.74L1617.35 1009.82L1613.42 1014.84L1609.41 1019.82L1605.31 1024.76L1601.13 1029.64L1596.87 1034.48L1592.52 1039.26L1588.09 1044.00L1583.58 1048.68L1579.00 1053.31L1574.33 1057.88L1569.58 1062.40L1564.75 1066.87L1559.84 1071.27L1554.86 1075.62L1549.80 1079.91L1544.66 1084.14L1539.45 1088.31L1534.16 1092.41L1528.79 1096.46L1523.36 1100.44L1517.84 1104.35L1512.26 1108.20L1506.60 1111.99L1500.88 1115.70L1495.08 1119.35L1489.21 1122.93L1483.28 1126.44L1477.27 1129.87L1471.20 1133.24L1465.06 1136.54L1458.86 1139.76L1452.59 1142.90L1446.25 1145.97L1439.85 1148.97L1433.39 1151.89L1426.87 1154.73L1420.29 1157.49L1413.64 1160.18L1413.08 1160.40M1714.24 773.38L1717.08 778.67L1719.83 784.01L1722.50 789.39L1725.09 794.81L1727.59 800.28L1730.01 805.79L1732.35 811.34L1734.59 816.94L1736.75 822.57L1738.83 828.23L1740.81 833.94L1742.71 839.68L1744.52 845.46L1746.24 851.26L1747.88 857.11L1749.42 862.98L1750.87 868.88L1752.24 874.82L1753.51 880.78L1754.69 886.77L1755.78 892.79L1756.78 898.83L1757.68 904.89L1758.50 910.98L1759.22 917.09L1759.85 923.22L1760.38 929.37L1760.83 935.54L1761.17 941.73L1761.43 947.94L1761.59 954.16L1761.65 960.39L1761.63 966.64L1761.50 972.90L1761.28 979.17L1760.97 985.45L1760.56 991.74L1760.05 998.04L1759.45 1004.34L1758.76 1010.65L1757.96 1016.97L1757.07 1023.29L1756.09 1029.61L1755.01 1035.93L1753.83 1042.25L1752.56 1048.57L1751.19 1054.88L1749.72 1061.20L1748.16 1067.51L1746.50 1073.81L1744.74 1080.11L1742.89 1086.39L1740.94 1092.67L1738.89 1098.94L1736.75 1105.20L1734.51 1111.45L1732.17 1117.68L1729.74 1123.89L1727.22 1130.09L1724.59 1136.28L1721.87 1142.44L1719.06 1148.59L1716.15 1154.72L1713.14 1160.82L1710.04 1166.90L1706.84 1172.96L1703.55 1178.99L1700.17 1185.00L1696.68 1190.98L1693.11 1196.93L1689.44 1202.85L1685.68 1208.74L1681.82 1214.60L1677.87 1220.43L1673.83 1226.22L1669.69 1231.98L1665.46 1237.70L1661.14 1243.39L1656.73 1249.04L1656.35 1249.50M1723.65 763.76L1728.76 766.92L1733.81 770.17L1738.82 773.49L1743.77 776.90L1748.67 780.38L1753.52 783.95L1758.32 787.59L1763.06 791.31L1767.75 795.10L1772.38 798.97L1776.95 802.92L1781.46 806.94L1785.92 811.04L1790.31 815.21L1794.65 819.45L1798.92 823.77L1803.13 828.15L1807.28 832.61L1811.36 837.14L1815.38 841.74L1819.33 846.40L1823.22 851.13L1827.04 855.93L1830.79 860.80L1834.47 865.73L1838.08 870.73L1841.62 875.78L1845.08 880.91L1848.48 886.09L1851.80 891.34L1855.05 896.65L1858.22 902.01L1861.32 907.44L1864.35 912.92L1867.29 918.46L1870.16 924.06L1872.95 929.71L1875.66 935.42L1878.29 941.18L1880.84 946.99L1883.32 952.85L1885.70 958.77L1888.01 964.74L1890.24 970.75L1892.38 976.81L1894.43 982.92L1896.40 989.08L1898.29 995.28L1900.09 1001.52L1901.81 1007.81L1903.43 1014.14L1904.97 1020.52L1906.42 1026.93L1907.79 1033.38L1909.06 1039.87L1910.24 1046.40L1911.34 1052.96L1912.34 1059.56L1913.25 1066.20L1914.07 1072.86L1914.80 1079.56L1915.43 1086.29L1915.98 1093.05L1916.43 1099.84L1916.78 1106.66L1917.04 1113.51L1917.21 1120.38L1917.28 1127.27L1917.25 1134.19L1917.13 1141.13L1916.91 1148.10L1916.60 1155.08L1916.19 1162.08L1915.68 1169.10L1915.08 1176.14L1914.37 1183.20L1913.57 1190.27L1912.67 1197.35L1911.68 1204.45L1911.59 1205.04M1727.00 750.72L1733.00 750.91L1739.00 751.19L1745.00 751.57L1750.99 752.04L1756.98 752.61L1762.96 753.27L1768.93 754.03L1774.90 754.88L1780.85 755.82L1786.80 756.86L1792.73 757.99L1798.65 759.22L1804.56 760.54L1810.45 761.95L1816.33 763.46L1822.19 765.06L1828.03 766.75L1833.85 768.54L1839.65 770.42L1845.42 772.39L1851.18 774.45L1856.91 776.61L1862.62 778.86L1868.30 781.19L1873.95 783.63L1879.57 786.15L1885.17 788.76L1890.73 791.46L1896.27 794.25L1901.77 797.14L1907.23 800.11L1912.67 803.17L1918.06 806.32L1923.42 809.55L1928.74 812.88L1934.03 816.29L1939.27 819.79L1944.47 823.38L1949.63 827.05L1954.74 830.81L1959.82 834.65L1964.84 838.58L1969.82 842.59L1974.76 846.69L1979.64 850.87L1984.48 855.13L1989.26 859.48L1994.00 863.91L1998.68 868.42L2003.31 873.00L2007.88 877.67L2012.40 882.42L2016.87 887.25L2021.27 892.16L2025.62 897.14L2029.91 902.20L2034.14 907.34L2038.31 912.55L2042.41 917.84L2046.46 923.21L2050.44 928.64L2054.35 934.16L2058.20 939.74L2061.99 945.40L2065.70 951.12L2069.35 956.92L2072.93 962.79L2076.44 968.72L2079.87 974.73L2083.24 980.80L2086.54 986.94L2089.76 993.14L2092.90 999.41L2095.97 1005.75L2098.97 1012.15L2101.89 1018.61L2104.73 1025.13L2107.49 1031.71L2110.18 1038.36L2110.40 1038.92M1723.38 737.76L1728.67 734.92L1734.01 732.17L1739.39 729.50L1744.81 726.91L1750.28 724.41L1755.79 721.99L1761.34 719.65L1766.94 717.41L1772.57 715.25L1778.23 713.17L1783.94 711.19L1789.68 709.29L1795.46 707.48L1801.26 705.76L1807.11 704.12L1812.98 702.58L1818.88 701.13L1824.82 699.76L1830.78 698.49L1836.77 697.31L1842.79 696.22L1848.83 695.22L1854.89 694.32L1860.98 693.50L1867.09 692.78L1873.22 692.15L1879.37 691.62L1885.54 691.17L1891.73 690.83L1897.94 690.57L1904.16 690.41L1910.39 690.35L1916.64 690.37L1922.90 690.50L1929.17 690.72L1935.45 691.03L1941.74 691.44L1948.04 691.95L1954.34 692.55L1960.65 693.24L1966.97 694.04L1973.29 694.93L1979.61 695.91L1985.93 696.99L1992.25 698.17L1998.57 699.44L2004.88 700.81L2011.20 702.28L2017.51 703.84L2023.81 705.50L2030.11 707.26L2036.39 709.11L2042.67 711.06L2048.94 713.11L2055.20 715.25L2061.45 717.49L2067.68 719.83L2073.89 722.26L2080.09 724.78L2086.28 727.41L2092.44 730.13L2098.59 732.94L2104.72 735.85L2110.82 738.86L2116.90 741.96L2122.96 745.16L2128.99 748.45L2135.00 751.83L2140.98 755.32L2146.93 758.89L2152.85 762.56L2158.74 766.32L2164.60 770.18L2170.43 774.13L2176.22 778.17L2181.98 782.31L2187.70 786.54L2193.39 790.86L2199.04 795.27L2199.50 795.65M1713.76 728.35L1716.92 723.24L1720.17 718.19L1723.49 713.18L1726.90 708.23L1730.38 703.33L1733.95 698.48L1737.59 693.68L1741.31 688.94L1745.10 684.25L1748.97 679.62L1752.92 675.05L1756.94 670.54L1761.04 666.08L1765.21 661.69L1769.45 657.35L1773.77 653.08L1778.15 648.87L1782.61 644.72L1787.14 640.64L1791.74 636.62L1796.40 632.67L1801.13 628.78L1805.93 624.96L1810.80 621.21L1815.73 617.53L1820.73 613.92L1825.78 610.38L1830.91 606.92L1836.09 603.52L1841.34 600.20L1846.65 596.95L1852.01 593.78L1857.44 590.68L1862.92 587.65L1868.46 584.71L1874.06 581.84L1879.71 579.05L1885.42 576.34L1891.18 573.71L1896.99 571.16L1902.85 568.68L1908.77 566.30L1914.74 563.99L1920.75 561.76L1926.81 559.62L1932.92 557.57L1939.08 555.60L1945.28 553.71L1951.52 551.91L1957.81 550.19L1964.14 548.57L1970.52 547.03L1976.93 545.58L1983.38 544.21L1989.87 542.94L1996.40 541.76L2002.96 540.66L2009.56 539.66L2016.20 538.75L2022.86 537.93L2029.56 537.20L2036.29 536.57L2043.05 536.02L2049.84 535.57L2056.66 535.22L2063.51 534.96L2070.38 534.79L2077.27 534.72L2084.19 534.75L2091.13 534.87L2098.10 535.09L2105.08 535.40L2112.08 535.81L2119.10 536.32L2126.14 536.92L2133.20 537.63L2140.27 538.43L2147.35 539.33L2154.45 540.32L2155.04 540.41M1700.72 725.00L1700.91 719.00L1701.19 713.00L1701.57 707.00L1702.04 701.01L1702.61 695.02L1703.27 689.04L1704.03 683.07L1704.88 677.10L1705.82 671.15L1706.86 665.20L1707.99 659.27L1709.22 653.35L1710.54 647.44L1711.95 641.55L1713.46 635.67L1715.06 629.81L1716.75 623.97L1718.54 618.15L1720.42 612.35L1722.39 606.58L1724.45 600.82L1726.61 595.09L1728.86 589.38L1731.19 583.70L1733.63 578.05L1736.15 572.43L1738.76 566.83L1741.46 561.27L1744.25 555.73L1747.14 550.23L1750.11 544.77L1753.17 539.33L1756.32 533.94L1759.55 528.58L1762.88 523.26L1766.29 517.97L1769.79 512.73L1773.38 507.53L1777.05 502.37L1780.81 497.26L1784.65 492.18L1788.58 487.16L1792.59 482.18L1796.69 477.24L1800.87 472.36L1805.13 467.52L1809.48 462.74L1813.91 458.00L1818.42 453.32L1823.00 448.69L1827.67 444.12L1832.42 439.60L1837.25 435.13L1842.16 430.73L1847.14 426.38L1852.20 422.09L1857.34 417.86L1862.55 413.69L1867.84 409.59L1873.21 405.54L1878.64 401.56L1884.16 397.65L1889.74 393.80L1895.40 390.01L1901.12 386.30L1906.92 382.65L1912.79 379.07L1918.72 375.56L1924.73 372.13L1930.80 368.76L1936.94 365.46L1943.14 362.24L1949.41 359.10L1955.75 356.03L1962.15 353.03L1968.61 350.11L1975.13 347.27L1981.71 344.51L1988.36 341.82L1988.92 341.60" fill="none" stroke="#808080" stroke-opacity="0.45" stroke-width="1.05" clip-path="url(#cpolar)"/>
<g stroke="#FF0000" stroke-opacity="0.3" stroke-width="2.5" fill="none">
<path d="M2040.0 566.0L1713.6 774.7M2040.0 566.0L1804.8 873.9"/>
<path d="M2040.0 566.0L1774.4 847.2M2040.0 566.0L2188.7 864.0" stroke-dasharray="9.25 4"/>
</g>
<circle cx="1701.3" cy="751" r="10" fill="#FFFF00" stroke="#000" stroke-width="0.9"/>
<circle cx="1740.4" cy="609.2" r="12.5" fill="#5a5a5a"/>
<rect x="1730.0" y="599.0" width="20" height="20" fill="#0000FF"/>
<rect x="2030.0" y="556.0" width="20" height="20" fill="#FF0000"/>
<circle cx="2095.5" cy="751.3" r="12.3" fill="#3CB371"/>
<rect x="2065.1" y="807.9" width="20" height="20" fill="#008000"/>
<circle cx="1868.3" cy="989.1" r="12.4" fill="#FFD700"/>
<polygon points="1897.50,404.40 1889.32,410.34 1892.45,419.96 1902.55,419.96 1905.68,410.34" fill="#DA70D6"/>
<polygon points="1899.00,1083.40 1890.82,1089.34 1893.95,1098.96 1904.05,1098.96 1907.18,1089.34" fill="#DA70D6"/>
<rect x="1717.3" y="792.0" width="20" height="20" fill="#000"/>
<circle cx="1727.4" cy="801.9" r="19.3" fill="none" stroke="#000" stroke-width="2"/>
<text x="1677.82" y="711.50" font-size="30.20" fill="#808080">0.1</text>
<text x="1631.72" y="645.60" font-size="30.20" fill="#808080">0.3</text>
<text x="1585.82" y="581.50" font-size="30.20" fill="#808080">0.5</text>
<text x="1539.62" y="514.60" font-size="30.20" fill="#808080">0.7</text>
<text x="1470.70" y="414.70" font-size="30.20" fill="#808080">1.0</text>
<text x="1679.16" y="768.70" font-size="25.00" fill="#000">Sun</text>
<text x="1603.78" y="824.80" font-size="27.08" fill="#000">Parker Solar Probe</text>
<text x="1678.28" y="636.60" font-size="27.08" fill="#0000FF">BepiColombo</text>
<text x="1995.97" y="636.80" font-size="27.08" fill="#FF0000">STEREO-A</text>
<text x="2113.70" y="757.40" font-size="25.00" fill="#3CB371">Earth</text>
<text x="1984.07" y="892.30" font-size="27.08" fill="#008000">Solar Orbiter</text>
<text x="1329.22" y="45.00" font-size="40.00" fill="#000">R</text>
<text x="1412.70" y="45.00" font-size="40.00" fill="#000">lon</text>
<text x="1521.10" y="45.00" font-size="40.00" fill="#000">lat</text>
<text x="1174.89" y="105.00" font-size="35.42" fill="#3CB371">Earth:</text>
<text x="1300.22" y="105.00" font-size="35.42" fill="#3CB371">0.98</text>
<text x="1418.32" y="105.00" font-size="35.42" fill="#3CB371">0.0</text>
<text x="1506.23" y="105.00" font-size="35.42" fill="#3CB371">-1.8</text>
<text x="1174.89" y="165.00" font-size="35.42" fill="#FF6347">Mars:</text>
<text x="1304.50" y="165.00" font-size="35.42" fill="#FF6347">1.60</text>
<text x="1413.30" y="165.00" font-size="35.42" fill="#FF6347">13.9</text>
<text x="1519.43" y="165.00" font-size="35.42" fill="#FF6347">-2.0</text>
<text x="1176.39" y="225.00" font-size="35.42" fill="#FF0000">STA:</text>
<text x="1301.12" y="225.00" font-size="35.42" fill="#FF0000">0.97</text>
<text x="1409.22" y="225.00" font-size="35.42" fill="#FF0000">28.6</text>
<text x="1517.43" y="225.00" font-size="35.42" fill="#FF0000">-5.1</text>
<text x="1918.99" y="105.00" font-size="35.42" fill="#000000">PSP:</text>
<text x="2049.62" y="105.00" font-size="35.42" fill="#000000">0.14</text>
<text x="2148.43" y="105.00" font-size="35.42" fill="#000000">-62.4</text>
<text x="2277.22" y="105.00" font-size="35.42" fill="#000000">2.8</text>
<text x="1918.99" y="165.00" font-size="35.42" fill="#0000FF">Bepi:</text>
<text x="2049.62" y="165.00" font-size="35.42" fill="#0000FF">0.37</text>
<text x="2158.58" y="165.00" font-size="35.42" fill="#0000FF">74.5</text>
<text x="2266.13" y="165.00" font-size="35.42" fill="#0000FF">-3.3</text>
<text x="1920.29" y="225.00" font-size="35.42" fill="#008000">SolO:</text>
<text x="2047.62" y="225.00" font-size="35.42" fill="#008000">0.95</text>
<text x="2146.43" y="225.00" font-size="35.42" fill="#008000">-10.2</text>
<text x="2276.65" y="225.00" font-size="35.42" fill="#008000">3.6</text>
<text x="1701.04" y="226.70" font-size="35.42" fill="#262626">90°</text>
<text x="2078.49" y="382.80" font-size="35.42" fill="#262626">45°</text>
<text x="2233.62" y="760.75" font-size="35.42" fill="#262626">0° HEEQ</text>
<text x="2077.43" y="1137.30" font-size="35.42" fill="#262626">- 45°</text>
<text x="1700.43" y="1293.50" font-size="35.42" fill="#262626">- 90°</text>
<text x="1322.43" y="1137.90" font-size="35.42" fill="#262626">- 135°</text>
<text x="1167.27" y="760.50" font-size="35.42" fill="#262626">+/- 180°</text>
<text x="1324.00" y="382.70" font-size="35.42" fill="#262626">135°</text>
<text x="1198.92" y="1380.70" font-size="35.42" fill="#000">2024 December 22  06:10 UT</text>
<text x="1198.82" y="1455.00" font-size="22.92" fill="#000">Data source: Parker Solar Probe (FIELDS, UCBerkeley; SWEAP, UMich)</text>
<text x="1774.34" y="1484.80" font-size="16.67" fill="#000">helioforecast.space/icmecat   Austrian Space Weather Office   GeoSphere Austria</text>
<g fill="none" stroke="#0d2f3a" stroke-width="1.5" stroke-linecap="round">
<ellipse cx="2237" cy="30.3" rx="2.6" ry="2.8"/>
<path d="M2232.3 34.7C2233.5 38 2236 39 2238.5 38.5C2242.5 37.5 2244 33 2243 29C2242 25.5 2239 23.8 2236.3 24"/>
<path d="M2234.3 46.3C2239 44 2243 40 2245 35C2247.5 29 2247.5 22.5 2241.7 19.3"/>
<path d="M2247 16.3C2252 18 2254 22 2253 27C2252 32 2247 38 2245.5 43C2244.3 48 2245.5 54 2249 58.7"/>
<path d="M2261.3 16.3C2263.5 20 2264 25 2262 29.5C2260 33 2258.5 36 2260 38.3C2262 40 2270 40 2275.7 42"/>
<path d="M2270.7 22.7C2267 25 2266 29 2267.5 32C2269 35 2272 37 2276 38"/>
<path d="M2273.3 26.3C2271.5 28 2271.5 31.5 2275.7 34"/>
<path d="M2257 59.3C2256 55 2257.5 50.5 2261 48.5C2264.5 46.5 2269 47 2272.3 48.7"/>
<path d="M2264.3 56.7C2264 54 2265.5 52 2270.3 51.3"/>
</g>
<path d="M2253 15.3C2257 18 2259 22.5 2257.5 28C2256 34 2252 38 2251.5 42C2251.5 46 2255 46.5 2259 45C2264 42.5 2269 42 2274.3 45.3" fill="none" stroke="#b9ca3a" stroke-width="1.5" stroke-linecap="round"/>
<text x="2284.22" y="33.70" font-size="19.00" fill="#0d2f3a" font-weight="bold" textLength="91.5" lengthAdjust="spacingAndGlyphs">GeoSphere</text>
<text x="2285.46" y="53.70" font-size="18.50" fill="#0d2f3a" textLength="58" lengthAdjust="spacingAndGlyphs">Austria</text>
</svg>
</body></html>
